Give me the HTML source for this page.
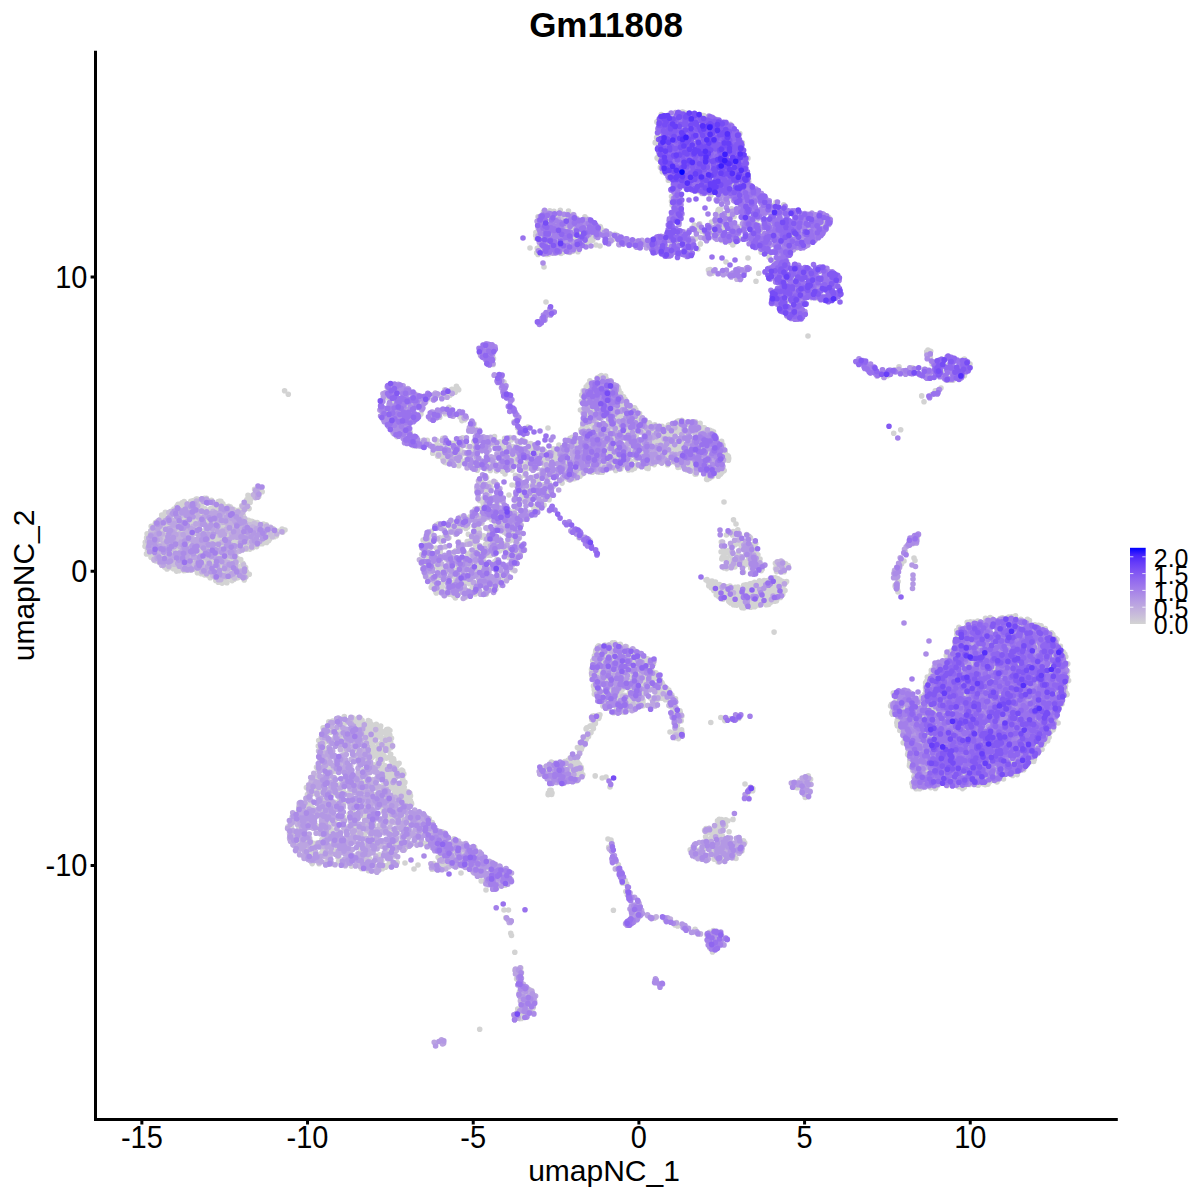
<!DOCTYPE html>
<html><head><meta charset="utf-8"><title>Gm11808</title>
<style>
html,body{margin:0;padding:0;background:#fff;width:1200px;height:1200px;overflow:hidden}
svg{position:absolute;left:0;top:0;display:block}
text{font-family:"Liberation Sans",Arial,Helvetica,sans-serif;fill:#000}
.d{fill:none;stroke-linecap:round}
</style></head><body>
<svg width="1200" height="1200" viewBox="0 0 1200 1200">
<defs><linearGradient id="cb" x1="0" y1="1" x2="0" y2="0"><stop offset="0.00" stop-color="#D3D3D3"/><stop offset="0.10" stop-color="#CAC0D9"/><stop offset="0.20" stop-color="#C1AEDE"/><stop offset="0.30" stop-color="#B69CE3"/><stop offset="0.40" stop-color="#AA89E7"/><stop offset="0.50" stop-color="#9D77EC"/><stop offset="0.60" stop-color="#8E65F0"/><stop offset="0.70" stop-color="#7C51F4"/><stop offset="0.80" stop-color="#673DF8"/><stop offset="0.90" stop-color="#4926FB"/><stop offset="1.00" stop-color="#0000FF"/></linearGradient></defs>
<path class="d" stroke="#D3D3D3" stroke-width="5.6" d="M230.5 565.8h0M615.3 676.5h0M440.3 549.8h0M764.9 584.9h0M1049.2 654.1h0M290.5 830.2h0M458.8 589h0M476.3 549.8h0M602.1 666.1h0M989.9 681.4h0M959.3 719.7h0M566 224.8h0M643.4 683h0M457.2 529.5h0M1052.3 666.9h0M976.2 699.9h0M691 141.3h0M700.6 143.5h0M934.5 743.9h0M629.6 653.3h0M531.6 990.5h0M613.6 239.3h0M680.9 423h0M941.5 739.8h0M575.2 227.6h0M161.1 532.3h0M730.5 847.5h0M1013.9 674.7h0M642 666.9h0M743.9 272.8h0M945.4 676.4h0M997.3 767.6h0M929.8 764.4h0M213.5 539.7h0M183.5 547.3h0M453.3 559.5h0M914.2 732.2h0M189.6 542.2h0M698.1 226.1h0M712 581.1h0M593.9 724.5h0M933.9 365.5h0M545.3 492.2h0M721.1 225.7h0M202.2 563.4h0M513.6 511.8h0M527.5 502.1h0M900.1 693.2h0M596.6 411.8h0M505.8 917.7h0M431.3 531.2h0M769.6 267.7h0M431.2 587.2h0M666.2 446h0M251.3 545.9h0M1031.9 728.8h0M725.2 826.2h0M591.6 433h0M646.1 661h0M995.7 776.6h0M1052.8 634.5h0M973.2 666.5h0M175 542.9h0M704.8 189h0M996.9 737.9h0M949.9 675.3h0M669.3 151h0M637.9 418.7h0M1030.7 717.8h0M501 540.6h0M774.9 601.2h0M504.6 438.2h0M680.8 458.2h0M700.8 444h0M234.3 543h0M902.3 693.8h0M946.6 664.1h0M486 572h0M730.8 602.9h0M988.7 635.1h0M396.8 863.3h0M718.6 837.5h0M1019.3 740.5h0M362.8 731.9h0M518.4 499.9h0M983.7 627.3h0M366.7 849.4h0M189.6 511.3h0M554.1 252.9h0M1062.5 696.2h0M575.4 458.6h0M624 712.2h0M600.8 228.2h0M372.9 746.4h0M609.2 676.7h0M521.7 496.7h0M365 735.7h0M644.9 442.9h0M320.2 765.6h0M671.5 201.2h0M537.8 237.3h0M584.3 433.6h0M602.5 472.3h0M214.2 563.5h0M145 546.3h0M504 382h0M715.7 587.7h0M802.4 244.6h0M707.5 467.2h0M467.3 849.3h0M464.6 594h0M238.6 510.4h0M378.9 844h0M661.4 694.6h0M239 529h0M762.9 594.5h0M1018.6 771.2h0M161.9 515.9h0M578 251.7h0M544.8 466.6h0M525.7 441.9h0M208.4 541.4h0M598.7 645.8h0M981.6 679h0M359.1 725.6h0M173.3 560.7h0M508.5 910h0M299.3 841h0M560.7 223h0M1022.4 644.1h0M773.5 221.4h0M585.3 220.7h0M981.5 625.3h0M692.5 180.9h0M758.4 562.3h0M977.7 767.9h0M941.9 736.8h0M897.1 725.1h0M403.8 783.1h0M521.8 1001.5h0M1021.9 761.3h0M1010.3 659.9h0M682.4 231.9h0M488.3 874.6h0M939.8 678.4h0M678.8 447.2h0M552.1 243h0M606.5 380.3h0M600.9 648.1h0M562.2 783.6h0M1037.2 650.1h0M539.4 460.4h0M663.3 430.8h0M926 761.3h0M593.8 434.2h0M649.3 422.9h0M163.4 541.5h0M919.3 728.9h0M748.2 187.9h0M611.7 691.9h0M677.2 116h0M659.5 679.5h0M338.1 831h0M593.2 675.5h0M682.9 112h0M408.6 399.5h0M968 711h0M612.1 695.3h0M355.1 783.3h0M629.5 408.2h0M683.6 140.3h0M246.4 544.1h0M985.2 691h0M331.5 863.9h0M960.3 737.4h0M572.6 230.9h0M245.3 507.3h0M616.1 464.5h0M713.3 434.2h0M896.8 722.8h0M1036.3 710.4h0M950.2 732.3h0M548 428h0M492 506.2h0M622.9 459.3h0M600.1 230.4h0M523.6 471.1h0M1011.8 684.2h0M314.1 857.1h0M728.7 129.5h0M548.8 254.1h0M509.9 540.8h0M717 846.8h0M958.4 681.9h0M688.1 464.8h0M928.5 732.2h0M1009 670.8h0M403.8 849.7h0M786.1 259.6h0M998.4 684.6h0M644.1 453.8h0M213.4 568.1h0M230.4 554.5h0M969.7 670.4h0M956.2 680.4h0M719.8 162.9h0M1019 760.3h0M928.5 687.4h0M517.8 521.4h0M611.5 405.5h0M604.8 672.1h0M750.5 537.9h0M1019.3 627.4h0M1008.7 748h0M379.3 795.4h0M942.5 666h0M648.2 468.4h0M953.6 743.6h0M1034.2 659.7h0M241.8 568.6h0M660.2 236.8h0M676.1 424.9h0M194.5 518h0M202.2 553.2h0M946.7 680.7h0M742 842.2h0M947.5 744.5h0M664 434.7h0M172.6 535.7h0M186.5 549.3h0M391.3 785.4h0M562.3 249.8h0M744.8 602.3h0M1038.7 629h0M678.6 456.1h0M977.8 652.8h0M1049.2 662.4h0M157.2 521.5h0M970.7 726.7h0M1004.5 762.5h0M470.7 446.5h0M582.6 443.4h0M677.6 925.9h0M712.9 435.7h0M565.9 468.7h0M334.7 823.9h0M984.5 659.2h0M949 762.6h0M572.7 760.3h0M380.4 776.1h0M589.9 389.6h0M232.5 540.1h0M396.9 436.6h0M674.9 722.2h0M576.9 228.5h0M673 711.8h0M426.2 539.7h0M1014.7 690h0M174.2 556.9h0M974.5 779.7h0M1004.8 773.3h0M578.1 453.8h0M1032.8 683.8h0M1019.2 667.5h0M701.4 461.9h0M617.3 663.9h0M244.2 579.9h0M1023.9 683.4h0M174.2 544.6h0M741.2 161.7h0M667.9 461.3h0M232.3 520.6h0M979.2 656.6h0M449.4 571.2h0M971 664.6h0M1062.5 694.7h0M436.6 415h0M951.1 769.9h0M428.3 551.5h0M705.7 466.4h0M905.7 711.9h0M211.1 510.2h0M775.9 578h0M646.4 676h0M567.6 440.2h0M398.7 788.8h0M490.7 874h0M1013.5 760.7h0M580.5 773.2h0M514 421.7h0M930.3 773.3h0M489.1 468.5h0M1042.9 720.8h0M312.3 845.9h0M728.8 601.3h0M339 718.5h0M913.8 370.1h0M490 461.2h0M949 658.2h0M666.2 444h0M504 532.3h0M1038.2 638.1h0M558.2 449.7h0M954.7 722.2h0M721.8 559h0M619.7 410.3h0M537.7 484.9h0M932.9 718.8h0M745 784h0M987.7 685.4h0M229.6 512.3h0M561.6 220.5h0M194.5 548.8h0M359.5 856.1h0M592.7 660.8h0M764 600.6h0M661.3 114.6h0M623.9 653.3h0M332.2 721.2h0M671.2 147.6h0M178 514.2h0M654.9 424.7h0M179.8 561.3h0M148.5 542.5h0M1067.8 663.8h0M665.7 252h0M991.2 743.5h0M564.8 761.6h0M624.1 404.8h0M388.8 851.7h0M610.2 651.9h0M498.1 563.6h0M725.4 270.6h0M258.4 543.5h0M963.7 764.3h0M951.3 706.3h0M146.8 537.9h0M479.2 458h0M589.9 380.8h0M203.6 516.1h0M508 548.7h0M1004.2 706.8h0M381.6 807.1h0M409.9 793.4h0M218.9 516.7h0M938.7 764h0M1047.5 649.9h0M776.5 244.6h0M599.7 648.7h0M596 245h0M379.8 844.2h0M726.8 222.8h0M549.1 499.8h0M193.7 533.1h0M997.5 710.2h0M422.2 563.8h0M988 784.1h0M607.9 423h0M769.2 257.5h0M422.5 834.6h0M928.5 352.9h0M165.7 544h0M469.2 567.1h0M209 538.2h0M998.9 755.7h0M212.7 549.5h0M946.2 721.4h0M1056.6 688.4h0M981.8 654.3h0M1032.6 717.9h0M572.5 463.8h0M914.1 740.3h0M445.1 413.7h0M714.2 234h0M323 811.6h0M598.7 715.1h0M201.1 522.9h0M620.4 441.7h0M445.3 538h0M344.9 819.6h0M594.9 674.6h0M693.5 458.6h0M691.3 252.3h0M632.2 448.8h0M630.9 461h0M460.8 548.9h0M959.7 674.7h0M1000.2 620.7h0M1013 727.1h0M568.9 463.6h0M564.6 234.2h0M626.1 421.8h0M604.3 409.7h0M606.7 406.1h0M391.8 861.8h0M291.5 827h0M1050.4 705.4h0M513.5 531.4h0M610.2 428.4h0M988.1 644.3h0M699.3 189.1h0M674.2 723.1h0M910.9 706.6h0M181 526.2h0M156.1 557.4h0M658.8 123.5h0M931.6 770.3h0M560.7 470.3h0M547.1 219.4h0M926.5 774.2h0M674.8 452.7h0M585.2 441h0M529.5 458.8h0M719.5 822.6h0M634.7 452h0M185.5 527.2h0M578.9 468.7h0M191.1 517.8h0M249.8 501.9h0M481.6 482.4h0M1020.4 735.9h0M722.3 557.6h0M704.5 127.9h0M968 762.9h0M432.2 822.5h0M714.6 589.4h0M157.2 543.3h0M985.4 716.5h0M954 726.3h0M583.4 245.1h0M1029.9 645.9h0M736.3 716h0M948.6 656.6h0M319.7 756.6h0M1059.2 669h0M474.2 849.8h0M995.8 765.1h0M691.4 139.4h0M1065.4 681.5h0M619.5 688.2h0M627.4 421.1h0M239.7 512.2h0M601.2 647.5h0M696.6 426.2h0M514.4 515.3h0M1015.7 690.4h0M1000.1 618.5h0M681.6 427.6h0M559.6 214.2h0M996.9 773h0M228.1 530.4h0M710.8 438.6h0M908.1 698.8h0M642.5 677.2h0M715.5 176.6h0M201.8 562.8h0M463 551.5h0M429.2 579.1h0M373 811.2h0M601 665.9h0M1039.4 750.4h0M509.5 548h0M593.9 234.7h0M911.2 703.9h0M727.8 553h0M1042.4 733.4h0M979.4 625.3h0M680.5 123.2h0M182.6 549h0M569.1 224.6h0M221.3 537.2h0M239.7 543.5h0M325.2 848.8h0M593.3 230.1h0M998.5 731.9h0M485.7 537.6h0M445.2 413.6h0M552.2 216.3h0M1029.4 679.9h0M1021.6 636.4h0M454.6 590.4h0M196.5 525.3h0M972.2 680.9h0M688.4 453.7h0M914.8 704.9h0M518.9 464h0M733.1 177.1h0M593.7 436h0M244.3 529.1h0M635.4 445.8h0M461.1 544.5h0M716.1 453.3h0M432 869.2h0M769.7 597.3h0M730.9 124.7h0M629.3 671.6h0M717.8 448.2h0M459.3 449h0M717 850.5h0M565.3 770.2h0M235.3 537.6h0M608.5 648h0M520.6 975.2h0M699 441.7h0M721.8 225.2h0M539.6 502.4h0M746.6 163.5h0M178.2 567.1h0M618 404.5h0M995.1 626.4h0M189.8 540.9h0M995.5 670.4h0M782.6 593.4h0M343.2 738.3h0M734.1 216.8h0M1015.7 729.8h0M984.5 672.9h0M774.9 585.3h0M501.7 461.9h0M1042 699.2h0M718.2 837.5h0M637.8 900.6h0M350.1 790.3h0M598.1 388.7h0M970.6 663.5h0M251.8 521.4h0M972 684.5h0M916 780h0M1020.9 717.7h0M396.4 809.4h0M725.7 825.7h0M935.9 776.8h0M488.9 542.7h0M1025.8 626.8h0M588.8 225.4h0M682.4 160.6h0M998.5 769.2h0M170.2 551.5h0M379.6 762.9h0M930.5 722.7h0M955.5 654.3h0M287.9 826.7h0M1007 768.7h0M220 569.5h0M1022.6 667.3h0M976.4 765h0M1017.9 671.5h0M962.8 757.1h0M173.3 527.8h0M198.1 556.8h0M1052.9 656.2h0M549 497.3h0M162.3 560.2h0M668.9 122.3h0M764.3 594.1h0M261.1 543h0M931.4 768.5h0M622 401.8h0M344 842.4h0M741.2 548.6h0M194.8 504.9h0M276.5 531.5h0M982.2 756.2h0M908.9 702.8h0M704.2 842.4h0M240.7 559.5h0M784.1 571.7h0M925 702.1h0M521.6 1014.8h0M196.5 552.6h0M712.8 445.2h0M572.9 774.1h0M775.9 202.2h0M1014.2 632.1h0M236.3 525.6h0M688.8 254.3h0M475.4 429.1h0M625.8 465.5h0M418.7 829.9h0M1024.8 708h0M797.5 270.5h0M674.9 443.2h0M466.4 591.4h0M326.6 769.9h0M1031.3 722.1h0M1023.7 769.7h0M1013.9 729.4h0M1009.2 622h0M431.4 540.9h0M168.1 526.6h0M461 873h0M786.9 316.1h0M434.1 839h0M324.4 761.2h0M201.5 552.7h0M559.9 774.4h0M251 526h0M608.3 708.1h0M434 447h0M1008.2 726.2h0M952 776.5h0M699.7 223.9h0M586 431.2h0M513 446.6h0M435.1 446h0M471 456.2h0M680.5 137.3h0M679.2 420.9h0M602.8 408.1h0M346.8 837.5h0M595.4 673.2h0M458.8 465.7h0M620.7 469h0M686.9 140h0M727.8 586.9h0M388.4 829.9h0M444.8 843.7h0M585.7 391.7h0M1006.2 724.3h0M965.4 763.9h0M590.2 423.6h0M714.6 935.1h0M366.5 762.5h0M995.8 657.6h0M1008.7 617h0M651.8 672.3h0M1046.6 698h0M670.3 429.3h0M581.7 395.1h0M1045.8 685.9h0M351.7 805.2h0M499.3 525.3h0M938 785.1h0M1007.1 713h0M386.5 733.4h0M473.8 441.6h0M475.2 513.8h0M207.4 501.9h0M1013.9 718.6h0M698 458.8h0M322.5 750.9h0M458.6 541.9h0M1026.5 687.8h0M726.7 586.8h0M592 417.3h0M182.1 502.9h0M753.8 245.6h0M986 689.2h0M368.1 779.3h0M1001 694.8h0M733 819.4h0M960.5 657.3h0M488.1 345.2h0M382.6 746.2h0M926.7 687.3h0M749.5 593h0M206.2 528.3h0M588.7 460.4h0M777.2 587.4h0M693.8 115h0M1064 674.3h0M808.3 775.8h0M1013.7 759.7h0M963 690h0M524 496.8h0M249.9 536.1h0M470.6 516.4h0M942.8 687.8h0M471.1 540h0M968.7 697.6h0M939.3 687.4h0M980.3 777h0M352.5 833.7h0M913.5 715.1h0M424.1 566.3h0M208.2 568.4h0M706 239.4h0M570.4 238.8h0M637.5 704.9h0M932.5 725.1h0M1010 700.4h0M719 588.6h0M600 227.8h0M1002.1 751.1h0M602.2 454.4h0M955.7 708.9h0M721.6 441.4h0M1019 765.5h0M747.3 543.8h0M1032.8 632.4h0M752.8 788.5h0M967.9 707.5h0M946.3 684.4h0M580.1 534.6h0M724.8 236.1h0M727.9 597.9h0M778.4 223.7h0M191.2 516h0M379.4 755.3h0M389.4 862.7h0M1063.7 677.9h0M584.7 225.4h0M1028.5 631.6h0M635.6 432.1h0M707 579.6h0M516.9 420.7h0M620.8 393.3h0M737.1 594.1h0M226.8 522.8h0M444.6 462.3h0M1024.3 679.3h0M358.1 860.6h0M941.6 359.1h0M211.3 550.5h0M1006.5 766.3h0M792.5 287.7h0M452.6 554h0M174.5 550.4h0M932.7 705.9h0M1057.3 665.9h0M965 660.4h0M922.4 700.5h0M748.5 559.4h0M1030.8 735.1h0M372.1 745.1h0M386.2 808.7h0M985.8 639h0M235.9 573.7h0M593.9 416.3h0M592.5 393.1h0M635.9 685.8h0M722.1 464.8h0M996.7 779.7h0M1043.7 729.1h0M1036.9 638.8h0M628.6 445.6h0M385.1 765.9h0M638.2 420.4h0M1014.3 705.9h0M371.1 724.1h0M332.7 721.1h0M936.3 701h0M753.5 563.5h0M910.3 373.1h0M601.5 468.2h0M589.2 456.3h0M599.7 228.9h0M204.8 568.9h0M164.2 519.9h0M595.6 463.1h0M951.5 772.6h0M1047.3 723.5h0M603.3 464.3h0M552.2 252h0M401.9 794.1h0M618 397.1h0M631.6 435.5h0M1036.7 731.2h0M366.2 859.7h0M1039.6 643.6h0M1012.1 682.6h0M618.8 436.1h0M949.8 762.7h0M793.1 241.5h0M503.4 519.6h0M162 539.2h0M997.5 684.9h0M389.8 788.8h0M506.2 879.2h0M1032.3 734.6h0M904.5 711.3h0M356.4 777.8h0M678.7 460.6h0M921.3 755.5h0M741.8 607.6h0M437.1 447.8h0M1010.1 748.8h0M974.2 632.7h0M997 778.2h0M1021 681h0M955.1 726.8h0M925.9 744.2h0M337.5 736.3h0M602.1 464.4h0M975.6 733h0M521.2 546.9h0M1048.8 725.3h0M741.9 851h0M919.6 732.6h0M552.7 233.8h0M972.1 713.4h0M765.7 591.9h0M724.6 234.8h0M605.6 376.1h0M193.4 517.3h0M990.8 731.8h0M1005.6 701.2h0M244.3 535.9h0M600.5 392h0M983 709.2h0M218.4 518.5h0M228.4 574.5h0M422.4 560.9h0M453.6 840.6h0M180 549.1h0M705.1 442.8h0M935.7 673.4h0M942.6 668.7h0M335.9 819.1h0M158.3 543.1h0M1002.9 670.4h0M924.2 776.4h0M682 117.9h0M997.6 628.3h0M646.9 430.7h0M715 164.3h0M584.1 400.7h0M711.4 475.9h0M620.5 469h0M1060.1 689.3h0M676.2 428.7h0M680.6 179.8h0M224.5 564h0M1063.3 680.8h0M982.8 670.4h0M715.7 826.7h0M1016.4 763.2h0M701.3 450.5h0M627.7 652.9h0M978.7 701.1h0M259.1 530.2h0M226.9 582.7h0M220.8 563.1h0M368.5 742.5h0M526.1 1013.6h0M953.1 743h0M1052 674.6h0M348.6 743.9h0M777.2 213.8h0M690.4 429.5h0M451.3 576.2h0M371.6 832.3h0M977.2 768.9h0M494.7 506.7h0M929.5 709.4h0M750.4 594.8h0M628.8 707.2h0M203 539.6h0M360.9 775.7h0M782.7 562.1h0M1054.6 666.1h0M689.2 169.3h0M982.2 646.7h0M762.7 601.5h0M726.7 843.3h0M662.7 168.5h0M245.6 567.6h0M750.2 600h0M979.1 735.9h0M1025.2 626.8h0M369.9 723.9h0M975.5 711.5h0M588 460.6h0M608.8 697.3h0M732.9 140.8h0M626.6 404.9h0M631.4 656h0M967.2 622.2h0M597.2 453.9h0M619 458.9h0M900.8 729.7h0M953.1 380.1h0M929.3 731.1h0M388.7 782.1h0M427.8 578.6h0M655.9 438.3h0M948.3 779.4h0M466.5 459.2h0M719.9 467.3h0M573.7 218.8h0M342.9 748.3h0M489.9 545.5h0M724.7 720.6h0M612.3 432.3h0M992.5 715h0M201.9 534.4h0M927.8 775.9h0M194.9 509.9h0M749.1 587.6h0M986.4 781.6h0M371.2 738.6h0M987.2 692.3h0M676.2 452.5h0M573.9 461.4h0M735 598.2h0M1029.4 757.3h0M247 530.1h0M617.7 668.6h0M748.2 175.2h0M641.9 428.8h0M668.3 129.3h0M586.2 739.6h0M720.3 447.5h0M750.2 552.1h0M402.5 780.8h0M984 731.1h0M457.8 388.5h0M600.7 458.3h0M757.8 586.6h0M710.5 830.8h0M898.6 724.7h0M401.7 770.1h0M1022.8 663.3h0M223.6 551.4h0M936.6 390.9h0M596.7 423.8h0M1041.8 631.6h0M1007.6 658.5h0M699.2 438.7h0M705.1 848.1h0M447 565.8h0M788.6 243.7h0M563.2 470.5h0M1014.4 651.3h0M704.4 116.6h0M969.6 674.7h0M1043.6 705.8h0M1027.5 708.4h0M899.8 730.5h0M176.7 539.4h0M442.3 855.5h0M629.7 449.2h0M678.4 738.6h0M597.5 378h0M698.5 435.5h0M661.3 682.7h0M377.2 773.2h0M769.9 586.9h0M477.3 464.6h0M1011.9 675.1h0M642.6 423.2h0M581.8 462.2h0M248.6 538.7h0M744.6 565.1h0M389.2 797.4h0M576.9 776.6h0M1038.3 692.1h0M735.2 587.2h0M922.8 732.6h0M607.4 404.3h0M1022.8 671.6h0M723.4 459.6h0M460.6 459.4h0M619 397.3h0M464.1 453.4h0M704.7 451.7h0M752.7 790.8h0M571.7 464.8h0M571.1 477.1h0M724.6 139.6h0M1034.9 624.9h0M313.8 809.5h0M582.9 746.1h0M354.8 723.7h0M402.3 843.1h0M689 447.5h0M668.1 447.6h0M434.6 566.2h0M455.9 388.7h0M990.7 721h0M1024.5 723h0M866.5 367.4h0M524.8 475.5h0M438.1 833.2h0M916.1 788.8h0M403.7 402.6h0M954.4 763.5h0M700.1 192h0M454.7 562.7h0M400 791.2h0M557 216.5h0M494.4 540h0M916.8 769.6h0M963.3 647.8h0M699.1 858h0M213.8 549.3h0M646.7 435.7h0M445.3 454.4h0M532.6 497.7h0M600.5 426.8h0M634.2 700.5h0M362.1 797.4h0M929.4 764.5h0M206.2 512.3h0M610.2 446.4h0M771.3 205.3h0M581.8 466.9h0M706.3 429.7h0M507.3 543.5h0M719.9 591.9h0M179.2 542.1h0M626.5 447.5h0M475.6 582.9h0M609.2 703.9h0M959.2 729.3h0M950.6 780.6h0M805.8 785.6h0M458.5 566.1h0M394 405.3h0M640.5 680.3h0M971.5 768.6h0M690.2 849.9h0M215.8 580.4h0M404.9 782.4h0M1002.4 617.7h0M619.8 663h0M699.4 185.3h0M695 427.9h0M572.9 476.2h0M624.6 703.8h0M511.7 516.6h0M999.6 665.9h0M533.3 1007.6h0M504.1 544.4h0M251.5 528.9h0M1001.8 627.3h0M403.4 790.7h0M292.6 816.8h0M383.1 747.4h0M712.5 951.9h0M343.7 803.6h0M751 606.2h0M904 561h0M475 510.8h0M488.3 505.1h0M173.6 554.6h0M1010 645.4h0M1000.8 689.9h0M628.6 470h0M904.2 697.6h0M780.7 227.9h0M724.8 591.9h0M219.1 580h0M1020.8 619.3h0M220.9 501.2h0M436.4 525h0M976.4 642.3h0M329.1 857.9h0M520.9 449.9h0M662.4 452.5h0M700.9 426.9h0M375.6 733.6h0M789.3 248h0M964 730.4h0M1023.4 670.4h0M633.6 673.8h0M232.7 541.5h0M951.8 774.2h0M490.2 484.4h0M250.9 547.8h0M629.7 655.3h0M202.8 508.5h0M227.6 508.8h0M646.6 428.8h0M374.1 741.7h0M758.9 589.6h0M609.2 417.4h0M898.6 701.8h0M961.8 764h0M388.1 832.8h0M742.4 164.9h0M757.2 240.4h0M991.4 693.8h0M598.3 387.5h0M211.5 500.2h0M725.6 200.4h0M688.1 185.7h0M600.1 649.4h0M480.1 564h0M1042.3 726.7h0M180.1 543.3h0M174.3 552.5h0M980 687.2h0M354.9 820.9h0M746 584.9h0M733.5 519.8h0M205.1 549.2h0M593.8 715.8h0M549.3 464.4h0M507.4 533.2h0M678.5 134.1h0M426.6 555.8h0M582.6 473.7h0M662.3 171.7h0M648.8 669.9h0M713 141.9h0M434.3 448.4h0M596.9 413.8h0M225.4 566.7h0M464.7 858.3h0M200 565h0M607.7 660.3h0M315.6 858.7h0M1038.6 655.3h0M759.6 600.1h0M659.5 136.5h0M696.1 472.3h0M245.1 504.1h0M191.4 543.6h0M1001.6 621.5h0M776 228.3h0M615.7 679.7h0M1011.9 637.3h0M702.5 455.5h0M689.8 448.6h0M910 692.5h0M737.1 151.1h0M597.6 716.5h0M557.4 230.2h0M893.3 693.1h0M973.2 760.4h0M736.2 152.7h0M945.4 690.4h0M1052 693.4h0M158.2 531.9h0M734.1 603.8h0M580.2 747.3h0M781.9 301.6h0M945.5 661.5h0M707.9 859.3h0M1018.1 654.2h0M573.4 449.6h0M975.9 739.2h0M947.2 699.1h0M336.5 721.9h0M937.1 739.5h0M514.5 1016.7h0M644.6 421h0M637.2 671.4h0M176.8 527.9h0M537.3 238h0M734.9 178.7h0M717.5 187h0M962.5 788.6h0M666.7 435.4h0M494.9 497.9h0M1005.1 662.1h0M656.3 447.9h0M524 1009.8h0M596 448.4h0M717.4 136h0M1009.7 643.9h0M351.2 735h0M506.2 533.6h0M325.7 809.3h0M971.8 645.5h0M1059 653.3h0M1037.2 667.8h0M267.2 531.4h0M986.3 646.6h0M781.1 585.7h0M227.8 565.2h0M387.8 740h0M937.2 746.1h0M968.9 770.6h0M745 209.5h0M334.6 802.3h0M459.8 530h0M1039.8 731h0M601.5 394.4h0M935.6 737.2h0M999 707.4h0M237 523.6h0M705.3 844.3h0M606.6 413.2h0M389.2 815.9h0M670.3 123.1h0M514.3 540.2h0M775.9 591.2h0M749.2 192.3h0M651.2 243.6h0M227.7 537.1h0M343 852.4h0M616.4 435.1h0M1018 746.9h0M664.9 443.6h0M481.7 514.3h0M628.4 433.1h0M375.4 818.1h0M541.6 240.9h0M718.3 220.2h0M474.6 847.3h0M1034.5 664.2h0M1029.3 692.1h0M918.5 762.9h0M1033.6 748h0M935.9 719.9h0M571.6 454.5h0M723 585.7h0M643.7 422.3h0M915.6 732.2h0M966.1 683.9h0M582.6 235.4h0M745.5 603.9h0M1031.7 708.5h0M636.3 435.8h0M211.1 546.8h0M1059.2 692.9h0M610.4 693.3h0M1067.4 676.6h0M510.6 920.8h0M383.2 811h0M152.2 532.9h0M650.5 425.1h0M681.7 424.3h0M402.1 811.6h0M696.5 145.1h0M600 691.3h0M517.2 524.8h0M1002.5 735.3h0M1000.5 757.5h0M796.7 783.5h0M634 692.5h0M309.7 838.2h0M653.4 672.3h0M164 553.1h0M504.2 522.3h0M957 646.1h0M657.6 699.3h0M600.6 398h0M388.5 731.6h0M1025.7 646.1h0M682.3 232.3h0M727.2 153.4h0M212.5 558.4h0M585.9 416.5h0M986.6 687.1h0M640.2 665.6h0M710.7 946.4h0M940.9 713h0M216.9 541.2h0M744.5 599.7h0M977.1 650.6h0M958 686.2h0M1059.6 695.2h0M926.6 707.2h0M230 532.4h0M708.8 189.7h0M714.4 191.7h0M341.1 770.6h0M349 844.4h0M516.5 485.8h0M742.4 542.3h0M923.3 730.8h0M586.7 445.9h0M595.6 437.7h0M225.7 573.1h0M664 451.4h0M661.7 690.5h0M556.8 471.1h0M697.4 456h0M656.5 450.9h0M619.3 436.7h0M1035.7 650h0M673.2 241.6h0M644.7 420.4h0M966.2 689.3h0M960.3 370.8h0M618.1 387.4h0M1007.9 745.1h0M384.6 820.4h0M333.4 803.3h0M506.1 873.6h0M506.3 875.3h0M362.1 720.3h0M635.7 459.2h0M635.5 441.4h0M524.4 496.9h0M237.6 517.8h0M728.4 456.5h0M289.5 833.3h0M264.4 524.6h0M938.9 783.8h0M561.9 450.6h0M436.2 548h0M262.2 543.7h0M685.9 424.8h0M590.5 464.9h0M968.4 688h0M987.9 753.5h0M173.9 539.2h0M635.9 684.1h0M572.7 248.8h0M331.2 815.1h0M599.9 457.2h0M752.6 544.5h0M261.4 490.2h0M617.6 701.2h0M1010.1 669.5h0M714.1 850.4h0M826.7 298h0M970.5 662.5h0M926 775.2h0M545 248.2h0M780 593.8h0M1021.2 676.7h0M202.5 554.9h0M1029.8 643h0M1056.1 707.1h0M386.2 809.3h0M992.9 751.2h0M703.2 468.2h0M214.7 547.7h0M335.6 780.3h0M957.3 745.8h0M605.8 681.2h0M678.1 466.2h0M1000.3 637.4h0M989.3 782.1h0M947.4 765.9h0M444.7 557.6h0M940.8 704.3h0M368.3 870.6h0M962.2 677.7h0M225.2 529.4h0M695.1 474.1h0M453.3 526.6h0M1031.5 636.6h0M693.8 427.9h0M670.9 175.5h0M639.1 672.8h0M683.4 421.9h0M675.1 924.9h0M994.7 711.9h0M627.7 452.4h0M424 843.4h0M945 690.9h0M324.8 761.2h0M388.3 412.6h0M449.9 591.7h0M603.3 424.9h0M942.2 363.2h0M995.4 741.8h0M205.5 499.1h0M233.4 509.4h0M581.4 741.9h0M915.7 721h0M407.5 799h0M914.7 768.8h0M987 694.2h0M572.9 768.3h0M929 686h0M634.8 919.4h0M1055.1 703.6h0M970.7 774.9h0M799.7 780.6h0M341.5 779.2h0M676.4 172h0M174.9 543.5h0M318.6 827.6h0M942.5 687.4h0M322.8 789.3h0M315.2 859.5h0M975.9 650h0M694 188.2h0M965.6 768h0M579.4 751.5h0M567.6 468.1h0M641.3 658.3h0M644.6 692.8h0M208.1 511.1h0M626 680.3h0M655.1 677.2h0M1052.4 705.5h0M563.1 247.9h0M726.1 167.1h0M197.4 542.4h0M918.8 783.7h0M610.3 664.9h0M772.7 293.8h0M555.7 226.5h0M618.9 449.3h0M209 563.3h0M199.4 546.3h0M616.9 468.3h0M753.6 550.6h0M671.1 162h0M794.2 276.7h0M951.4 740.4h0M750.7 607.3h0M680.6 124.1h0M235.8 559.9h0M1036.1 656.7h0M189.4 521.5h0M318.3 746h0M216.9 579.4h0M993.8 732.2h0M998.4 729.9h0M532.6 479.5h0M543.7 460.7h0M697.5 155.6h0M935 773.9h0M479.5 561.8h0M775.3 577.9h0M1037.5 713.3h0M233.2 579h0M188 542.5h0M926.7 351.7h0M960.2 676.9h0M821.5 234.8h0M786 248h0M1019.4 640.6h0M729.9 602.2h0M182.1 513.7h0M597.1 392.1h0M978.2 640.5h0M980.5 738.5h0M729.3 188.7h0M700.2 179.6h0M487.9 438.7h0M366.7 728.1h0M922.5 744.9h0M301.5 844.1h0M616.4 393.7h0M685.5 445.8h0M748 258h0M391.7 796.8h0M249.3 525h0M604.1 693.1h0M739.8 133.6h0M1017.6 632.4h0M601.5 667.3h0M996.1 634.2h0M679.8 466.9h0M209.8 571h0M746.7 221.4h0M693.9 466.8h0M457.1 529.9h0M649.5 461.7h0M624.3 704.5h0M975.8 722.3h0M222.4 566.1h0M584.9 463.2h0M321.1 791.7h0M976.3 771.6h0M697.8 429.7h0M1040 681.1h0M395.3 778.6h0M952.2 701.3h0M1010.8 625.2h0M925.6 682.7h0M244.3 534h0M932.1 782.7h0M900.7 702.9h0M206.4 531.5h0M612.7 397.2h0M306.9 806.2h0M1042.1 712.2h0M923.9 754h0M652.1 681.8h0M570.8 231.8h0M438.1 561.6h0M623.4 435.2h0M337.1 718.8h0M605.3 674.5h0M163.7 560.9h0M455.9 550.6h0M993.6 738.2h0M684.7 112.7h0M369 758h0M310.4 857.4h0M980.9 626.4h0M747.4 794.4h0M399.2 823h0M456.1 854.9h0M742.4 596.5h0M223.1 525.9h0M800.7 783.1h0M607.6 699.8h0M226.8 516.9h0M722.7 551.5h0M658 684.8h0M694.7 444.7h0M1008 662.7h0M925.8 774.8h0M450.2 443.1h0M908.5 741.3h0M948.7 775.1h0M956.2 677.3h0M671.5 447.9h0M594.6 419.6h0M337.3 848h0M453.7 595.8h0M593.1 231.3h0M399 842.1h0M982.6 685.2h0M937.9 725.7h0M753.6 606.7h0M926.3 715.1h0M1041.8 634.1h0M597.8 401h0M389.1 777.6h0M360.3 847.8h0M242.3 508.8h0M604.2 648.5h0M565.7 217.8h0M594 468h0M387.6 783.5h0M163.1 540h0M740.4 542.2h0M190.2 556.2h0M164.6 523.3h0M601.5 413.3h0M919.3 740.3h0M604.5 702.4h0M738 554.4h0M625.7 701.6h0M479.2 529.3h0M921.9 718.3h0M608.4 647.2h0M507.4 874.1h0M934.5 708.4h0M502.1 885.6h0M898 592h0M723.9 555.5h0M607.3 394.4h0M181.1 519.7h0M948.2 704.7h0M166.9 513h0M690.1 177h0M469.5 865.9h0M503.5 520.7h0M381.2 737.4h0M585.3 416h0M315.3 828.1h0M394.8 803h0M409.2 827.7h0M917.3 760.7h0M698 432h0M1030 688.3h0M707.3 855.5h0M592.4 462.3h0M747.8 594.3h0M617.1 672.7h0M573.4 442h0M986.8 678.3h0M454.1 838.8h0M1026.9 701h0M983.3 746.6h0M1003.7 757.1h0M406.3 795.3h0M547.5 485.5h0M1038.4 689.8h0M167.9 535.3h0M633.5 444.1h0M475.6 542h0M591.2 235.9h0M175.4 532.6h0M720.6 474.1h0M577.8 756.6h0M251 529.6h0M501.7 581.4h0M1002.1 633.8h0M440 537.9h0M706.9 151.5h0M223 569.8h0M215.2 564.3h0M393.2 845.6h0M653.6 452.4h0M681.2 439.4h0M652.6 244.3h0M619.1 464.6h0M504.2 875.9h0M777.6 567.5h0M430.5 821.9h0M662.8 437.7h0M669.4 434.5h0M984.3 653.1h0M997.9 704.7h0M678 467.5h0M996.9 770.1h0M383.5 789.1h0M947.1 764.1h0M155.8 527.2h0M658.5 443.6h0M601.2 455.3h0M1030.2 706.8h0M362.1 725h0M634.1 455.3h0M1004.1 715.1h0M519.8 520.2h0M720.8 717.5h0M1033.7 643.6h0M682.6 455h0M378.9 792.1h0M707.3 178.4h0M454.9 866h0M388 813.9h0M716.2 446.8h0M352.3 717.5h0M684.1 438.7h0M362.8 729.6h0M911.4 762.6h0M745.1 590.7h0M211.7 556.5h0M601.7 412.8h0M1055.7 638.3h0M482.7 509.8h0M258.2 534.6h0M737.6 590.6h0M937.7 777.2h0M931.9 394.6h0M607.5 687.2h0M590.8 444h0M595.5 409.2h0M1023.7 673.7h0M312.9 792.7h0M256.9 497.3h0M558.6 250h0M924 765h0M225.3 532.5h0M588 461.6h0M209 537.3h0M1011.4 646.4h0M472.3 858.2h0M738.6 846.2h0M634.7 662.3h0M472.2 468h0M695.8 126h0M467.1 561.2h0M166.8 563.8h0M586.2 399h0M723.9 455.8h0M949.9 686.6h0M731.7 851.8h0M667 130.9h0M600.7 647.4h0M220.6 563.6h0M381.7 742.2h0M506.9 575.7h0M171.1 536.7h0M450.6 529.6h0M255.7 545.4h0M619 390.4h0M532.6 448.6h0M517.1 448h0M474.6 873h0M238.5 510.6h0M469.4 583.8h0M613.1 420.1h0M985.8 624.9h0M194.2 547.8h0M434.8 526.9h0M566.2 221.4h0M1003.4 722.5h0M988.1 736.8h0M213.4 519.9h0M1025.9 680.4h0M646.7 442.5h0M220 532.8h0M576.7 465.2h0M1015.2 641.3h0M984.5 690.6h0M597.9 427.5h0M645.7 455.6h0M594.2 400.2h0M458.8 577.6h0M948.5 684.5h0M224.6 563.1h0M1004.6 719.1h0M548.4 793h0M502.8 443.5h0M682.4 184.6h0M1028.5 672.3h0M982.1 749.8h0M159.5 548.4h0M695.1 451.3h0M1013.1 769.1h0M568.5 452.6h0M542 235.7h0M624.5 675h0M628.7 688.3h0M595.4 682.8h0M664 687.1h0M644.4 690.5h0M671.8 428h0M699.4 450.7h0M925.6 686.1h0M726.8 562h0M649.7 435.1h0M574.6 762.8h0M372.1 757.6h0M274.8 530.3h0M170.9 552.6h0M160.8 533.2h0M617.1 652.6h0M976 720.4h0M649.9 453.9h0M603.8 674.5h0M943.7 723.2h0M743.5 572.2h0M751.3 605.2h0M725.1 128.9h0M189.6 563.7h0M460.9 574.5h0M1010.9 668.1h0M616.6 439.8h0M997 782h0M799.9 294.9h0M772.8 239.2h0M689.1 430h0M423.2 440.3h0M995.1 744.9h0M913.8 714.7h0M698.3 933.9h0M219.4 524.3h0M219.2 516.7h0M662.9 244.1h0M380.6 802.3h0M554 469.3h0M696.9 445.8h0M761.3 213.7h0M353 841.9h0M624.2 687.2h0M483.5 517.1h0M428.1 550.5h0M249.2 530.8h0M233.5 522.7h0M680.5 446.8h0M987.9 698.2h0M360.9 840.2h0M927.1 702.3h0M698.4 150.9h0M671.9 134.8h0M808.2 794.4h0M714.6 189h0M171.5 560.2h0M523.2 470.8h0M475.6 461.5h0M218.9 568h0M630.8 444.6h0M934.6 756.5h0M633.9 650.1h0M720.9 165.1h0M254.6 522.6h0M158.1 528.4h0M515.7 534.7h0M711.9 431h0M947.7 723.8h0M912.6 367.8h0M462.6 437.8h0M589.4 462.3h0M1023.7 719.8h0M534.1 477h0M675.3 451.8h0M334.6 777.9h0M1025 656.3h0M698.6 131.2h0M384.8 794h0M957.1 714.6h0M607.4 430.9h0M786.9 261.3h0M556.8 245.6h0M558.5 776.2h0M946.4 666.9h0M955 744.8h0M342.2 843.4h0M1003.4 622.3h0M391.9 769.4h0M664.7 146.1h0M573.4 229.9h0M203.1 498.7h0M964.9 696h0M210 513.7h0M670.1 251.7h0M501.9 450.8h0M990.5 660.3h0M446.6 864.8h0M453.5 582.3h0M626.7 414.5h0M534.8 457.8h0M593.3 461.2h0M594.7 407.7h0M432.1 585.4h0M389.8 735.1h0M348.9 829h0M732.9 138h0M728 562h0M973.6 748.5h0M1047.3 640.2h0M630 468.6h0M197.9 527.3h0M974.2 708.8h0M630.5 678.7h0M506.6 458.1h0M486.9 443.8h0M738 587h0M1009.6 691.4h0M490.3 470.4h0M223.4 523.9h0M530.6 492.7h0M213.7 555.2h0M755 556h0M208.9 552.4h0M984.3 741h0M426.7 843.6h0M665.3 920h0M712.7 469.4h0M1031.6 662.2h0M917.7 730.4h0M681.8 157.3h0M662.6 442.1h0M567.6 471h0M901.4 706.4h0M735.4 162.4h0M1052.6 717.7h0M741.6 593h0M740.8 558.1h0M1059.7 666.8h0M562.8 252.2h0M378.3 745.9h0M517.7 1009h0M213.1 576.4h0M215.9 542.4h0M201.3 573.8h0M946.4 699.3h0M688.9 430.5h0M1026.8 729.6h0M467 577.5h0M232.7 517.8h0M684.3 239.2h0M294.5 837.5h0M697.4 432.5h0M686.8 182.8h0M275.5 532.4h0M173.9 560.3h0M439.6 862.8h0M474.2 862.5h0M588 417.2h0M630.2 919.5h0M155.6 522.6h0M928.2 730.6h0M614.9 453.3h0M672.8 244.7h0M897.2 701.5h0M888.3 375.1h0M360.1 724.9h0M581.5 769.1h0M171 511.5h0M700.1 114.5h0M158.3 547.2h0M928 350h0M207.1 501.9h0M192.5 529.3h0M351.4 838.1h0M949.3 380.3h0M605 650.6h0M797.2 787.7h0M675.7 463h0M594.8 434.3h0M549.5 452.2h0M500.7 581.7h0M172.4 538.4h0M209.1 517.4h0M740.2 200.7h0M1041.4 741.7h0M219.4 576.5h0M367.4 728.5h0M961.5 715h0M607.5 705.7h0M620.4 694.3h0M1010.7 774.5h0M909.6 702.6h0M982.5 735.2h0M948.9 724.7h0M978 648.5h0M186.2 545.6h0M602.1 677.3h0M619.7 689.7h0M386.4 397.6h0M774.7 593.5h0M311 805h0M752 242.5h0M598.8 394.4h0M756.8 220.1h0M741.7 204.2h0M163.5 517.2h0M1027.9 666.2h0M398.8 798.1h0M645.7 425.4h0M182.8 565.4h0M960.2 785.8h0M376.1 753.2h0M159.7 525.3h0M774.9 597.5h0M552 769.1h0M895.1 576.8h0M1018.6 641.2h0M979.1 735.4h0M179.6 537.6h0M769.8 597.7h0M974.3 749.6h0M331.3 823.7h0M562.2 245.1h0M557.8 241.7h0M359.2 738.2h0M1003.9 641.6h0M217.9 570.8h0M424.7 545.8h0M246 526.3h0M1063.4 680.7h0M429.4 842.1h0M758.7 273.3h0M720.6 209.4h0M910.3 705.1h0M302 839.3h0M681.8 732.1h0M534.9 996h0M994.9 653.8h0M556.2 239h0M707.3 479.4h0M242.6 513.8h0M1054.3 664.9h0M733.4 188.9h0M177.6 525.7h0M1032.7 641.7h0M970.3 632.6h0M1006 677.6h0M394.4 837.4h0M732.6 150.9h0M664.8 449.6h0M584.9 216.9h0M948.7 668.5h0M688.2 449.2h0M157.2 528.4h0M658.4 456.8h0M1060.5 661.4h0M924.1 369.3h0M582.6 465.4h0M1016.8 755h0M706.2 149.6h0M750.4 586.3h0M601.5 648h0M692.1 121.6h0M709.2 476.9h0M591.9 386.1h0M384.2 751.1h0M599.9 714.7h0M611.8 417.9h0M1068.6 680.6h0M927.5 734.5h0M388.8 734.9h0M709.5 932.2h0M608.3 653h0M951.8 733.7h0M636.5 440.7h0M253.6 533.9h0M1061 666.7h0M929 761.7h0M394.3 792.5h0M915.7 751h0M951.5 369.2h0M520.8 552.7h0M697.6 459.5h0M590 464.5h0M934.4 669.4h0M557.1 233.9h0M568.9 463.3h0M599.8 376.6h0M1000.2 732.1h0M390.6 802.8h0M572.4 778.1h0M485.9 513.2h0M162.6 543h0M619.8 459.1h0M676.3 430.3h0M1017.1 642.6h0M667.6 249.4h0M1006.1 680.3h0M990.1 627.7h0M337.8 764.7h0M925.4 766.4h0M579.2 451.9h0M457 527.2h0M457.7 862.2h0M1046.5 668.9h0M160.3 534h0M319.8 777.1h0M189.8 504.2h0M472.4 449.7h0M633.2 677.6h0M487 585.8h0M605.3 463.8h0M185.8 522.7h0M412.1 405.8h0M1048.3 665.8h0M216.9 514.9h0M989.7 773.6h0M729.4 598.1h0M694.3 225.1h0M329.7 768.4h0M426.6 833.2h0M934.6 776.9h0M204.4 531.5h0M1035.6 729.9h0M616.6 389.1h0M920.4 720.8h0M449.2 525.8h0M485.1 509.5h0M1027 716h0M984.1 695.1h0M762.6 594.1h0M220.9 569.4h0M956 750.9h0M948.1 679.9h0M650.3 687.7h0M623.4 675.9h0M976.4 754h0M602.2 778h0M602.6 456.6h0M919.7 763.2h0M675.8 138.1h0M326.7 736.6h0M769.3 597h0M940.7 770.4h0M603 702.6h0M370.2 789.4h0M270.1 535.9h0M176.5 532.6h0M151.1 533h0M485.8 515h0M920.2 703.9h0M707.9 432.9h0M973.7 693.4h0M636.6 445h0M689.6 438.9h0M620.8 416.1h0M595 404.8h0M699.8 853.1h0M651.9 665.7h0M184.8 518.1h0M234.1 566h0M636.1 705.6h0M897.7 700.4h0M666.9 140.6h0M365 856.4h0M618.3 402.5h0M228.4 525.7h0M620.8 429.9h0M190 534.1h0M601.2 386.3h0M1047 701.2h0M239.5 538.6h0M565.6 220.7h0M469.2 455.8h0M611 840h0M671.4 454.5h0M1026.5 756h0M595.1 454.7h0M654 702.4h0M197.4 572.8h0M536.4 238.5h0M1002.7 694.5h0M490.6 555.3h0M627.4 656.9h0M430.7 842.3h0M921 728.5h0M362.2 722.4h0M992.7 676.2h0M1038.8 684.5h0M365.3 774.4h0M921.8 757.8h0M796.3 270.1h0M911.9 783.4h0M974.8 648.8h0M631 407h0M245.3 535h0M1002.6 619.9h0M710.3 433.6h0M1015.6 615.8h0M896.6 704h0M973.5 695.2h0M475.9 853.2h0M498.4 529.5h0M510.1 460.3h0M585 439.2h0M491 468h0M740.6 169.5h0M420.9 413.9h0M999.1 626.4h0M644.3 437.8h0M602.1 454.3h0M450.8 592.6h0M452.2 565h0M625.1 399.2h0M961.7 758.3h0M622.5 420.3h0M635.4 666.4h0M624.5 695.4h0M598.5 451.6h0M613.6 397.4h0M780.4 597.4h0M999.1 696.8h0M220.1 560.5h0M491.8 553.7h0M777.3 588.5h0M688.8 119.6h0M425.6 576.8h0M702.2 124.5h0M346.1 857.3h0M186.8 566.3h0M756.9 584.5h0M179.9 546.8h0M697.7 177.9h0M682.6 160.4h0M990.8 780.4h0M619.3 685.8h0M958.2 677.9h0M460.3 517.2h0M991.7 640.9h0M678.6 730.5h0M506.7 575.3h0M444 592.2h0M1062.1 665.6h0M358.4 757.1h0M229.2 521h0M448.9 442.4h0M473 857.9h0M626.1 650.7h0M328.7 831.5h0M577.8 448.4h0M1015.6 627.2h0M623.9 681.2h0M719.1 473.9h0M929.7 679.2h0M551.5 455.2h0M243.5 519h0M629.2 437.7h0M598.2 692h0M932.1 735.9h0M712.9 162.2h0M946.6 662.9h0M177.4 536h0M189.1 533.9h0M155.2 523.9h0M917.2 758.4h0M930.2 737.2h0M479.5 515.5h0M653.2 673.2h0M368.5 742.8h0M657.7 130.1h0M1035.8 665.5h0M367.1 814.4h0M611.9 404.5h0M640.2 664.5h0M962.6 690.4h0M831.7 282.7h0M674.1 128.4h0M719.9 832h0M579 455.2h0M643.6 659.8h0M164.1 527.6h0M434.3 555.1h0M521.9 999.9h0M594.3 694.1h0M968.5 669.7h0M242.1 510.1h0M389.6 774.4h0M761.3 570.6h0M298.9 827.2h0M1009.7 724.4h0M710.3 469.7h0M662.8 453.7h0M326 857.1h0M971.9 764.9h0M761.1 603.2h0M779.5 289.4h0M434.3 865.6h0M446.5 559.4h0M670.1 145.4h0M385.6 413.9h0M734.5 853.4h0M946.5 709.5h0M430.3 398.7h0M498.8 538.1h0M610.3 432.3h0M629.6 438.1h0M572.9 214.5h0M162 555.2h0M1018.9 699.4h0M459.1 859.9h0M928.9 705h0M597.7 437.3h0M198.2 539.8h0M775.6 260.9h0M575.3 780.9h0M993.6 688.2h0M991.6 708.2h0M781.9 592h0M696.7 174h0M771 580.6h0M696.2 446.5h0M756.7 599.2h0M1015.4 703h0M984.2 717.4h0M353.4 761.1h0M475.3 455.8h0M431.4 553.5h0M817.4 284.5h0M624.8 677.6h0M230.3 565.5h0M577 770.9h0M291.3 832.7h0M530 248h0M483.5 439.9h0M322.6 765.7h0M360.7 775.9h0M731.1 591.5h0M1044.9 727.4h0M965.3 739.8h0M915.9 719.6h0M187.9 544.4h0M1023.5 762.3h0M461.9 420.6h0M969.6 679.4h0M766.4 588.7h0M754.6 582.4h0M703.5 448.6h0M183.7 570.6h0M935.7 776.9h0M621.5 648h0M569.2 475.2h0M626.2 646.6h0M970.9 651.5h0M255 524.5h0M250.6 530.6h0M716.9 188.9h0M764.9 599.7h0M1055.8 688.2h0M585.6 221.5h0M785.4 227.7h0M624.2 429.1h0M994.9 726.9h0M515.2 530h0M642.4 655.6h0M710 430.2h0M729.9 126.4h0M220.9 517h0M675.8 447.9h0M950.2 694.4h0M940.9 782.6h0M995.8 739.5h0M756.7 588.2h0M823.9 222.9h0M982.3 635h0M771.9 585.5h0M896.2 700.5h0M925.6 727.8h0M488.8 466h0M512.7 569.7h0M164.7 539h0M661.3 136.2h0M911.5 706.1h0M224.4 548.4h0M458.1 550.9h0M332.7 787.2h0M944.1 781.7h0M341.9 728h0M573.6 248.4h0M479.7 545.8h0M594.1 391.1h0M537.3 248.3h0M617.8 645.4h0M558.4 247.8h0M589.7 413.1h0M427.2 565.6h0M733 182.5h0M579.6 445.9h0M572.5 452h0M945.5 759.4h0M946.2 690.9h0M367.8 722.6h0M638.4 917.2h0M1012.4 722.9h0M153.4 531.9h0M439.9 590.1h0M956.6 774.3h0M615.9 449h0M1004 763.1h0M504 508.2h0M909.4 703.1h0M407.7 791.5h0M447.9 458.3h0M436.3 592.9h0M759.6 605.1h0M919.4 765.5h0M601.2 692.1h0M911.2 767.2h0M397.8 828.3h0M591 441.6h0M684.2 460.4h0M178.6 513.8h0M666.6 688.4h0M237.1 526.2h0M646.1 451.3h0M914.8 706.9h0M778.5 236.8h0M935.9 670.2h0M191.6 554.8h0M1027.5 712.6h0M344.8 846.9h0M619.7 458.5h0M930.4 357.4h0M643.5 454.3h0M591.1 402.1h0M187.5 553.3h0M489.8 483.1h0M1030.2 758.2h0M776.6 596.8h0M534.2 461.5h0M612.8 454h0M1013 755.3h0M170.3 535.5h0M382.8 732.3h0M483.3 594.3h0M971.7 653.8h0M629.4 432.7h0M954.2 686.6h0M697.9 172.8h0M640.6 673.5h0M928.3 770.7h0M722.1 820.1h0M647.1 669.5h0M1005.7 693.8h0M349.6 855.5h0M546.2 239h0M634.3 690.4h0M150.1 549.6h0M1045.7 701h0M459.3 589.6h0M392.2 392.2h0M1007.3 755.6h0M922.6 757.7h0M473.8 525.9h0M573.7 767.3h0M722.9 445h0M771.8 598.5h0M719 235.3h0M339.3 798h0M377 748.1h0M628.5 446.8h0M695.9 127.7h0M801.5 298.9h0M403.6 806.4h0M546.9 771.5h0M987 763.7h0M921.5 739.4h0M360.4 835.1h0M147.4 549.6h0M196.4 560.8h0M712.7 165.5h0M697.7 454.4h0M206.4 569.7h0M611.7 659.5h0M188.8 566.8h0M587.7 428.9h0M1066.2 693h0M960.5 696.6h0M368 732.5h0M685.6 462.6h0M893.7 433.3h0M704.4 185.4h0M344.3 716.5h0M1018.8 694.2h0M990.4 758.1h0M1045.9 730.9h0M178.5 533.2h0M976.5 660.7h0M720.1 827.3h0M613.8 428.1h0M357.3 786.8h0M593.3 457.9h0M235.3 517.3h0M557.2 470.9h0M657.4 433.8h0M383.2 731.7h0M531 463.9h0M519.2 981.3h0M969.5 669.5h0M449 560.6h0M592.3 472.2h0M996.1 741.3h0M625.5 412.5h0M691.3 143h0M390.5 809.4h0M895.1 586.2h0M587.5 464.8h0M517.6 428h0M254.2 494.6h0M732 224h0M582.9 461.3h0M571.1 764.3h0M1035.5 678.7h0M737.4 558h0M951.5 784.3h0M748.4 596.5h0M793.8 234.7h0M344.4 723.8h0M809 285.5h0M459 581.8h0M939.3 782.3h0M977.4 739.8h0M918.1 745.4h0M716.5 171.1h0M991.4 750h0M639.8 678.2h0M392.6 421.8h0M1029.2 645h0M623.4 657.7h0M481.9 490h0M532.9 506h0M588.3 454.7h0M770.5 602.6h0M675.7 426.4h0M658.6 159.3h0M1019.1 722.5h0M719.4 221.5h0M499.7 457.1h0M146.5 553.9h0M602.3 423.7h0M378.5 805.5h0M476.9 491.1h0M959.5 669h0M917 782.3h0M397 765.7h0M372.9 783.4h0M158.3 558.5h0M428 398.8h0M383.4 785.2h0M612.3 456.8h0M962.1 767h0M992.3 736.6h0M1000.9 729.7h0M551.1 790.4h0M218 527.6h0M1034.6 718.1h0M161.4 539.9h0M232.1 524.1h0M639.5 689.6h0M372.7 743.7h0M682.2 445.4h0M418.5 843.4h0M1041.8 653.9h0M755 597.9h0M736.4 543.8h0M942.3 736.3h0M519.3 480.1h0M943.7 662.9h0M942.4 717.8h0M608.5 452.4h0M994.7 771.7h0M482.8 498.8h0M594.2 689h0M967.6 687.1h0M933.3 717.9h0M591.1 441.9h0M725.8 162.2h0M996.5 711.7h0M352.6 819h0M440.9 855.2h0M391.8 777.8h0M610.5 654.6h0M763.9 590.6h0M595 445.9h0M194.6 540.9h0M674.7 153.5h0M498.2 550.2h0M969.9 639.3h0M212.8 547.3h0M784.8 590.6h0M937.3 744.4h0M629.8 419.2h0M547.7 226.1h0M453.1 456.7h0M229.3 525h0M989.6 728.7h0M574.2 460.8h0M722.1 456.7h0M388.9 820.7h0M755.9 554.4h0M963.9 659.6h0M673.2 428.7h0M524.7 517.7h0M234.6 529.1h0M222.8 503.9h0M505.1 885.2h0M1054.1 710.3h0M686.2 423.5h0M481.1 508.3h0M407.3 808.1h0M641.2 427.6h0M972.8 772.8h0M593.3 426.7h0M941.7 371.2h0M546.4 233.9h0M1051.1 643.8h0M935 684.1h0M730.7 543.2h0M429.1 838.3h0M713.4 586.7h0M254.6 489.2h0M950.9 768.7h0M608.1 382.4h0M578.4 445.6h0M549.2 215.7h0M992.9 752.2h0M546 302h0M542.7 490.3h0M202.2 543.2h0M613.1 438.2h0M414.5 443.4h0M795.4 227.7h0M743.7 585.2h0M186.2 551.8h0M756.4 561.5h0M568.8 780.1h0M471.9 462.9h0M592.7 674h0M998.6 664.4h0M634.4 698.3h0M467.7 526.9h0M926.1 756.9h0M982.1 703.3h0M619.1 677.7h0M455.2 392.2h0M1031.8 714.4h0M929.9 717.4h0M346.5 768.2h0M375.5 736.4h0M1033.9 691.2h0M618.7 698.3h0M1041.1 646.8h0M990 630h0M343.7 817.4h0M1000.3 667.6h0M368.6 731.1h0M1020.4 693.6h0M1025.7 681.5h0M630.1 662.8h0M753 216.6h0M605 677.8h0M570.6 220.9h0M256.8 542.8h0M722 186.4h0M1008.9 672.2h0M353.2 781.8h0M369.8 858.9h0M953.5 716.8h0M705.2 442.3h0M505.3 574.8h0M745.8 591.2h0M830.6 292.7h0M612.2 668.1h0M217.4 514.8h0M154.4 554.2h0M355.4 749.2h0M939 685.2h0M1025.6 706.1h0M374.7 841.2h0M650 675.6h0M691.4 117.6h0M161.8 533.2h0M744.7 842.8h0M1015.3 669.9h0M783.5 222.5h0M943.6 752.3h0M334.4 771.4h0M222.4 554h0M357.9 753.6h0M512.2 519.3h0M781.5 585.8h0M942.8 772.7h0M912.3 700.1h0M782.1 581.3h0M570.1 758.1h0M958.3 698.6h0M605.3 446h0M596 422h0M428.7 834.8h0M741.8 603.2h0M604.3 445.8h0M171.2 543.3h0M609.5 697.3h0M1014.5 694.9h0M450.7 561.1h0M310.4 824.8h0M994.3 643.6h0M1045.1 652.4h0M712.7 457.8h0M898.2 718.7h0M728.6 147.1h0M1021.6 758.8h0M267.3 530.8h0M961.9 752.6h0M679.2 161.1h0M555.3 243.6h0M549.5 232.4h0M706.6 130.7h0M780.6 585.4h0M213.1 550.1h0M701.1 458.5h0M1038 662h0M485.2 468.8h0M949 757.5h0M399.9 784.8h0M739.2 238.2h0M763.9 583.6h0M1061.6 662.6h0M204.9 563.2h0M675.5 431.3h0M487.5 438h0M638.5 701.9h0M649.4 445.3h0M712.5 847.6h0M266.6 542.4h0M649.1 680h0M635.8 446.4h0M719.5 584.6h0M511.2 566.2h0M214 526.6h0M738.8 718.5h0M643.7 676.4h0M338.6 802.7h0M364.6 787.3h0M518.7 520.2h0M1041.6 660.4h0M630.2 455.8h0M360.7 779.4h0M220.1 563.8h0M181 531.7h0M479.9 854.1h0M978.4 697.3h0M161 536.8h0M510.6 463.6h0M658.9 129.8h0M167.8 527h0M194.9 523.4h0M1062.4 674.3h0M361.3 868.6h0M750.7 567.9h0M375.8 739.7h0M730.9 597.5h0M1000.6 670h0M1024 757.7h0M351.2 796.5h0M289.6 838.1h0M730.4 563.4h0M909.4 765.7h0M227.1 555.7h0M696.6 184.6h0M750 583.7h0M585.1 459.5h0M908.3 704.4h0M1042.5 665.7h0M165.7 535.9h0M713.7 182.5h0M386.9 856.5h0M474.7 854.7h0M743.9 608h0M516.1 506.9h0M1015.4 690.5h0M660.7 162h0M965 678.2h0M958.4 767h0M1045.3 632.5h0M663.4 455.8h0M613.9 448.7h0M676 136.8h0M173.3 512.6h0M628.1 437h0M730.4 590.9h0M1053.4 663.7h0M197.5 504h0M436.2 582.7h0M229.8 525.9h0M681.9 716.1h0M617.7 442.3h0M215.3 544.9h0M1042.5 722.8h0M1051.3 632.7h0M895.3 369.7h0M568 472.9h0M711.6 191.1h0M656.9 121.9h0M966.9 695.3h0M692.5 157.9h0M695.3 177.7h0M160.6 521.6h0M945.8 707.7h0M757.1 583.2h0M214.6 555h0M437.8 567.7h0M1047.7 737.6h0M366.7 783.2h0M184.5 570.4h0M190.9 553.5h0M550.3 312.6h0M966.7 667.1h0M1053.4 686.1h0M378.8 759.7h0M580.9 429.8h0M537.7 225.9h0M598 651.3h0M598.2 683.3h0M937.7 710.4h0M714.1 131.9h0M500.9 584.9h0M916.7 722.2h0M531.3 1011.1h0M504.2 471.6h0M635 697.9h0M751.2 586.5h0M587.3 735h0M1009 711.3h0M214.7 573.3h0M614.8 461.1h0M708.2 138.2h0M781.3 591.7h0M760.8 585.5h0M319.8 858.5h0M705.8 439.1h0M473 454.7h0M292.1 817h0M669.6 252.6h0M988.3 713.5h0M168 552.1h0M360.6 850.6h0M463.1 854h0M599.5 377.4h0M690.4 148.7h0M319.8 756.4h0M772.7 599.8h0M680.4 160.8h0M164.4 548.6h0M721.1 844.6h0M332.5 834.9h0M223 553.7h0M164.5 561.7h0M604 437.4h0M167.3 529.5h0M797.7 234.4h0M790.8 252.9h0M329.9 858.5h0M387.8 813.8h0M363.6 769.7h0M618.6 672.5h0M445.1 844.2h0M468.3 534.3h0M1044.5 716.8h0M723.7 586.6h0M716.7 859.4h0M979.6 763.5h0M978.8 647.9h0M695.6 463.4h0M414 835.8h0M603.7 693.6h0M202.6 503.2h0M904 713.4h0M487 454.6h0M176.6 520.3h0M931.3 730.4h0M908.7 712.5h0M670 732h0M949.8 712.9h0M991.4 694.7h0M944.4 691.3h0M1022.9 652.9h0M1013.3 668.8h0M381.2 746.4h0M988.4 752.1h0M561 253.5h0M974.5 676.3h0M936.5 775.7h0M928.3 714.8h0M549.2 483.4h0M971.2 726h0M994.2 724.9h0M256.7 546.6h0M497.1 884.5h0M721.3 181.6h0M200.7 569.7h0M571.1 452.8h0M306 804.7h0M627.5 450h0M181.6 554.8h0M992.2 640.4h0M458 865.8h0M598.7 661.5h0M399.5 793.7h0M585.8 736.5h0M771.1 237.5h0M251.7 539.3h0M1037.8 674.4h0M955.2 682.9h0M646.9 425.8h0M1052.9 719.1h0M204.1 534.6h0M341.1 807.6h0M494.8 443.5h0M928.7 692.4h0M200.1 535.3h0M934.2 774.5h0M427.9 834.1h0M234.6 511.7h0M382.7 756h0M664.4 150h0M355.1 722.5h0M489.1 527.7h0M172.7 523.7h0M742.2 210.7h0M980 630.3h0M486 890h0M724.2 594.9h0M395.7 844.3h0M200.9 543.4h0M560.9 247.9h0M496.7 516.6h0M588.5 736.4h0M707.7 440.8h0M369.1 760h0M401.5 789.2h0M706.4 187h0M925.7 690.4h0M585.7 459.2h0M705.5 136.1h0M759 244.3h0M600.3 385.4h0M661.2 457.5h0M219.1 501.5h0M672.2 129.8h0M632.9 414.1h0M534.8 448.1h0M702.3 442.4h0M591.1 430.5h0M562.5 226.2h0M486.4 594.1h0M608.5 419.1h0M178.2 525.8h0M327.5 741.3h0M691.9 119.4h0M467.9 446.5h0M904.8 720.4h0M527.7 453.8h0M222.4 527h0M1022.2 712.3h0M727.1 558.9h0M223.1 507.9h0M639.1 700.4h0M950 707.5h0M266.2 524.8h0M534.2 460.1h0M460.1 856.2h0M491.1 487.6h0M932.6 770.5h0M692.7 166.7h0M935 702.6h0M914.2 776.1h0M775.3 598.4h0M441.5 570.1h0M917.9 762.9h0M938.7 674.4h0M735.8 562.2h0M480.4 573.2h0M681.1 430.8h0M773.4 577.9h0M583 421.9h0M593.2 236.4h0M693 130.8h0M716.4 466.3h0M582.1 536.9h0M943.1 694.5h0M612.9 649.7h0M722.6 546.8h0M273.2 528.9h0M1043.5 694.4h0M609 402.6h0M496.4 875.2h0M721.7 935.9h0M1009.8 688.2h0M338.5 740.3h0M709.2 119.1h0M721.1 586.7h0M483.7 560.7h0M653.4 439.8h0M159.6 541.7h0M753.1 592.4h0M487.7 874.5h0M218.3 582.2h0M205 539.8h0M187.7 507.7h0M783.3 568.4h0M1051.2 657.4h0M964.4 375.8h0M340.7 733h0M746.6 534.5h0M320.8 854h0M569.3 479h0M496.1 505.6h0M455.4 598h0M186 516.4h0M736.8 605.1h0M611.1 393.6h0M387.6 742.5h0M234.4 559.1h0M1026.3 679.8h0M735.4 136.7h0M162.2 561.1h0M327 793.4h0M938.7 745.9h0M678.9 450.5h0M940.1 702.1h0M934.7 707.1h0M706 828.5h0M952.8 782.2h0M1032.3 684.9h0M371.7 769.4h0M378.7 744.2h0M208.8 537.9h0M722.5 161h0M349.4 772.8h0M623.8 454.8h0M637.2 696.9h0M1020.2 703.7h0M665.6 169.7h0M245 520.2h0M964.7 673h0M210.1 524.2h0M671.5 149.9h0M732.5 596.6h0M945.8 675.1h0M736.2 144.1h0M603.9 454.8h0M788.3 214.2h0M551 213.6h0M218.2 509.1h0M729.3 165.9h0M204.2 516h0M459.7 456.5h0M619.5 655.1h0M959.1 661.1h0M557.6 455.5h0M467 518h0M779.2 581.5h0M475.1 534h0M567.1 447h0M608 839h0M673.5 183.1h0M648.3 431.7h0M469.4 858.5h0M536.2 512.8h0M934.6 677.7h0M590.1 464.7h0M1000 708.1h0M621.4 457.1h0M227.2 534h0M1017.3 774.6h0M1010 666.6h0M552 793h0M422.7 568.8h0M719.1 822.3h0M720.9 454.8h0M192.9 500.8h0M1033.2 716.6h0M569.6 475.6h0M983.2 653.8h0M457.4 448.3h0M328.6 815.8h0M964.1 768.7h0M908.6 699.6h0M587.8 416.4h0M540.2 475.6h0M1021.7 644.7h0M996.7 770.5h0M323.6 834.2h0M709.8 948h0M573.4 222h0M612.9 666.1h0M173.8 542.4h0M181.9 535.4h0M1038.5 625.3h0M980.3 697.3h0M508.6 467.1h0M1018 626h0M177.2 512.8h0M282.8 532.1h0M481.4 450.8h0M232.1 580.6h0M1034.9 628.7h0M226 553.1h0M408.3 407.1h0M996.2 658.5h0M1033.1 643.7h0M719 221.9h0M972.4 741.8h0M536.1 236.1h0M360.9 761.9h0M740.5 840.3h0M531.6 495.5h0M316.9 781.3h0M161.6 540h0M481.7 858.2h0M505.8 871.7h0M583 443.4h0M463.2 551.1h0M590.8 726.4h0M931.1 687.6h0M486.5 511.6h0M587.2 456.8h0M972.7 780.6h0M268.8 535.5h0M1049.9 711h0M686.6 141.4h0M689.9 178.1h0M725.4 217.6h0M957.9 648.9h0M970.9 726.1h0M895.8 704h0M680.9 464.2h0M992 689.5h0M407.1 407.6h0M450.9 459.5h0M351.3 866.1h0M1035.6 706.9h0M532 458.3h0M166.9 562.3h0M953.6 739.6h0M359.2 829h0M207.2 539.7h0M957 764h0M450.6 448.6h0M682.3 438.6h0M377.5 764.5h0M217.7 549.1h0M681.8 159.9h0M577.7 775.6h0M580 476.2h0M504 910h0M918.2 732.2h0M591.6 672.2h0M652 677.2h0M717 140.8h0M439.7 583.9h0M630.4 690.4h0M499.3 574.4h0M598.9 665.6h0M185.5 507.4h0M676 426.8h0M585.9 223.1h0M597.7 405h0M694.4 451.9h0M912.7 698.3h0M637.9 464.2h0M1019.9 644.9h0M916 739.1h0M433 579.4h0M768.1 597.1h0M599.8 649h0M790.5 224.4h0M656.3 678.2h0M697.6 424.5h0M614.9 234.2h0M934.8 764.6h0M744.8 269.8h0M681.9 161.1h0M795.2 301.2h0M586.1 239.5h0M446.4 842.5h0M408.3 439.4h0M922.5 740.7h0M952.8 736.1h0M646.1 684.8h0M940.9 694.6h0M722.3 138.9h0M231 522.6h0M953 663.7h0M475.2 593.9h0M670.2 706.1h0M488.9 510h0M751.1 598.4h0M948.8 370.7h0M622.2 669.5h0M662.5 155.3h0M1019.1 753.4h0M346.3 827.7h0M815.5 288.8h0M1020.8 730.8h0M239.6 577h0M735 544.8h0M541 451h0M319.1 863.8h0M566.6 467.1h0M391.6 862.1h0M618.4 864.8h0M920.8 731.5h0M627 663.9h0M431.5 570.4h0M175.9 550.9h0M1013.1 741h0M951.9 703.3h0M596.7 230.2h0M459.9 416.7h0M391.2 745.4h0M736.8 838.5h0M1028.8 755.4h0M783.3 299.4h0M682.9 129.7h0M192.3 510.5h0M968.1 677.7h0M902.8 696.3h0M920.5 706.9h0M617 650.7h0M950.4 651.2h0M897.3 720.4h0M974.8 691.7h0M580.8 475h0M770.6 594.3h0M207.1 518.8h0M669.3 426.8h0M620.9 425.1h0M601.5 434h0M731.1 137.5h0M701.2 447.3h0M998.6 764.2h0M638.1 465.5h0M400.4 811.1h0M1006.6 723h0M601.8 664.7h0M946.6 692.7h0M657.2 678.6h0M1013.7 764.3h0M520.8 968h0M699.5 427.8h0M757.2 582.9h0M689.7 156.1h0M710.7 154.5h0M962.4 773.2h0M720.3 177.3h0M1031.9 704.7h0M575.8 454.4h0M970 652.4h0M246.9 499.6h0M617.8 448.8h0M906.1 742.3h0M228.9 555.4h0M338 825.4h0M358.6 854.9h0M745.7 554.6h0M301.2 804.1h0M901.9 707.3h0M528.8 503.4h0M644.9 447.3h0M437.6 456.1h0M611 661.3h0M781.6 593.1h0M497.7 466.2h0M502.4 471.3h0M347.1 793.6h0M492.6 512.1h0M1043 685.9h0M459.7 457.2h0M615.7 391.6h0M607.6 456.8h0M616.6 707.8h0M598.1 436.7h0M957.9 666.3h0M562.2 449.3h0M190.5 566.7h0M341.5 846h0M975.7 683h0M545.4 228.1h0M595.4 408h0M205.7 531.6h0M665.1 137.9h0M615.2 645.6h0M206.1 524.5h0M399.7 787.5h0M644.5 437.3h0M243.1 530.1h0M600.8 405.1h0M1055.6 719h0M319.9 780.2h0M947.1 377.2h0M238.1 541.7h0M669.4 172.7h0M185.1 548h0M1057.8 707.2h0M617.6 648.1h0M362.7 856.1h0M996.1 647.1h0M618.4 426.3h0M737.1 589.7h0M767.6 589.3h0M202.5 558.4h0M172.8 525.7h0M748.5 179.2h0M997 758.7h0M227.7 542.3h0M1061.9 704h0M670.7 462.2h0M478.3 572h0M1035.8 747.7h0M617 675.1h0M1003.6 668.9h0M358 786.6h0M259.2 527.1h0M379.5 854.8h0M537.8 452.3h0M774.1 632.1h0M568.8 464.2h0M903.4 734.5h0M1015.3 638.9h0M489.4 531.3h0M725.4 846.4h0M603.2 650.7h0M223.3 564.6h0M917.8 723.4h0M935.7 770.1h0M485.5 476.4h0M1055.3 671.4h0M578.4 221.6h0M764.1 580.6h0M650.4 441.8h0M515.4 475.3h0M559.4 241.5h0M472.3 870.9h0M674 215.7h0M232.7 533.3h0M611.6 410.2h0M541.6 226.8h0M952.5 741.4h0M529.7 516h0M175.1 510.9h0M976.6 749.5h0M572 467.1h0M519.9 477.9h0M1011.6 628.8h0M465.9 528.4h0M615.9 387.7h0M708 236.2h0M964.8 757.7h0M611.9 416.5h0M738.9 162.7h0M1003.5 779h0M236 565.8h0M717.5 820.8h0M963 652.1h0M737.2 229.2h0M566.6 468.7h0M685.6 186.1h0M811.5 234.1h0M951.1 677.3h0M602.2 672.1h0M959.2 769.8h0M185.3 560.8h0M768.5 587.7h0M958.7 753.3h0M535.2 492.7h0M243.8 531.5h0M612.1 389.5h0M478.7 530.6h0M671.5 196.6h0M202.1 515.2h0M662.4 459.6h0M665.4 699.7h0M500.1 513.2h0M1035.5 667.2h0M919.7 735.4h0M674.3 425.2h0M980.6 730.3h0M973.4 637.4h0M1044.8 647.4h0M609.5 412.9h0M958.5 678.1h0M237.9 546.2h0M705.4 451.4h0M368.4 744.7h0M191.1 522.1h0M228.7 506.2h0M232 565.6h0M729.1 831.7h0M327.6 732.8h0M480.8 460.3h0M473.7 576.6h0M547.3 769.5h0M591.8 418.6h0M649.3 429.6h0M325.7 784.5h0M555.3 477.6h0M437.8 548.7h0M528.2 516.4h0M338.3 854.4h0M696.6 438.8h0M710.4 474.7h0M216 526.2h0M236.9 525.7h0M159.4 556.7h0M643.9 429.7h0M653.2 688.9h0M611.2 647.3h0M582.2 432.2h0M577 761.3h0M968.5 760.1h0M684.9 162.2h0M617.7 432.4h0M567.7 479.1h0M491.5 885h0M945.7 681.2h0M366.3 741.8h0M936 755.9h0M475.3 592.1h0M343 838.8h0M569.2 244.8h0M570.5 240.5h0M207.6 540.5h0M225.6 525.5h0M935.3 788.4h0M1048.2 730.9h0M1052.1 721.9h0M245 570.9h0M973.5 677h0M591.6 394.4h0M710.8 722.5h0M700.7 431.8h0M579.3 230.2h0M338 731.7h0M695.4 421.7h0M498.2 455h0M363.5 867.1h0M606.9 661.6h0M338 731.7h0M387.5 741.9h0M497.2 569.6h0M228.2 516.2h0M178.4 513.9h0M809 224.9h0M385.9 744.7h0M590.7 446.4h0M308.1 805.8h0M213.7 516.6h0M632.9 437.3h0M761 565.2h0M182.8 513.8h0M305.3 807.6h0M1049.1 737.3h0M195.5 517.5h0M775.5 589.1h0M611.8 676.8h0M938.1 743h0M403.2 797.3h0M924.6 694.3h0M628.5 460.3h0M779.7 209.9h0M368.9 743.3h0M400.1 773.7h0M467.2 541.6h0M590.8 220.9h0M323.3 813.6h0M716.2 119.2h0M788.4 288.1h0M172 563.8h0M182.3 542.5h0M603.7 438.2h0M611.3 381h0M759.8 582.7h0M653.1 661.4h0M577.6 451.8h0M239 566.3h0M274.3 536.8h0M964.7 767h0M974.8 676.9h0M945.9 755.1h0M228.7 573h0M459.9 570.9h0M722.4 828.8h0M896.8 705.4h0M585.2 435.6h0M723.1 599.1h0M676.4 463.3h0M712.5 229.6h0M682.1 421.5h0M733.5 562h0M902.9 732.8h0M343.2 790.7h0M628.6 438.1h0M476.4 456.9h0M963 674.4h0M674.5 117.4h0M935.3 714.1h0M159.7 550.7h0M721 593.1h0M615.7 646.8h0M592.6 727.1h0M630.5 706h0M540.7 450.3h0M595.8 417.2h0M984.2 713.4h0M614.6 701.1h0M584.2 429.1h0M664.5 119h0M982.9 625.7h0M688.9 127.4h0M247.4 506.8h0M708.6 477.8h0M373.9 755.8h0M544 472.2h0M562.2 456.6h0M478.5 861.6h0M607.5 672.3h0M569.6 216.5h0M731.2 546.7h0M758.8 225.3h0M960.4 775.2h0M465.3 597.5h0M621 445.2h0M777.4 301.5h0M459.9 585h0M1051.8 708.7h0M321.2 737.9h0M434.4 564.7h0M215.5 562.7h0M512 460.8h0M1060.3 682.3h0M725 450.4h0M914.8 745.6h0M678.1 428.7h0M652.9 246.3h0M529.7 464.6h0M163.6 560.5h0M547.3 222.7h0M950.1 763.6h0M1014.6 647.6h0M678.2 252.5h0M181.7 539.9h0M439 577.5h0M718.8 593.1h0M959.1 778.8h0M920.9 764.8h0M323.4 848h0M712.2 273.3h0M221.7 551.1h0M964.4 366h0M188.9 542.9h0M974.6 695.5h0M541.2 477.1h0M995.2 660.2h0M1011.4 698h0M221 580.9h0M883 373.9h0M472.9 864.6h0M626.1 696.5h0M695.3 439.5h0M391.2 777h0M984.1 760.9h0M952.9 679.1h0M562.6 246.5h0M1035.8 656.4h0M474.4 871.5h0M170.2 561.2h0M552.1 249.2h0M984.1 676h0M1015.1 756.1h0M196.3 499.1h0M587.5 445.1h0M653.1 674h0M646.7 467.9h0M315.1 816.9h0M159.4 555.6h0M907.6 754.5h0M219.5 542.4h0M726.3 169.7h0M516.6 978.8h0M217.8 515.5h0M606.2 401.7h0M491.2 554.3h0M256.6 528.8h0M254.8 529.7h0M240.5 522.2h0M475.8 514.1h0M184.4 561.9h0M405.2 844.2h0M936.4 782h0M1033.9 724.6h0M675.6 173.9h0M335.9 757.4h0M267.9 535.8h0M228.1 519.6h0M178.6 505.7h0M610.2 457.9h0M634.4 468.5h0M981.9 673.8h0M701.9 193.4h0M641 458.4h0M546.1 316.3h0M777.8 580.4h0M173.7 522.8h0M574.9 763.5h0M964.1 679.1h0M1048.3 717.5h0M989.8 728.9h0M703.3 155.3h0M650.1 460.9h0M639.6 658.3h0M215.6 549h0M679.5 425.8h0M557.9 219.6h0M620.1 409.8h0M690.1 130.7h0M669.6 177.9h0M167.7 540.9h0M945.4 770.5h0M505 474h0M212.8 559.5h0M206.1 517.4h0M1043.1 719h0M675.4 147.8h0M796.6 248.1h0M769.1 580h0M239.9 516.8h0M518.5 1014.4h0M697.9 230.4h0M659.9 679.2h0M1060.4 646.4h0M194.4 548.5h0M597.9 455.8h0M226.2 570.9h0M727.6 156.6h0M717.2 144.5h0M233.5 533.4h0M1040.7 696.2h0M234.5 563h0M222.4 511.2h0M175.2 549.2h0M661 126.9h0M208.6 511.1h0M678.4 465.5h0M930.3 354.9h0M550 225.4h0M617.3 670.5h0M767.6 599.1h0M897.1 577.5h0M389.2 757h0M527.3 516.9h0M918.8 764.2h0M670.7 430.5h0M545.8 246.2h0M1039.9 692.5h0M247.3 543.6h0M580.1 456.2h0M218.4 501.5h0M580.1 465.6h0M628.8 661.9h0M666.8 460.7h0M308.2 804.2h0M936.4 689.5h0M919.2 783.9h0M215.7 566.6h0M629.3 435.3h0M164.6 566.9h0M521 454.7h0M965.3 661.2h0M958.2 762h0M288.3 394.2h0M708.8 163.6h0M568.4 244.1h0M402 816.8h0M614.6 391.2h0M232.7 571.9h0M1000.4 648.5h0M378.3 842.2h0M689.5 454.9h0M603.9 432.4h0M403.9 841h0M350.1 801.3h0M608.7 847.4h0M721.5 448.1h0M463.5 551.2h0M946.4 765.1h0M705.3 125.1h0M192.9 545.4h0M542.8 493h0M551.6 229h0M611.8 466.5h0M1018.7 661.8h0M1035.4 728.5h0M606.2 378.9h0M913.3 730.7h0M636.4 421.5h0M1011.8 735.9h0M234.7 542.1h0M727.9 171h0M948.8 779h0M728.3 195.2h0M623.7 456.9h0M924.6 764.7h0M1061.7 700h0M967 771.8h0M575.4 245h0M223.9 544.6h0M894.4 694.5h0M490.3 506.8h0M674.4 713.5h0M892.5 714.2h0M553.5 448.8h0M586.2 386.9h0M480.2 569.6h0M1007.3 634h0M978.7 703.5h0M572.7 238.1h0M191.4 534.6h0M214.4 534.7h0M1000.6 679.4h0M541.6 477.2h0M317.8 769.2h0M690.3 129.8h0M954.5 687.8h0M782.2 571.3h0M938.6 714.8h0M237.1 531.7h0M928.8 727.1h0M574.7 771.3h0M586.2 230.2h0M228.9 529.5h0M332.4 850.6h0M215 543.1h0M216.5 510.6h0M247.3 541.1h0M956.4 701.1h0M955.4 754.6h0M982.7 698.4h0M1054.6 692.2h0M1038.2 671.1h0M637.5 442.2h0M714.4 829h0M692.3 115h0M670.7 432.9h0M364.7 817.8h0M701.3 142.2h0M465.5 582.3h0M240.5 523h0M698.3 440.7h0M552.4 762.5h0M629.5 692.8h0M915.5 760.6h0M595 658h0M718.9 209.4h0M595.3 465.6h0M533.9 497.6h0M157.2 527.1h0M254.4 524.2h0M625.1 651.7h0M994.6 765.4h0M476.8 870.4h0M660 157h0M228.4 523.3h0M1054.8 675.2h0M160.1 539.4h0M563.6 243h0M518.8 544.8h0M302.4 847.9h0M591.2 437.7h0M514.5 563.5h0M615.8 679.5h0M440.3 574.7h0M786.6 238.7h0M312.4 826.5h0M174.2 533.8h0M451.3 393h0M211.6 545.8h0M558.9 445h0M599.3 430.4h0M207.9 561h0M643 705.7h0M221.1 557.1h0M450.1 576.4h0M230.9 556.7h0M944.7 769h0M229.9 558.6h0M721.9 594.7h0M1026.6 747.5h0M708.8 585.8h0M577 446.7h0M654.2 464.6h0M1041.7 629.6h0M218.4 514.5h0M437.1 869.8h0M968.9 719.4h0M981.2 628.8h0M986.2 758.3h0M601.1 697.4h0M1013.6 702.7h0M373.9 737.9h0M944.3 704.2h0M489.4 496.1h0M244.8 546.3h0M387.3 773.5h0M760.3 567.4h0M975.9 657.6h0M1028.1 735.4h0M586 444.9h0M325.2 791.2h0M455.6 531.5h0M971.6 754.8h0M974 717.5h0M328.1 776.9h0M997.5 726.2h0M973.4 626.2h0M169.7 561.1h0M575.9 472h0M562.1 247.2h0M196 569.5h0M296 834h0M695.4 451.6h0M1030.8 702.5h0M393.6 764.1h0M261.8 529.2h0M583 427.1h0M589 387.3h0M601.7 445.8h0M709.1 832.7h0M985.5 742.2h0M318.1 787.4h0M716.8 150.3h0M440.9 541.6h0M231.9 522.3h0M954.8 705.3h0M396.3 832.3h0M597.4 399.2h0M506.5 512.7h0M1036.8 720.3h0M178.8 570.7h0M269.2 531.6h0M679.7 119.8h0M905.8 743.4h0M627.7 656.7h0M170.7 552.6h0M973.5 759.8h0M973 684.7h0M924.8 735.6h0M154.5 537.2h0M405.8 801.1h0M382.1 761.6h0M370.5 808.1h0M520.4 1015.7h0M572.1 250.7h0M184.1 519.3h0M698.8 850.1h0M670.8 441.8h0M656.6 137.5h0M577.3 450.5h0M595.2 775.9h0M662.1 426.2h0M571.2 468.4h0M668.4 442h0M458.1 529.3h0M731.6 166.4h0M579.6 476h0M957 746.6h0M726.7 155.7h0M829.5 276.1h0M477.8 568.5h0M487.2 466.6h0M614.4 436.5h0M594.2 223.3h0M372.5 750.4h0M544.2 493.2h0M624.5 403.6h0M934.7 675.6h0M196.2 508.7h0M609.9 451.5h0M458.7 389.7h0M979.8 621.9h0M579.7 454h0M662.1 432.7h0M186.9 548.9h0M955.2 681h0M587.9 221.6h0M393.4 770.7h0M723 856.7h0M401 786.8h0M972.7 704.3h0M1034.1 695.2h0M949.2 760.5h0M366.4 815.3h0M752.1 200.6h0M1018.5 640.5h0M980.7 694.3h0M532.2 994.3h0M414 869h0M541.5 474.5h0M989.1 689.4h0M371.1 729.4h0M561.9 470.6h0M984.7 708.8h0M510.7 468h0M196 564.8h0M622.4 707.5h0M408.8 792.5h0M924.9 702.9h0M725.8 456.5h0M628.8 417.9h0M671.5 432.1h0M583.7 236.7h0M980.7 660.8h0M202.2 517.7h0M933.8 717.3h0M622 675.6h0M553.7 451.3h0M579 229.7h0M890.6 706h0M195.3 543.9h0M738.8 592.8h0M674.7 185.2h0M944.2 690.9h0M943.4 769.6h0M387.1 741.3h0M466.8 866.9h0M512.1 470.1h0M526.4 455.8h0M958.1 672.4h0M986.6 677.4h0M1034.7 672.1h0M777.4 240.4h0M1011.3 676.8h0M724.7 453.3h0M447 396.7h0M579.6 233h0M1060.4 650.7h0M966.5 628.8h0M728.4 460.2h0M465 860.8h0M697.7 432.8h0M203 555.4h0M706.5 133.6h0M172.9 512.9h0M645 424.4h0M194.1 542.2h0M559.5 246.6h0M538 254.4h0M601.5 400.6h0M627.6 441.5h0M940.9 713.2h0M579.1 441.4h0M754.8 559h0M388.8 858.6h0M566.1 770.2h0M483.9 557.2h0M389.6 777.1h0M967.8 771h0M640 455.5h0M325.1 772.8h0M731.3 593.2h0M526.8 463.6h0M975.3 681.3h0M633.1 651.9h0M181.4 508.6h0M175.4 509.1h0M648.7 675.2h0M541.7 505.5h0M597.2 387.7h0M367.7 726.7h0M492.1 515.5h0M368.7 823.4h0M685.3 438.5h0M494.1 513.9h0M1021.4 701h0M604.6 448.7h0M376.8 735h0M962.3 690.1h0M179.2 531.2h0M785.5 249.3h0M676.7 735.6h0M623.8 655.8h0M631.2 691.1h0M152.5 527.8h0M256.4 525.1h0M620.3 644.2h0M981.8 667h0M602.6 412.7h0M486.8 591.7h0M654.2 430.6h0M589.6 393.5h0M436.4 440.4h0M944.1 752.4h0M1019.5 725.6h0M177.1 514h0M656.6 674.3h0M318.1 859.2h0M985.5 618.3h0M1056.4 643.9h0M163.7 530.9h0M353.2 719.4h0M711.1 461.8h0M910.4 723.4h0M1018.9 709.4h0M1018.3 670.9h0M161.7 555.9h0M480.8 464.9h0M213 547.7h0M394.8 787h0M229 562.8h0M1011.3 701h0M704.3 427.9h0M617.2 448.7h0M255.1 490.2h0M353.7 741h0M726.4 535h0M189.2 539.1h0M582.8 237.1h0M719.7 595.8h0M1020 684h0M560.3 211.5h0M714 227.6h0M1047.8 671.4h0M684.4 177.3h0M298.6 845.5h0M756.1 601.7h0M309.1 790.8h0M1044.9 712.8h0M743.2 225h0M186.2 514.7h0M509.1 553.8h0M1018.7 697.2h0M230.3 522h0M382.3 748.4h0M688.5 454h0M642.5 662.4h0M402.3 801.6h0M713.2 830.1h0M677.4 421.3h0M999.2 629.3h0M1012.5 747.8h0M417.5 831.8h0M1031.5 640.5h0M667.8 426.5h0M535.9 232.6h0M680.4 136.1h0M698.3 455.5h0M344.5 746.2h0M368.2 727.8h0M246.4 547.1h0M474.7 857.3h0M533.1 1012.7h0M483.8 475.7h0M736 524h0M459.2 452.7h0M255.3 531.2h0M313.1 843.2h0M735.1 601.1h0M677.7 729.7h0M177.6 509.8h0M497.4 540.2h0M783.9 585.3h0M664 428.5h0M487.6 541h0M747.6 176.4h0M686.9 469.9h0M192.6 502.1h0M600.3 226.9h0M584.2 228.8h0M904.5 738.8h0M148.1 538.4h0M634.7 446.6h0M483 503h0M715.1 583.9h0M594.3 389.9h0M593.5 685.9h0M276.4 535.8h0M1000.9 720.4h0M996.3 675.7h0M915.4 753h0M684.8 135.5h0M638.7 429.9h0M560.3 210.4h0M997 766.6h0M608.4 389.3h0M934.3 679.7h0M706.9 935.1h0M207.7 534.1h0M665.8 444.7h0M616.9 434.5h0M655.2 142.7h0M472.4 584.7h0M952.3 369h0M534.6 486.1h0M496 524.2h0M674 424.1h0M155.4 527.3h0M227.9 510.6h0M484.6 437.9h0M659.8 428.6h0M187.4 508h0M599.4 404.8h0M556 248.5h0M631.2 702.5h0M805.3 297.9h0M192.1 520.8h0M599.1 698.8h0M487.1 517.8h0M1040.9 640.2h0M556.9 249.5h0M310.7 854.1h0M984 758.8h0M753.3 225.9h0M255.1 536.3h0M161 535.7h0M1002.1 718.1h0M770.8 591h0M995.9 626.6h0M210.6 544.1h0M726.4 849.5h0M441.2 847.6h0M339.4 802.1h0M223.9 560.6h0M690.8 180.5h0M444.9 536.4h0M540.3 239.7h0M181.1 550.4h0M965.5 664.2h0M218.3 569.8h0M735 186.7h0M775.3 579.8h0M475 513.6h0M1006.5 761.3h0M701.6 469h0M446.2 592.3h0M625.1 880.4h0M310.6 792h0M737.7 561.4h0M214.7 541.4h0M990.4 638.4h0M217.1 542.8h0M180.5 505.9h0M775.5 568.5h0M242.7 540.7h0M586.6 401.8h0M715 584.8h0M210.2 522h0M630.8 465.6h0M1027.9 756.4h0M680.2 154.7h0M583.9 457.4h0M726 820.7h0M979.7 774.3h0M952.7 758h0M441.2 851.9h0M444.3 555.9h0M575.2 769.1h0M554.9 460h0M994.1 735.7h0M674.7 736.6h0M351 802.4h0M768.6 604.5h0M334.8 768.6h0M662.8 691.6h0M194 515.4h0M601.2 437.2h0M189.4 525.9h0M190.2 564.4h0M382.8 750h0M902.4 724.4h0M703.2 120.3h0M583.3 458.7h0M402.6 777.9h0M759.8 566.2h0M338.5 861.7h0M263.4 524h0M554.6 219.9h0M225.5 564.5h0M606.6 666.9h0M388.5 731h0M1015.4 740.1h0M170.8 567.5h0M582.4 410.2h0M177.7 515.2h0M498.8 523.2h0M393 400.8h0M373 863.9h0M719.9 941.2h0M672.1 205h0M709.3 120.6h0M620.8 708.6h0M942.5 672.3h0M321.9 839.6h0M499.6 449.9h0M439.3 526.5h0M912.4 766.5h0M991.1 773.6h0M1015.2 692.6h0M458.2 454.6h0M160.7 561.3h0M592.1 410.7h0M598.8 431.3h0M770.3 222.7h0M727.1 851.8h0M804.5 778.5h0M757.9 554.8h0M680.6 451.3h0M476.1 455h0M759.8 594.2h0M566 249.5h0M941.6 733.1h0M662 434.1h0M959.7 659.9h0M932.5 681.7h0M538 253.4h0M1026.5 718.6h0M587.9 406.9h0M984.9 773.3h0M717.8 124.8h0M443.2 397.3h0M765.9 603.4h0M339.6 728.5h0M197.4 569.5h0M199.7 567.5h0M605 446.6h0M915 560.5h0M195 541.4h0M603.3 409.3h0M902.1 691.8h0M202.9 513.2h0M994.4 655.7h0M522.4 484.4h0M507.6 578.8h0M387.6 774.2h0M708.9 447h0M671.1 138.3h0M253.1 530.4h0M614.8 397h0M917.1 537.5h0M1017.9 704.1h0M965.6 672.7h0M923.7 766.2h0M320.1 750.4h0M373.5 739.4h0M154.3 546.5h0M452.2 569.8h0M493.2 364.4h0M678.3 717.9h0M515.3 450.8h0M959.1 670.2h0M610 787h0M707.2 848.3h0M1037.9 648.3h0M213.7 533.2h0M378.9 748.9h0M479.7 1029.2h0M969.3 716h0M1004.6 659.1h0M711.2 587.8h0M1008.5 737.2h0M627 409.4h0M937.3 673.3h0M689.3 254.7h0M695.5 238.7h0M728.6 600.8h0M758.6 566.8h0M766 582h0M925.1 764.6h0M421.7 554.6h0M682.3 136.1h0M433.5 863.6h0M589.7 240.9h0M539.6 235.9h0M475.5 444.3h0M976.3 732.4h0M212.8 512.9h0M961.3 640.7h0M461.1 445.9h0M625.2 659.1h0M628.5 922.2h0M716.2 594.7h0M762.3 234.2h0M587 394.7h0M608 695.2h0M576.3 767.9h0M977 767.3h0M607.1 649.7h0M576.8 243h0M698.1 174.1h0M583.2 390.9h0M188.9 503.8h0M701.3 450h0M352.4 839.8h0M674.8 459.2h0M407.6 804.9h0M913.7 777.1h0M673.8 706.5h0M645.4 422.7h0M965.3 677.4h0M224.3 541.7h0M684.7 445h0M221.7 537.3h0M729.9 214.3h0M964.8 713.2h0M953.6 726.6h0M935.7 769.4h0M549.4 222.5h0M622.2 412.1h0M524.9 452h0M591.8 719.8h0M606.6 402.2h0M601.3 463.7h0M473.7 552.9h0M751 590.8h0M569.7 250.3h0M642.4 462.8h0M558.3 244.4h0M737.5 178.5h0M986.6 649.8h0M176.2 551.6h0M389.2 771.6h0M1003.1 630.9h0M392.8 844h0M916.6 701.1h0M1013.8 629.3h0M976.7 678.2h0M961.4 729.2h0M186.3 519.9h0M957.8 779.5h0M1008.7 737.5h0M969.5 737.3h0M393.8 759.7h0M632.5 667.3h0M600.2 388.5h0M742.5 592.6h0M894 705.4h0M208.7 576h0M982.2 634.1h0M1009.8 623.6h0M958.2 694.7h0M611.7 666.2h0M521.4 1018.4h0M613.5 712.8h0M639.5 427.4h0M712.3 834.8h0M925.5 740.9h0M149.3 550.2h0M676.6 438h0M651.6 679.7h0M207.3 534.3h0M581.6 432.2h0M1008 721h0M597.9 408.7h0M950.7 664.5h0M452.6 522.7h0M729.8 846.1h0M1053.8 719.2h0M1061.9 672.3h0M617.4 237.8h0M221.5 571.5h0M624.4 399.2h0M732.4 155.8h0M628.8 667.9h0M1059 700.7h0M740.3 205.6h0M598.9 453.3h0M971.7 632.5h0M231.6 526.6h0M453.7 864.9h0M809.2 236.6h0M395.6 428.6h0M305.4 847h0M485 461.7h0M264.1 530.1h0M682.7 129h0M587.4 393.7h0M346.2 747h0M194.6 521.9h0M390.7 742.5h0M241.8 572.7h0M764 243.7h0M1043.2 639h0M322 781.1h0M350.1 791h0M545.2 463h0M615 649.5h0M257.7 534.3h0M923.9 782.2h0M722.1 444h0M668.6 233.6h0M970 364.1h0M601.7 651.4h0M613.6 423.4h0M451 848.6h0M457.1 563.9h0M218.8 544h0M724.2 860.2h0M576 456.3h0M979.3 759h0M459.2 525.9h0M229.8 536.5h0M392.6 763.8h0M1023.5 743h0M966.3 686.4h0M257.2 522.6h0M744.4 595.1h0M727.5 148.9h0M604.9 448.3h0M568.6 478.8h0M891.7 713h0M477.2 446.6h0M194.8 514h0M335 741.7h0M403.9 395.4h0M695.1 166.3h0M961.4 762.9h0M583 228.5h0M673.8 232.9h0M708.2 933.5h0M1037.6 753.6h0M349.9 771.2h0M721.3 542.1h0M712.2 437.4h0M909.3 706h0M923.2 785.1h0M547.7 229.9h0M518.4 443.5h0M731.6 208.7h0M937.2 663.7h0M1026.2 731.2h0M548 478.4h0M181.7 524.5h0M921.3 772h0M151.7 549.5h0M474.6 549.8h0M451.5 552.9h0M725.8 459h0M399.4 820.1h0M592.4 444.9h0M695.9 119.2h0M787 251h0M602.7 384.2h0M329.9 742.6h0M956.9 633.3h0M461.4 844.6h0M442 590.7h0M931.1 714.7h0M384.7 847h0M928.1 781.4h0M913.7 737.6h0M722.6 588h0M544.1 215h0M190.8 501.4h0M667.3 152.4h0M1025.8 669.6h0M959 695.8h0M546.1 456h0M388.3 729.3h0M906.4 740.5h0M509 495h0M982.7 634.2h0M725.4 822.5h0M409 407.2h0M755.1 547.7h0M547.8 492.2h0M693.1 158.9h0M617.5 412.6h0M730.3 718.7h0M570 464.5h0M1015.7 674.6h0M648.7 677.6h0M703.4 167.3h0M231.5 525.2h0M1052.9 700.5h0M999.7 693.2h0M1023.8 718.1h0M1042.9 715.5h0M485.5 544.6h0M1019.9 705.7h0M713.5 431.9h0M404.2 787.3h0M618.5 426.9h0M623.5 433.4h0M551.8 248.5h0M983.3 784h0M753.1 587.8h0M668.4 463.4h0M475.1 553.4h0M186.7 507.8h0M156 551.9h0M631.4 709.7h0M449.3 588.9h0M671.7 447.9h0M947.4 658.5h0M764 600.8h0M627.4 465.3h0M317.5 842.8h0M189.8 518h0M732.8 245h0M423.3 398.6h0M1045.1 742.1h0M589 241h0M415.5 831.2h0M648.5 677.5h0M1010.8 665h0M769.9 589.5h0M1006.2 683.6h0M668.5 425.1h0M975.8 753h0M780 580.1h0M703.9 438h0M167.8 568.2h0M961.9 730h0M234.9 543.7h0M461.1 415.8h0M778.5 300.6h0M483.6 504.6h0M178.8 538.1h0M744.4 176.2h0M896.2 704.8h0M634.1 427.7h0M724.2 470.6h0M1016.9 714.2h0M233.2 527h0M221.9 564.6h0M503.2 565.1h0M671.8 435.2h0M592.6 716h0M456.2 585.1h0M897.4 702.1h0M609.8 673.1h0M668.5 430.3h0M564.9 229h0M211.2 512.4h0M230.2 507.9h0M249.9 500.2h0M619.2 711.8h0M694.6 165.5h0M370.6 727.8h0M479.4 553.4h0M339.3 859.1h0M629.4 453.6h0M1044.9 649.7h0M728.8 167.6h0M652.8 453.4h0M809.6 271.3h0M196 505.5h0M1002.8 690.4h0M221.9 578.4h0M772.5 237.6h0M1041.1 665.5h0M610 447.4h0M1017 713.8h0M645.5 663.2h0M969.8 728.6h0M586.4 424.6h0M486.2 879.4h0M238.9 521.8h0M997.8 753.5h0M637.4 464.3h0M979.4 733.9h0M932.5 751.1h0M581.4 749.3h0M954.9 741.8h0M237.3 558.3h0M583.5 426.2h0M644.1 662.6h0M621 413.1h0M769 602.8h0M163.4 556h0M654.5 443.7h0M526.8 457.9h0M980.8 695.1h0M619.3 436.4h0M714.2 851.7h0M369.8 730.2h0M701.1 149.2h0M396.2 772.6h0M555.3 771h0M934.4 672.3h0M962.7 734.9h0M477.7 589.9h0M690.8 464.3h0M1052.1 693.4h0M460.7 449.8h0M783.4 571.8h0M515 970.1h0M736.4 131.7h0M225.2 532.4h0M982.6 671.2h0M698.7 856.1h0M670.1 460.7h0M614.8 464.3h0M624.8 662.8h0M744.6 549.7h0M961.5 684.8h0M182.8 519.7h0M741.8 594.8h0M231.6 571.2h0M961.9 629.2h0M494.9 440.6h0M370.5 843.7h0M954.8 641.5h0M634.8 672.3h0M628.6 706.9h0M536.9 509.2h0M949.2 754.1h0M492.3 442.9h0M182.8 502.5h0M628.7 469.4h0M1004.2 645.7h0M234 551.9h0M234.2 521.6h0M745.4 606.6h0M630.5 422.4h0M629.1 417.7h0M724 502h0M707.1 473.3h0M671.5 435h0M202.6 502.1h0M578.8 457h0M602.1 410.3h0M684.7 433.3h0M606.7 686.5h0M677.8 721.5h0M665.3 458.4h0M479 562.9h0M397.2 862.5h0M989.8 755.3h0M565.6 475.6h0M553.7 251.7h0M350.8 856.5h0M456.3 570.3h0M614.5 644.6h0M1049.3 729.2h0M630.8 686.5h0M957.5 649.5h0M302.1 826.9h0M715.6 156.7h0M909.6 711.5h0M993.6 667.3h0M645.7 439.8h0M372.7 747.2h0M821.9 229.2h0M606.7 401.8h0M430 575.8h0M361.6 866.7h0M673.5 129.5h0M321.2 805.4h0M457.9 389.2h0M569.5 466.8h0M554.9 227.6h0M1000.3 730.1h0M538 216.7h0M460.6 455.7h0M699.1 135.4h0M1056.8 677.8h0M785 590.5h0M253.2 535.9h0M155.9 543.7h0M983.9 698.1h0M467.8 459h0M764.8 585.7h0M967.7 681h0M480.9 516.9h0M967.1 654.5h0M1002.1 711.2h0M249.1 508.6h0M997.6 688.4h0M374.9 802.6h0M185.8 546.2h0M542.4 495.5h0M336 794h0M654.9 430.6h0M200.6 510.9h0M685.8 929.3h0M893.2 712.8h0M944.5 668.8h0M591.7 414.6h0M647.4 658.9h0M1015.7 688.9h0M602.1 466.4h0M996.4 734.9h0M807.5 794.2h0M635.8 409.8h0M957.1 677.1h0M604.2 412.8h0M461.7 578.7h0M1008 736.4h0M719.1 222.5h0M942.5 679.6h0M1033 755.2h0M755.1 588.3h0M710.9 432.5h0M236.3 577.9h0M157.8 522.3h0M919.6 727.4h0M390.6 808.4h0M949.4 652.5h0M1060.5 662h0M969.7 658.4h0M542.2 227.2h0M665.5 453.8h0M1024.4 669.2h0M380.9 769h0M1039.8 738.2h0M950.1 657.8h0M665.9 166.4h0M588.7 410.2h0M389.6 417.3h0M1006.3 661.2h0M160.2 519.5h0M740.5 201.8h0M1017.8 753.2h0M691.6 175.6h0M739.6 535h0M584.6 445.3h0M937.8 368.3h0M583.7 744h0M710.2 269.5h0M716.1 470.6h0M986.6 774h0M918.9 703.6h0M782.8 594.2h0M1036.5 742.9h0M969.7 364.5h0M995.2 659.4h0M987.1 771.7h0M947.3 365.7h0M1054 655.7h0M232.3 548.5h0M174.2 562.5h0M1036 694.9h0M1011.5 719.4h0M940.3 716.1h0M568 219.3h0M624.8 427h0M234.6 572.5h0M234.6 511.7h0M1019.6 672h0M192.2 525.1h0M595.7 443.7h0M693.3 160.2h0M164.5 531.4h0M672.2 439.6h0M716.8 467.3h0M505.1 528h0M973.6 622h0M153.8 553.5h0M709.3 478.5h0M249.3 574.2h0M911.9 729h0M210.7 551.6h0M205.1 508.9h0M700.8 456.7h0M994.8 703.2h0M607.4 397.4h0M950.4 763.7h0M376 794.6h0M730.9 166.7h0M984.2 736.6h0M521.7 492.4h0M1026.6 645.2h0M997.7 628.8h0M956.7 630.6h0M591 732.6h0M696.1 121.3h0M985.2 784.6h0M965 366.1h0M474 853.4h0M695.7 147.3h0M669.6 698.9h0M613.7 674.1h0M908.5 717.2h0M456.6 526.5h0M536.7 488.2h0M387.2 783.8h0M691.1 470.1h0M152.9 551.5h0M501.9 376h0M945.2 366.4h0M368.8 844.8h0M653.5 664h0M986.8 773.1h0M242.5 548.4h0M574 216.4h0M445 413.6h0M914.7 760.7h0M481.1 854.4h0M1001 774.8h0M682.8 148h0M268 537h0M958.1 660.9h0M932.5 759.9h0M218.8 502.2h0M976.2 777.6h0M197.7 546.6h0M602.4 647.5h0M428.3 837.2h0M629.1 652.2h0M1063.1 651.8h0M919.4 776.4h0M221.1 577.6h0M1025.3 708.9h0M935.6 372.3h0M429.6 534.9h0M738.6 148.9h0M1059.1 707.8h0M232.4 573.6h0M661.4 455.1h0M1008.5 648.7h0M193 527.3h0M663.5 691.5h0M717.3 831h0M584.5 399.9h0M980.5 625h0M411.9 816h0M382.4 759.1h0M337.7 835.9h0M571.1 460.8h0M206.8 565.2h0M711.3 838h0M542.9 219.1h0M519.5 991.9h0M632.1 684.4h0M593.1 453.3h0M592.1 466.8h0M780.4 562.4h0M957.2 691.8h0M780.3 593.4h0M605.3 400.9h0M233.1 536.8h0M442.3 586.9h0M565.3 232.5h0M1021.1 682.8h0M716.2 157h0M667.8 146h0M732.2 232h0M594 383.2h0M461.9 579.2h0M947.5 689.7h0M914 558h0M410.5 795.9h0M323.1 727.9h0M675.4 713.5h0M449.4 859h0M481.3 864.1h0M636.1 455.9h0M238.8 568.6h0M1010.6 669.4h0M1012.2 689.6h0M402.7 770.7h0M563 214.4h0M979.6 733.6h0M708.2 149.8h0M428.9 828.9h0M995.8 678.2h0M200.2 500.6h0M167 524.3h0M510.7 518.3h0M632.4 445h0M372.4 813.1h0M978.4 760.5h0M957.3 777.4h0M716.5 944.8h0M1028.4 694.7h0M607.5 699.5h0M193.8 530h0M985.1 686h0M936.6 669.7h0M170.3 520.5h0M679.3 119.6h0M201.8 514.9h0M1019.6 747.6h0M1025.3 758.4h0M195.3 516.3h0M161.8 521.7h0M610.2 427.8h0M168.7 544.4h0M1004.8 758.9h0M682.8 139.7h0M593 393.7h0M713.2 149.3h0M231.4 534.9h0M794.7 787.3h0M768.9 254.8h0M681.6 729.9h0M738.4 226.6h0M591.8 450.3h0M1027 712.2h0M551.3 762.1h0M208.8 520.2h0M620.6 394.3h0M706 580h0M514.3 464.1h0M616 431.8h0M766.1 587h0M593.2 430.2h0M571.7 437.6h0M992.6 692.3h0M711 437.4h0M165.3 512.4h0M933.1 679.3h0M380.1 832.7h0M216.1 528h0M245.3 535.4h0M688.9 433.2h0M493.2 513.8h0M253 536.5h0M571.8 228h0M535.7 235.6h0M485 464h0M1014.7 706.5h0M929.6 724.2h0M961.8 360.3h0M1033.7 629.9h0M432.4 566h0M725.3 183.3h0M439.7 450.8h0M529.4 1002.3h0M970.5 642.1h0M516.3 552.6h0M712.3 476.6h0M655.2 456.1h0M1011 670h0M615.2 664.4h0M322.8 850.3h0M516.6 415.6h0M786.1 268.3h0M717.9 943.6h0M240 547.8h0M452.1 847.8h0M1008.7 752h0M386.5 865.7h0M1033.4 718.7h0M196.8 502.7h0M755.7 560.9h0M582.8 446.5h0M443 567.4h0M732.6 849.6h0M629.6 692.9h0M947.6 710h0M399.8 774.1h0M638.3 449.1h0M635.9 416.7h0M520.4 996.6h0M417.5 398.9h0M723.5 146.7h0M542.2 499.7h0M943.1 726h0M724.2 567.9h0M1026.9 657.2h0M774.4 588.8h0M198.9 504.2h0M805.3 797.5h0M367.6 842.7h0M672.9 709.2h0M186.1 535.4h0M933.1 732.2h0M663.5 241h0M1045.7 669.5h0M992.4 708.3h0M1059.5 688.2h0M724.3 195.1h0M456.7 387h0M609.4 418h0M462.9 462.6h0M520 980.8h0M146.6 537.9h0M926.9 759.4h0M730.1 842.1h0M576.8 765.1h0M458.6 571.7h0M675.3 731.4h0M539.2 489.6h0M588.1 432.3h0M197.9 500.6h0M548.6 312.8h0M727.9 127.6h0M948.2 783.3h0M627.2 655.8h0M1046.1 730.3h0M548.3 215.7h0M600 246h0M1050.6 731.7h0M454.6 523h0M657.3 689.5h0M1002 694.7h0M166.4 555.3h0M461.7 526.9h0M605.1 650h0M673.1 185.1h0M698.9 188.2h0M581.9 431.3h0M776.5 571.6h0M905.4 552.1h0M1007 639.8h0M960.3 758.7h0M716.4 587.2h0M937.1 773.1h0M955.1 360.1h0M566.1 445h0M215.7 504.5h0M620.8 455.8h0M568.4 770.6h0M963.5 701.8h0M612.9 660.2h0M321.9 852.6h0M210 567.7h0M687.1 423.9h0M390.8 817.2h0M732.7 559h0M704.6 830.3h0M254.2 522.3h0M678.4 233.8h0M928 783.9h0M628.5 469.9h0M927.3 677.1h0M906.2 720.9h0M1018.6 762.1h0M917.1 762.3h0M1047.8 675.4h0M239.7 574.3h0M984 658.4h0M658.3 156.5h0M637.4 907.2h0M213.2 545.5h0M372 840.6h0M511.1 879.5h0M1023.5 652.6h0M713.4 930.5h0M166.9 519.7h0M151.2 526.3h0M575.9 471.5h0M582.4 236.2h0M520.2 478.1h0M391.7 803.4h0M586.6 423h0M608.1 394.7h0M650.4 661.2h0M914.4 538.4h0M361 865.1h0M214.5 528.8h0M516.7 501.7h0M717.9 826.4h0M332.9 851.1h0M1064.8 654h0M324.6 790.5h0M394.2 787.8h0M1062.3 678.2h0M505.3 579h0M706.9 845h0M617.5 237.1h0M811.9 213.1h0M1061.7 702.4h0M597.1 663h0M695.5 131.6h0M385.6 867.2h0M585.4 405.7h0M603 379.9h0M952 783.3h0M182.3 528.8h0M985.3 632.2h0M1044.3 632.2h0M658 678.9h0M647.1 427.7h0M555.2 771.8h0M443.7 528.6h0M211.6 515.6h0M730 845.2h0M483.3 873.7h0M661 455.7h0M526.4 469.1h0M749.3 588.3h0M376.3 724.3h0M241.8 518.8h0M590.3 236.1h0M655.2 457.9h0M896.2 699.5h0M654.4 918.2h0M610.8 438h0M1020.2 678.6h0M808 336h0M611.4 646.4h0M910.6 722.9h0M966.5 647.7h0M164.6 551.3h0M684 467.2h0M438.7 555.2h0M601.9 390.7h0M575.5 758.2h0M1061 658.9h0M747.6 791.6h0M450 395.2h0M390.9 823.1h0M987.3 675.1h0M491.4 563.9h0M925.9 755.9h0M883.5 377.1h0M910.2 723.5h0M352.7 811.1h0M499.5 519.2h0M427.3 440.3h0M997.1 718.7h0M198.5 520.2h0M241.7 505.8h0M531.6 495h0M945.5 735h0M450.6 521.1h0M612.8 700.8h0M950.1 662h0M910.6 738.6h0M699.7 452.3h0M578.2 452.9h0M1051 708.4h0M450.7 462.2h0M515.9 1014.1h0M934.1 708.1h0M534.8 488.3h0M908.8 751.2h0M716.1 169.8h0M939.9 780.5h0M652.8 682.4h0M254.6 540.3h0M408.5 802.3h0M528.4 997.7h0M732.6 150.3h0M999.4 657.2h0M688.5 430.3h0M605.5 661.6h0M998 696.7h0M1016.1 757.5h0M505.7 450.6h0M331 828.6h0M684 254.6h0M393.5 758.8h0M485.6 496.8h0M915.5 717.7h0M980.8 774.4h0M921.7 395.9h0M1022.9 701.2h0M577.9 248.1h0M956.3 772.1h0M986.2 730.8h0M597.5 647h0M909.4 731.9h0M213.8 534.2h0M630.6 433.8h0M755.3 592.9h0M385.9 770.5h0M194.6 500.4h0M977.4 646.7h0M977 695.8h0M249.9 549.1h0M725.3 133.7h0M683.2 447.3h0M979.6 636.6h0M716.8 826.8h0M1033.7 761.5h0M961.8 644.3h0M368.4 778.3h0M530.1 449.4h0M523.4 516.5h0M362.8 861.9h0M1022.5 728.5h0M632.1 469.6h0M827.9 299.6h0M210.2 577.7h0M768.4 273.6h0M548.1 236.5h0M1005.9 703.8h0M750.9 204.6h0M614.1 437.6h0M381.2 730.5h0M491.3 588h0M337.4 795.3h0M380.4 733.9h0M623.3 417.7h0M298.9 806.5h0M615.5 656.7h0M604.8 409.2h0M464.6 419.8h0M200.5 550.4h0M379.6 772.2h0M943.6 712.7h0M200.3 554.3h0M169.8 543.8h0M719.3 128.8h0M168.8 566.2h0M722.3 453.2h0M694.3 447.1h0M445.5 449.6h0M418 865h0M785.4 253.9h0M590.9 422.7h0M719.2 819.3h0M695.9 855h0M604.4 445.1h0M691.9 462.9h0M674.7 181.5h0M626.5 646.7h0M1046.4 675.8h0M781.6 588.7h0M755.7 543.5h0M242.6 544.5h0M966.1 766.8h0M975.9 675.8h0M372.3 779.5h0M201.1 556.6h0M325.5 812.5h0M965 646.8h0M230.1 528.6h0M209.4 573.5h0M725.2 460h0M1035.4 700.3h0M1019.7 651.1h0M620.2 649.3h0M517.3 455.6h0M742.4 218.3h0M707.3 450.6h0M600 472.2h0M967 693h0M517.8 519.9h0M479.2 488.5h0M681.1 463.3h0M976.6 653.2h0M165.6 542.1h0M648.1 660.8h0M929.7 737h0M906.5 732.8h0M601.3 375.5h0M499.8 441.7h0M187.5 535h0M579.3 240.2h0M941 678.2h0M576.9 780.7h0M202.9 544.8h0M985.1 751.1h0M153.8 546.9h0M596.5 425.2h0M570.1 438.3h0M340.2 818.9h0M1048.8 681h0M591.2 400.4h0M1052.8 642.1h0M614.2 694.5h0M1039 730.9h0M225 532.2h0M543.6 238.9h0M369.9 865.4h0M953.3 774.4h0M727.1 856.5h0M727.9 820.7h0M390.9 425.2h0M642.9 439.9h0M617 644.5h0M996.4 733.8h0M487.7 867.2h0M252.6 537h0M746.6 597.2h0M943.1 712.1h0M652.5 442.1h0M635.8 247h0M911.6 756h0M695.7 157h0M1022 675.5h0M754.4 569.4h0M529.4 488.4h0M453.2 853.6h0M651.9 676.2h0M317.5 857.3h0M183.7 506.9h0M457.8 565.8h0M1023.8 665.6h0M621.5 398.1h0M584 438.2h0M678.7 719.6h0M291.1 819.8h0M667.6 464.7h0M145.3 542.2h0M1004.5 694.1h0M312 825h0M513.2 564.3h0M517.4 483h0M958.6 682.2h0M749.8 226.3h0M616.2 466.3h0M236.9 565h0M368.3 720.5h0M555 233.9h0M1024.9 733.6h0M911.3 748.9h0M610.5 387.3h0M190 537.5h0M695.4 851.5h0M918 726.3h0M666.3 149h0M554 216.1h0M390.7 754.3h0M925.7 688.2h0M567.7 476.8h0M644.6 658.8h0M714.7 173.5h0M517.4 973.9h0M699.5 450.9h0M442 836.6h0M630 408.7h0M737.8 148.6h0M579.2 765h0M656.8 693h0M522.8 439.5h0M804.4 781.6h0M728.3 145.3h0M618.4 694.8h0M615.3 441.6h0M741.1 186.7h0M730.3 555.2h0M662.2 683.3h0M378.4 748h0M472.2 423.4h0M516.7 563.5h0M968.1 622.8h0M208.3 536.1h0M593.3 668.5h0M214.9 544.7h0M1020.7 665.1h0M612.3 670h0M577.6 234.1h0M992.1 663h0M484.1 447.5h0M444.8 838.5h0M616.9 456.9h0M982.3 653.3h0M442.7 458.5h0M991 723h0M644.5 425.3h0M246.4 575.4h0M1016 628.5h0M621 709.2h0M717 155.5h0M608.5 396.5h0M617.1 399.8h0M947.8 700h0M1037.1 696.1h0M272.9 529.6h0M776.6 259.3h0M593.4 222.6h0M1023 624.9h0M708 581.5h0M786.6 581.6h0M721.7 178.4h0M224.8 573.9h0M730.4 242.2h0M654.2 697.8h0M609.7 659.8h0M680.4 732.4h0M354.6 786.2h0M939.4 708.6h0M604.9 448.6h0M411.6 803.9h0M621.7 672.9h0M538.5 480.3h0M776.3 566.5h0M360.1 720.7h0M722 472.2h0M569.3 765.4h0M428.8 843.2h0M618.1 705.9h0M971.6 738.8h0M252.6 547.7h0M957.2 744.5h0M225.1 544.7h0M511.3 439.9h0M488.7 446.5h0M364.7 819.4h0M486.2 518h0M1051.4 719.1h0M690.8 429.5h0M717.2 947.7h0M999.3 649.4h0M734.8 567h0M740 276.5h0M615.9 411.5h0M458.9 860.3h0M192.8 546.3h0M1009.3 762.7h0M952.3 689.4h0M894.3 710.9h0M938.1 740h0M1013.1 752h0M221 560.5h0M239 529.2h0M742.4 142.7h0M926.3 713.3h0M243.4 510.7h0M595.4 723.4h0M1014.1 714.4h0M388.9 424.3h0M554 211.4h0M629 431.8h0M911.2 729.3h0M699.8 466.4h0M735.8 148.2h0M474.6 544.3h0M679.9 153.2h0M937.9 779.1h0M494.5 436.6h0M599.1 717.4h0M969 689h0M983.3 635.2h0M1014.3 704.6h0M720.4 596.8h0M378.8 747.4h0M958.6 782h0M669.1 425.1h0M567.8 773h0M680.7 730.3h0M511.5 935.5h0M1008.7 676.5h0M1019 766.1h0M623.9 464.3h0M250.4 525h0M627.5 682.9h0M502.3 511.8h0M1048 643h0M990.2 617.6h0M610.8 384.7h0M620.4 673.4h0M924.7 784.1h0M500.8 527.9h0M385.9 737.2h0M202 559.4h0M229 534.2h0M612.5 642.8h0M546 253.8h0M408.8 404.7h0M384.9 768.6h0M1001.1 721.5h0M744.5 599.1h0M692.3 142.4h0M943.2 704.3h0M235.9 553.7h0M1022.5 753.6h0M515.6 498h0M201.8 554.6h0M995 730.6h0M374.3 751.7h0M477.3 470.3h0M572.8 758h0M620 415.3h0M193.1 505.8h0M1005.1 734.1h0M222.4 551.2h0M939.3 755.1h0M240.5 572.8h0M980.8 773.2h0M977.7 621h0M520.3 450.7h0M388.2 733.9h0M787 277.9h0M705.4 128.1h0M668.3 425.7h0M671 146.8h0M397.1 765.5h0M799 279.7h0M402.2 795.1h0M259.3 543.8h0M733.8 199.7h0M339.2 726.3h0M258.6 529.9h0M561 772.7h0M1041 642h0M394.8 799.5h0M238.8 542.1h0M993.5 697.3h0M600 653.1h0M978 650.9h0M729 588.8h0M908.3 741.1h0M548.7 245h0M187.7 525.1h0M1045.5 732.5h0M992 681h0M356.1 722.5h0M940.1 716.1h0M943.5 377.6h0M327.8 844.6h0M631.7 466.2h0M156 560.9h0M214.9 559.5h0M530.7 443.6h0M591.1 404.5h0M958.5 728h0M220.6 546.1h0M238.9 559.9h0M614.8 407.6h0M445.9 837.7h0M549.7 215.2h0M410.4 407.1h0M708.2 936.1h0M927.5 701.5h0M1014.1 635.1h0M780.9 595.2h0M453.4 443.2h0M892.5 711.2h0M546.5 231.5h0M808.8 231.6h0M546.5 231.6h0M1022.9 678.3h0M599.6 399.9h0M590 726.1h0M690.4 146.8h0M526.6 998.5h0M215.1 560.3h0M332.5 751.1h0M482.5 536.4h0M188.7 544.2h0M989.8 777h0M688.5 449.6h0M955.6 713.2h0M195.8 518.7h0M964.4 359h0M785.7 563.7h0M532.5 498.5h0M1026.2 736.1h0M292.9 840.6h0M1062.7 696.6h0M941.4 725.4h0M724.3 229.8h0M730.9 185h0M767.1 588.8h0M439.9 864.5h0M568.1 760.2h0M567.4 470.5h0M730.2 189.5h0M618.8 646.6h0M641.7 696.6h0M974.9 773.6h0M387.9 750.6h0M1028.4 747.5h0M987.7 646.7h0M638.5 465.7h0M714.3 155.2h0M550.6 214.3h0M296.7 822.2h0M782.7 594.4h0M916.1 762.3h0M555.1 452.5h0M635.1 696.7h0M910.9 749.9h0M511.6 533.5h0M967.6 758.4h0M723.3 547.5h0M1009.2 759.4h0M1012.1 742.4h0M559.5 446.7h0M715.7 439.5h0M784.1 293.5h0M998.9 650.3h0M698.8 464.6h0M170.1 522.4h0M1003.1 654.5h0M373.5 725.6h0M953 766.9h0M962.6 740.9h0M233 556.1h0M664.4 441.1h0M690.5 454.3h0M605.9 379.8h0M957.8 682.5h0M588 240.3h0M959.1 676.7h0M708.9 937.2h0M350.1 790.6h0M685.2 180.4h0M172 567.3h0M449 589.9h0M621.2 466.5h0M1057.1 664.4h0M914.6 772.4h0M675.5 144.1h0M189.5 546.4h0M599.9 230.8h0M739.5 846.5h0M528 427h0M398.3 794h0M710.4 583.8h0M751.8 606.4h0M675.9 139.5h0M518.3 969.7h0M901.5 564h0M922.1 697.2h0M316.3 825.5h0M682.1 112.1h0M697.9 442.1h0M643.3 426.8h0M490.9 441.7h0M672.5 436.1h0M684.4 183.8h0M919.4 757.9h0M661 426.9h0M715.2 168.9h0M1003.9 693.7h0M1047.7 740.7h0M248.1 537.4h0M917.3 705.5h0M438.2 549.6h0M1020.4 725.5h0M183.2 542.9h0M599.9 678h0M610.9 455h0M707.4 444.3h0M710.8 195.3h0M375.1 729.7h0M326.9 820.7h0M685.3 127.3h0M309.6 790.3h0M300.3 810.3h0M203.3 538h0M777.8 298.7h0M1033.6 666.8h0M730.7 194.3h0M691.9 467.6h0M1020.4 733.8h0M931 674.4h0M206 536.9h0M362.4 736.6h0M362.8 750.1h0M946 676.2h0M1067.1 694.6h0M590.5 434.7h0M659.1 452.4h0M441.1 568.2h0M917.8 744.5h0M374 849.5h0M403.9 804.5h0M709.1 581.3h0M747.2 601.9h0M597.2 650.7h0M387.1 744.6h0M327.6 759.9h0M709.3 468.8h0M204.2 510.7h0M947.2 773.7h0M917.1 737h0M359.3 825.8h0M976.8 689.7h0M183.8 515.3h0M965.6 636h0M666.8 458.3h0M331.5 766h0M739.2 148.4h0M608.3 646.5h0M607 664.5h0M786.8 567.2h0M423.1 540h0M1064.6 669.4h0M924.1 727.6h0M470.6 552.2h0M332.8 852.8h0M235.9 571h0M676.1 439.1h0M458.5 594h0M601.6 398.1h0M497.9 540.4h0M234.1 579.2h0M224.8 530h0M662.6 688.6h0M576.7 218.3h0M725.3 167.3h0M241.6 536.6h0M481.1 461.2h0M973.2 650.1h0M462.6 420.1h0M568.5 252.2h0M1016.8 743.1h0M528.8 512.3h0M693.8 151h0M698.6 445.7h0M617.2 670.4h0M908.5 734.9h0M1044.2 681.1h0M634.4 428.7h0M736.2 211.3h0M641.7 423.1h0M676.8 734.8h0M997 770.9h0M634.4 675.3h0M645.6 453.3h0M633.7 418.5h0M1020.6 728h0M602 649.7h0M657.1 438.9h0M568.5 211.1h0M483.4 573h0M1016.7 763.5h0M155.4 544h0M992.8 654.7h0M620.4 404.1h0M1035.3 631h0M380.3 828.1h0M675 717.5h0M577.4 747.5h0M195.7 566.4h0M364.4 735.9h0M685.1 136.2h0M651.7 672.3h0M733.6 152.2h0M568.6 761.3h0M668.1 167.4h0M311.5 826.9h0M570.2 480h0M657 430.8h0M190.5 563.2h0M474.9 566.2h0M374.5 756h0M1030.2 722.3h0M969.3 632.6h0M699.8 155.1h0M975.9 676h0M177.5 505.6h0M675.8 457.5h0M992.8 702.3h0M500.2 576.8h0M910.4 743.7h0M718.9 820.4h0M921.3 779.6h0M430.1 566.2h0M585.7 468.8h0M386.6 774.1h0M571.2 459.2h0M503.2 456.4h0M456.8 854.9h0M332 830.5h0M414.3 419.1h0M203.1 531.3h0M491.9 871.9h0M368.7 747h0M244.2 506.3h0M230.2 567h0M606.9 433h0M661.1 446.2h0M725.8 819.9h0M604.1 394.1h0M948.1 356.6h0M673.4 427.4h0M596 455h0M611.2 672.1h0M165 563.9h0M550.3 214.5h0M582.3 449.1h0M244.2 573.3h0M278.6 531.4h0M594.9 719.9h0M607.7 384.9h0M599.7 450.8h0M968.7 780.2h0M255.2 537.6h0M499.5 528.9h0M326.8 802.9h0M585.4 466.3h0M1008.1 676.9h0M304.3 848.6h0M1030.7 739.7h0M582.5 230.1h0M828.8 217.5h0M627.9 453.2h0M254.4 534.7h0M740.6 600.5h0M374.1 735.4h0M202.2 508.7h0M744.6 174.8h0M1037.4 705.4h0M697.8 150.1h0M1048.9 707.2h0M354 790.7h0M748.7 587.6h0M569.3 477h0M734.4 563.4h0M735.1 604.9h0M670.7 169.9h0M605 230.8h0M520.7 996.8h0M579.7 230.7h0M553.8 462.8h0M614.8 466h0M961.4 731.5h0M246.4 571.5h0M398.3 771.3h0M216.3 537.7h0M565.4 237.4h0M757.9 567.6h0M538.9 489.6h0M691.2 428.3h0M632.3 663.2h0M620.3 406.5h0M990.9 727.8h0M199.1 522.6h0M663.5 156.4h0M378.9 729h0M536.4 459h0M1042.1 749.3h0M427.3 398.1h0M550.8 237.9h0M637.7 909.7h0M989.5 748.7h0M541.4 246.1h0M650.4 697.9h0M262 533.4h0M632 695.5h0M335.1 819.4h0M923.6 762.1h0M1012.4 633.6h0M983.8 720.7h0M556.7 770.6h0M230.7 534h0M472.9 586.5h0M313.1 788.1h0M1027.4 619.4h0M588.1 224.2h0M539.5 457.7h0M709.2 160.7h0M548.1 778h0M954.2 659.9h0M1037.6 729.3h0M525.5 474h0M954.6 759h0M609.8 655h0M964.3 696.6h0M594.5 471.2h0M488.3 359.6h0M572.1 462.5h0M654.9 685.8h0M602.3 449.5h0M230.2 506.9h0M708.5 830.5h0M1034.4 759.2h0M334 792.1h0M1037 663.5h0M631.6 678h0M824.9 300.1h0M904.5 733.3h0M702.7 118.1h0M325.7 780.6h0M721.7 468.2h0M196.4 500.2h0M468 522.9h0M973 679.4h0M736.9 588.5h0M607.4 403.9h0M454.4 455.5h0M909.6 764.1h0M767.5 581.4h0M729.8 153.7h0M623.3 879.8h0M968.2 733.9h0M1011.4 670.1h0M610.6 452.7h0M205.6 535.5h0M941.3 733.9h0M247.3 542.4h0M611.2 429.3h0M605.1 444.7h0M431.9 567.7h0M926.7 709.9h0M624.5 678.7h0M916.6 775.5h0M724.1 165h0M434.1 576.8h0M727.8 855.1h0M919.7 788.7h0M673 119.8h0M579.9 454.5h0M720.9 822.7h0M1052.2 635.6h0M1064.6 666.5h0M400.7 820.3h0M473.3 869.2h0M363.9 751.9h0M1012 675.4h0M153.7 545.6h0M544.3 484.6h0M1051.3 714.1h0M985.5 622h0M738.9 193.5h0M645.1 432.5h0M693.1 166.5h0M386.4 758.1h0M614.8 443.8h0M201.3 523.2h0M949.1 704.2h0M987.6 769.2h0M174.8 513.1h0M385.9 746.4h0M936.2 676.5h0M989.8 721.1h0M990.7 713.6h0M374.7 764.9h0M971.1 713.4h0M385.8 731.4h0M574 467.8h0M366.6 796.6h0M596.3 389.3h0M1031.4 761.5h0M616.2 456.6h0M991.4 749.9h0M1009.4 670.8h0M720.3 143.4h0M756.4 227.5h0M712 140.9h0M694.3 145.4h0M705.8 190.6h0M985.2 747.4h0M568.1 214h0M668.8 690h0M737.4 240.7h0M1023 676h0M184.7 537h0M439.7 456.3h0M922.9 751.9h0M742.5 159.2h0M977.7 744.3h0M671.7 696.8h0M390.2 780.3h0M657.9 430.9h0M217.3 545.1h0M371.5 736h0M781 234.2h0M771.2 585.2h0M681.6 117h0M210.7 508.5h0M407.9 821.5h0M1054.9 642.6h0M595.3 387.7h0M456.4 444.7h0M597.6 470.6h0M978.9 747.3h0M609.3 656.3h0M563 222.2h0M984.6 703.3h0M375.9 752.2h0M397.4 820.7h0M727.7 550.7h0M625.6 647.5h0M943.9 747h0M221.3 542.1h0M716.8 857.7h0M547.6 467.2h0M394.7 784.2h0M404.1 849.4h0M293.5 817.2h0M590.2 726.1h0M519.2 432.5h0M614.8 390.7h0M762.3 568.9h0M773.7 590.4h0M997.4 746.9h0M380.7 767.6h0M263.7 527.1h0M386.4 732.1h0M494.2 457.8h0M228.5 542.6h0M240 531h0M781.2 227.3h0M429.4 548.6h0M585.1 427.9h0M262.3 525.4h0M349.5 826h0M981.8 682.9h0M148.1 544.9h0M460.5 444h0M961 699.4h0M955.4 696.4h0M710.2 167.3h0M749.8 591.7h0M723.8 132.6h0M195.9 559.4h0M628.9 684.5h0M614.5 675.5h0M514.8 952.3h0M723.5 588.4h0M712.3 170h0M507.2 453.1h0M692.4 151.5h0M606.2 397h0M1017.9 749.5h0M410.2 432.4h0M951.2 368.4h0M734.8 192h0M553.8 486h0M784.8 582h0M924.7 759.5h0M636.8 417.5h0M718 594.7h0M376 730.4h0M810.7 288.4h0M1048.1 688.9h0M330.4 846h0M957.9 732.2h0M179.1 560.9h0M1044.1 688.2h0M1033.7 713.5h0M667.4 445.2h0M254.8 528.5h0M238 540.5h0M962 694.2h0M454.8 852.5h0M923 708.5h0M570.5 448.9h0M590.8 392.6h0M987.3 735.7h0M684.3 451h0M639.9 663.3h0M172.3 552.5h0M376.8 836h0M905 717.2h0M571.6 220.9h0M563.5 768h0M256.6 540h0M584.3 449.4h0M1007.7 635.5h0M448 443.9h0M388.4 397.3h0M578.3 763.2h0M642.9 425.8h0M349.7 795.4h0M568.9 223.2h0M781.2 235.2h0M234.4 513.9h0M729.8 593.1h0M708.6 177.4h0M582.2 432.3h0M614.7 658.3h0M1009.4 684.5h0M926.5 727.7h0M936.2 738.9h0M563.8 231.4h0M546.8 254.4h0M438.4 453h0M517.8 973.5h0M450.5 589.5h0M445.8 462.6h0M612.9 691.3h0M762.1 597.1h0M669.9 703.4h0M206.4 498.3h0M730 586h0M201.2 499.6h0M659.4 123.1h0M1037.7 734.2h0M797.5 277.1h0M779.2 581h0M1022.1 691.5h0M494 514.9h0M956.8 634.1h0M1053.3 721.8h0M522.3 484.4h0M717.4 462.5h0M1028.3 667.9h0M340.4 744.6h0M377.7 838.7h0M679.2 444.3h0M1028.6 645.9h0M405 863h0M592.3 438h0M672.3 150.6h0M981.7 652.4h0M905 710.5h0M599 446.7h0M687.4 454.4h0M157 553.6h0M196.1 510.8h0M646.5 460.4h0M987.9 690.6h0M182.1 508h0M604.5 700.5h0M587.3 440.2h0M1000.4 647.2h0M221.1 576.8h0M1043.9 744.1h0M645.7 428.2h0M423.9 550.5h0M1022.8 641.7h0M741.9 175.4h0M618.2 652.9h0M1006.5 750.7h0M488.5 555.2h0M725.5 216.6h0M947.9 665h0M562.3 235.2h0M398.2 792.4h0M616.2 393.8h0M597.7 378.7h0M385.2 865.9h0M185.7 523h0M665.8 246.1h0M282.1 529.1h0M975.7 744.5h0M933.8 731.7h0M966.8 764.3h0M622.4 882.9h0M929.8 725.9h0M709.4 122.8h0M630.1 685.6h0M407.3 428.3h0M361.6 841.1h0M191.1 512.5h0M640.6 442.7h0M496.6 536.7h0M985.9 711.1h0M386.6 815.8h0M757.4 195.5h0M477.6 459.6h0M1015.9 713.5h0M181 555.5h0M919.1 734.2h0M661.8 682.6h0M513.8 519.6h0M646.2 680.1h0M970.9 775h0M951.1 724h0M1020.2 757.4h0M564.3 235h0M563.2 249.1h0M1016.6 693.9h0M995.8 700.5h0M190.4 570.1h0M971.3 651.4h0M325.5 831.7h0M232.1 525.1h0M689.6 168.2h0M489.6 864.1h0M906.7 708.6h0M724.9 181.7h0M403.2 789.7h0M685 233h0M224.4 541.2h0M639.8 452.4h0M781.6 274.9h0M725.2 452.1h0M442.2 831.7h0M984.9 651.6h0M564.2 216.9h0M440.6 454h0M648.2 465.4h0M249.6 535.6h0M237.9 567.2h0M403.1 780.4h0M1017.4 742.9h0M356.3 722.8h0M215.8 572.5h0M776.3 579.2h0M909.2 716.3h0M983.4 736.8h0M640.5 687.1h0M592.6 402.1h0M798.4 278.1h0M917.7 752h0M882.9 370.5h0M615.1 441.8h0M341.5 768.6h0M568.9 774h0M463.6 863.5h0M752.4 553.7h0M617.1 416.7h0M1021.5 738.8h0M681.2 139h0M989.3 707.7h0M927.6 690.8h0M1023.2 756h0M967.2 767h0M229.2 548.8h0M989.7 754.4h0M594.1 463.2h0M295.5 821.3h0M482.2 861.1h0M630.1 661.5h0M504.1 513.8h0M389.3 772.7h0M466.8 559.8h0M177 562.2h0M604.2 657.8h0M445.9 863.9h0M449.9 415.3h0M623.4 417.7h0M534.9 450.3h0M921.6 726.1h0M938.8 769.9h0M581.1 460.3h0M427.3 541.1h0M680.8 164.3h0M198.5 526.3h0M232.1 558.1h0M639.8 457.1h0M679.9 710.7h0M549.2 498.8h0M206.4 539.3h0M341.8 778.5h0M195 528.3h0M510 437.5h0M698 455.5h0M709.8 839.4h0M1027.7 761.7h0M932 705.2h0M775.9 588.4h0M504.5 547.3h0M160 541.5h0M590.5 442.1h0M731.3 191.7h0M1025.3 762.5h0M471.6 550.6h0M147.1 533.8h0M197 523.1h0M217.2 519h0M987.7 685.6h0M373.9 824.5h0M784.1 564.8h0M586.8 411.6h0M624.4 647.5h0M550.2 769.2h0M983.2 666.8h0M359.4 844.8h0M1026 750.4h0M339.6 784.9h0M711.5 582.1h0M694.9 461.5h0M739.5 174.1h0M937.3 719.8h0M178.6 538h0M1033.4 664.3h0M582.1 450.3h0M531.6 993.7h0M596 431.9h0M725.1 553h0M1028.4 662.2h0M781.9 587.6h0M394.3 387.8h0M931.7 775.5h0M413.6 445.8h0M1045.4 665.1h0M646.8 659.8h0M255.5 545h0M721.5 846.2h0M181.1 567h0M678.5 443h0M634.9 689.1h0M518.8 548.6h0M220 570.3h0M336.2 764.2h0M956.7 725.4h0M176.5 571.1h0M931.1 778.3h0M729 600.5h0M347.4 793.9h0M565.4 445.1h0M357.8 718.2h0M691.8 141.3h0M584.6 414.4h0M312.2 863.6h0M481.2 880.9h0M982 777.9h0M697.3 467.3h0M630.9 697.3h0M674.7 704.3h0M650.9 445.8h0M950.7 663.8h0M551.5 774.2h0M608.3 672.4h0M927.5 750.5h0M464.1 592.1h0M463.7 417.1h0M566.4 226.6h0M496.8 559.5h0M616.7 432.7h0M935.5 766.5h0M633.3 437.5h0M916.2 763.1h0M565.6 463.3h0M759.5 602.6h0M682 429.3h0M729.5 593.2h0M618.5 660.9h0M224.5 573.9h0M440.9 570.2h0M975 672.9h0M1032.8 688h0M494.7 882.3h0M721.1 158.6h0M681.2 720.7h0M214.1 556.4h0M685.3 236.8h0M924.3 726.8h0M1005 665.7h0M783.9 241.9h0M219.7 578.7h0M198 519.4h0M679.8 138.2h0M930.5 773h0M707.6 441.7h0M608.1 697.5h0M948 708.6h0M1022.8 758.1h0M542.7 449.1h0M766.3 580.7h0M370.8 726.8h0M977.5 773.7h0M994.8 715.1h0M392.3 746.3h0M243.3 515.7h0M518.5 556.2h0M1023.5 624.5h0M675.6 168.7h0M625.9 438h0M1012.1 717.8h0M619.3 668.1h0M995.4 633.8h0M569.8 232.4h0M668.4 692.4h0M721.9 176.4h0M599.4 233.2h0M691.1 424.7h0M721.8 854.6h0M589 441.4h0M613.5 421.3h0M385.8 740.7h0M570.2 465.2h0M618 461.9h0M594.3 452.2h0M229.4 522.5h0M804.8 223.4h0M196.9 543.1h0M661.4 698.2h0M935.9 743.3h0M1004.6 746.8h0M1026 706.7h0M175.2 550h0M929.3 352.3h0M219.9 556h0M785.5 246.8h0M685.3 155.2h0M171.9 542.4h0M632.5 669.8h0M1053.5 728.7h0M227.6 536.9h0M910.4 727.1h0M231.8 513.5h0M680.5 432.9h0M238.6 575.9h0M575.6 469.1h0M717.6 471.8h0M751.8 602.9h0M714.2 829.4h0M460.3 861.2h0M744.2 200.6h0M1038.5 702.6h0M209.8 550.2h0M399.8 771.2h0M816.1 238.7h0M957.4 774.1h0M766.1 592.7h0M717.3 227.6h0M685.8 247h0M942.3 744.3h0M663.2 439h0M728.7 458.4h0M614.6 642.7h0M932.1 364h0M383.7 840.7h0M690.6 422.1h0M449.2 594.2h0M671.8 436.2h0M987.1 699.1h0M729 592.8h0M723.6 231.1h0M1057.1 704.7h0M1050.1 645.6h0M968.5 754.9h0M261.7 530h0M405.1 402.4h0M221 538.9h0M1009.8 735.4h0M938.5 371h0M670.7 246.3h0M1006.8 723.2h0M557.1 229.2h0M721.6 819.6h0M1052.9 661h0M716.7 451.4h0M213.2 538.4h0M666.1 430.7h0M167.2 554.8h0M511.2 518.3h0M946.5 711.3h0M391.8 818.3h0M386.1 415.1h0M380.7 779.5h0M619.5 697.4h0M558.1 245.3h0M392.7 782.5h0M606 645.7h0M595.1 450.1h0M680.2 186.5h0M497 544h0M897.5 726h0M184.1 557.9h0M696.5 453.9h0M314.5 777.7h0M182.9 566.5h0M482 523.2h0M1000.1 749.4h0M478.2 588.1h0M224.2 540.7h0M678 711.3h0M1007.6 750.7h0M206.5 511.5h0M531.9 485h0M604.9 669.3h0M807.4 792.4h0M609.5 433.5h0M936.1 776.1h0M655.9 439h0M966 684.9h0M512 535.5h0M732.6 589.8h0M629.5 696.1h0M468 464h0M681.7 154.5h0M324.1 808.2h0M725.1 169.4h0M609 467.4h0M950.6 714h0M965.7 646.4h0M989.7 697.4h0M225.7 551.1h0M757.7 604.5h0M945.6 767.7h0M367.7 731.1h0M182.2 515.7h0M636.5 414.1h0M806.7 788.3h0M658.5 455.3h0M727.9 590.2h0M1032.2 756.4h0M333.1 739.4h0M894.5 571.4h0M996.4 634.5h0M769.5 234.2h0M483.4 507.9h0M223.3 519.3h0M545.5 230.9h0M469.6 583.6h0M427.9 567.3h0M948.9 762.6h0M705.2 235.7h0M773.9 584.2h0M513.7 527.2h0M995.8 676.9h0M948.6 711.4h0M577.1 761.6h0M958.8 777.6h0M611.4 844.4h0M622.1 689.8h0M931.6 750.7h0M658.6 427.4h0M676.7 424.9h0M1014.8 721.3h0M593.1 401.4h0M612.1 440.9h0M701.5 859.3h0M625.8 891.6h0M979.1 657.3h0M989.4 750.4h0M1057.3 695.4h0M344.2 751.6h0M998 750.1h0M986.7 654.9h0M921.4 696.7h0M1005.5 737.2h0M675.5 698.7h0M572.9 770.3h0M1020.7 654.1h0M545.4 251.8h0M754.2 546.5h0M1006.1 637.5h0M527.3 502.2h0M156.9 553.4h0M298.4 811.5h0M544.1 505.1h0M628.1 438.4h0M1019.5 688.2h0M1038.1 690.9h0M739.9 716.7h0M667.4 174.2h0M508.3 530.3h0M926.1 695.8h0M732.9 196.9h0M1029.7 757.5h0M170.7 534.6h0M456.4 386.4h0M1016.4 728.6h0M1020.7 636.6h0M367.5 732.6h0M399.6 784.9h0M589 240.1h0M759.6 595.8h0M404.3 795.4h0M989.5 714.7h0M189.9 560.8h0M481.9 568.8h0M1042.1 630.1h0M710.8 585.1h0M602.7 459.8h0M751 549.1h0M176.1 517h0M482.6 868h0M586.9 469.7h0M626.7 655.1h0M726.6 568.6h0M772.3 581.2h0M717.9 211.6h0M695.1 929.2h0M1060.2 687.4h0M554.1 242.6h0M980.6 777.3h0M786 582.3h0M411.3 802.9h0M1028.7 624.4h0M715.6 936.8h0M484.1 497.9h0M222 577.3h0M591.5 437.7h0M927.7 370.4h0M659.1 677.4h0M986.5 718.9h0M564.8 773.2h0M1013.5 675.3h0M158 543.4h0M639.7 453.1h0M617.1 666.2h0M456.1 596.4h0M920.8 728.4h0M240.6 540.8h0M690.4 441.6h0M738.5 543.8h0M670.6 694.3h0M606.2 677.6h0M722.4 234.9h0M477.5 559.4h0M451.3 448.9h0M596.1 460.1h0M515.6 517.6h0M724.3 150h0M361 723.8h0M205.1 555.3h0M573 473.3h0M371.3 770.9h0M620.9 875.8h0M717.5 465.8h0M555.4 453.2h0M1027.8 728.5h0M174.2 561.8h0M606.4 403.4h0M1003.7 758.2h0M778 578.9h0M677.4 725.6h0M216.3 520.5h0M485.7 589.1h0M574.6 444.2h0M949.2 718.6h0M972.6 640.5h0M510.9 552.9h0M630.6 439.3h0M717.4 171.9h0M610.5 460.8h0M707.6 475.6h0M561.9 250h0M634.6 407.7h0M624.2 686.2h0M937.9 671.8h0M204.6 575h0M783.3 310.4h0M722.3 849.8h0M642.2 703.8h0M547 223.7h0M707.2 192.4h0M717.6 946.6h0M749.1 595.5h0M599.8 450.7h0M989.6 743.9h0M326.7 825.7h0M212.9 511.5h0M603.8 438.5h0M737.8 529.8h0M337.2 853.1h0M1047.7 676.2h0M751.9 590.9h0M188.8 525.1h0M262.8 537.8h0M1015.3 663.8h0M683.8 243.8h0M584.9 432.9h0M919.4 755.8h0M316.7 791.7h0M581.2 767.2h0M250.1 502.5h0M533.4 477.5h0M684.6 458.3h0M194 553h0M1049.3 713.2h0M402.2 421.3h0M450.2 525.3h0M543.4 211.9h0M368.8 723.7h0M397.7 832.6h0M901.6 711.6h0M656.8 455.6h0M754.6 606.7h0M784.2 210.2h0M170.5 515h0M212.7 536.5h0M568 224.7h0M419.2 443.6h0M963.5 635.9h0M324.5 727.9h0M719.7 592.9h0M369.8 721.4h0M212.3 542h0M582.4 450.6h0M930.6 787.6h0M600.2 408.9h0M194.1 556.3h0M748.5 562.5h0M734.9 566.3h0M1039.3 667.8h0M786.5 301.2h0M653.7 445h0M1036 701.6h0M670.5 165.7h0M700.2 427.7h0M499.4 562.5h0M903.8 715.7h0M608.6 402.4h0M1023.6 733.4h0M577.3 767.2h0M623.2 677h0M1053 730h0M584.9 448.9h0M261.1 531.2h0M808.8 782.4h0M342 848h0M684.2 425.6h0M726 262h0M668 164.3h0M592 463.3h0M989.8 640.7h0M536.8 459.8h0M614.4 464.3h0M910.7 695.7h0M983.8 653.8h0M617.3 448h0M381.9 861h0M208 530h0M608.6 648.9h0M731.1 133.2h0M604.3 458.5h0M501.3 872.6h0M583 427h0M423.8 814.7h0M537.7 248.2h0M592.2 441.6h0M181.5 566h0M484.8 444.5h0M323.7 761.8h0M995.5 620.9h0M472.1 588.8h0M1012.6 674.6h0M290.7 827.7h0M382.4 868.8h0M999 691.7h0M934.3 666.8h0M646.7 422.5h0M214.5 542.8h0M379.7 771.8h0M1061.2 662.2h0M710.6 452.3h0M521 499.5h0M604.6 465.3h0M1035.7 698.6h0M681.8 420.2h0M248.1 526.8h0M424.6 567.6h0M367.6 831.6h0M607.9 394.7h0M1007 618.1h0M427.7 833.4h0M700.2 229.4h0M165.2 547.6h0M1033.6 690.6h0M574.5 476h0M613.7 409.9h0M167.4 539.8h0M642.6 670.2h0M193 518.4h0M203.4 557.8h0M794.6 309.1h0M1009.6 728.8h0M596.9 398.6h0M730.3 124.3h0M477.3 861h0M243 531.3h0M315.9 843.3h0M430.4 561.3h0M701.8 115.6h0M1028.7 690.6h0M1038.2 658.4h0M971.5 723.9h0M639 686.7h0M963.3 693.5h0M210.2 501.2h0M691.6 439.5h0M1023.6 740.3h0M707 151.2h0M570 458.5h0M715.9 459h0M728 199.2h0M724.7 162.3h0M959.6 768.5h0M364.4 834.8h0M961.1 766.5h0M925.7 699h0M1006.5 713.1h0M391.3 760.5h0M731.9 719.3h0M581.4 401.4h0M1048.3 710.8h0M425.7 544.3h0M334.8 823h0M433.1 841h0M444.8 389.8h0M783.8 204.7h0M571.4 447.2h0M602.9 408.6h0M1029.8 742.2h0M1040.5 633.4h0M442.1 834.6h0M958.1 674.9h0M707.6 465.9h0M948 719.8h0M150.9 554.4h0M930.7 351.2h0M663.7 685.7h0M537.7 221.1h0M606.4 649.8h0M680.3 712.4h0M732 133.1h0M635.3 918.5h0M577 450h0M982.9 714.6h0M707.3 173h0M634.5 429.2h0M377.3 774.1h0M721.9 857.1h0M623.6 396.8h0M601 389.6h0M185.4 545.7h0M720.4 459.5h0M1020 718.3h0M487.7 883.7h0M197.1 513.4h0M1046.3 709.9h0M479.6 500.4h0M360.3 846.4h0M954.5 689.9h0M994.4 640.9h0M405.6 847.7h0M1058.7 655.4h0M393.6 762.4h0M700.4 243.9h0M595 428.5h0M1003.9 736.5h0M701.9 231.3h0M1050.7 716.4h0M534 509.5h0M716.3 832.9h0M494.1 516.3h0M329.9 755.8h0M316.5 767.2h0M744.8 561.9h0M666.5 690h0M688.2 254.4h0M172.5 526.4h0M684.2 466.2h0M696.1 473.9h0M409.4 794.1h0M1013.1 718.9h0M648.8 679.3h0M1036.8 630.2h0M957.5 660.1h0M201.6 501.2h0M553.8 460.8h0M706.6 479.3h0M739.4 604.4h0M619.1 450.9h0M272.3 529.4h0M307.7 805.7h0M429.6 833.5h0M738.2 533.6h0M648.6 664.3h0M411.1 403.3h0M631.1 412.2h0M248.6 544h0M687 151.2h0M597.9 450.7h0M506.5 883.2h0M322.6 816h0M720.8 836h0M743.5 159h0M970.3 659.5h0M745.4 548.3h0M610.4 685.5h0M949.1 720.5h0M960.4 723.2h0M990.7 683.6h0M167 568.9h0M971.6 734.7h0M159.9 530.6h0M188.8 555.8h0M984.3 734.8h0M223.8 529.1h0M730.5 596.7h0M956.7 650.1h0M749.3 603.9h0M667.3 130.6h0M612.3 851.5h0M716.8 182.1h0M681.3 128.5h0M556.3 225.3h0M605 402.2h0M985 752.1h0M998.4 737.8h0M972 761.8h0M1015.8 641.4h0M722.3 835.7h0M494 458h0M972.3 659.9h0M476.9 528.6h0M202.6 512.7h0M305.8 856.2h0M583.9 395.5h0M797.9 227.2h0M548.1 252.8h0M696.4 169.3h0M958.7 736.1h0M819.1 224.5h0M174.8 524.1h0M601.3 455h0M978.3 702.6h0M214 558.2h0M496.4 471h0M684.9 451.8h0M697.5 468.6h0M273.8 531.2h0M231.1 556.9h0M643.7 692.6h0M1065.4 694.9h0M700.7 183.3h0M239.9 549.6h0M545.5 214h0M262.8 542.6h0M940.2 673.8h0M213.3 545h0M421.1 398.9h0M224.6 574.1h0M748 181.3h0M788.9 317.4h0M319.3 801.6h0M774.1 585.6h0M627 447.6h0M638.4 679.6h0M594.4 655.8h0M315.7 853.7h0M234.6 544.2h0M467.6 554h0M719.8 454h0M493.8 444.9h0M544 493.5h0M386.7 778.1h0M238.1 577.6h0M1032.4 738.9h0M335 780.9h0M603 431.5h0M240.3 525.6h0M580 224.3h0M402 793.7h0M521.4 448.4h0M354.2 727.5h0M313 808.5h0M755.1 606.5h0M433.7 578.5h0M576.4 237h0M547.2 218.6h0M562.1 483.1h0M493.9 507.1h0M967.1 743.8h0M981.7 675.9h0M393.7 783.7h0M244.9 538.5h0M643.6 667.3h0M606.9 386.9h0M997.5 755.3h0M612.1 400.4h0M1021.9 695h0M923.1 782.1h0M585.1 434.9h0M1047.4 678.1h0M516.3 416.1h0M674 155.6h0M895.3 585h0M216.4 515.6h0M600.2 392.6h0M944.8 747.8h0M996.6 654.5h0M951.7 667h0M647.7 662.4h0M185.3 535h0M681.7 464.3h0M365.2 782h0M735.6 172.9h0M689 467.9h0M573 478.6h0M702.2 427.5h0M433.9 849h0M341.9 796.4h0M474.7 518.9h0M166.2 540.4h0M189.1 545.9h0M438.1 445h0M448 556.2h0M448.9 407.4h0M1051.6 641.9h0M637.9 688.3h0M612.8 385.5h0M579 537.8h0M325.3 837.9h0M825.2 299.6h0M934.8 714.5h0M987.9 712.1h0M771.9 587.4h0M568.1 232.6h0M1041.7 645.3h0M197.2 499h0M325.2 748.3h0M1001.8 633.5h0M307.4 794.5h0M931.5 702.8h0M183.3 567.8h0M679.5 432.5h0M1015.9 746h0M196.9 562.4h0M974 727.1h0M176.5 525.6h0M625.3 673.5h0M398.5 796.4h0M201.2 548.1h0M625.6 450h0M453.2 555.3h0M1050.1 684.6h0M589.8 459.1h0M977.1 627.9h0M1035.8 714.4h0M887.4 375.7h0M1068 680.7h0M1036.4 626.6h0M624.7 668.2h0M551.6 794.5h0M992.6 746.3h0M147.3 546.1h0M235.2 510.3h0M332.1 779.9h0M794.9 294.8h0M162.2 515.2h0M966.3 663h0M900.7 429.8h0M519.7 1017.5h0M926.9 691.3h0M752.3 595.5h0M621.1 679.3h0M440.3 551.9h0M436 592.4h0M627.6 438.7h0M171 526.7h0M796.6 244.6h0M619.5 872.9h0M509.4 534.1h0M714 859.1h0M326.5 819.6h0M246.1 501.8h0M650.8 676.2h0M993.2 643.8h0M498.1 517.8h0M702.5 459.9h0M904.5 691.9h0M591.7 675.6h0M648.9 465.1h0M971.3 662.1h0M198.8 532h0M683.5 124.1h0M709 459.5h0M401.3 428.9h0M452.3 446.1h0M225.9 506.7h0M944 732.1h0M591.5 462.4h0M385.1 746.8h0M938.9 782.4h0M974.2 729.9h0M736.7 188.2h0M944.8 677.5h0M661 138.9h0M328.8 721.9h0M668.3 180.2h0M708.4 270.1h0M684.3 435h0M319.6 862.6h0M987.2 704.6h0M972.1 781.4h0M1042 652.8h0M1035.5 663.1h0M1053.2 677h0M381.4 776.5h0M248 495.4h0M458.9 568.9h0M1020.4 635.1h0M1016.2 636.3h0M173.4 568.7h0M573.5 251h0M703.9 167.5h0M599 428.1h0M992.9 673h0M607.6 414.9h0M564.5 449.7h0M496.4 583.8h0M602.7 417h0M721.9 139.5h0M975.7 673.8h0M715.1 470.9h0M695.9 128.7h0M902.4 710.7h0M764.5 580.9h0M432.7 453.2h0M728.8 139.3h0M1027.4 639h0M757.6 584h0M1003.4 730.7h0M470.2 573.8h0M181.7 546.5h0M569.7 770.1h0M996.2 666.6h0M620.6 405.1h0M200.3 512.6h0M595 388.8h0M947.6 707.4h0M595.2 721.2h0M971.4 759.8h0M590 411.3h0M893.8 703.7h0M262.9 536.6h0M607.2 436.1h0M1009.3 743.1h0M684 184.1h0M817 276.3h0M183.8 547.5h0M513.9 519.8h0M1065.8 656.8h0M337.7 857.1h0M979.1 719.3h0M692.1 439h0M965.4 679.7h0M973.3 631.9h0M544 267h0M715.3 830.9h0M461.7 462h0M618.8 408.6h0M978.6 765h0M660.3 462h0M643.3 681.7h0M708 472.1h0M925.9 785.7h0M591.5 669.6h0M264.9 542h0M995.9 762.7h0M969.2 647.9h0M597.7 381.3h0M597 408.2h0M541.8 773.7h0M616.3 426.8h0M655.8 672.7h0M558.9 237.4h0M1048.9 719.5h0M705.6 836.7h0M378.4 764h0M176.5 506.9h0M680.4 149h0M564 467.9h0M1007.4 768.1h0M924 401.8h0M980.1 639.5h0M964.3 764.1h0M191.2 511.8h0M688.1 154.4h0M220.6 530.9h0M925.5 687.7h0M569 450.2h0M448.2 569.9h0M1014.8 700.6h0M663.1 428.8h0M457.6 520.5h0M989.1 714.8h0M639.8 418.9h0M323.8 743.6h0M162.7 561.4h0M583.4 411.7h0M1018.8 758.1h0M561.7 777.1h0M922.2 770.3h0M1060.3 699.5h0M393.1 796.8h0M610.4 458.7h0M436.8 584h0M697 932.3h0M349.2 814.1h0M973.8 686.1h0M248.5 520.4h0M612 419.9h0M601.9 444.5h0M1029.1 754.1h0M1033.3 644.6h0M593.4 728.6h0M978.3 670.1h0M529.9 997.7h0M882.3 369.8h0M212 575.8h0M336.9 803.1h0M567.4 236.1h0M193.6 548.7h0M777 584.5h0M491.6 510.1h0M594.2 393.2h0M328.5 728h0M743.9 173.5h0M599 650.8h0M392 773.4h0M620.8 419.6h0M394.4 807.9h0M369.2 750.9h0M164.8 559.2h0M948.3 671.2h0M197.5 552.1h0M573.4 237.7h0M934.4 741.1h0M729 550.7h0M218.8 574.6h0M607.2 400.1h0M947 731.7h0M1029.5 620.5h0M517.9 489.6h0M946.2 758.2h0M662.1 125.3h0M450.1 862.1h0M978.4 769.8h0M966.6 683.3h0M935.7 787.9h0M972.7 703.7h0M953 749.3h0M1063.1 676.4h0M1016.7 657.7h0M602.9 706.1h0M769.9 580.2h0M502.6 445.9h0M403.4 805.4h0M403.7 422.5h0M400.9 825.3h0M485.6 357.8h0M1006.5 763.1h0M596.1 689h0M585.2 459.8h0M229.2 560.9h0M971 771.8h0M894 694.1h0M691.4 127.7h0M311.9 850.9h0M414.8 393.9h0M539.1 488.9h0M983.8 716.1h0M638.4 698.9h0M751.3 604.9h0M602.3 232.7h0M1037.8 643.5h0M984.9 651.8h0M597 429.4h0M611.3 409.5h0M599.4 471.5h0M333.4 836.5h0M504.1 870.4h0M757.9 583.3h0M908.8 701.6h0M1002.9 773.7h0M737 593h0M495.9 589.1h0M519.5 503.2h0M569.6 474.5h0M183.5 538.4h0M302.4 826h0M205.2 518.4h0M1014.5 649.7h0M190.4 530.5h0M1027 646.6h0M960.1 749.7h0M643.1 456.4h0M953.9 707.7h0M737 531h0M381.8 831.6h0M935.3 694.2h0M743.7 180.4h0M465.2 461.6h0M897.6 590.3h0M972.2 667.6h0M226.5 547.8h0M573.6 761.2h0M670 441.4h0M658.3 129.8h0M595.4 451.3h0M941 741.8h0M487.5 497.7h0M600.8 668.3h0M985.8 621.8h0M632 449.5h0M733.4 604.7h0M422 561.4h0M183 560h0M548.2 244h0M753.5 588.7h0M375.1 840h0M403.8 773.9h0M530.5 993.3h0M1026 652h0M951 721.2h0M670.6 454.5h0M700.1 423.2h0M487.6 544.4h0M178.2 504.3h0M922.2 786h0M212.5 530h0M703 442.2h0M232.8 572.7h0M612.7 385.3h0M716.1 159.5h0M938.2 390.5h0M180.4 567.3h0M697.5 190.9h0M393.7 392.6h0M688.3 432h0M620.8 687.9h0M391.1 747.6h0M623 652.6h0M616.1 682.8h0M401.3 785.1h0M980.4 658.9h0M238.2 575.4h0M937.3 778.7h0M584.8 391.4h0M599.2 406h0M1007.6 639.6h0M348.2 840.7h0M612 679.5h0M945.1 698.5h0M633.8 424.2h0M988.4 780.2h0M902.8 709.2h0M197.8 548.7h0M186 556.7h0M718.7 596.6h0M908.8 704.4h0M274 532.9h0M783.5 563.7h0M583.2 449.1h0M220.7 570.6h0M485.4 578.7h0M179.7 542.4h0M718.9 588.9h0M646.6 665.4h0M1016.5 728.1h0M636.2 702.6h0M537.7 223.7h0M393.1 433h0M732.8 235.8h0M449.1 844.7h0M990.8 663.3h0M161.7 515h0M444.8 393.5h0M182.9 567.4h0M806.6 783.7h0M182 546.6h0M717.5 449.6h0M1046.6 694.5h0M483.7 535.7h0M955.8 777.9h0M682.8 460.7h0M598.8 431.9h0M685.2 115.4h0M786 280.6h0M672.6 441.8h0M676.5 922.5h0M360 803.3h0M664.1 162h0M667.8 693.7h0M753.2 589.1h0M982.6 716.4h0M619.2 703.9h0M1014.7 732.4h0M980.1 643.1h0M717.9 161.6h0M998.9 746.9h0M970.3 621.7h0M220.3 546.8h0M671.9 179.8h0M438.6 523.8h0M299.8 812.3h0M582.2 743.8h0M595.3 450.6h0M600.4 677h0M181.1 508.1h0M946.3 655.5h0M243 537.7h0M217.2 576.3h0M997.9 691.6h0M935.2 695.6h0M1033.8 748.1h0M985.3 776.2h0M615.6 421.1h0M662.7 430.3h0M662.9 122.2h0M911.9 700.5h0M574.4 475.4h0M1029.3 703.4h0M486.5 490.6h0M175.4 553.1h0M634.4 667h0M674.7 716.7h0M679 440.5h0M185.8 511.3h0M949.3 694.4h0M739.1 163h0M770.8 579.1h0M174.7 561.1h0M232.4 576.7h0M459.5 858h0M1065.2 688.3h0M580.6 776.4h0M1003 640.6h0M339.5 791.7h0M734.7 169.7h0M625.3 679.9h0M721 455.1h0M608 688h0M1047.3 697.5h0M550 485.8h0M223.5 560.8h0M902.3 698.6h0M429.2 818.7h0M968 633h0M598.1 673.2h0M675.3 137.7h0M597.9 444.2h0M643 700.5h0M615 445.9h0M907.4 741h0M1004.2 752.8h0M585.6 459.1h0M701.1 141.5h0M608.1 438.3h0M1034.5 754.5h0M656.3 448.5h0M646.4 463.5h0M226.1 579.8h0M657 121.8h0M597.2 718.1h0M444.8 595.1h0M642.3 694.5h0M618.7 712.2h0M544.5 464.9h0M228.8 514.6h0M509.2 511h0M938.7 752h0M247.6 522.5h0M713.8 590.4h0M924.4 737.7h0M380.1 759.6h0M217.4 563.7h0M608.8 421.3h0M237.5 532h0M958.6 365.8h0M470.5 861.3h0M621.4 405h0M609.3 644.8h0M731.9 589.5h0M1010 697.2h0M822.1 271.3h0M214.1 507.3h0M908.7 755.6h0M575.9 218.6h0M579.4 231.4h0M192.3 557.9h0M984.1 659.4h0M1015.2 762.3h0M682.6 435.6h0M147.4 535.5h0M233.4 514.6h0M706.9 444h0M581.2 770.6h0M676 445.6h0M371.1 752.4h0M709.5 832.4h0M721.8 240.4h0M495.6 879.2h0M927.1 697h0M597 236.3h0M528 993.7h0M1012.3 753.6h0M536.7 252.9h0M491.2 352.7h0M553.2 249.1h0M989.3 706.1h0M578.5 225.2h0M605.5 432.6h0M703.6 469.8h0M788 212.8h0M665.4 251.5h0M656.8 439.8h0M1040.2 704.5h0M977.5 746.8h0M943.8 723.9h0M225.6 568.4h0M479.4 560.4h0M246.3 547.2h0M341.9 738.1h0M991.2 618.2h0M635 921h0M207.7 538.7h0M321.1 764.9h0M1011.6 616.8h0M908.8 719.8h0M232 566.2h0M936.2 692.3h0M725.9 220.5h0M707.5 167.8h0M687.8 178.2h0M715.3 145.1h0M697 435.8h0M732.9 160.5h0M227.7 545.7h0M195.5 500.8h0M367.7 840.3h0M399.2 785.1h0M210.7 524.7h0M633.5 465.8h0M942.2 702.7h0M647.1 447.8h0M256.8 537.1h0M731.6 172.4h0M732.7 165.1h0M504 549h0M235 573.4h0M441.1 446.1h0M399.1 763.3h0M588 384.9h0M939.9 761.6h0M599.8 411.5h0M697.9 447h0M552.3 469.1h0M740.9 157.4h0M194.9 509.8h0M604.4 436.3h0M899 366.9h0M657.1 158.1h0M1015.5 649h0M582.7 426.2h0M196.7 509.5h0M1031 655.3h0M597.4 448.8h0M605.5 693.8h0M611.5 420.1h0M805.5 782.1h0M579.8 455.5h0M428.5 535.7h0M438.6 453.6h0M722.1 544.5h0M735.3 542.7h0M508.7 510.5h0M599.3 440.4h0M511.7 456.2h0M593.5 386.8h0M581.7 227.5h0M778.2 594.6h0M699 462.4h0M663.4 444.9h0M209 538.9h0M691.8 173.9h0M773.7 590.9h0M261.7 534.4h0M575.6 221.4h0M591.7 438.9h0M573.2 467h0M713.9 234.3h0M601.3 656.5h0M723 447.8h0M626.6 883.7h0M717.1 830.6h0M965.3 743.2h0M497.3 468.9h0M957.6 652.6h0M464.3 865.8h0M944.5 723.1h0M704.3 171.1h0M613.3 676.8h0M499 521.1h0M709.2 469h0M442.8 438.2h0M429.2 539.3h0M657.3 676.3h0M660.2 439.4h0M941.1 749.2h0M561.7 241.6h0M468 590.5h0M648.5 671h0M1017.2 668.1h0M604.8 454.5h0M1012.2 666.3h0M766.2 604.8h0M1037.2 732.9h0M1045.5 674.7h0M246.2 549.2h0M622.3 461.3h0M425 821.8h0M653.5 454h0M174.4 539.3h0M215.9 557.8h0M937.4 715.2h0M232.8 543.6h0M404.5 790.7h0M558.3 464.8h0M377.6 832.2h0M959.2 627.7h0M723.1 827.6h0M460.5 456.4h0M613.2 446.2h0M716.6 456.5h0M922.2 709.4h0M999 647.5h0M581.2 468.1h0M758.5 566.2h0M959.7 758.4h0M643.1 703.5h0M1052.8 638.2h0M669.4 453.7h0M627.3 894.7h0M407.5 815h0M657.4 141.2h0M583.6 452.7h0M595.3 417.6h0M602.3 387.3h0M634.5 661.2h0M577 453.3h0M1016.7 665.2h0M148.3 534.4h0M546.5 499.1h0M772.7 583.1h0M1011.8 646.3h0M309.9 786.4h0M548.1 794.6h0M673.4 447.9h0M1027.4 710.4h0M914.4 719.7h0M1026.4 680h0M186.2 549.6h0M618.1 692.8h0M975.1 707.6h0M398.4 799.6h0M631.4 408.5h0M611.2 704.6h0M685.6 454.3h0M939.2 706.2h0M743 180.3h0M498.6 549.6h0M944.4 713.1h0M616.4 665h0M983 695.9h0M935.5 677.9h0M638.5 673.7h0M417.2 396.4h0M460.9 863.2h0M733.2 591.7h0M716.3 444.1h0M621.6 446.4h0M712.1 584h0M543.5 245.2h0M600.8 438.4h0M628.2 650.6h0M953.7 719.4h0M508.5 557.4h0M681.9 732.5h0M964 679.1h0M453.7 462.6h0M685.2 460.2h0M159.2 527.2h0M293.9 843.7h0M654.6 462h0M365.6 846.6h0M992.3 723.5h0M1056.2 662.8h0M766.4 596.7h0M592.3 234.2h0M168.2 546.1h0M229.6 562.9h0M639.6 413.6h0M743.8 164.7h0M681.5 112.7h0M558.4 227.3h0M617.9 661.5h0M597.8 380.3h0M660.4 438.8h0M444.1 866.3h0M1061.6 660.5h0M447.5 592.5h0M497.4 503.6h0M246.9 573.5h0M583.5 435.5h0M602 659.1h0M204.6 498.3h0M632.9 432.6h0M1014.8 657.5h0M742.1 600.5h0M345.6 752.6h0M583.4 413h0M202.2 543.1h0M486.6 477.6h0M911.5 716.1h0M486 513.9h0M196 562.3h0M807.4 795.9h0M218 574.6h0M653.2 660.8h0M486.6 565.2h0M999.4 716.8h0M916.7 708.2h0M607.8 440.1h0M635.9 246.4h0M488.4 512.1h0M612 843.5h0M620.9 456.9h0M556.2 215.7h0M225 540.4h0M637.8 443.5h0M613.4 910.2h0M437.2 831.2h0M496.9 887.7h0M763.7 250.3h0M986.2 750.6h0M666.4 166.3h0M645 673.1h0M637.4 663.3h0M191.5 560.4h0M688.7 451.4h0M980.3 633.9h0M451.5 532.1h0M676 711.5h0M627.3 701.4h0M265.1 535.3h0M621.2 682.2h0M654.5 458.9h0M572.5 246.8h0M721.8 451.3h0M234.8 536.8h0M640.3 678.8h0M543.6 768h0M201.6 502.7h0M219 531.4h0M499.6 551h0M1010.1 624.7h0M776.7 293.8h0M597.3 377.7h0M475.7 856.1h0M447.4 534.4h0M235.3 546.5h0M598.8 382.5h0M157.6 523.6h0M1067.7 671.6h0M379.9 859.2h0M305 841.4h0M944.6 745h0M598.3 399.9h0M630.4 701.4h0M365.7 738.4h0M501.8 516.1h0M1026.9 706h0M555.1 243.8h0M992.2 717.5h0M754.2 591.7h0M934.9 364.9h0M947.1 785.8h0M746.8 587.7h0M675.2 158.4h0M720.8 593.3h0M1045.9 656.4h0M698.3 469.8h0M624.2 700.9h0M639.5 663.6h0M718.2 210h0M377.7 789.3h0M151 557.3h0M243.7 507.7h0M964.5 360.2h0M250.6 499.5h0M408.5 792.4h0M230.2 524.6h0M792.2 270h0M244.9 543h0M753.8 246h0M737.3 592.3h0M362.6 722.7h0M729.3 210.6h0M602.8 391.4h0M578.2 756.1h0M743.4 546.3h0M976.8 687.3h0M717.9 212.9h0M961.5 675h0M431 553.1h0M749.7 561.2h0M352.6 724.1h0M664.4 433.7h0M608.9 468.4h0M191.2 521.2h0M239.5 524.6h0M681.4 148.1h0M184.7 544.5h0M1063.2 677.2h0M539.4 507.3h0M153.4 559h0M615.8 644.2h0M618.7 676.4h0M451.1 389.9h0M227.5 523.8h0M675.1 138h0M181.4 545.8h0M536.8 450.8h0M231.3 519.9h0M734.1 851.9h0M704.7 124h0M403.9 792.9h0M371.8 735.8h0M201.9 509.9h0M1005 665.3h0M444.2 864h0M727.1 147.5h0M979.1 651.1h0M183.2 564.2h0M212.6 532.2h0M544.7 228.8h0M201.2 547.9h0M582.7 450.6h0M803.6 226.2h0M338.2 767.3h0M738.7 597.4h0M961.9 783.5h0M716.3 589.5h0M583.4 458.1h0M600.2 651.2h0M190.3 523.4h0M685.2 178.7h0M685.6 132.5h0M973.8 727.8h0M574.5 478.6h0M744.7 543.9h0M930.7 679.1h0M166 543h0M675.4 737.7h0M634.8 454.8h0M209 540.7h0M651.4 669.8h0M543.6 222.3h0M702.9 850.9h0M931.3 670.4h0M713.6 174.3h0M785.6 254.6h0M707.4 150.8h0M1021.8 757.7h0M729.5 593.6h0M652.7 456.5h0M480.5 537.5h0M627.3 892h0M903.2 742.8h0M1009.7 637.1h0M728.5 165.7h0M178.5 525.3h0M1020.7 671h0M978.8 678.9h0M244.6 571.3h0M229.5 560.1h0M929.7 736.4h0M254.2 528.5h0M594.5 468.4h0M256.1 495.4h0M924.8 767.9h0M709.5 145.9h0M596 683.7h0M966.2 687.4h0M746 181.7h0M194.1 545.6h0M695.5 128.3h0M204.3 562.3h0M1042.6 660.3h0M488 864.1h0M614.7 660.7h0M950.2 687.1h0M926.8 681.1h0M352.4 825.4h0M549.8 210.8h0M638.1 652.6h0M1032.4 703.7h0M343.2 787.9h0M172 544.8h0M225.2 572.6h0M718.9 161.9h0M941 388h0M1034.7 705.5h0M674.1 120.8h0M722.3 455.1h0M489.4 554.3h0M606 777h0M585.1 399.4h0M919.9 721.4h0M399.5 774.9h0M542.8 451.1h0M522.7 467h0M1025.7 759.8h0M491 361.5h0M587.3 463.5h0M552.7 216.1h0M258.7 496.4h0M788.2 565.5h0M988.1 637.3h0M1039.4 711h0M209.3 534h0M936.5 755.3h0M442 591.9h0M654.3 453.1h0M756 281.3h0M319 814.8h0M207.5 515.4h0M657.2 137.6h0M920.7 705.6h0M378 778.9h0M924.6 716.2h0M1037.3 695h0M455.9 587.5h0M993.3 710.5h0M998.7 672.7h0M974.9 631.9h0M1038 708h0M505.7 881.8h0M638.8 464.5h0M590.5 399.7h0M589.9 400h0M658.7 123.6h0M518.3 480h0M483.7 345.1h0M935.7 756.6h0M912.6 786.4h0M582.8 774.7h0M722.6 454h0M925.9 705.6h0M1039.8 681.7h0M904 734.6h0M607.8 416.4h0M625.4 409.1h0M370.6 737.1h0M713.1 464.8h0M195.2 562.4h0M169.2 567.4h0M507.8 448h0M218.3 539.8h0M604.9 655.6h0M528 989h0M909.8 760.7h0M223.1 549.9h0M946.4 765.4h0M371.9 754.7h0M776.8 599.6h0M486.2 497.9h0M986.6 661.8h0M438.1 857.3h0M637.7 424.7h0M575.8 470.4h0M957.8 711.6h0M627.3 649.2h0M211.3 576.1h0M619.2 456.4h0M251.9 495.8h0M644.8 687.5h0M986 624.6h0M903.7 706.3h0M1021.5 699.6h0M1027.9 637.8h0M678.5 153.2h0M716.2 845.7h0M963.3 781.5h0M391.3 758.4h0M715.9 448.7h0M370.3 737.5h0M195.4 540.2h0M1016.3 665.1h0M898.1 581.6h0M1028.7 751.9h0M349.8 799.8h0M306.4 787.6h0M491.5 862.3h0M604.4 652.5h0M708.2 455.6h0M716.5 829.1h0M619.2 682h0M964.4 787.1h0M479.3 547.1h0M305 816h0M410.4 800.6h0M165.3 524.3h0M701.6 429h0M506 511.7h0M569.9 252.4h0M514.6 498h0M609.3 645.1h0M171.7 555.9h0M617.9 460.3h0M894.3 707.8h0M183.9 563.6h0M947.5 684.6h0M545.2 224.6h0M388.1 408.5h0M751.9 592.1h0M336.3 744.6h0M789.3 243.8h0M544.9 492.8h0M995 671.8h0M973.5 678.4h0M377.8 737h0M181.7 513.6h0M168.7 545.6h0M442.1 455.2h0M641.8 673.3h0M461 521.1h0M675.5 736.2h0M985.6 753.3h0M612.8 439.7h0M594.8 235.9h0M364.1 856h0M615.7 470.4h0M956.7 729.4h0M1018.7 703h0M159.6 539.1h0M640.4 660.6h0M972.2 756.6h0M355.5 827.6h0M640.3 445.6h0M512.3 536.3h0M614.5 408h0M291.8 822.2h0M175.7 545.2h0M439.8 417.3h0M660.1 451.4h0M199.2 505.2h0M719.7 473.4h0M367.5 737.7h0M476.1 509.4h0M1026.8 715.1h0M314 851.7h0M951.9 718.5h0M716.7 938.2h0M1054.9 694.1h0M1022.7 653h0M709.4 169.7h0M973.5 783.5h0M595.8 666.3h0M1036 647.2h0M236.1 561.7h0M913.1 543.6h0M182 532.9h0M680.1 730.2h0M940.9 683.3h0M696.6 439.7h0M149.8 551.5h0M1058.1 723h0M1029.8 632.5h0M583.2 442h0M964.7 640.2h0M711.8 166.6h0M623.7 422.7h0M966 759h0M728 132.5h0M666.2 168.1h0M451.8 849.1h0M636.2 430.2h0M726.5 455.1h0M946 729.2h0M993.4 773.7h0M241.8 521.9h0M1028.9 692.5h0M201.2 509.4h0M752.9 189.6h0M370.2 768.8h0M360.4 718.2h0M448.9 537.7h0M610.6 648.4h0M505.4 461.5h0M494.9 561.5h0M318.7 740.5h0M456.4 586.5h0M654.2 453.7h0M186.6 559.2h0M674 142.8h0M569.2 241.6h0M1007.5 698.2h0M648.5 685.5h0M907.8 754.2h0M210.1 566.7h0M211.6 560.8h0M574.9 240h0M1040.6 731.7h0M993.9 756.4h0M663.1 146.2h0M590 540.5h0M1007.5 703h0M1012.6 775.4h0M599.8 400.9h0M595.6 652.2h0M759.4 580.7h0M1019.3 712.1h0M502.8 518h0M576.2 226.7h0M620.9 688.7h0M975.5 778.4h0M1030.5 682.6h0M669.3 433.2h0M1007.6 724.8h0M465.9 865.5h0M200.6 515.4h0M732.4 534.9h0M629.6 709.8h0M673.9 232h0M587.8 219.6h0M718.3 476.2h0M975.7 777h0M310.4 841.3h0M540.4 244.4h0M980.4 734.3h0M1045.7 697.3h0M934.3 763.9h0M926.9 766h0M1018.8 767.7h0M655.8 447.3h0M674.3 736.8h0M598.1 462h0M382 760.7h0M626 648.4h0M553.1 456.7h0M239.1 529.8h0M223.2 534.4h0M575.8 218.4h0M780 580.7h0M665.2 123.5h0M1019.4 680.4h0M604.9 645h0M584.7 422.2h0M206.3 513h0M581.9 395.3h0M963.3 740.5h0M978.2 785.3h0M537.8 223.2h0M973.7 771.8h0M1025.5 710.7h0M650.9 431.4h0M329.8 833.7h0M611.3 454.8h0M578.6 221.5h0M183.3 519h0M325.6 823.9h0M673.8 425.7h0M506.4 869.9h0M1024.6 701.1h0M522.2 463.8h0M453 564h0M586.1 728.9h0M162.1 552.4h0M694.5 451.3h0M645.4 675.6h0M949.2 745.7h0M659.2 679.1h0M634.7 419.6h0M236.7 523h0M743.5 840.7h0M389.9 730.5h0M191.6 522.3h0M1052.1 648.5h0M713.5 172.7h0M274.7 530h0M333.1 842.4h0M675.4 429.1h0M718.2 862h0M1050.2 698.7h0M980.6 672.6h0M969.6 784.4h0M268.8 540.4h0M751.3 583.5h0M519.8 1018.6h0M974.4 780.8h0M939.3 750.4h0M959.3 743.6h0M420.6 830.5h0M725.1 822.3h0M654.9 436.6h0M931.4 681.9h0M497.4 565.3h0M1045.4 674.7h0M192.3 513.4h0M1016.5 675.4h0M628.4 676.3h0M628.8 417.6h0M607.3 438.4h0M579.7 764.7h0M322.2 817.5h0M713.8 466.7h0M713.2 432.9h0M643 420.4h0M384 755.8h0M586.8 727.8h0M978.7 670.2h0M624 445.1h0M748 158.2h0M731.3 142.8h0M969.8 691.4h0M653.4 446.7h0M755.9 588.6h0M596.5 438.6h0M701 163.3h0M659.1 460h0M1058.6 646.3h0M478.8 439.7h0M451.9 389.2h0M364.8 749.6h0M190.8 514.3h0M719 827.6h0M753.8 213.4h0M284.6 390.8h0M465.2 589.8h0M595.8 650.6h0M684.3 159.3h0M933.4 703.4h0M184.2 501.6h0M571.9 437.6h0M625.5 706.4h0M250.7 523.5h0M176.6 538.1h0M1016.6 699.6h0M174 509h0M977 748h0M715.3 184.2h0M665.4 444.3h0M704.4 443.7h0M574 464.7h0M945.9 739.2h0M211.8 539.7h0M924.8 707.2h0M495.8 885.7h0M660.4 167.4h0M691.6 438.5h0M443.5 582h0M625.2 708.8h0M545.7 469.6h0M928.8 760.5h0M386.7 729.5h0M170.6 550h0M950.3 719.8h0M491.6 519.8h0M223.5 505.9h0M616.7 705.2h0M1033.6 654.3h0M681.6 440.9h0M921.4 787.1h0M969.4 710.2h0M413.5 439.1h0M464.5 559.5h0M516.8 1017.6h0M181.8 527.9h0M940 712.9h0M775.4 563.3h0M969.9 710.4h0M264.2 533.7h0M962.2 772.5h0M594.3 689.9h0M170.4 565.9h0M597.2 669.9h0M644.6 458.5h0M409.9 793.9h0M246.2 576.4h0M530.5 467.8h0M1065 690.9h0M228.6 577.6h0M1016.7 635.5h0M722.4 597.6h0M701.9 192.2h0M608.9 462h0M957.9 375.9h0M1025.5 671.8h0M636.9 419.4h0M1005.1 706.4h0M325.3 799.6h0M425.2 574.4h0M577.1 455.7h0M902.5 725.1h0M398.7 788.7h0M677.4 143.9h0M655.3 142.2h0M928.2 699.1h0M990.6 716.3h0M668.4 697.4h0M445.9 859.7h0M596.1 400.7h0M602.8 694.5h0M693 446.8h0M782.2 569.8h0M646.5 674h0M590.7 384.6h0M326.8 830.7h0M598.7 466.3h0M750.3 787.2h0M627.1 679.7h0M401.9 794.6h0M375.5 837.7h0M230.8 519.6h0M218.3 505.1h0M325.5 733.6h0M269.7 538.9h0M973.7 632.6h0M409.4 805.2h0M984 748.2h0M947.6 666.6h0M629.1 655.5h0M757.9 597.4h0M1026.4 682.4h0M941.5 664.5h0M700.5 455.3h0M632.3 467.8h0M610.4 388.1h0M1065.6 685.8h0M926.1 745.7h0M933.4 736.2h0M187.4 565.3h0M592 396.1h0M354.8 833.1h0M360.3 837.6h0M761.2 251h0M936 779.8h0M943.4 692.9h0M762.9 202.3h0M567.9 463.3h0M416.7 445.8h0M975.6 672.1h0M619.6 702.9h0M955.1 699.5h0M673.6 429.7h0M405.2 835.5h0M239 515.7h0M632.4 660.5h0M675.5 442.4h0M701.6 154.9h0M352.7 835.5h0M464.1 858.8h0M1009 760h0M291.3 820.6h0M1025.5 625h0M716 131.8h0M394.3 836.6h0M761.2 252.3h0M981.3 740.8h0M553.1 236.5h0M933.9 361.9h0M479.5 516.4h0M200.5 563.9h0M209.6 527.1h0M624.7 687.4h0M721.1 551.7h0M639.9 449.6h0M352.1 791.7h0M598.6 718.5h0M962.7 663.1h0M673.5 124.5h0M1023.6 665.6h0M230.7 557.8h0M551.3 310.8h0M658.4 449.3h0M661.6 140.3h0M516.9 1015.5h0M546.9 459.4h0M995.7 724.6h0M484.9 586.4h0M951.1 689.6h0M1048.7 726.9h0M991.8 690.5h0M640.5 449.2h0M177.9 532h0M679.1 455.2h0M1057 673.3h0M739.6 238.2h0M229.7 525.8h0M700.9 443.3h0M797.3 297.3h0M968.5 657.7h0M226 573.1h0M720.3 593.6h0M928.1 742.9h0M755.8 568.2h0M721.2 851.1h0M547.1 216h0M187.5 515.1h0M567.1 239.9h0M665.3 445.4h0M727.9 455.8h0M1007.2 694.6h0M410.3 418.4h0M298.8 833.7h0M731.8 546.2h0M521.1 524.9h0M601.7 446.8h0M998 666h0M701.6 464.6h0M213.3 534.8h0M908.7 543.2h0M809 231.4h0M650.8 424.9h0M206.4 562.1h0M967.3 685.9h0M752.7 558h0M580.1 747.6h0M314.2 793.4h0M973.3 777.7h0M1028.1 748.6h0M368.6 745.2h0M610.3 680.2h0M491.1 580.2h0M706.3 440.6h0M714.6 941.9h0M615.6 406.9h0M514.4 459.4h0M1055.4 675.1h0M169.5 520.6h0M211.7 522.4h0M984.6 687.8h0M1008.7 753.1h0M450.2 583.2h0M496 519.7h0M720.1 175.2h0M621.7 651.8h0M984.4 773.5h0M218.7 576.4h0M707.6 166.3h0M670.4 432.7h0M677.8 466.2h0M600 226.6h0M926.7 728.1h0M456.3 845.1h0M918.4 752.6h0M673.5 437.4h0M1021.7 637h0M697.5 445.9h0M1022.4 675.7h0M242.8 563.4h0M934.9 786h0M166.1 534.4h0M513.9 518.4h0M977.4 783.9h0M676.8 241.2h0M679.2 114.9h0M382 798.9h0M702.8 169.4h0M562.8 770.7h0M712.5 469.4h0M232.8 519.2h0M941.9 751.3h0M549.8 790.2h0M615.3 659.9h0M926.1 705.9h0M602.8 459.5h0M455.1 577.8h0M970 682.6h0M214 536.7h0M645.1 446.1h0M473.5 464.4h0M628.9 699.3h0M390.2 832.1h0M207.6 519.7h0M718.7 231.8h0M723.4 855h0M695.1 467.6h0M922.5 787.4h0M957.4 680.3h0M678 431h0M1054.4 701.7h0M952.6 739.3h0M377.2 754.8h0M522.2 519.5h0M219.9 517.9h0M705.4 847.7h0M285 530h0M1052.7 689.1h0M1007.7 745.9h0M818.2 298.2h0M737.8 852.9h0M704.9 166h0M783.4 298.8h0M611.3 686.7h0M1003.3 757.4h0M561.3 240.5h0M745.9 591.8h0M914.2 736.7h0M619.8 700.6h0M552.4 214.1h0M505 544.5h0M776.5 600.8h0M493.5 358.5h0M636.7 670.4h0M711.7 158.2h0M902.6 732.8h0M347.2 847.3h0M674.8 735.3h0M428.7 558.9h0M669.3 443.1h0M433.5 841.8h0M634.6 241h0M990.1 721.9h0M393.4 774.9h0M937 775.1h0M713.6 448.3h0M474.3 468.3h0M616.3 710.7h0M592.9 240.1h0M730.5 164.9h0M381.8 754.1h0M630.1 922.6h0M749.7 790.9h0M380.9 750.8h0M589.3 240.7h0M671.9 695h0M1013.6 706.1h0M590.6 468.2h0M496.8 496.3h0M580.4 410h0M657 436.7h0M599.6 417.7h0M494.7 878.2h0M891.4 704.2h0M670.8 155h0M958.7 786.7h0M586.1 461.8h0M732.2 599.9h0M636 686.6h0M340.7 764.6h0M215.3 574.7h0M1013.2 641h0M573.6 477h0M154.4 551.2h0M617 462h0M539.4 251h0M314 791.5h0M689.8 154.8h0M823.8 225.8h0M760 559.1h0M691.9 122.8h0M913.4 751.8h0M1048.3 702.1h0M723.6 136.1h0M1040.5 704.3h0M378.1 760.6h0M1032.4 708.2h0M304.1 835h0M516.4 514.3h0M590.9 446.6h0M692.3 162.4h0M606.4 648.7h0M809.8 276.1h0M650.8 669.1h0M1049.5 697.3h0M964.3 671.1h0M733.2 531.6h0M434.1 583.7h0M746 564.5h0M167.6 546.2h0M235 524.9h0M361.6 754.1h0M933.3 718h0M781.3 589.9h0M483.3 514.4h0M908 752.9h0M681.7 170.9h0M580.5 452.9h0M1037.5 731.3h0M907 740.6h0M583.9 225.3h0M470.1 583.8h0M222.2 514.1h0M898.6 695.7h0M994.6 621.6h0M734.9 234.7h0M294.6 846h0M367.4 772h0M705.5 467.5h0M698.2 186.3h0M536 450h0M430.5 575.7h0M397.8 799.8h0M656.1 685h0M980 689.9h0M537.3 481.7h0M332.3 794.1h0M715.5 582.1h0M1067.2 663.9h0M919.7 711.4h0M911.2 704.2h0M576 247h0M1009 623.7h0M180.9 526.6h0M768 588.8h0M720.3 858.8h0M556.2 216.2h0M622.1 407.4h0M762 600.4h0M363.2 759.4h0M995.2 662.1h0M164.5 519h0M465.5 439.5h0M539.6 247.3h0M603.5 697.5h0M219.5 501.5h0M205.5 533.9h0M332 768.4h0M1044.4 632.1h0M1050.3 696.3h0M1032.9 644h0M605.9 428.8h0M739.8 599.1h0M935.7 759.5h0M395.3 772.6h0M719.3 174.5h0M961.5 754.1h0M631.8 702.7h0M382.7 776.4h0M186 569.4h0M588.9 431.2h0M391.5 738.2h0M263.2 531.8h0M430.4 827.1h0M669.3 237h0M963.9 687.5h0M260.4 528.1h0M395.4 803.9h0M1055.9 681.8h0M623.1 465.7h0M601.6 682.3h0M367.3 755.9h0M669.3 449.8h0M999.6 747.8h0M582.3 446.6h0M1002 759h0M950.8 781h0M558.3 252.5h0M460.9 863.5h0M163.7 544.9h0M456.7 451h0M947.3 380.3h0M796.2 291.6h0M181.7 524.5h0M376.6 855.5h0M952.9 759.9h0M942.4 664h0M601.2 468.4h0M495.4 482.3h0M905.7 698.8h0M752.6 587.9h0M1050.1 636.5h0M580.4 473.2h0M920 774.6h0M539.6 247.6h0M509 446.9h0M429.9 576.5h0M460.3 444.4h0M477.5 855.5h0M220.8 501.7h0M1035.2 733.2h0M213.7 531.9h0M677.8 449.6h0M178.9 545.8h0M963.2 648.3h0M378.5 734h0M302.2 808.7h0M1045.2 628.6h0M790.4 294.4h0M950.7 681.8h0M495.8 874.3h0M230.5 520.8h0M914.1 744h0M714.4 190.3h0M632.4 700h0M900.9 702.8h0M921.9 733.5h0M609.5 648h0M562.2 448.4h0M169.1 529.3h0M737.7 603.8h0M587.3 220.9h0M601.4 701.4h0M583.7 421.2h0M547.8 224.5h0M954 728.7h0M249.1 521.8h0M233.5 554h0M519.6 506.3h0M595.6 469.6h0M1034.2 747.3h0M1037 661.9h0M188.6 560.4h0M262.2 491.8h0M396.8 862.3h0M214 515.2h0M246.1 530.1h0M159.3 545.6h0M544.4 242.5h0M319.1 797.9h0M926.1 714.1h0M175.7 536h0M330.6 732.2h0M616.4 416h0M521.5 972.6h0M927.2 771.5h0M711.6 143h0M824.9 270.2h0M209.5 571.7h0M586.4 243.5h0M474.1 423.9h0M517.2 452.8h0M958.9 627.4h0M908.5 751.3h0M366 824.2h0M689.8 139.1h0M700.7 457h0M655.5 461.1h0M338.7 726h0M703.7 115.6h0M529.9 1010.2h0M612.4 438.2h0M956.7 680.1h0M487.9 460.1h0M214.1 535.1h0M773.3 589.3h0M647.8 450.2h0M566.3 523.1h0M582.3 220.7h0M672.2 455.8h0M922.9 747.1h0M568.1 216h0M544.3 450.8h0M598.5 436.9h0M521.3 973.4h0M913.6 731.1h0M334.2 729.7h0M983.6 730.2h0M1043.5 708.2h0M736 858.5h0M572.9 224.8h0M394.8 775.6h0M606.8 652.6h0M1041.3 714.8h0M327.3 790h0M668.9 173.7h0M697.8 249h0M931.9 708.9h0M741 592.8h0M520 462.1h0M212.6 562.5h0M697 149.8h0M341.7 730.3h0M1029.1 755.3h0M724.5 588.2h0M327.8 857.7h0M205.7 533.5h0M1010.2 625.2h0M918.4 747.8h0M607.5 454.8h0M969.1 761.8h0M408.6 800.2h0M720.5 238.8h0M160.7 546.6h0M711.3 849.7h0M575.5 229h0M1017 736h0M380.7 726.1h0M512 485h0M957.2 695.4h0M1041.1 625.8h0M259.5 543.2h0M577.1 457.1h0M344.8 783h0M345.9 838.9h0M567.5 467.3h0M997.5 714.2h0M485.3 538.8h0M659.8 434.6h0M748.8 181.9h0M919.6 374.3h0M737.7 147.2h0M1017.3 650.6h0M675.3 237h0M255.3 496.3h0M252.9 522.9h0M167.9 559.5h0M574.4 460.5h0M803.5 781.4h0M558.3 242.3h0M331.7 808.4h0M810.6 779.2h0M571 762.4h0M231.3 541.1h0M912.8 731.9h0M937.7 701.6h0M944 708.1h0M1057.1 639.5h0M495.5 463.9h0M628.8 428.3h0M740.3 715.2h0M494.3 879.9h0M937.8 662.6h0M223.7 520.8h0M734.3 242.5h0M510.7 933.2h0M504.7 468.1h0M719.3 177.1h0M742.7 600.2h0M776.1 209.2h0M913.8 729.2h0M609.6 649.2h0M610.1 444.9h0M616 445.9h0M635.5 429.6h0M734.2 564.8h0M168.5 518.9h0M692.9 130.2h0M213.5 562.7h0M221.3 523.7h0M375.5 737.4h0M747.7 603.8h0M671.1 701.3h0M665.8 688.7h0M685.4 186h0M627.6 662h0M1046.8 640.1h0M471 424.7h0M594.4 466.2h0M686.1 125.5h0M663.1 130.9h0M1042.2 676.3h0M883.5 375.7h0M595.2 669.2h0M878.1 375.2h0M207.3 511.6h0M962.4 694.7h0M727 841.3h0M924.1 751.2h0M192.7 548.8h0M502.6 516.7h0M784.7 302.8h0M242.1 521.3h0M209.4 565.8h0M957.5 785.9h0M562.4 775.7h0M571 758.9h0M927.2 752.6h0M966.7 626.7h0M935.3 390.7h0M396.2 773h0M711.5 222.1h0M642.5 427.6h0M395.2 763.1h0M209.6 540.1h0M222.1 583.1h0M648.2 682.8h0"/>
<path class="d" stroke="#C8BDDA" stroke-width="5.6" d="M231.6 533h0M604.3 446.4h0M387 847.2h0M533.6 470h0M378.6 788.9h0M243.6 564.7h0M971.1 779.4h0M952.3 737.4h0M692.6 238.6h0M356.3 757.4h0M234.2 531.1h0M458.5 841h0M200 521.7h0M722.6 542h0M366.4 860h0M227.7 530.9h0M182.1 547.5h0M202.6 537.9h0M690.5 470.9h0M978.4 721.9h0M437.8 834.3h0M175.7 525.5h0M471.9 555.4h0M371.7 871.1h0M434.6 835.5h0M1057.4 647.4h0M659.7 453.4h0M914.8 745.3h0M320.7 847h0M979.7 636.7h0M941.2 708.6h0M191.9 563.6h0M525.8 1008.9h0M174 564.3h0M386.6 822.2h0M167.4 542.1h0M1008.9 764.2h0M166.5 535.5h0M739.3 839.3h0M270.4 534.2h0M237 521.9h0M943.6 736.5h0M406.5 843.9h0M360.2 815.6h0M345.6 780.3h0M172.7 562.7h0M950.7 755.2h0M203 543.4h0M379.9 843.9h0M204.3 547.4h0M212.9 575.8h0M210.9 546h0M227.8 526.9h0M343.2 755.7h0M633.1 704.4h0M382.3 787.8h0M507.2 870.6h0M330.4 852.7h0M349.6 765.2h0M358 796.9h0M225.3 509.1h0M233.9 526.4h0M1030.6 652.7h0M385.7 831.6h0M174.9 540.1h0M170.6 511.6h0M208 560.2h0M186.7 529.3h0M345.5 744.4h0M155.4 551h0M385.3 797h0M599.3 458.6h0M257.5 525.1h0M472.6 576.6h0M331.6 854h0M414.2 815.7h0M150.8 530.7h0M404.2 843h0M225 558.5h0M582 432h0M187.6 570.3h0M229.1 544h0M748.9 536.4h0M614.4 668.8h0M424 827.2h0M361.6 837.7h0M479.8 352.9h0M426.8 829.7h0M199.1 532.3h0M731.4 566.7h0M179.4 562.1h0M920.3 771.4h0M242.1 518.7h0M410.7 831.9h0M676 734.7h0M437.3 538.5h0M346.4 741.8h0M151.6 548.6h0M962.5 638.3h0M164.5 548.2h0M331.5 751.1h0M385.7 830.8h0M168.8 512.6h0M318.6 751h0M396.7 803.1h0M369.4 789h0M382.2 818.7h0M234.1 537.1h0M541.9 470.1h0M222 522.5h0M397.3 821.3h0M228.6 507.2h0M187.7 550.9h0M506.4 533.4h0M317.5 795h0M475.1 509.2h0M468.7 430.2h0M999.2 757.7h0M208.3 564.3h0M215.8 563.4h0M237.3 528h0M740.5 538.1h0M175.6 564.1h0M1020.4 679.8h0M363.2 855.9h0M495.4 553.7h0M326.3 762h0M358.8 829.5h0M377.3 773h0M154.2 560.2h0M987 658.8h0M357.3 807h0M310.3 860.6h0M171.1 559.2h0M223.7 516.5h0M198 530.9h0M1013.6 657.9h0M234.5 578h0M222.5 530.4h0M236.6 515.9h0M381.5 796.3h0M495.6 874.1h0M171.4 523h0M486 882.9h0M915.6 774.2h0M514.9 570.6h0M561.2 219h0M239 517.9h0M203.1 533.7h0M615 397.3h0M367.6 841.8h0M265.8 527h0M328.1 859.9h0M553.8 778.9h0M198.3 564.6h0M979.9 626.3h0M212.7 518.4h0M567.2 472.7h0M970.5 661.9h0M245.3 577.2h0M184 542h0M475.8 571.4h0M149.9 550.6h0M462 560.8h0M194.9 563.6h0M194.7 563.9h0M370.9 801.2h0M566.5 455.4h0M317.8 775.3h0M241.4 525.9h0M181.4 515.7h0M353.1 855.8h0M923.4 779.2h0M406.6 424.3h0M307.2 811.1h0M229.6 555.9h0M205 557.3h0M366.1 777.3h0M174.3 555.8h0M977.7 714.1h0M958.3 758h0M914.6 722.1h0M272.4 536.8h0M585.6 543.1h0M327.9 845.3h0M204.3 566.5h0M912.9 770.4h0M200.8 566.4h0M339.1 762.9h0M543.2 242.7h0M910.4 702.7h0M227 541.7h0M1001 660.3h0M485.1 448.2h0M491.1 879.3h0M161 537.9h0M208.7 514.6h0M374.7 784.6h0M147.7 541.2h0M372.1 800.7h0M1045.9 695.3h0M198 564.1h0M358.1 817.8h0M587.7 452.1h0M930.4 704.7h0M209.8 531.6h0M622.7 696.2h0M254.3 523.2h0M589.8 454h0M185.7 530.2h0M501.5 525.2h0M325.4 862.9h0M227.4 573.1h0M187.2 552.2h0M468.3 848.1h0M715.5 849.4h0M394.7 822.4h0M439.9 395.2h0M331.8 837.3h0M448.8 866.8h0M171.5 549.5h0M245.9 523.2h0M572.2 251.1h0M362.8 745.6h0M219.7 535.5h0M379 843.4h0M182.8 568.2h0M694.9 433.6h0M524.5 549.9h0M365.1 787.8h0M232.5 546.4h0M950.2 712.8h0M341.3 848.1h0M450.9 454.1h0M248.9 542.3h0M379.4 825.4h0M344.6 754.7h0M217.4 544.1h0M668.9 705.5h0M737 846.5h0M434.6 581.3h0M394 855.9h0M973.8 717.2h0M207.8 554.3h0M193.8 530.3h0M410 845.4h0M1055.2 682.9h0M257.2 527.5h0M397.1 814.8h0M247 541.1h0M196.4 533.5h0M250.3 524.9h0M992.7 620.9h0M322.6 788.6h0M384.1 802.5h0M340.8 734.5h0M186.7 509.2h0M244.8 518.6h0M358.4 816.9h0M219.1 575.2h0M975.5 628.5h0M515.6 1014.3h0M209.7 557.3h0M359.4 760.8h0M1055.8 679.6h0M334 769.8h0M370.7 813.5h0M375.9 815.2h0M356.1 782.3h0"/>
<path class="d" stroke="#C2B0DD" stroke-width="5.6" d="M297.4 824.4h0M355.5 787.1h0M235.1 552.5h0M438.6 455.1h0M493.9 481.4h0M348.8 799.6h0M331.8 726.5h0M350 804.2h0M678.7 439.6h0M324.2 856.2h0M418 812.7h0M309.5 785.3h0M189.4 552.7h0M235.1 565h0M408 817.7h0M441.7 547.6h0M332.8 756.8h0M426.4 396.7h0M660 680.4h0M423.6 398.6h0M377.5 842.1h0M351.2 723.5h0M211.4 520.6h0M441.8 1042.1h0M198.2 516.9h0M914.8 723.2h0M229.7 547.1h0M179.1 537.2h0M501.9 566h0M157.2 545.6h0M308.2 823h0M483.9 874.4h0M733.5 592.8h0M992 727.3h0M415.5 436.9h0M227.4 508.5h0M609.4 848.9h0M513.6 528.9h0M447.7 843.9h0M166.5 557.1h0M457.7 450.8h0M164.2 560.5h0M323.7 730.4h0M753.8 596.2h0M500.1 529.3h0M367.9 838.5h0M538.9 475h0M327.4 779.7h0M910.6 739.6h0M608.9 645.3h0M178.4 562.6h0M180.7 551.8h0M375.9 856.6h0M528.5 1012.7h0M252.6 527h0M155.7 539.3h0M225.5 522.5h0M597.6 471.7h0M183.7 552.2h0M499.9 524.7h0M201.9 571.7h0M306.6 845.6h0M487.2 528.3h0M969.3 776.4h0M967.4 689.8h0M952.1 737.7h0M236.2 536.2h0M382.5 840.9h0M458.3 588.9h0M589.7 221.9h0M363.9 810.9h0M345.3 865.7h0M325.9 840.6h0M186.1 533.4h0M719.1 216.7h0M353.7 738.1h0M341.1 769.4h0M534.6 1001h0M685.4 424.7h0M358.2 772.4h0M253.5 527.3h0M193.6 549.2h0M530.5 999.3h0M993.5 711.1h0M182.7 537.8h0M963.6 753.1h0M1043.2 646.7h0M613.1 409h0M941 697.7h0M674.9 427.8h0M523.4 984.3h0M305.3 814.9h0M736.3 843.7h0M398.9 826.9h0M360.7 814.2h0M419.7 819h0M989.9 674.3h0M353.2 834.7h0M955.9 718h0M341.4 755.8h0M651.1 463h0M588.3 447.5h0M382.8 408.2h0M350.3 768.5h0M702.2 459.9h0M467.9 849.4h0M709.2 828.2h0M738.6 852.3h0M486.3 880.6h0M539 217.3h0M502.6 529.1h0M943.5 768.7h0M470 428.1h0M738.5 540h0M221.2 518.9h0M193.1 526.2h0M362.2 750.4h0M209.2 535.7h0M239.6 551.1h0M395 427.9h0M360.7 777.4h0M600.4 429.4h0M664.2 438.9h0M435.3 393.1h0M435.5 866h0M300.8 833.9h0M358.8 816.5h0M356.3 820.3h0M181.8 557.1h0M414.1 417.8h0M484.4 562.9h0M364.6 811.3h0M323.3 832.5h0M575.7 460.7h0M213.4 553h0M215.2 526.1h0M223.6 522.2h0M709.2 849.8h0M985.6 730.6h0M185.1 528.5h0M356.7 731.8h0M585.8 408.1h0M304.1 827.8h0M393.8 835.3h0M464.1 586.5h0M404.7 819.7h0M371.5 862.8h0M907.5 745.4h0M291.1 834.6h0M1006.7 750.6h0M237.6 521.2h0M551.8 768.7h0M318.4 785.3h0M535.8 448.4h0M232.1 509.4h0M320.1 770.5h0M232.7 567.1h0M926.1 740h0M359.8 833h0M540 242.7h0M439.9 852.5h0M797.3 284.5h0M310.6 860.7h0M342.8 755.6h0M303.3 839.3h0M398 427.7h0M417.4 827.3h0M327.3 759.4h0M469.6 862.4h0M228.8 515.2h0M455.9 534.2h0M378 829.6h0M481.7 521.9h0M175.7 540.1h0M611.2 650.9h0M739 837.6h0M235.5 565.7h0M301.4 835.3h0M985.4 732.1h0M385.4 852.2h0M595.1 435.4h0M753.6 554.8h0M324.3 846.7h0M235.7 534.7h0M215.5 573.2h0M510 878.5h0M166.5 540.5h0M312.4 823.9h0M636.9 693.5h0M357.8 760.4h0M241.8 526.5h0M1034.7 667.3h0M998.1 685.5h0M230.1 524.4h0M695.2 442.4h0M321.4 760.1h0M400.7 803.9h0M490.6 437.3h0M229.2 517.7h0M1013.7 631.5h0M480 518.4h0M242.8 527.9h0M415.7 820.4h0M684.9 451.1h0M907.9 748.4h0M627.1 444.4h0M151.8 550.1h0M343.3 805.9h0M346.8 772h0M985.9 701.1h0M321.9 734.1h0M495.9 877.6h0M468.4 852h0M259.4 527.2h0M381.4 846.1h0M228.2 568.4h0M172 524.5h0M537.1 468.3h0M615.3 692.2h0M323.8 814.4h0M972.8 764.3h0M670.4 919.1h0M604.3 425.7h0M437.4 867.1h0M736.9 279.2h0M317.1 783h0M342.7 779.3h0M914.9 720.9h0M602.3 681.5h0M356.8 862.5h0M240.8 571h0M486.2 503.3h0M442.6 842.3h0M179.7 546.2h0M433.1 832.5h0M367 806.8h0M361.2 740h0M173.9 534.8h0M391.2 867h0M330.5 722.9h0M523.8 990.7h0M416.3 837.1h0M393.5 810.6h0M161.7 565.2h0M476.9 487.8h0M347.4 734h0M946.5 739h0M300.1 802.5h0M732.2 551.7h0M331.7 810h0M160.5 546.2h0M941.9 678.4h0M1010.8 747.3h0M333.8 803.6h0M418.8 820.7h0M478.8 438h0M576.5 470.6h0M460.1 438.7h0M318.9 862.6h0M663.2 430.3h0M501.2 881.8h0M432 847.5h0M395.2 835.5h0M365.6 838.8h0M309.1 791.3h0M525.3 491.9h0M920.8 779.8h0M720.6 831.3h0M236.3 546.3h0M601.3 424.7h0M197.1 550.5h0M173.1 526h0M992.1 717.5h0M1029.2 733.9h0M353.5 730.5h0M340.4 749.8h0M370.8 863.1h0M185.8 548.4h0M241.4 532.6h0M160.6 525.6h0M154.9 535.2h0M354.2 748.3h0M175 526.8h0M154.1 559.2h0M324.8 843.1h0M401.5 814.8h0M625.8 710.3h0M387.9 419.3h0M352 784.5h0M467.2 460.7h0M907.1 732.9h0M470.3 464.4h0M499.9 488.5h0M458 847.8h0M377.7 765.8h0M191.8 557.5h0M507 875.3h0M442.6 861.3h0M423.1 397.5h0M518.4 1017.9h0M173.1 529.7h0M370.5 836.2h0M438.7 832.2h0M329.8 856.4h0M196.5 565.4h0M709.3 273.3h0M606.8 703.8h0M640.8 675.5h0M437.5 538.7h0M309.9 827.3h0M452.2 585.4h0M481.6 466.9h0M752.1 566.5h0M192.3 569.5h0M313.8 773.4h0M739.1 853.5h0M224.6 550.8h0M768.5 211.9h0M559.7 777.4h0M563.9 763.1h0M464.1 858.5h0M499.7 870.8h0M356 822.4h0M495.5 880.2h0M940.9 707.7h0M204.6 513.1h0M495.4 864.3h0M1020.1 746.1h0M465.2 569.1h0M248.3 533.8h0M528.8 499.3h0M316.2 810.3h0M434.5 580.8h0M187.1 541.1h0M448.1 566.3h0M490.5 527.9h0M321.1 817.6h0M689.8 240.6h0M657.9 459.3h0M495.9 865h0M318.3 798.2h0M409.1 432.5h0M216 528.2h0M205.7 501.7h0M781.1 561.1h0M171.9 520.3h0M364.6 849.1h0M197.4 512.5h0M739.3 278h0M331.3 740.5h0M162.3 534h0M359.9 733.9h0M315.5 851.8h0M572.4 779h0M346.1 831.6h0M585.7 436.5h0M159.1 552.3h0M748.5 549.3h0M477.2 508.5h0M226 564.5h0M443.3 461.1h0M158.8 521.2h0M373.9 779.7h0M726.7 848.9h0M442.2 840.2h0M235.9 561.7h0M379.6 845.9h0M604.6 702.3h0M196.5 501h0M326.5 842.1h0M351.5 839.1h0M1037.7 700.5h0M457.3 580.2h0M337.5 745.3h0M639.1 903.4h0M489.6 508.8h0M445.8 869h0M251.5 533.4h0M371.6 781.7h0M519.2 973.1h0M253.6 494.8h0M716 856.3h0M1058 681.4h0M419.4 559.7h0M477.1 871.9h0M223.6 559.9h0M370 772.5h0M174.6 529.7h0M297.2 823.9h0M240.5 516.2h0M710.1 273.8h0M1046.2 717.4h0M311.1 781.7h0M518.9 476.4h0M197 560h0M243.6 572.8h0M364.9 755.2h0M302.3 816.7h0M201.7 568.5h0M228 523.6h0M383.8 787.6h0M700.5 933.9h0M732.3 858h0M350.1 789h0M173.6 520.8h0M359.1 858.4h0M477.6 862.9h0M995.9 730.6h0M176.6 511.4h0M181.9 540.1h0M493.9 566.8h0M587.3 409.3h0M464.6 565h0M520.8 489.4h0M333.3 841.1h0M235.3 567.4h0M361.5 763.2h0M631.7 916.1h0M732.9 855.6h0M346.4 837.7h0M1023 682.7h0M1039.7 640.9h0M502.7 501.8h0M516.5 558.6h0M1020.8 720.4h0M707.4 859.9h0M486.2 579.8h0M327.9 738.9h0M1006.5 744.2h0M469.2 852.8h0M163.7 551.1h0M320.6 828h0M599.5 408.9h0M430.6 824.8h0M199.5 529h0M365.1 797h0M464 518.6h0M676.1 736.3h0M204.4 549.1h0M195.7 530h0M354.1 743.5h0M334.7 807.5h0M547.7 458.3h0M346.5 749.2h0M464.3 452.6h0M289.7 838.7h0M522.5 546.1h0M184.1 510.1h0M302.2 815.3h0M749 547.1h0M325.3 765.3h0M188.1 531h0M343.2 807.5h0M432.6 830h0M169.3 554.2h0M205.5 570h0M215 573.4h0M303.6 856h0M354.9 776.5h0M402.2 835.6h0M493.8 872.1h0M246 548.3h0M417.6 829.3h0M197 559h0M159.4 551.7h0M920.2 736.8h0M918.3 701.1h0M616.5 390.1h0M977.8 624.1h0M360.1 866.5h0M587.6 398.1h0M231.4 534.7h0M178.9 560h0M369.8 832.5h0M530.2 462.3h0M396.9 774.7h0M336.4 845h0M389.4 739.2h0M959.8 658.3h0M323.4 793.7h0M391.5 814.3h0M595.3 418.2h0M378.7 786.4h0M658.9 450.7h0M221.9 542.2h0M519.4 537.7h0M517 451.7h0M735.9 847.9h0M220.8 579.6h0M595.5 449.3h0M256.9 544.3h0M520.4 1000.9h0M798.1 782.5h0M942 677.8h0M351.2 759.2h0M326.8 790.9h0M719.9 273.3h0M445.4 546.7h0M475.3 511h0M408.6 837.5h0M889.7 374.4h0M276.8 534h0M347.1 843.5h0M974.7 643.7h0M190.7 533.7h0M1035.1 698.2h0M624.6 648.4h0M302.4 815.6h0M433 416.6h0M944.3 703.9h0M395.9 810.8h0M1012.9 644.3h0M170.9 515.2h0M551.5 453h0M470.3 867.3h0M332.2 750.4h0M586.6 230.1h0M728.9 856.1h0M329.2 789.4h0M235.9 512.6h0M954.9 730.8h0M242.5 506.2h0M194.2 503.4h0M393 429.7h0M628.1 468h0M160 539.3h0M230.4 555.7h0M727.3 842.2h0M422.5 835.8h0M1010.2 750.3h0M159.6 562.6h0M940.4 739.6h0M389.9 827h0M351.3 718.3h0M334.3 791.8h0M350.6 821.1h0M945.8 749.7h0M155.8 553.9h0M320.1 761h0M313.2 828.2h0M151.2 544.4h0M558.3 777.6h0M632.8 669.5h0M187.3 533.7h0M896.9 584.4h0M920.6 746.4h0M386.3 789.1h0M348.3 735h0M328.3 755.1h0M165.3 548.5h0M355.2 787.7h0M366.7 830h0M605.7 390.4h0M990.7 776.4h0M450.5 592.2h0M463.2 849.6h0M367.9 785.8h0M323.3 834.6h0M225.3 541.6h0M226.3 529.4h0M490.5 545.9h0M622.8 429.9h0M206.5 549.5h0M194.4 539.4h0M347.5 764.4h0M157.2 530.6h0M349.2 841.2h0M352.6 778.5h0M520 532.4h0M330.3 836.7h0M723.7 843h0M981.4 668.8h0M642.8 242.8h0M915.2 539.6h0M270.5 527.4h0M385.6 740.2h0M587.4 447.8h0M478.5 480.9h0M359.2 765.1h0M349.7 800.4h0M240.2 538h0M366.7 804.7h0M196.1 511.3h0M655.1 705.9h0M345 745.4h0M375.7 729.6h0M615.3 868.9h0M232.5 574.3h0M647.5 705.5h0M555.7 474.5h0M441.7 563.7h0M191.8 535.4h0M911.8 699.5h0M327 847.5h0M565.8 467.8h0M328.5 794.6h0M314.9 826.6h0M914.2 746h0M808.5 227.7h0M620.3 649.3h0M333 816.4h0M395.2 797.2h0M196.6 507.7h0M172.1 559.8h0M198.3 540.2h0M563.3 468h0M163.7 523h0M330.1 810.8h0M469.3 565.4h0M370.8 790.1h0M396.6 850.2h0M1017 756.4h0M479.5 533.2h0M227.9 562.6h0M466.9 847h0M358 792.3h0M385.9 813h0M351.1 827.3h0M656 698.4h0M409.2 833.4h0M367.4 746.7h0M323.6 794.1h0M565.4 452.6h0M349.2 799.3h0M266.6 526h0M392 822.6h0M240.7 516.1h0M298.9 851.1h0M684.1 232.1h0M344.1 794.2h0M164.7 543.1h0M197.8 505.7h0M389.5 806.5h0M255.4 497.6h0M586 224.6h0M391 798.3h0M199.4 524.2h0M179.5 534.1h0M242.7 512.2h0M225.5 576.6h0M799.2 784.2h0M725.9 235.3h0M175.6 511h0M358.3 843.2h0M214.5 553.5h0M894.6 570.2h0M186.7 538.7h0M940.1 772h0M1040.4 697.5h0M561 248h0M588.4 226.6h0M369.4 820.4h0M450 851.4h0M366.7 772.9h0M1028.4 629.7h0M404 426.9h0M530.1 998.9h0M395.6 839.6h0M1036.7 728.1h0M955.1 664.7h0M168.9 566.4h0M741.4 845.5h0M464 856.3h0M447.1 854.7h0M343.8 827.9h0M1046.2 699.5h0M759.5 566.6h0M448.1 844.1h0M179.2 510.5h0M213.6 517.5h0M385.2 854.5h0M946.8 764.7h0M187.3 504.6h0M230.3 521h0M228 544.3h0M564.4 226.1h0M987.5 738.5h0M235.5 531.4h0M625.4 646.5h0M425.5 397.2h0M911.4 730.2h0M776.4 569.4h0M393.5 408.1h0M737 845.6h0M353.4 746.4h0M330.1 773.5h0M361.1 864.5h0M464.2 586.2h0M340.8 814.7h0M165.8 560.9h0M326.1 757.2h0M1008 642.7h0M910.3 542.4h0M374.5 865.8h0M582.4 443.3h0M396.6 838.1h0M302.1 828.6h0M395.6 864.1h0M470.8 867.3h0M360.9 833.7h0M902.4 727.6h0M378.7 843.6h0M897.1 587.7h0M777.3 561.9h0M610.8 425.9h0M363.8 791.2h0M539.6 485.3h0M603.1 652.8h0M330.8 773.1h0M1057.1 703.5h0M228.1 539.5h0M459.6 455.1h0M1000.9 727.4h0M916.4 761.2h0M212.6 502.8h0M302.6 811.5h0M1017.3 721.6h0M217.2 522.6h0M357.7 837.1h0M648.2 705.5h0M331 763.1h0M666 461.3h0M402.9 847.6h0M636.1 913.4h0M242.5 572.2h0M426.5 819.8h0M492.9 877.8h0M192.4 553.1h0M459.7 843.5h0M920 768.5h0M526.3 1017.2h0M315.8 785.9h0M163.3 543.9h0M977.9 724.5h0M686.4 458.4h0M324.2 753.1h0M741.6 556.5h0M243.7 570.7h0M322.1 737.8h0M489.2 502.2h0M243.3 522.1h0M389.3 802.5h0M316.8 803.2h0M947.6 667.6h0M1031 748h0M974.3 636.1h0M971.1 760.5h0M921.4 761h0M467.6 544.2h0M213.1 511.2h0M339.6 838h0M212.2 535.2h0M299.2 808.1h0M724.6 852.2h0M169.1 519.6h0M213.5 552.1h0M657.2 445.9h0M420.2 401.7h0M187.1 521h0M377 829.3h0M338.9 844.2h0M567.8 246.6h0M452.6 413.6h0M447.9 587.9h0M201.6 511.3h0M431.8 835.8h0M458.6 850.3h0M212 566.4h0M375.4 800.1h0M156.9 535.2h0M1025 709h0M328.1 857.1h0M369.9 819.2h0M1048.6 675.2h0M308.7 784.7h0M578.5 227h0M580.2 224.4h0M154.1 534h0M529.3 989.9h0M411.8 843.7h0M656.2 916.9h0M221.5 558.4h0M368.9 824.7h0M586.7 409.9h0M909.2 698.3h0M324.3 842.6h0M224.7 509.8h0M245.9 528.5h0M337.9 788.5h0M299.8 845.3h0M597.7 465.8h0M186.2 539.7h0M583.3 440.4h0M619.8 709.2h0M218.4 579.8h0M376 787.4h0M1057.7 709.3h0M340 763.6h0M390.4 796.3h0M591.6 673.6h0M187.6 566.3h0M179 519.3h0M356.7 802.1h0M528.9 455h0M964.7 639.3h0M253.3 528.1h0M951.3 764.5h0M508.7 444.5h0M350.8 766.5h0M359 790.1h0M470.3 563.9h0M293.3 837.3h0M351.1 859.3h0M491.6 878.9h0"/>
<path class="d" stroke="#BBA4E1" stroke-width="5.6" d="M224.4 534.6h0M341.9 824.5h0M348.2 745.8h0M944.7 684.3h0M709.1 457.7h0M1023.2 748h0M511.5 873h0M635 670.9h0M925.5 776.5h0M183.1 549.5h0M732.8 853.8h0M221.1 533.6h0M605.7 384.4h0M914.8 540.6h0M602.2 697.8h0M577.5 463.1h0M433.6 866.4h0M365.5 737.6h0M768 210.2h0M671.8 714h0M781 240.6h0M703.5 451.2h0M995.9 740.9h0M206.2 526.8h0M1029.9 694.2h0M486.8 881.5h0M191.9 550.8h0M500.5 457.8h0M1003.1 627.6h0M194.7 503.8h0M230 575.7h0M355 805h0M255.6 490.4h0M614.4 654.2h0M607.9 415.9h0M174.2 523.6h0M1011.5 665.9h0M480.3 582h0M435.4 839.6h0M192.9 540.7h0M200.7 556.1h0M486.7 495h0M1043.2 668.8h0M384 827.2h0M728.9 857.3h0M805.3 776.8h0M354.8 746.1h0M743.8 545h0M441.6 859.5h0M615 413.9h0M729.4 840.4h0M367.5 868.5h0M1005.6 716.3h0M713.9 845.1h0M599.4 382.9h0M664.5 459h0M449.1 849.3h0M292.9 844.8h0M387.5 769.2h0M976.1 664.3h0M420.4 814.7h0M982.1 687h0M708.2 859.1h0M566 763.2h0M310.1 849.2h0M597.9 429.8h0M292.7 812.8h0M958 710.6h0M959.3 642.6h0M995.5 739.1h0M393.9 768h0M672.2 454h0M329.2 749.1h0M565.9 772.3h0M234.1 548.4h0M733.6 563.4h0M697.8 460.5h0M649.1 436.3h0M385.6 829h0M358.9 753.4h0M958.4 730.8h0M996.9 649.7h0M187.6 538.1h0M299.3 803.4h0M506.5 580.8h0M611.6 413.4h0M529.8 1010.5h0M653.9 661.2h0M640.9 456.8h0M630.9 923.6h0M338.8 795.4h0M830.2 294.4h0M549.2 779.1h0M196.1 539.8h0M303.8 811.4h0M319.9 776h0M330.2 775.8h0M340.8 832.5h0M585.2 465.9h0M511.3 880.6h0M474.4 518.5h0M673.8 461.2h0M1036.6 680.5h0M978.8 674.7h0M171.8 514.5h0M717.4 844.5h0M257 536h0M385.9 392.5h0M791.3 783.1h0M268.1 529.7h0M465.1 596.4h0M381.4 831.8h0M409.1 423.2h0M201.5 563.6h0M633.7 709.8h0M207.9 501h0M570.7 766h0M396.1 805.7h0M384.8 815.9h0M597.3 677.5h0M608.5 418.6h0M322.3 758.2h0M403.9 850.1h0M437.4 830.9h0M567.9 781.6h0M922.2 780.2h0M206.5 528.7h0M719.3 846.3h0M241.5 535.8h0M562.4 764.7h0M394.7 839.6h0M378.3 776.2h0M952.7 661.8h0M965.2 713.9h0M996.3 641.8h0M416.7 816.9h0M632.7 648.8h0M324.6 803.3h0M332.1 801.6h0M178.6 509.2h0M432.6 835.5h0M510.3 922.4h0M515.5 974h0M1037.2 679.6h0M590.6 399.3h0M335.1 864.8h0M345.6 764.9h0M379.6 805.6h0M169 528.6h0M631.9 436.8h0M601.8 395h0M491.1 536.3h0M368.7 861.9h0M383.9 790.3h0M712 437.1h0M333.1 765.8h0M369.9 817h0M462.9 844.4h0M432 842.5h0M452.1 461.7h0M649.4 459.1h0M464.1 418.1h0M349.8 723.4h0M1035.4 660.5h0M671.9 697.1h0M371.7 829.7h0M498.4 458.2h0M433.4 414.1h0M304.4 845.9h0M369.3 854h0M318 843.6h0M242.3 549.9h0M309.4 785.2h0M699 224.8h0M393.9 840.2h0M690.1 470.9h0M1026.5 669.6h0M211.3 556.5h0M559.5 764.7h0M600.6 396.9h0M932.2 757.4h0M229.9 546.7h0M515.5 969h0M653.9 451.1h0M719 456h0M708.6 434.6h0M583.8 473.1h0M1008.4 728.7h0M443.2 1042.3h0M310 798.8h0M604.8 458.5h0M423 819.2h0M479.7 852h0M494.5 457.3h0M192.5 552.5h0M990.8 663.9h0M478 868.9h0M401.2 796.3h0M368.4 846.2h0M299.5 809.8h0M345.9 729.1h0M357.5 745.7h0M406.9 429.6h0M414.1 819.2h0M633.7 918.4h0M301.5 827.1h0M354.9 792.4h0M1037.2 703.8h0M382.7 825.5h0M861.4 363.5h0M994 661.7h0M1058.3 650.1h0M491.2 456.9h0M710.6 440h0M491.2 875.6h0M609.5 467.4h0M480.3 863.7h0M231.4 545.4h0M579.7 753.4h0M173.2 524.9h0M654 453.2h0M257.6 497.3h0M413.2 836h0M368.5 757.7h0M234.9 572.3h0M300 823.5h0M942.8 725.8h0M227.3 511.4h0M902.7 697h0M559.7 769.8h0M907.7 701.8h0M325.7 825.3h0M374.4 771h0M473.4 582.4h0M358 768.3h0M507 517.4h0M235.6 562.3h0M610.5 441h0M257.4 492.7h0M207.2 539.3h0M718.6 935.7h0M181.4 544.2h0M676.4 923h0M999.1 655.2h0M475.4 561.2h0M703 859.3h0M632.6 921.4h0M444.2 411.8h0M723 460.7h0M377.8 813.8h0M388.2 791.5h0M652.6 701.9h0M258.6 534.2h0M223.5 508.8h0M470 543.9h0M716.4 941.8h0M484.9 548.5h0M398.2 775.9h0M760.6 229.3h0M593.8 401h0M901 699.9h0M389 841.2h0M304.1 817.5h0M442.4 834.8h0M479.8 439.5h0M375.2 769h0M240.4 542.5h0M378.8 801.8h0M564.2 465.7h0M993.2 663.2h0M241.1 539.2h0M351.1 771.5h0M538.3 228.3h0M361.3 756h0M364.3 798h0M424.3 440.3h0M968 700.3h0M240.8 572.1h0M1035.8 740.9h0M385.3 792.7h0M802.8 786.6h0M641.7 419.7h0M340.5 787.7h0M370.6 762.4h0M501.6 877.8h0M960.2 763.1h0M922.4 757h0M475.2 866.7h0M237.9 530.9h0M463.5 545.1h0M309.2 834.1h0M349 749.2h0M335.5 854.3h0M318.7 756.6h0M361.1 784.9h0M456.7 863.6h0M978.5 687.4h0M675.9 707.8h0M699.3 856h0M723.1 824.6h0M167.9 540.7h0M1027.5 707.9h0M231.7 518.5h0M622.6 460.4h0M746.7 540.9h0M360.2 824.3h0M197.6 568.2h0M621 649.3h0M471 561.8h0M971.5 747.4h0M475.8 861.7h0M369.7 851.7h0M723.5 459.8h0M933 679.6h0M351.5 856.4h0M371.2 804.8h0M918.6 763.1h0M500.4 450.4h0M447.7 837h0M916.2 769.1h0M896.5 588.8h0M401.3 848h0M759.7 589.6h0M232.5 536.9h0M378.8 801.5h0M360.6 755.9h0M492.9 542.9h0M333.4 817.4h0M499.3 874.5h0M503.6 455.1h0M303.7 821.2h0M215.9 577.2h0M1047.5 671h0M981.4 765.8h0M328.3 812.9h0M347.9 729.3h0M352.2 779.4h0M983.1 641h0M595.6 452.7h0M734.2 229.5h0M1043.2 650.8h0M719.5 861.6h0M293.2 845h0M996.1 687h0M872.6 368.7h0M610.4 459.3h0M404.6 823.9h0M720.9 444.8h0M699.2 842.5h0M714.6 825.6h0M468.2 453.9h0M558.2 219.2h0M180.8 542.1h0M981.9 687.2h0M978.8 734.1h0M358.3 760.9h0M329.6 763.1h0M572.2 451.5h0M1001.9 662.7h0M393.1 782.5h0M905.1 733.9h0M364.3 724.7h0M319.2 809.9h0M599.9 647.1h0M466.3 417.7h0M448.2 564.6h0M456.9 572.6h0M391 806.9h0M695.2 856.7h0M498.3 578.7h0M309.7 810.7h0M753.9 556h0M1014.2 742.1h0M647.5 914.9h0M322.2 743.3h0M671 439.9h0M507.2 882.3h0M330.4 756.8h0M318.4 767h0M441.8 1042.3h0M517 556.4h0M1004.5 697.4h0M501.1 528.1h0M360.7 813.4h0M367.9 847h0M1047 665.5h0M493.1 876.4h0M413.2 820.5h0M691.7 455.2h0M402.2 808.4h0M539.2 771.5h0M352.5 849.6h0M963.3 732.4h0M641.6 910.4h0M394.9 854.5h0M948.8 687h0M350.8 816.8h0M918.1 534.1h0M368.1 750h0M502.1 459.6h0M330.7 852h0M325.5 822.1h0M544.8 486.6h0M465.8 525.4h0M916.6 716.6h0M153.3 540.6h0M492.2 530.7h0M593.2 420.5h0M783.5 249.9h0M621.8 673.4h0M758.1 567.4h0M460.8 588.5h0M779.2 564.5h0M570.3 467.1h0M356.1 777.7h0M694.2 446.6h0M897.1 586.6h0M524.9 441.7h0M382.2 804.6h0M549.8 782.2h0M610.9 393.7h0M520.5 453.2h0M306.1 814.6h0M168.6 560h0M375.3 813.7h0M949.5 706.5h0M328.8 827.2h0M348.1 856.9h0M733.7 843.2h0M951.9 715.7h0M731.8 566h0M206.5 534.7h0M338.1 856h0M494.3 883.9h0M691.9 228.3h0M1013.2 698.3h0M342.3 813.5h0M380.8 860.7h0M245.3 524.7h0M925.8 695h0M914 539.3h0M336.8 837.4h0M914.4 727.2h0M685.2 460.8h0M336.8 828.8h0M362.7 744.9h0M243.2 577.6h0M1051.5 712.1h0M929.6 738.7h0M304.1 858.5h0M469.4 461.7h0M358 785.8h0M644.4 442.3h0M911.8 734.8h0M695.7 452.5h0M359.7 750.5h0M209.4 566.1h0M520.9 547.9h0M453 416.3h0M424.6 815.9h0M250.4 530.6h0M399 398.9h0M1029 644.4h0M651.9 428.3h0M442.1 440.6h0M452.2 393.4h0M473.8 849.5h0M220.4 519.9h0M463.2 598.5h0M736.4 838.3h0M807.3 785.7h0M496.1 872.7h0M485.9 527.9h0M441.8 411.3h0M380.8 859.4h0M899.6 567.4h0M908.1 705.8h0M473.9 532.6h0M1035.4 674.4h0M721.5 237.9h0M187.6 553.9h0M486.7 539h0M299.2 835.9h0M914.8 735h0M309.2 809h0M226.5 549.3h0M327.2 846.8h0M190.6 538.9h0M353.5 726.1h0M621.6 399.3h0M615.5 388h0M360.2 743.9h0M414.7 810h0M619.3 667.9h0M207.4 566.9h0M338.1 718h0M533.2 1006.1h0M161.7 548.4h0M516.8 1013.2h0M623.9 445.9h0M573.2 458.1h0M323.4 762h0M546.3 464.8h0M376.3 781.5h0M344.9 841.6h0M371.1 822.8h0M316.9 793.1h0M496 882.7h0M700.6 237.6h0M409 846.3h0M304.7 851.4h0M730.4 844.1h0M776 211.6h0M967.5 784h0M921.5 751.2h0M683.2 438.4h0M391.5 805.2h0M251.7 546.9h0M536.4 488.7h0M453.3 841.9h0M593.7 398.2h0M1001.6 718.2h0M453.4 866h0M157.9 529.4h0M664.5 460.2h0M320.7 798.4h0M730.5 543.6h0M305.9 798.4h0M717.2 856h0M982.6 749.1h0M406.3 812.3h0M238.2 533.4h0M310.7 777.5h0M377.1 849h0M374.1 810.1h0M251.8 541.7h0M364.1 771.5h0M359.3 717.4h0M487.9 864h0M997.2 678h0M1049.5 712.5h0M366.3 756.7h0M976.1 696.6h0M220.9 514.6h0M369.4 756.5h0M659.8 461.6h0M479.4 430.4h0M577.7 244h0M256.3 528.9h0M314.8 784.4h0M591 401.4h0M493 565.5h0M312.6 777.8h0M1048.5 652.2h0M327.7 802.5h0M734.6 540.3h0M737.6 559.5h0M898.3 567.6h0M344.5 820.7h0M174.4 546.6h0M229.7 527.9h0M474.6 557.4h0M1057.6 680h0M407.2 427.3h0M194.2 508.8h0M223.3 511.7h0M331.6 814h0M628.8 435.8h0M647.5 915.4h0M169.5 540.5h0M1000.7 623.3h0M732.3 235.6h0M190.7 528.5h0M329.1 747.2h0M320 777h0M470 865.8h0M921.9 776.8h0M713 471.7h0M376.8 772.4h0M186.1 538h0M259.3 487.6h0M195.9 523.9h0M375.9 801.8h0M976.1 729.2h0M619.6 648.4h0M346.3 754.5h0M342.3 806.2h0M699.9 453.6h0M1044 732.9h0M372.7 767.3h0M675 727.9h0M614.6 433.1h0M304.2 844h0M908.8 735.8h0M351.7 805.4h0M920.8 731.2h0M371.9 809.9h0M203.4 543.7h0M1011.7 767.6h0M643.6 424h0M773.1 596.1h0M368.7 800.7h0M803.3 240.3h0M611.6 459.4h0M900.1 717.1h0M994.1 728.8h0M326.4 830h0M716.4 228.8h0M402.6 850.1h0M368.8 799.8h0M646.5 248h0M385.8 748.8h0M609 464.4h0M573.9 774.4h0M774.6 264.5h0M329.6 836.8h0M753.8 555.7h0M619.9 710h0M462.2 856.5h0M500.5 867.9h0M148.8 538.1h0M352.8 836.9h0M319.1 858.6h0M319.3 771.4h0M562.9 477.4h0M492.5 465.9h0M904.5 549.2h0M204.1 570.8h0M976.6 735.3h0M734.4 560h0M616.7 396.4h0M1048.5 681h0M650.1 690h0M521.7 519.1h0M744.4 220.7h0M983.9 684.8h0M385.8 750.3h0M736.7 557.5h0M314.9 860.4h0M465.7 843.5h0M347.9 746.3h0M349.8 785.5h0M707.9 467.1h0M417.9 813.6h0M366.9 787h0M324.8 830.4h0M1010.9 748.6h0M308 820.4h0M633.8 656.7h0M483.4 436.7h0M437.8 869.2h0M510 518.9h0M649.5 437.7h0M481.2 447.3h0M386.7 416.3h0M509.4 554.7h0M467.4 578.5h0M917.6 764.6h0M583.5 437.8h0M321.6 821.4h0M297.9 814.6h0M910.1 749h0M926.9 749.1h0M307.7 813.8h0M745.6 545.5h0M689 454.7h0M319.5 842.8h0M348.5 800h0M447.9 538.1h0M379.8 410.1h0M338.9 855h0M212.2 543.7h0M193.2 511.7h0M177.7 563.2h0M1026.3 741h0M186.2 564.2h0M565.5 473.9h0M256.6 540.1h0M419.1 837.5h0M462.4 860.8h0M1033.9 724.9h0M207.8 515.8h0M467.1 468h0M703.5 858.8h0M980.9 755.5h0M969.1 639.7h0M326.6 834.3h0M392.5 799h0M556.8 782.4h0M449.5 856h0M716.8 852.5h0M217.7 531.6h0M412.6 833.7h0M614.3 384.7h0M956 698.7h0M1019.5 769.7h0M321.5 782.6h0M632.7 416.7h0M1054.4 718.4h0M442.6 1044h0M480.4 555h0M148.3 547.7h0M717 446.3h0M368.6 786.1h0M604.2 467.7h0M346.5 739.1h0M597.7 679.9h0M983.4 708.3h0M1014.5 631.5h0M173.6 539.2h0M649.3 441.4h0M211 513.6h0M600.5 418.3h0M290.5 841.2h0M467.8 460.1h0M199.8 543h0M393.4 836.1h0M324.4 841h0M932.4 695.8h0M465.4 858.8h0M392.2 803.3h0M682.6 454.3h0M348.9 795.6h0M596.1 469h0M169 545.9h0M701.4 160.2h0M499.3 880.2h0M730.4 838.1h0M351.8 732.1h0M325.9 852.2h0M304.5 855.6h0M731.2 567.8h0M724.4 840.4h0M609.6 234.3h0M191.2 547.8h0M997.6 681.7h0M804.2 794.2h0M960.2 759.1h0M419.9 814.8h0M201.2 544.9h0M421.3 839.4h0M368.1 854.6h0M624.6 648.9h0M220.7 549.2h0M409 792.5h0M207.4 503.1h0M292.4 822.4h0M1037.8 680.3h0M546.5 469.6h0M1030.4 752h0M345.1 771.3h0M703.5 858.4h0M928.4 779.7h0M271.1 528.5h0M583.9 439.6h0M558.7 490h0M915 733.7h0M384.6 833h0M390.6 799.3h0M349.9 777.5h0M159.5 546.4h0M203 537h0M732.6 850.5h0M445.6 571.7h0M240.4 572.8h0M403.7 808.6h0M535.6 996h0M385.7 806.6h0M342.1 816.6h0M439.9 860.6h0M376.6 838.4h0M961.2 668h0M393.6 847h0M377.3 834.3h0M308.2 859.4h0M666.9 695.2h0M635 917h0M729.2 847.5h0M302.9 844.1h0M991.3 744.9h0M526.8 514.1h0M907.8 709.3h0M1030.7 757.1h0M721.3 839.5h0M193 529.6h0M221.4 575.1h0M938.2 760.8h0M426.4 535.9h0M596.7 694h0M509.9 530h0M1027.1 658.1h0M380.4 820.6h0M675.8 454.5h0M518.5 524.4h0M784 245.7h0M717.6 858.1h0M610.7 467.8h0M613.8 411.5h0M451.5 864.3h0M998.4 630.7h0M391 835.9h0M373.4 821.1h0M363 852.2h0M580.9 458.6h0M467.3 849.7h0M967.8 706.6h0M402.5 823.2h0M416 399.5h0M203 517.8h0M453 572.2h0M800.7 784.6h0M598.8 400.9h0M610.1 702.9h0M616.9 441.9h0M182.3 528.5h0M434.2 1042.3h0M474.9 852.7h0M1049.7 677.4h0M460.6 847.4h0M607.4 646.8h0M479.7 591.2h0M550.9 473.7h0M187.7 554h0M347.1 834.1h0M652.2 437.2h0M978.2 747.9h0M310.2 800h0M217.1 551.6h0M320.5 800.7h0M194.7 542.8h0M429.9 565.9h0M462.7 592.5h0M343.3 820.7h0M352.5 735.1h0M380 800.6h0M350.6 856.6h0M732.1 211.2h0M488.9 486.9h0M507 545.1h0M189.2 566.3h0M430.6 838.2h0M974.2 737.2h0M350.2 863.5h0M597.9 456.3h0M530.9 512.9h0M494.7 866.3h0M179.3 566.2h0M654.8 692h0M710.9 458h0M996.1 714.5h0M522 996.1h0M366.4 743.2h0M773.5 236h0M171.8 541.8h0M403.5 844.7h0M688 252.5h0M403.4 805.3h0M425.7 820.5h0M681.4 715.3h0M684.1 429.7h0M998.7 769.7h0M584.2 438.1h0M153.4 548.6h0M224.2 553.2h0M486.9 592.1h0M251.9 532h0M534.7 496.6h0M262.9 536.9h0M1009.7 627.2h0M517.1 441.1h0M402.2 837.5h0M1033.5 632.4h0M408.2 834h0M224 575.7h0M315.9 781.7h0M188.9 562.3h0M646.5 428.1h0M332 755.2h0M363.2 756.2h0M429.1 571.8h0M338.7 815.5h0M323.8 776.7h0M1061.2 658.1h0M373.1 852.6h0M172.4 539.4h0M495.1 880.8h0M414.9 823.8h0M509.6 513.6h0M186.9 556.1h0M716.3 940.4h0M212.5 528.7h0M810.1 791.2h0M508.1 438.2h0M898.9 369.3h0M183.1 534.6h0M468.3 855.9h0M606 404.5h0M574.7 472.7h0M443.6 1043.3h0M303.5 836.4h0M610.6 685.8h0M326.8 839.3h0M362.7 847.2h0M1008.1 666.7h0M963.6 742.1h0M425.6 569.8h0M367.5 795.9h0M163.4 565.1h0M525.4 466.9h0M441.1 845.1h0M1026.5 713.7h0M325.1 737.8h0M758.9 214.5h0M367.9 862.8h0M976.4 767.8h0M438.3 867.7h0M811.5 297.6h0M803.3 781.3h0M496.9 453.8h0M333.4 802.9h0M1062.8 666h0M685.5 431.3h0M377.2 806.2h0M418.6 824.9h0M951.8 780.6h0M618.8 244.3h0M187.5 549.1h0M669 428.2h0M477.6 446.7h0M451.2 843.7h0M617.5 238.9h0M440.9 528.5h0M488.7 882.2h0M652.1 448.8h0M739.8 561.8h0M490 872.5h0M652 463.3h0M325.6 765.2h0M375.4 740h0M350.3 838.3h0M327.6 808.8h0M321.3 802.9h0M697.7 427.1h0M297 831h0M242.3 521.1h0M389.2 844h0M450.2 575.7h0M746.7 553.9h0M318.7 787.5h0M396.6 817h0M588 407.5h0M893.9 573.5h0M722.9 466.4h0M369.4 772.4h0M803.7 784.9h0M961.8 771.1h0M569.6 479.6h0M740.1 190h0M331.5 722.5h0M476.3 457.3h0M338.4 818.2h0M520.9 525.5h0M658 697.9h0M1025.1 707.7h0M232.4 556.4h0M511.7 560.9h0M721 845.9h0M546.2 476.5h0M371.5 808.2h0M413.9 821.6h0M481.8 558.5h0M336.7 718.5h0M1012.4 622.2h0M189.3 512.3h0M181.8 562.8h0M1031.8 637.1h0M380.8 820.7h0M479.1 536.2h0M347.9 854h0M429.1 444.3h0M589 440h0M620.8 871.8h0M491.7 869.8h0M910.1 758.2h0M731.5 227.8h0M667.2 443.1h0M997.9 726.8h0M704.7 463h0M152.6 541.1h0M986.3 621.1h0M298 834.5h0M247.5 506.3h0M555.5 236.8h0M994 676.2h0M1031.4 704.4h0M466 848.7h0M645.8 688.8h0M187 515.2h0M994.6 662h0M361.9 856.7h0M382.9 393.8h0M944.4 782.8h0M938.8 668.9h0M938.8 768.1h0M332.3 839.1h0M215.3 576.6h0M466.2 525h0M159.6 526.5h0M387.5 414.7h0M637.5 247.2h0M332.7 790.2h0M1035.4 727.3h0M445.2 836.7h0M345.3 864.4h0M628.5 457.2h0M156.1 534.9h0M374.6 771.7h0M308.7 788.6h0M408.1 399h0M325 811.9h0M366.4 828.2h0M604.9 240.9h0M697.8 858.6h0M610.1 666.9h0M699.5 439.7h0M1052.8 646.5h0M488.9 572.5h0M217.5 566h0M305 802.9h0M206.3 499.2h0M680.3 453.9h0M1019.5 740.1h0M376 818.8h0M500 519.4h0M389 834.5h0M760 562.7h0M310.2 795.5h0M318.8 782.3h0M983.8 750.7h0M350.9 717.3h0M1007.7 746.2h0M539.7 774.1h0M553.4 227.7h0M355.5 865.9h0M424.8 821.3h0M939.4 749h0M308.9 838h0M909.2 718.2h0M215.4 512.8h0M372 850.8h0M642 697.9h0M327.8 754.3h0M202.2 546.4h0M393.7 813.5h0M361.7 786.2h0M331.2 863.1h0M171.6 539.7h0M191.7 568.9h0M398 811.3h0M308.6 843.6h0M584.4 431.5h0M577.4 459.8h0M1000.5 619.9h0M681 201h0M338.5 840.5h0M301.3 848.8h0M989.4 712h0M338.7 766.7h0M468 520h0M363 824.6h0M607.5 439h0M187.2 504.1h0M726 854.8h0M410.8 825h0M206.5 573.7h0M771.4 599.6h0M150.6 542.5h0M576.7 467.3h0M661.1 459.9h0M430.3 579.8h0M445.2 842.4h0M533.6 999h0M497.1 528.1h0M542.8 449.2h0M652.8 437.6h0M531.9 991.3h0M521.7 1009.2h0M452.7 459.1h0M342.5 760.4h0M672.4 441.6h0M922.9 761.3h0M387.4 858.4h0M396.1 405.4h0M473.2 555.7h0M496.3 468.5h0M281.9 531.7h0M367.5 820.1h0M193.7 557.5h0M648.7 461.6h0M348.2 742.6h0M335.3 736.7h0M359.7 809.6h0M721.9 849h0M1006.8 705.6h0M962.3 784.5h0M793.7 785.8h0M737.7 271.8h0M727.6 203h0M585 398.8h0M970.4 778.4h0M333.9 777.8h0M331.1 741.2h0M357.6 782.2h0M932.3 676.4h0M749.6 547.2h0M784.4 583.8h0M369.1 811.6h0M956.7 649.2h0M767.3 242.6h0M335.9 809h0M287.6 828.4h0M1023 658.3h0M416.9 845.1h0M350.2 853.8h0M259.7 541.5h0M234 518.4h0M628.4 449.9h0M1006.8 691h0M712.7 439.8h0M911.3 726.5h0M985.3 650.5h0M359.4 742.7h0M353.6 842h0M507.9 575.9h0M517.5 508.1h0M751.5 561.3h0M675.5 112.6h0M344.5 853.3h0M248 536h0M337.7 721.4h0M348.6 857.7h0M961.8 728.4h0M389 404.9h0M544.7 224.4h0M301 816.4h0M653.1 689.2h0M561.6 774.8h0M662.1 448.1h0M362.7 729h0M360.1 798.9h0M626.3 666.5h0M935.6 760.5h0M330.8 785.6h0M377 778h0M897.8 692.5h0M651.4 706h0M325.5 803.9h0M997.7 751.6h0M431.1 825.6h0M650.3 460.4h0M356.6 800.1h0M216.6 558.3h0M316.1 833.3h0M212.6 550.7h0M322.8 843.2h0M398.2 389.1h0M661.7 463.1h0M632.6 671.4h0M983.6 649.3h0M498.2 520.8h0M986.5 740.8h0M449.6 845.3h0M416 835h0M986.9 716.7h0M972.7 624.2h0M215.5 552.5h0M640.7 431.9h0M715.6 836.7h0M980.3 640.1h0M310.3 827.1h0M242.1 539.4h0M337.2 809.5h0M728.4 853.9h0M499.2 528.3h0M906.2 546.8h0M624.8 711.2h0M231.7 573.9h0M157.5 546.3h0M430.9 863.8h0M762.1 565.3h0M348.4 845.9h0M802.2 778h0M150.7 535.1h0M390.8 811.1h0M654.2 435.2h0M397.7 856.7h0M485.8 549.8h0M456.9 859.4h0M396 839.6h0M208.5 534.6h0M236.5 514.3h0M722.4 160.6h0M952.3 675.8h0M320.8 856.3h0M458.1 413.6h0M322.8 767.2h0M446.4 838h0M312 825h0M195.2 557.2h0M504.7 869.6h0M336.9 727.2h0M191.5 569.8h0M452.4 864.1h0M489.8 584.4h0M797.1 784.5h0M351 789h0M925.1 712.3h0M478.3 577.7h0M1013.6 695.2h0M520.9 982.7h0M184.5 512.6h0M234 550.7h0M934.7 701.1h0M324.6 738h0M1001.4 620.1h0M917.2 781.8h0M688.7 436.8h0M353.1 785.9h0M385.7 842h0M1013.7 661.3h0M221 535h0M157.2 540.1h0M908.2 713.8h0M362.3 799.9h0M526.4 493.1h0M321.4 861.6h0M955.7 751.9h0M157.6 556.1h0M522.3 488.8h0M964.3 662.2h0M702.2 443h0M519.6 968.9h0M959.1 659.9h0M486.2 592.7h0M236.1 529h0M395.9 847.7h0M525.6 999.3h0M551 778.3h0M296 831.6h0M219 558.7h0M514.5 513.3h0M723 830.4h0M186.8 557.6h0M492.7 442.7h0M222.6 531.2h0M529.2 995.9h0M340.9 744.6h0M476.6 434.5h0M706 465.9h0M707.4 429.8h0M304.3 825.6h0M915.1 762.5h0M1026.9 657.8h0M990.1 726.9h0M610.9 445.9h0M639 906h0M301.8 821.6h0M361.5 734h0M357 818.4h0M693.2 854.5h0M387.5 832.7h0M683.4 251.5h0M560.2 459.6h0M233.5 573.6h0M595.1 427.2h0M289.9 835.9h0M509.8 468.1h0M185.6 546.1h0M484.3 357.2h0M642.4 417.8h0M808.8 778.3h0M217.1 573.2h0M382.8 841.4h0M454.2 558.4h0M208.8 545.5h0M307.9 834.7h0M977.7 766.5h0M415.2 823.2h0M361.6 763.4h0M568.8 446.8h0M732.2 843.3h0M203.3 517.8h0M1028.8 636.4h0M677.5 464.7h0M359.4 733.5h0M457.7 563.7h0M198.8 535.7h0M1009.2 623.3h0M745.8 541.2h0M692.9 850.6h0M617 410.7h0M611 664.9h0M174.3 534.4h0M216.4 515.3h0M904.7 698.2h0M322.9 756.9h0M165.2 520.8h0M732.3 845.1h0M572.1 454h0M447.1 397.2h0M317 794.1h0M351 796h0M921.4 735.1h0M159 520.3h0M489.3 861.3h0M1003.7 680.5h0M392.2 821.2h0M630 892.8h0M1000.1 660.2h0M345.9 746.3h0M171.4 555.9h0M375.7 870.9h0M958.7 784.2h0M175.9 534.6h0M983.5 716.6h0M516.2 538.2h0M1056.7 707.6h0M411.3 421.5h0M565 248.4h0M352.5 832.1h0M367.8 753.7h0M931.3 742.8h0M431.5 867.8h0M385 816.7h0M482.2 487.9h0M583.4 413.4h0M429.7 445.6h0M619.5 467.9h0M993 673.1h0M1036 638.6h0M950.8 679.2h0M465.3 867.5h0M360.5 759.3h0M385.6 781.5h0M524.9 454.8h0M724.5 847h0M625.9 703.1h0M379.3 774h0M713.7 460.2h0M1036.4 704.6h0M337.9 742.1h0M473.6 872.6h0M958.1 706.6h0M562.2 447.9h0M515.3 970.8h0M900.2 557.7h0M946.4 774.7h0M938.8 703.6h0M387.4 855.8h0M169.3 522.3h0M380.2 775.5h0M302.2 840.8h0M491.5 863.3h0M354 755.3h0M345.8 759.9h0M511.1 920.8h0M729.6 224.9h0M718.4 840.8h0M500 866.3h0M895.2 570.5h0M726.6 857.5h0M337.7 738.7h0M372.6 799.4h0M322.9 816.9h0M960.2 740.4h0M293.7 818.5h0M320.4 833.7h0M532.5 994.8h0M369.7 845.3h0M538.1 235.8h0M696.3 472.7h0M390.9 388.8h0M319.2 860.4h0M332.8 722.7h0M1020.3 756h0M596.7 417.3h0M614.4 675h0M322.9 826.7h0M373.8 847h0M368.5 864.5h0M1049.8 723.6h0M663.2 693.7h0M996.6 650.7h0M342.8 727.8h0M480.6 573.6h0M342.5 784.6h0M1011.9 693h0M720.4 457.5h0M1043.9 712.6h0M434.3 394.5h0M371.6 793.9h0M395.9 828.2h0M338.8 760.7h0M407.8 817.2h0M488.1 509.5h0M682.4 425.1h0M331.3 782.6h0M365.3 853h0M308.2 827.5h0M350.2 841.7h0M485.1 484.4h0M620.7 439.3h0M738.8 550.7h0M332.6 751.2h0M977.8 628h0M501 878.5h0M747.3 541.4h0M288 828.8h0M224.9 566.7h0M384.3 852.8h0M567.7 236h0M585.9 452.7h0M331.4 847.9h0M630.3 919.3h0M425.6 402.2h0M336.1 845.2h0M988.4 751h0M653.1 456.8h0M1003.2 716.5h0M346.4 732.9h0M722.1 587.2h0M681.8 434.5h0M358 853.7h0M293.6 843.7h0M339.8 842h0M432.7 837.8h0M452.6 857h0M925.3 768h0M1010 692.5h0M1011 758.2h0M719.6 854.5h0M344.4 845.6h0M470.2 462h0M203.2 501.2h0M737.3 840.4h0M312.7 812h0M805.7 779.6h0M516.1 543h0M350.4 817.1h0M507.3 528.8h0M323.8 819.7h0M619.3 665.1h0M1025 644h0M574.4 475.4h0M406.9 421.7h0M306 856.8h0M418.9 397.3h0M482.4 871.5h0M963 698.4h0M315.3 783.9h0M365.1 776.2h0M454 559.6h0M393.1 814.2h0M315.7 811.6h0M634.6 897.2h0M542.4 233.8h0M584.5 435.9h0M912.8 540.9h0M979.5 713.1h0M1043.4 687.9h0M328.2 845.6h0M1022.2 715.9h0M299.6 854.7h0M600.7 414.4h0M453.6 531.7h0M441.8 841.2h0M381.9 744.7h0M711.3 841.5h0M236.3 519.8h0M420.6 816.6h0M330.1 762h0M629.4 684.1h0M219.6 515.3h0M916.3 536.2h0M241.8 537.7h0M1061.5 657.3h0M368.9 768.3h0M348.1 828.6h0M825.3 277.7h0M237.9 511.8h0M408.1 842.5h0M682.6 438.7h0M435.3 398.1h0M811 784.5h0M509.2 922.4h0M495.2 582.7h0M1003.6 767.4h0M300.5 845.4h0M550.8 489.9h0M930.4 752.8h0M392.6 745.9h0M747.4 601.1h0M183.6 569.3h0M384.1 812.7h0M934.2 698.9h0M610.2 380.8h0M229.5 539.3h0M690.4 443.1h0M609 385.9h0M742 848.2h0M226.5 517.1h0M518 459.5h0M395.4 803.2h0M445 853.9h0M298.9 846.1h0M515.6 518.7h0M703.4 433.2h0M314 823.6h0M525.7 987.7h0M696.4 470.3h0M368.9 861.5h0M933.2 772.9h0M333.1 731.5h0M656.6 436.6h0M319.5 802.5h0M1031.6 677.3h0M415.2 829.2h0M441.5 1039.9h0M636.9 457.3h0M637.6 453.8h0M508.6 874.6h0M605.6 430.7h0M705.2 831.2h0M338.2 851.4h0M491.5 442.1h0M781.8 567h0M354.4 830.7h0M448.6 412.5h0M214.7 557.2h0M578.7 532.2h0M716.1 437.6h0M598.1 697.3h0M568.4 475.7h0M322 824.2h0M628.5 443.4h0M919.8 771.3h0M562.1 777.1h0M487.2 864.2h0M292.9 830.5h0M347.6 720.9h0M232.7 550.1h0M401.4 829.5h0M579 768.4h0M378.3 868.4h0M596.8 231.5h0M632 710.6h0M564.8 769.4h0M385.3 793.4h0M354.7 731.4h0M1046 678.5h0M1020.6 748.7h0M412.9 819.8h0M364.7 820.6h0M426.5 546.2h0M237.1 537.2h0M465.9 855h0M970.6 677.1h0M454.5 843.4h0M328.1 752.4h0M601.4 400.9h0M728.7 847.9h0M390.3 857.3h0M390.6 795.2h0M354 838.9h0M320.3 744.4h0M227.6 549h0M738.3 851.4h0M667.6 917.7h0M760.9 565.3h0M350 730.5h0M612.4 467.8h0M489.1 449.9h0M234.9 521.8h0M386.7 794.8h0M431.2 839.2h0M613 406.8h0M952.2 778.4h0M354.9 859.9h0M200.1 535.5h0M599.2 452h0M581.8 244.2h0M642 240.3h0M546.4 766.1h0M469.4 427.5h0M711.6 854.5h0M319.8 806.6h0M184.7 547.2h0M343.6 767.9h0M576.4 453.7h0M341.4 851.4h0M344.7 859h0M824.7 230.2h0M877.1 375.9h0M958.9 651.6h0M746.5 268h0M379.2 860.4h0M490 569.1h0M632.9 681h0M330.4 859.7h0M719.1 467h0M690 458.4h0M645 435.3h0M561.6 777.9h0M254.6 542.1h0M502.9 392.6h0M1026.9 626h0M1019.3 658.3h0M742.7 844.4h0M157.2 558.2h0M172.7 532.1h0M569.5 777.4h0M200.9 522.1h0M290.3 824.3h0M236.9 536.5h0M752.2 557.3h0M547.2 773.7h0M1031.3 699.2h0M608.9 382.1h0M340.5 852.5h0M201.3 499.3h0M376.9 872.2h0M480.6 355.6h0M746.2 553.7h0M329.2 740.8h0M390.1 768.9h0M640.8 911h0M579.2 468.2h0M339.3 825h0M334 823.7h0M240 537.2h0M196.4 510.1h0M498.9 509.2h0M469.8 446.5h0M453.5 445.8h0M442 834.7h0M338.2 794.6h0M983.6 678.6h0M177.4 555.4h0M340.5 835.9h0M978.8 780.5h0M477.5 535.8h0M999 718.8h0M599 689.3h0M1055.6 660.5h0M980.3 694.4h0M401 828.1h0M614.5 678.5h0M743.8 844.2h0M220.6 512.1h0M407.7 388.5h0M365 854.2h0M195.6 545h0M229.7 513.8h0M387.3 387.3h0M562 479h0M570.8 757.9h0M508.9 518.5h0M337.6 759.5h0M1028 684.6h0M944.6 745.1h0M326.3 736.6h0M459.7 844h0M523.1 995.4h0M907.5 705.3h0M446.2 837.9h0M599.5 435.5h0M392.4 809h0M378.7 870.2h0M200.2 523.3h0M340.4 760.3h0M694 442.7h0M367.4 792.3h0M358.1 844h0M403.1 826.2h0M244.6 509.5h0M313.9 820.2h0M944.7 768.5h0M380.4 793.8h0M939.9 749.2h0M699 851.3h0M169.1 517.5h0M341.9 756.7h0M607.6 430.6h0M521.5 550.1h0M520.2 967.7h0M465.5 590h0M630 406.5h0M568.5 467.1h0M960.5 758.9h0M412.8 397h0M412.5 819.5h0M368.4 844.5h0M480.6 594.3h0M356.8 800.3h0M368.6 819.2h0M350.3 807.6h0M375.8 858.7h0M381.3 800.7h0M509.3 879h0M921.7 736.8h0M244.4 577.1h0M583.7 453.8h0M484 515.7h0M508.2 920.1h0M639.7 449.2h0M797.7 241.9h0M987.2 640.8h0"/>
<path class="d" stroke="#B398E4" stroke-width="5.6" d="M367.9 801.5h0M1058 694.2h0M634.7 427h0M155.2 546.8h0M612.5 398.7h0M943.4 738h0M638.4 464.9h0M630.3 426.9h0M529.8 997.4h0M588.3 449.7h0M959.8 724.1h0M466.8 569.5h0M564 222.8h0M800.1 783.3h0M708.2 440.4h0M159.2 533.6h0M498.1 488.6h0M710.5 471.1h0M1010 659.5h0M397.6 418.9h0M482.6 474.8h0M890 370.1h0M200.1 562.3h0M1044.2 689.4h0M596.1 236.5h0M492.8 881h0M483.9 461.9h0M605.1 437h0M919.6 786h0M564 783.1h0M609 466h0M302.2 805.7h0M514.9 560.2h0M570.3 780.6h0M998 669.5h0M933.1 774.6h0M554.7 770.9h0M706 829.7h0M910.9 701.9h0M884.1 377.4h0M974 702.7h0M911.3 724.4h0M643.4 671.9h0M387.5 857.3h0M375.8 782.7h0M573.5 780.6h0M760.8 604.7h0M968.7 695.8h0M990.9 704.5h0M970.7 756.8h0M562.7 463.1h0M261.3 530.1h0M938 707.5h0M421.9 409.7h0M521.4 978.3h0M646.9 463h0M954.6 733.4h0M471.4 454.2h0M1022.7 748.3h0M668.4 255.8h0M545.9 313.8h0M558 769.3h0M716.2 199.9h0M535.9 463.9h0M696.6 427.2h0M917 778h0M980.4 738.7h0M909.2 697.3h0M336.2 760.6h0M962.3 709.2h0M976.3 753.4h0M571.9 446.3h0M730.8 228.4h0M896.9 583.6h0M349.1 863h0M219.6 574.4h0M484.7 594h0M943.4 758.6h0M956.5 641.1h0M1009.2 654.9h0M358.6 761.4h0M476.9 537.7h0M992.8 687h0M323.3 792.5h0M425.3 571.2h0M295.5 850.6h0M917.8 716.4h0M477 521.5h0M486.5 486.5h0M752.9 596.5h0M488.3 884.6h0M990.6 645h0M1005 771h0M585 537.4h0M654.2 698.1h0M744.9 197.1h0M470.2 595.8h0M953 675.6h0M693.1 855.5h0M573.7 214.7h0M976.1 641.9h0M362.8 759.7h0M343.1 839.9h0M763.8 588.2h0M424.9 829.9h0M149.5 542.2h0M726.3 562.7h0M415.7 838.3h0M799.4 229.9h0M184.6 541h0M596.9 424.3h0M378 794h0M733.1 211.2h0M958.1 663.8h0M715 948.8h0M573.7 770.1h0M1009.1 674.5h0M978.5 630.5h0M234.3 545.7h0M967.6 648.7h0M625.9 438.2h0M388.8 393.2h0M953 675h0M382.5 865.4h0M477.8 864.3h0M701.3 150h0M347 834.5h0M258.9 494.2h0M619.4 708.9h0M965.7 674.9h0M624.2 686.5h0M634 905h0M1023.5 624.1h0M679.6 720.7h0M371.2 809.7h0M736.6 534.6h0M958.6 749.9h0M732.4 238.9h0M1016.6 698.3h0M728.4 845.9h0M733.6 200.6h0M728.2 274h0M475.8 587.9h0M411 812.6h0M627.6 650.5h0M1008.6 690h0M649.2 672.8h0M244.6 569h0M583.2 456.1h0M341.6 844h0M627.4 675.6h0M699.9 460.7h0M512 399.7h0M628.4 243.4h0M651.4 457.8h0M626.7 923.1h0M995.9 623.4h0M385.4 791.9h0M980.2 628.4h0M1058.9 703.6h0M354.4 728.3h0M912.3 735.6h0M646.2 693.6h0M717.2 851.9h0M645.5 689.6h0M340.5 813.6h0M638.4 241.3h0M591.8 451.8h0M570.7 249.5h0M430.2 845.2h0M560.1 454.5h0M918.7 713.4h0M610.3 239.7h0M435.6 1046h0M610 665.9h0M724.8 861.5h0M303.1 818.1h0M207.5 528.4h0M985.3 623h0M955 677.4h0M168.3 550.3h0M361.3 860.7h0M896.1 585.3h0M506 869.6h0M336.2 836.4h0M630.5 920.9h0M503.9 518.2h0M750.3 559.3h0M723.3 845.7h0M621.5 401h0M696.8 931.7h0M300.8 818h0M790 292.1h0M681.1 152.2h0M324.7 833.3h0M714.3 936.5h0M519.5 996.1h0M444.1 595.6h0M436.8 846.5h0M964.9 707h0M724.4 139h0M1028.4 694.5h0M1060.4 672.3h0M590.4 443.5h0M532.9 470.2h0M455.4 414.5h0M1018.6 684.7h0M173.3 537.6h0M648.7 680.7h0M410.3 845h0M921.2 749.1h0M588.7 461.6h0M469.2 579.3h0M914.8 778.7h0M1063.1 663.9h0M236.3 516.8h0M199.7 557.4h0M1028.2 688.2h0M603.2 391.3h0M229.4 527.7h0M988.1 737h0M899.5 565.3h0M451 461.6h0M328.5 738.8h0M961.6 780.4h0M506.6 917.9h0M203.6 548h0M623.8 428.9h0M1033.3 702.2h0M519.8 1010.9h0M1015.1 636.2h0M640.4 680.9h0M389.7 406.9h0M437 588h0M511.5 461h0M351.9 770.3h0M332.5 820.2h0M562.7 447.6h0M745.2 546h0M534.3 997h0M309 796.9h0M307.2 837.7h0M721.6 546h0M184.5 547.9h0M448.9 454.1h0M347.8 860.2h0M701.1 454.8h0M716.4 855.4h0M645.5 459.1h0M485.8 438.8h0M470.8 578.1h0M446.1 850.8h0M953.4 666.6h0M478.6 874.1h0M355.4 798.2h0M451 532h0M433 446.7h0M425.7 576.2h0M494.4 889.2h0M462 865.2h0M501.5 387.8h0M1040.9 697.2h0M1013.4 668.3h0M526.7 987.8h0M1022 647.1h0M514.2 409.4h0M956.1 690.1h0M219.5 570.2h0M1003.7 747.8h0M648.4 671h0M447.9 583.9h0M497.4 875.6h0M357.9 813.3h0M398.9 800h0M589.2 433.5h0M1023.9 710.7h0M369.4 757.3h0M1034.2 641.9h0M993.3 697.8h0M987.1 746.8h0M924.4 739.7h0M922.1 784h0M349.1 765.2h0M627.1 925.2h0M686.5 462.3h0M324.6 788.4h0M435.8 833.4h0M713.8 145.5h0M430.7 840h0M998.2 667.2h0M228.3 542.2h0M517.8 985h0M624.4 437.8h0M360.1 734.4h0M1034.1 652.5h0M359.2 826.8h0M598.1 398.6h0M899.2 693h0M679 224.4h0M554.2 240.9h0M958.7 710h0M365 763.8h0M693.4 430.4h0M244.6 529.4h0M537.4 462.6h0M501.1 566.7h0M481.3 853.9h0M659.5 459.6h0M363 864.3h0M975.3 637.3h0M570.3 467.5h0M926.9 355h0M944.6 768h0M1019.6 642.3h0M393.2 862.4h0M688.6 436.1h0M486.2 876.7h0M994.9 681.9h0M628.4 438.9h0M799.2 784h0M371.6 864h0M303.5 806.3h0M462.5 570.4h0M1009.1 646.3h0M933.5 723.6h0M518.5 505.6h0M987.8 715.1h0M1013.8 649.3h0M251.2 536.8h0M632.5 432.5h0M206.1 512.4h0M490.8 498.8h0M964.4 628.6h0M469.7 454.9h0M688.6 454.2h0M569.9 226h0M507.1 878.4h0M417.5 441.2h0M385.5 790.8h0M986.8 695.5h0M446.3 535.2h0M500.3 464.2h0M896.2 578h0M330.7 807.7h0M746 547.3h0M950.7 770.1h0M439.4 868.9h0M897.7 576.6h0M541.2 503.3h0M357 740.5h0M355.2 814.7h0M434.6 439.4h0M327.2 840.4h0M652.7 673.2h0M718.7 227.2h0M898.6 563.4h0M1038.6 672.8h0M484.8 584.6h0M193.1 516.8h0M992.5 676.5h0M587.8 229.5h0M339.9 724.2h0M945.7 665.9h0M233.6 531.7h0M396.6 394.4h0M335.3 746.5h0M423.7 396.8h0M971.9 743.2h0M198.7 567.2h0M625.3 680.7h0M785.6 230.9h0M431.8 412.1h0M984.3 738h0M969.6 688.1h0M741.6 169.5h0M381.3 405.1h0M718.2 463.4h0M508.4 451.5h0M931.1 784.9h0M436.3 869.1h0M683.7 121.4h0M434.1 553.8h0M618 439.3h0M458.8 853.5h0M330.5 751.7h0M429 545h0M802.3 790.6h0M639.4 678.1h0M487 437.9h0M399.9 815.6h0M1006 690.9h0M716.8 449.2h0M1036.6 667.4h0M392.2 389.1h0M306.6 851.8h0M429.5 553.5h0M371.9 787.2h0M303.5 824.4h0M998.6 774.2h0M559.7 480.4h0M938.5 697h0M695.6 843.9h0M182.5 556.5h0M625.7 424.6h0M611.2 240.7h0M476.2 515.1h0M508.8 531h0M360.2 786.6h0M981 713.3h0M947.6 672.5h0M794.5 220.4h0M1001.5 631.5h0M576.7 222.1h0M723.3 274.7h0M510.6 548.2h0M475.9 873.2h0M1019.9 644h0M930.5 692.9h0M368.2 750.1h0M905.9 735.7h0M411.7 814.6h0M947 684.9h0M449.1 522.5h0M552.7 253.2h0M740.8 278.5h0M312.8 810.6h0M639.4 688.2h0M983.9 730.6h0M706.6 238.1h0M594.3 658.5h0M314.5 821.7h0M988.8 699.8h0M1026.3 638h0M558 764.7h0M241.1 543.2h0M730 857.3h0M221.2 506.2h0M366 810.8h0M965.4 711.2h0M583.2 737.1h0M395.4 426.2h0M954.4 726.7h0M486.9 553h0M189.6 516h0M503.4 877.3h0M486.4 873.2h0M964.3 701.9h0M715.1 145.3h0M417.6 825.2h0M612.1 705.1h0M505.9 459.3h0M608.2 404.7h0M1038.8 741.7h0M365 754.2h0M1002.7 630.3h0M962 714h0M981 629.6h0M746.4 176.1h0M1046.5 645.5h0M557.2 463.8h0M584.1 436.1h0M184.8 552.6h0M1054.4 704.7h0M344.4 846.6h0M945.4 751.7h0M662.6 455.6h0M949.4 756.9h0M494.4 374.7h0M720.8 932.1h0M637.5 918.8h0M461.4 566.9h0M696.9 143.7h0M904.7 694h0M290.4 836.9h0M262.7 538.7h0M434.7 850.7h0M340.6 759.3h0M184.8 568.2h0M982.1 778h0M351.2 740.5h0M402.3 775.2h0M383.1 419.3h0M210.9 524.9h0M409.8 443.3h0M987.2 753.1h0M989.2 650.8h0M632.3 913.9h0M318.7 768h0M613.6 420.4h0M296.2 831.7h0M736.1 187.8h0M985.1 633.7h0M494.9 877.7h0M520 461.6h0M171.8 540.8h0M924.3 369.9h0M939.5 389.5h0M950.8 736.9h0M738.6 271.3h0M397 773.2h0M734 227.7h0M525.4 493.2h0M454 465.2h0M989.3 655.2h0M604.5 232.4h0M201.6 511.1h0M472.3 512.1h0M396.1 408.3h0M585.4 233.1h0M473.1 869.8h0M480.2 521.3h0M492.5 345.9h0M571.4 218.2h0M486.8 864.9h0M689.6 251h0M630.2 706.3h0M951.5 747.4h0M688.5 928.2h0M208.3 551.7h0M951.5 704.1h0M587.7 734.1h0M451.2 854.9h0M348.1 848.9h0M1063.7 666.2h0M788.7 567.7h0M457.9 531.4h0M883.9 374.3h0M212.7 548.5h0M440 831.5h0M172.7 513.3h0M922.6 722.7h0M509.2 447.9h0M1045.9 667.6h0M528.4 1004.6h0M500 870.2h0M526 506h0M786.1 215.4h0M377.3 842.9h0M619.3 244.7h0M565.5 237.9h0M683.9 234.6h0M355.6 837.6h0M600.5 433.6h0M361.5 783.4h0M907.9 747.7h0M372.2 862.8h0M1045.7 713.4h0M780.9 572h0M644.7 426.5h0M479.7 546.2h0M600.8 469.6h0M684.7 468.9h0M733 553.3h0M708.5 849.1h0M708.8 458.8h0M398.4 384.2h0M738.6 268.8h0M724.9 190h0M457.7 574.8h0M1063.5 691.7h0M1003.4 751.2h0M409.1 422.9h0M927.2 699.8h0M1001.1 738.2h0M746.6 206.7h0M705.6 436.1h0M651.7 240.2h0M445.5 841.1h0M694.6 844.6h0M494.1 551.6h0M721.2 446.3h0M503.1 872h0M443.8 1040.9h0M1000.2 719.2h0M785.1 223.9h0M463.8 515.9h0M427 818h0M352.8 738.4h0M935.1 666.5h0M391.8 805.8h0M539.3 242.2h0M465.3 559.5h0M1021.3 635.5h0M917.8 736.5h0M723.9 201h0M170.6 530.5h0M738.8 837.5h0M603.2 684.4h0M756.2 585.5h0M403.9 807.9h0M588.1 539h0M387.5 856h0M203.2 534.9h0M500.4 508h0M604.7 410.7h0M335.1 790.3h0M942.6 666.6h0M479.4 856.5h0M621.2 670.1h0M314.2 826.8h0M259.3 534.3h0M1016.2 669.9h0M476.7 454.9h0M745.4 601.8h0M351.1 843.6h0M1002.3 655.7h0M264.9 531.2h0M607.2 663.8h0M903.6 690.5h0M988.4 636.5h0M452.2 848.9h0M923.1 772.8h0M394.8 834.2h0M331.9 743.3h0M327.4 731.1h0M769.1 212.2h0M756.1 558.2h0M489.7 512.3h0M1015.6 636.4h0M367.9 865.9h0M1055.6 705.9h0M916.4 539.2h0M509.4 522.3h0M927.9 721.5h0M1010.9 673h0M725.3 842.5h0M373.9 848.7h0M1017.4 675.1h0M455.9 560.8h0M757.4 231.8h0M578.1 779.7h0M661.4 430h0M196.8 567.2h0M577.3 780.3h0M202.5 524.2h0M600.3 456.2h0M394.3 814.9h0M485.4 495h0M999.5 721h0M633.8 436.1h0M693.4 846.5h0M339.1 845.8h0M913 575h0M979.1 697.8h0M304.8 829.6h0M458.8 579.7h0M374.9 832.3h0M220 559h0M610 456.8h0M558.6 473h0M471.7 536.4h0M576.4 529.8h0M901.2 695.1h0M990.4 718.1h0M628.1 662.1h0M386.2 783.3h0M959.5 720.2h0M489.2 866.5h0M647.6 450.6h0M1026.3 647.8h0M380.9 840.9h0M716.1 458h0M362.8 776.3h0M478.4 857.6h0M500.4 870.6h0M918.7 751.8h0M458.2 460.5h0M467.2 846.4h0M493 881.7h0M584.7 404.7h0M229.1 564.4h0M690.8 452.4h0M182 511h0M346.6 831.6h0M524 1006.8h0M198.6 562h0M1020.6 620.8h0M1030.1 634.5h0M428.4 532.1h0M375.1 800.7h0M567.2 241.9h0M784.3 570.2h0M384.6 811.1h0M475.7 559.8h0M518.4 978h0M575.2 452h0M1031.8 694.5h0M532.5 993.9h0M611.4 851.1h0M612.4 861.2h0M488.9 590.2h0M1056.8 653.3h0M1059.3 654.7h0M909.8 367.8h0M577.6 756.9h0M1060.4 696.5h0M516.7 541.2h0M356.3 847.6h0M927.8 759.4h0M586.5 220.6h0M1002.7 713.3h0M372.7 826.1h0M914.3 541.4h0M532.8 463.6h0M320.2 751.8h0M463.1 445.5h0M970.5 656.9h0M1054.2 723.5h0M583.8 234.2h0M917.3 739.9h0M550 452.8h0M717.5 461.7h0M962.8 677.9h0M960.6 629h0M671.8 142.4h0M668.4 427.6h0M424.8 835.2h0M903.5 731.7h0M343.2 843.3h0M203.9 570.7h0M516.9 522.1h0M315.1 817.4h0M329.5 772.3h0M443.7 835.9h0M1033.8 669.1h0M439.2 845.7h0M448 559.3h0M435.6 849.9h0M1020.3 761.8h0M464.7 564.4h0M362.9 854.8h0M936.2 784.8h0M181.8 513h0M959 780.5h0M340 724h0M430.8 842.5h0M472.3 512.2h0M1054.5 704.6h0M653.8 427h0M476.5 430.6h0M416.7 817h0M415.3 417h0M1003.6 672.2h0M186.4 548.8h0M925.4 728.3h0M475.2 540.9h0M168.9 533.8h0M549.4 764.4h0M619.4 469h0M914 706.6h0M185.4 509h0M557.2 769.8h0M510 518.2h0M996.1 663.1h0M1010.2 670.4h0M725.9 566.4h0M927.3 374.9h0M947.5 749.7h0M1049.9 718.6h0M742.5 223.6h0M953.7 718.7h0M999.1 761.7h0M915.5 566.5h0M959.2 761.1h0M485.9 884h0M793.3 250h0M493.6 888.3h0M717.3 843.1h0M499.5 866.4h0M463.9 565.2h0M590.2 471h0M698.6 449.9h0M194.4 509.3h0M645.3 459.8h0M965.5 649.9h0M404.9 431.5h0M384.3 393.2h0M674.4 455.7h0M236.6 524.9h0M714.1 444.6h0M300.7 831.8h0M618.6 671.9h0M933.6 774.9h0M705 468.7h0M533.8 997.5h0M706.1 843.5h0M722 848.2h0M942.9 692.2h0M599.8 692h0M960.6 781.3h0M907.5 701.5h0M522.9 996.8h0M981.5 716.1h0M649.1 243.6h0M1020.1 652.4h0M335.6 785.1h0M381.8 800h0M484.4 514.3h0M788.6 253.4h0M959.2 366.5h0M987.5 639.6h0M641 688.7h0M416.1 418h0M893.6 577.7h0M559 450.2h0M345.7 735.9h0M221.6 552.3h0M957.1 757.3h0M387.2 394.8h0M201.9 498.9h0M316.5 802.8h0M614.8 391.1h0M546.8 483.1h0M1007.6 698.8h0M581.5 432.1h0M725.9 838.5h0M655.7 426.4h0M992.9 756.1h0M988 726.8h0M809.7 217.5h0M308.5 856.2h0M389.5 840h0M354.1 808h0M407 393.7h0M382.1 774h0M549.1 485.6h0M621.4 424.9h0M954.3 719.5h0M628.2 422.4h0M494.1 375.2h0M383.3 397.3h0M1026.6 623h0M1028.3 694.8h0M796.2 232h0M176.6 516.3h0M749.2 544.8h0M982 750.8h0M311.8 820.8h0M466.4 437.7h0M367.3 794.5h0M487.2 578.2h0M782.7 563h0M333.9 844.3h0M727.6 837.9h0M1062.1 700.7h0M535.7 447.2h0M323.8 816.3h0M163.5 561.8h0M961.6 699h0M740.7 851.1h0M218.5 544.3h0M595 391.5h0M987.1 681.9h0M525.8 473.9h0M609.9 448.5h0M725.6 176.6h0M352.1 784.6h0M475.3 859.2h0M347.9 738.6h0M702.1 466.9h0M407.6 834h0M981.5 654h0M482 865.5h0M241.9 522.6h0M664.2 236.5h0M604.8 698.9h0M149 545.7h0M969.7 686.2h0M723.7 585.7h0M741.3 188.3h0M719.6 150.5h0M752.3 558.6h0M1002.7 716.1h0M343.3 812h0M896.9 572.9h0M344.3 772.6h0M347.3 763h0M592 439.4h0M540.8 506.3h0M179.7 526.3h0M618.6 681.8h0M408.6 389.3h0M659.7 683.4h0M715.5 219.1h0M595.8 684.8h0M557.9 776h0M969.1 645.3h0M982 726.9h0M325.4 794.7h0M971.1 730.5h0M576.3 769.1h0M478.1 495h0M467.7 523.7h0M730.2 853.2h0M380.6 759.6h0M363.3 828.7h0M483.9 515h0M481.8 855.3h0M389.7 834.4h0M498.5 508.7h0M319.4 801h0M166.9 541.5h0M683.2 465.4h0M372.8 811h0M715.9 222.6h0M1032.8 691.4h0M709.3 844.3h0M1020.7 734.4h0M582 776.7h0M709.4 434.7h0M315.2 827.7h0M630 909.1h0M975.1 759.3h0M377.9 807.3h0M1029.7 629.1h0M962 710.6h0M333.5 812.8h0M737.4 850h0M1009.6 707h0M912 565h0M350.3 826h0M616.6 385.9h0M362.1 844.1h0M750.2 221.4h0M513.5 409.2h0M454.8 574h0M613.7 700.6h0M230 552.6h0M1046.2 719.5h0M384.7 822.9h0M908.3 692.2h0M260.6 524.6h0M396.1 427h0M974 688.8h0M610.7 406.6h0M591 458.4h0M342.6 863.6h0M379.2 748.8h0M501 511.7h0M359.7 739.4h0M1055 686.7h0M342.2 838.5h0M293.8 840.4h0M344.1 794.5h0M807.1 782.3h0M1042.2 728.2h0M165.6 529.2h0M420.6 844.4h0M364.8 853.7h0M580.3 768.1h0M483.6 484.5h0M385 815.7h0M722.2 566.7h0M600.5 440h0M590.5 412.7h0M664.3 447.9h0M896.2 703.5h0M513.1 563.8h0M457.2 581.9h0M561.7 228.5h0M604.3 383.3h0M735.2 559.3h0M806.4 238.8h0M492.9 363.8h0M472.1 550h0M366.3 764.9h0M618.8 451.5h0M998.6 687.5h0M396.6 833.3h0M457.9 551.2h0M489 516.3h0M591.9 418.4h0M979 679.2h0M587.6 436.5h0M738.5 850.3h0M395.4 399.1h0M722.6 822.8h0M487 515.2h0M493.2 465.4h0M581.4 229.3h0M538 448h0M921.8 735h0M907.1 714.4h0M466.1 844.5h0M333.3 833.7h0M994.8 737.9h0M1018.8 649.1h0M498.8 875.1h0M428.3 561.7h0M358 860.1h0M951.9 751.6h0M1062.9 656.8h0M170.5 561.1h0M518.1 538.8h0M243.1 577.6h0M705 448.9h0M393.7 863h0M1005.4 732.4h0M429.3 567h0M602.7 677.4h0M403 425.4h0M477.1 540.8h0M937.1 751.5h0M382.5 776.8h0M187.4 525.6h0M688.6 469.9h0M540.7 462.9h0M718.1 451.8h0M747.1 604.2h0M419.2 811.8h0M1003.2 715.9h0M730.1 532.8h0M799.6 783h0M715.9 438.7h0M524.1 550.3h0M731.4 195.6h0M259.7 531.5h0M1035.5 716.7h0M538.7 498.9h0M475.4 436.8h0M388.4 426.3h0M464.1 863.9h0M1021.9 743h0M967.9 639.8h0M616.8 237.3h0M541.1 221.5h0M641 670.3h0M682.1 924.1h0M340.8 816.5h0M369 840.9h0M946.2 731.7h0M707.4 940.6h0M492.6 871.7h0M475.3 850.4h0M987 662.9h0M1054.6 649.5h0M979.3 657.6h0M715.4 932.8h0M601.9 657.6h0M423.5 442h0M522.9 485.5h0M814 222.3h0M398.5 402.8h0M219.4 515.5h0M1035.3 733.2h0M211.6 556h0M898.7 566.8h0M501.9 380.8h0M903.6 698.8h0M351 736.3h0M322 814.8h0M708.2 471.1h0M668.5 449.8h0M692.4 426.6h0M598.1 684.4h0M751.3 561.2h0M244.5 571.2h0M675.1 436.2h0M377.2 832.1h0M626.7 403.3h0M938.5 768.2h0M913 584h0M979.8 772.1h0M730.8 850h0M174.3 511.1h0M410.3 806.2h0M667.2 696.9h0M927.5 694.9h0M382.9 412.4h0M380 819h0M1039 639.1h0M731.2 276.9h0M485.8 587.2h0M359.6 807h0M637.4 659.6h0M427.5 570.3h0M979.9 772h0M918.6 783.5h0M912.9 542.6h0M1030.7 730.2h0M971.2 721.7h0M924.2 762.8h0M215.2 518.6h0M981.6 640.3h0M371.4 871h0M903 704h0M295.6 840.4h0M929.5 376.4h0M631.3 906.3h0M403.8 811.1h0M584.5 391h0M324.3 761.9h0M688.3 180.5h0M932.2 739.7h0M212 570.5h0M340.5 719.4h0M977.6 778.3h0M478 498.8h0M603.9 392.9h0M445.9 390.2h0M448.7 578.7h0M473.4 576.4h0M620.8 436.9h0M685 925.6h0M1041.4 698.3h0M474.9 521.6h0M483.1 866h0M998.4 715.1h0M335.2 792.1h0M486.3 866.7h0M916.4 744.7h0M571.4 478.6h0M351.5 855.6h0M525 501.7h0M178.8 560.1h0M1000.8 646.1h0M1031.1 669.8h0M963 632.5h0M1033.4 751.8h0M595.1 447.5h0M492.1 865.7h0M324.5 730.3h0M362.7 848.2h0M163.7 552.3h0M645.2 443.9h0M505.5 459.3h0M698.3 142h0M332.4 756h0M720.2 461.7h0M324.4 735.2h0M605.1 436.2h0M480.7 349.1h0M488.6 514.2h0M573.1 532.1h0M386.6 856.2h0M625.6 923.7h0M659.4 984.6h0M822.8 213.9h0M953.8 649.9h0M391.6 841.2h0M313.4 823.5h0M208.3 544.4h0M534.9 455.9h0M657.4 704.9h0M470.8 847.5h0M923.3 712.1h0M225.7 521h0M677.9 238.4h0M358.6 844.4h0M936 694.4h0M597 662.4h0M928.9 753.7h0M306.3 816.8h0M354 733.5h0M598.7 462h0M686.2 438.1h0M351.3 824.2h0M497.6 867.2h0M610.1 415.5h0M413.2 418.2h0M1014 706.1h0M461.4 545.2h0M941.9 701.3h0M451.3 570.9h0M393.8 840.9h0M379.3 865.1h0M377.1 805h0M803.6 788.3h0M911.5 730.3h0M379.3 792.8h0M483.9 871.3h0M649.6 674.5h0M977.9 757.5h0M636.4 669.3h0M472 865.1h0M611.3 445.1h0M617.3 235.5h0M328.6 864.1h0M575.8 465.8h0M1035.5 753.3h0M440 575.1h0M596.9 437.7h0M684.9 242.6h0M583.8 219.6h0M400.5 389h0M1058.5 699.4h0M312 848.3h0M335.9 734.1h0M336.2 738.4h0M644.1 422.1h0M404.1 424.2h0M462.7 551.6h0M995.8 715.9h0M541.6 455.4h0M638.5 706h0M379.5 834.7h0M232.2 563.7h0M493.1 883.6h0M969.3 653.9h0M742.5 568.3h0M310.2 842.1h0M315.8 854.3h0M491.1 459.8h0M468.4 563.5h0M178.8 518h0M606.5 408.1h0M980.9 741.7h0M957.1 756.4h0M611.6 394.9h0M627.4 922.8h0M315.8 847.1h0M371.5 823.6h0M1050.2 707.6h0M500.1 568.5h0M726.9 858.5h0M387.1 800.7h0M338.9 803.6h0M914.9 717.7h0M293 816.3h0M1019.9 768.9h0M353.7 815.3h0M709.1 226h0M494.1 578.8h0M217.8 526.3h0M343.9 785.9h0M1053.2 650h0M937.2 740.1h0M239.6 575.5h0M394.3 434h0M323.5 786.1h0M897.3 571.3h0M948.6 724.9h0M618.7 688.5h0M631 465.7h0M209.3 563.3h0M907.4 744.4h0M927.3 761h0M643.6 672h0M911.4 731.8h0M725.4 855.1h0M481.1 875.3h0M949.1 690.9h0M711.3 470h0M1065.5 665.5h0M1031.8 631.7h0M908.3 738.6h0M716.6 855.7h0M511.2 921.3h0M523.1 511.2h0M1012.8 642.7h0M639.8 906.4h0M639.9 662.2h0M408.8 829.7h0M192.1 545.8h0M655.5 978.8h0M407 422.1h0M716.7 239.2h0M781.8 293.8h0M928.7 781.8h0M378.6 793.4h0M866.6 368.6h0M414.3 413.3h0M505 872h0M206.7 511.7h0M729.3 227.3h0M964 680.3h0M715.1 148.8h0M414.3 394.6h0M155.8 547.4h0M711.1 854.3h0M1017.6 735.8h0M454.3 552h0M452.3 859.9h0M420 828.4h0M350.1 769.1h0M686.6 444.1h0M443.9 577.3h0M611.6 702.2h0M444.1 393h0M566 452.5h0M743.6 549.4h0M587.1 409.8h0M367.7 769.5h0M1013.4 672.5h0M712 934.6h0M397.9 411.2h0M895 572.2h0M583 452.4h0M731.6 857.5h0M312.1 859.9h0M423.4 813.9h0M1018.2 696.4h0M149.6 551.7h0M662 250.8h0M318.3 763.6h0M405.6 431.8h0M919.4 374.6h0M468.9 430.9h0M449 844.5h0M1009.1 716.6h0M562.2 242.1h0M477.2 485.7h0M332.2 836h0M1017.5 737.9h0M526.3 458h0M1027.2 698.6h0M1026.5 760.4h0M408.6 417.7h0M959 677.4h0M445.6 851.4h0M401.2 814.7h0M540.7 233h0M555.2 777.7h0M480.3 559h0M716.9 848.9h0M340.2 833.2h0M517 547.6h0M610.2 234h0M910.2 727.8h0M975.4 682.3h0M687.6 462.6h0M643.9 244.2h0M502 566.1h0M962 633.4h0M625.4 448.3h0M1026.6 723.9h0M542.4 470.9h0M915 538.2h0M592.6 225.3h0M175.6 553.3h0M187.2 569.5h0M354.4 790.3h0M1042.6 681.7h0M610 406.5h0M500.4 567.1h0M589 234.4h0M395.1 834h0M911.5 541.7h0M692.6 855.8h0M374.4 847.5h0M1009.4 749.1h0M894.5 712.1h0M574.8 757.5h0M695.7 440.2h0M943.1 680.6h0M511.4 462.7h0M605 406.3h0M567 769.7h0M732.7 227.2h0M584.1 466.4h0M709.6 829.8h0M497 868.2h0M415.4 818.7h0M993.5 760.5h0M645 420h0M568 240.8h0M426.8 538.5h0M988.2 639.1h0M922.2 767.6h0M569.6 475h0M1016.2 646.3h0M365.5 850.2h0M917.1 768.1h0M968.4 663.8h0M315.6 854.8h0M517.1 507.2h0M1008.4 681.2h0M409.4 409.8h0M594.7 444.9h0M526.5 998.8h0M241 536.8h0M479.1 874.2h0M962.2 750h0M614.6 682h0M491.9 885.5h0M607.6 410.7h0M954.4 662h0M952.3 781.3h0M755.6 247.1h0M967.3 726.9h0M394.2 780.6h0M231.8 552.6h0M1013.4 685.7h0M637.5 449.6h0M349.2 786.6h0M656.3 980h0M393 431.7h0M625.9 417.9h0M389.7 810h0M948.4 683.3h0M441.4 558.2h0M456.6 458.4h0M923.9 754.5h0M297.7 835.1h0M1045 738.3h0M592.2 415.8h0M621.3 411.1h0M325.3 853.8h0M922.8 750.6h0M745.1 794.5h0M649.7 437.4h0M902.6 713.6h0M519.7 457.7h0M309.4 815.4h0M352.6 754.3h0M680.4 438.1h0M758.8 197.7h0M807.4 790.5h0M501.8 873.6h0M328.9 793.1h0M329.8 749h0M438.5 838.1h0M753.5 559.1h0M986.1 700.6h0M364 774.4h0M430.3 419h0M221.7 520.3h0M719.9 851.3h0M403.3 409.9h0M594.7 225.3h0M621.3 457.5h0M989.8 712.2h0M167.9 536.9h0M342.4 861.3h0M584.3 415.8h0M985.1 686.3h0M319.9 753.5h0M431.1 547h0M750.8 546.7h0M989 751.4h0M956.8 702.8h0M598 441h0M553.9 251h0M988.9 774.6h0M398 822.5h0M602.6 674.4h0M498.7 866.9h0M995.4 693.8h0M389 854.5h0M330.7 859.5h0M719.9 455.2h0M805.6 296.1h0M599.7 439.7h0M1003.2 642.6h0M152.9 527.9h0M1034 659.8h0M1011 715.4h0M750.8 550.2h0M350.5 812.7h0M344.8 719.3h0M525.5 519.1h0M496.9 506.7h0M521.3 989.9h0M375.5 833.7h0M651 446.3h0M154.1 543.2h0M914.2 770.4h0M513.9 437.8h0M434.9 394.9h0M379 763.3h0M629.9 686.1h0M584.1 444.1h0M317.5 815.2h0M323.6 825.6h0M968.8 728.1h0M765.8 584.9h0M445.1 438h0M896.7 567.3h0M928.3 774.2h0M486.4 507.9h0M935.8 717.1h0M669.2 439.3h0M914.8 713.8h0M527.3 452.8h0M1019.9 753.1h0M307.1 812.6h0M355.4 818.6h0M789.9 229h0M413.3 821.5h0M912.5 588.5h0M1059.2 652.9h0M755.2 215h0M503.9 546.6h0M768.6 201.6h0M448 858.4h0M697.6 459h0M967.1 765.3h0M702.6 859.3h0M475.2 469.2h0M696.4 468.5h0M1006.2 746.4h0M325 816.3h0M453.7 860h0M673 458.7h0M1042.8 663.3h0M739.1 533.6h0M524.5 454.2h0M944.9 708.2h0M641.9 662.2h0M943.2 763.5h0M464.3 863.6h0M224 509.6h0M957.2 698.8h0M978.3 750.4h0M636.6 918.1h0M209 527.4h0M440.1 547.6h0M203.5 533.7h0M1046.5 659.8h0M596.7 685.2h0M476 451.7h0M420.8 837.5h0M826.2 225.5h0M646.2 684.9h0M491.3 864.7h0M958 770.4h0M492.9 461.1h0M380.2 804.5h0M551.8 776.4h0M568.1 477.1h0M226.5 545.5h0M960.5 717.1h0M947.2 680.7h0M472.1 422.1h0M349.7 779.7h0M980 762h0M899.2 703.1h0M947.5 778.4h0M326.3 842.6h0M488.3 552h0M681.8 458.3h0M934.1 370.3h0M312.1 816.5h0M438.2 559.8h0M554.5 227.1h0M959.9 653.7h0M424.1 399.3h0M507.1 397.7h0M477.9 588.1h0M617 404.2h0M713.8 227.9h0M526.4 485.9h0M483.6 874.7h0M621.9 873h0M193.3 553.8h0M672.2 253.4h0M415.2 444.3h0M385.5 413.9h0M925.6 760.2h0M408.7 807.5h0M407.9 409.3h0M589.7 454.1h0M965.7 725.9h0M515.1 449.1h0M493.6 592.5h0M807.9 296.4h0M978.7 659.1h0M385 848.1h0M429.1 829h0M1063.1 662h0M990.3 664.4h0M309.2 811.5h0M807.4 238.8h0M367.8 780.6h0M992.2 644.3h0M652 917.9h0M1047.2 708.6h0M602.1 679.2h0M190.9 506.6h0M224.5 568.6h0M347.2 778.9h0M937.6 667.5h0M392.3 387.9h0M348.2 767.9h0M605.5 400.1h0M1011.1 622.9h0M320.9 746.6h0M485.4 593.3h0M1021.1 714.2h0M646.7 461.1h0M533.4 481.2h0M524.3 550h0M562.1 454.2h0M749.4 554.6h0M386.3 839.3h0M946.9 697.6h0M518.6 970.1h0M601.7 456.7h0M600.8 697.5h0M488.5 444.4h0M402.9 426.6h0M742.2 557.7h0M426.1 828.8h0M976.4 732.7h0M1039.1 708.2h0M1000.8 619.3h0M933.3 704.6h0M432.3 568.9h0M974.9 634.8h0M622.6 409.9h0M447.1 855.3h0M638.5 443.7h0M1034.9 678.9h0M593.8 469.4h0M583.5 431.2h0M358.7 744.7h0M1041.6 668.5h0M674.7 444.6h0M532.8 486.1h0M719.1 448.9h0M313.1 786.6h0M593.6 232.5h0M616.1 389.8h0M979 654.2h0M770.8 245h0M907.7 733.6h0M367.8 862.4h0M466.9 854.1h0M996.2 650.6h0M1022.3 651h0M919.3 754.2h0M434.2 842.9h0M768.4 227.9h0M1049.5 636.8h0M948.2 689h0M1035.5 672.6h0M990.3 657.9h0M437.4 393.8h0M932.1 779.2h0M926 743.6h0M641.7 913.9h0M989.2 629h0M757.4 565.5h0M437.9 564.5h0M611.5 384.4h0M357.7 817.3h0M997.4 752.4h0M586.3 453.4h0M384.1 823.7h0M619.5 712.3h0M590.3 232.5h0M904.6 712.7h0M707.8 164.2h0M236.1 570h0M721.1 456.8h0M449.6 569.4h0M289.8 831.2h0M705.6 462.4h0M476.1 574.7h0M920.5 779h0M615.9 680.7h0M900 714.7h0M605.7 391.4h0M500.5 875.6h0M213.4 544.6h0M1002.7 664.6h0M922 786.6h0M365.7 786.5h0M979.6 640h0M205 524.8h0M493.6 465.6h0M303.9 821.1h0M301.1 802.6h0M394.1 829.2h0M362.2 801.2h0M712.7 442.2h0M633.6 244.3h0M403.1 385.9h0M987.4 757h0M761.4 204.2h0M308 858.1h0M507.7 884.2h0M450.9 520.3h0M1039 665.1h0M642.5 913.6h0M444.4 530.9h0M656.9 447.8h0M390.1 420.9h0M331.6 811.6h0M704.8 456.4h0M507.9 539.5h0M916.5 542.9h0M160.3 561.7h0M1026.2 652.4h0M463.5 846.5h0M455.6 866.9h0M739.8 841h0M439.2 415.1h0M626.8 678.2h0M706 860.6h0M212.7 502.1h0M547.1 778.7h0M322.8 780.1h0M821.8 215.1h0M457.4 852.5h0M992.9 640.6h0M328.7 817h0M239 519.4h0M529.7 493.1h0M157.5 524.3h0M922.9 727.2h0M618.8 442h0M924.4 371h0M499.6 878.8h0M828.8 224.4h0M201.6 539.9h0M414.4 840.3h0M344 851.1h0M1041.1 697.9h0M256.7 537.4h0M707.3 129.9h0M1039.5 687.7h0M701.2 852.5h0M536.3 490.5h0M186.1 515.3h0M621.5 237.9h0M672.2 717.2h0M608.3 243.5h0M976.2 777.7h0M611.1 683.6h0M1039 710.9h0M314.5 858.1h0M599.1 659.8h0M715.7 129.8h0M489.8 468.1h0M351.1 728.4h0M390 858.4h0M653.6 461.7h0M619.4 661.9h0M528.1 478.2h0M562.1 471.1h0M339.9 848.3h0M325.7 864.9h0M411.7 815.5h0M746 213.7h0M619 421.3h0M624 456.1h0M621.7 879.9h0M183.5 545.3h0M465.9 846.4h0M1016.1 731.5h0M971.3 693h0M583.8 402h0M459.5 457.3h0M607.7 685.9h0M637.8 692.1h0M992.3 752.3h0M724 944.9h0M696.2 441.7h0M655.9 461.7h0M984.3 759h0M650.3 241.9h0M584.1 408.3h0M596.6 458.8h0M481.2 875.3h0M497.2 582h0M919.4 751.5h0M633.3 910.2h0M1054.5 701.1h0M244.3 521.8h0M1029.4 659h0M501 570.4h0M359 838.1h0M1012.1 631.2h0M1049.4 654.8h0M383.6 855.6h0M713.1 445.4h0M626.9 464.5h0M1055.6 641.7h0M583.9 233.2h0M892.8 704.5h0M600.5 701.1h0M650.6 454.3h0M696.1 446.1h0M362.5 839h0M913 579h0M359.3 730h0M675.7 702h0M483.6 861h0M941 707.9h0M325.7 810.3h0M709 448.7h0M702.6 851.9h0M612 420.6h0M975.7 698.4h0M325.9 781.1h0M483.4 519.3h0M289.4 820.6h0M993.9 777.8h0M169.7 547.1h0M657.5 457.1h0M1064.6 678.6h0M570.5 469h0M660.7 445.4h0M441.6 593h0M467.1 858.9h0M489.3 362.7h0M915.4 763h0M187.2 512.9h0M519.5 481.1h0M481.2 491.1h0M977.8 705.5h0M385.7 831.6h0M406.3 822.4h0M444.7 555.2h0M372.1 832h0M969.3 666h0M399.7 847.1h0M502.9 501h0M403.8 832h0M588.5 219.5h0M371.1 734.4h0M444.5 595.6h0M399.1 783.3h0M603.2 378.1h0M426.1 827.2h0M304.5 832h0M916.4 771.7h0M974.8 629.5h0M396.2 865.2h0M397.5 400.3h0M540.4 227h0M914.4 784.3h0M1021.1 672.7h0M989.4 697.6h0M427.6 552.4h0M926.5 717.1h0M789.8 290.9h0M938.3 772.4h0M1019.8 754.3h0M302.4 820.8h0M318.9 808.1h0M488.5 517h0M368.3 762.7h0M360.7 765h0M514.6 1019.8h0M471.9 431.2h0M564.9 777.8h0M230.3 565.1h0M460.3 521.9h0M975.7 658.6h0M333.8 788h0M387.7 420.6h0M254.4 540.7h0M213.5 534.1h0M622.5 464.5h0M435.9 837.9h0M586.2 444.3h0M1037.9 650.8h0M601.1 429.5h0M763.6 237.6h0M898.3 570.8h0M970.3 655.4h0M1028.9 638.9h0M560.2 464.3h0M316.9 856.9h0M450.8 454.1h0M432.5 866h0M326.9 797.7h0M203.2 521.5h0M475 861.9h0M723.4 842h0M519.9 555.2h0M455.8 449.7h0M992.1 736.6h0M662.1 456.7h0M389.6 766.3h0M398.4 820.4h0M577.3 477.4h0M391.2 394.4h0M491.9 500.1h0M585.5 436.9h0M747 546.2h0M636.9 457.7h0M975.8 663.1h0M635.3 416.3h0M501 462.5h0M531.7 468.9h0M159.1 557.2h0M723.5 853.4h0M320 829.2h0M338.3 834.2h0M1033.5 646.9h0M616.3 681.3h0M963.1 653.7h0M484 519.2h0M748.2 791.5h0M691.3 852.9h0M606.2 670.1h0M221.8 561.8h0M616.2 686.1h0M801.8 269h0M374.7 860.5h0M654.1 239h0M1020.7 729h0M544.4 318.4h0M253.8 533h0M326.3 777.4h0M333.2 784.3h0M1009.2 670.7h0M670.1 696.3h0M500.3 872.4h0M354.8 823.5h0M1065.7 681.1h0M1033 675.8h0M1054.6 677.5h0M666.3 444.2h0M506.1 868.6h0M1009.8 650.8h0M798.6 784.8h0M746.9 549.2h0M1025.4 675.7h0M907.8 545.4h0M168.1 518.6h0M720.9 233h0M209.1 517.8h0M999.7 748h0M508.4 565.1h0M457.2 853.3h0M999.5 620h0M942.3 762.1h0M472.6 859.8h0M753.1 566.3h0M635.3 451h0M592.3 454.8h0M731.9 856.6h0M823.7 214.6h0M458.6 546.4h0M183.7 562.6h0M559.6 768.1h0M355.2 778.2h0M221.1 508.5h0M263.2 538.5h0M394.6 769.5h0M805.6 777.1h0M982.2 640.6h0M692.9 932.1h0M724.8 197.5h0M433.2 412.3h0M491.4 576.6h0M419.3 830.9h0M530.8 477.5h0M335.4 779.6h0M356.9 779.5h0M414 406.8h0M605.6 688.9h0M383.9 825.8h0M210.8 571.8h0M692 239.6h0M788.1 293.2h0M647.8 437.8h0M1004.7 769.6h0M726.1 845h0M555.4 777h0M532.8 1001.3h0M369 867.5h0M183.4 522.5h0M478.3 490.6h0M1022.5 741.3h0M637.8 653.2h0M1020.2 759.1h0M219 560.8h0M512.6 451.2h0M262.5 533.7h0M336.3 768.4h0M711 433.7h0M672.6 440.1h0M954.5 667h0M353.5 761.8h0M700.8 434h0M911.2 711.9h0M338.7 772.5h0M819 288.5h0M671.5 439.9h0M807.2 289.1h0M947 783.1h0M434.1 535.6h0M997.9 754.8h0M189 514.1h0M967.4 775h0M435.8 850h0M1009.6 656h0M430.3 840.5h0M723.7 842.9h0M689.8 431.4h0M954 681h0M931.6 739.2h0M341.3 800.3h0M955.3 705.2h0M620 432.5h0M460.6 549.8h0M325.7 827.4h0M604.1 461.4h0M639.4 696.4h0M939.1 699.1h0M1010.9 672h0M557.6 223.4h0M453.2 464.2h0M802.4 791.9h0M492.6 354.2h0M431.5 557.7h0M196.7 546.1h0M924.6 735.6h0M959.5 710.9h0M908 706.5h0M303 825.3h0M573.9 463.5h0M168.4 562h0M338 796h0M570.9 530.9h0M1045.7 717.3h0M610.7 384.8h0M465.5 575h0M384.6 802.8h0M498 870.8h0M164.1 548.7h0M414.9 814.1h0M433.2 845.5h0M627.5 457.9h0M543 231.6h0M981.9 683.7h0M902.4 717.9h0M563.9 773.4h0M245.8 538.5h0M361.1 763.4h0M707.5 147.3h0M731.3 848.3h0M311.7 791.3h0M330.8 837.9h0M318.7 847h0M968.1 627.6h0M513.6 535.5h0M994.3 745.9h0M923.5 763.8h0M247.9 531.7h0M357.8 818.5h0M479.4 582.9h0M1033 699.8h0M391.5 405.7h0M794.3 782.3h0M477.4 876.2h0M1013.2 690.9h0M1035.5 689.1h0M308.3 818.2h0M318.9 799.9h0M600.3 665.6h0M808.4 784.5h0M244.2 502.3h0M569.9 233.4h0M614.4 855.5h0M1009.3 706.8h0M179.3 553.2h0M378.6 776.6h0M576.2 229.2h0M469.5 520.7h0M686.6 247.7h0M472.4 428.9h0M594 396.6h0M911.7 369.8h0M915.1 731.9h0M356.3 736.1h0M427 846.7h0M927.6 779.6h0M817.4 234.3h0M481.1 580.8h0M691.5 932.5h0M779.5 227.7h0M346.9 834.6h0M473 857.7h0M913.9 760.8h0M361.1 793.7h0M934.4 670.2h0M580.9 238.6h0M653.3 248.6h0M156.3 523.5h0M917.9 719.1h0M655 454.2h0M914.4 537.3h0M608.3 673h0M540 500.8h0M1028 709.5h0M296.2 848.5h0M343.2 732.7h0M366.8 764.3h0M572.3 241.5h0M459.5 857.6h0M334.5 755.5h0M731.3 851.9h0M716.2 439.3h0M982.3 717.6h0M703.2 857.6h0M325.1 781.8h0M695.2 461.2h0M809.9 792.1h0M656.7 432.9h0M372.4 845.5h0M322.5 806.7h0M432.8 571.1h0M244.2 537.9h0M217 559.8h0M728.2 846.8h0M582.9 423.7h0M574.2 441.5h0M968.9 718.2h0M496.4 537.6h0M441.9 869.7h0M545.5 214.7h0M436.7 834.7h0M635.5 905h0M321.5 825.2h0M344.9 784.1h0M457.2 532.8h0M466.4 862.5h0M303.4 839.6h0M1029.3 750.6h0M613.8 665.2h0M897.7 715.9h0M406.7 806.3h0M358.9 793.7h0M605.3 241h0M786.4 253.6h0M912.1 698.5h0M491.8 580.7h0M438.9 1041.5h0M349.8 773.1h0M637.1 916h0M721 848.1h0M497.9 455.7h0M445.6 448.9h0M673.2 163.8h0M352.3 752.1h0M923.8 774h0M425.5 545.7h0M749.2 268.5h0M371.7 809.8h0M448.4 558.5h0M512 524.4h0M759.1 195h0M963.4 758.6h0M616 683.7h0M625.8 923.4h0M537.5 487.2h0M685.7 446.4h0M718.8 457.6h0M215.8 549.7h0M525.8 991.6h0M183.5 528.1h0M902.3 727.2h0M459.9 531.2h0M944.9 661.4h0M459.4 523.5h0M627.3 417.6h0M401.3 430.4h0M617.3 648.7h0M1003 655.6h0M969.5 638.9h0M613.5 669.6h0M239.9 523.5h0M614 388h0M327.2 819.1h0M923.6 745.4h0M495.8 884.4h0M972.2 754.3h0M683 927.6h0M150.9 536h0M620.5 700.6h0M501.4 886.1h0M427.1 568.2h0M511.8 547.6h0M191.1 569h0M620.9 677.9h0M674.5 700.5h0M502.8 567h0M579.7 452h0M702 847.3h0M369.4 767.7h0M371.3 833.4h0M899.8 700h0M478.3 465.2h0M927.5 355.6h0M667.3 460.9h0M766.3 208h0M204.8 536h0M545.3 499.3h0M696.4 178.8h0M770.5 210.4h0M178.4 555.1h0M446.1 848.8h0M537.1 221.3h0M615.2 428.4h0M703 842.3h0M800 247.3h0M372.6 788.9h0"/>
<path class="d" stroke="#AB8BE7" stroke-width="5.6" d="M679.6 213.1h0M492.8 863.1h0M735 201.1h0M666.1 241h0M596.9 654.7h0M897.6 709.5h0M1025.4 695.1h0M917.4 730.5h0M1048.5 727.9h0M523.5 482.8h0M430.6 844h0M527.1 1012.2h0M956.9 771.2h0M990.4 770.6h0M1046.6 715h0M571.3 248.3h0M605.9 383.1h0M581.4 457.4h0M692 178.7h0M551.3 224.2h0M616.9 402.5h0M859 358.7h0M342.2 793.7h0M991.9 636.9h0M325.2 784.2h0M609.6 659.7h0M723.8 238.6h0M780 260.1h0M437.6 572.8h0M1010.4 736.6h0M491 877.3h0M577.1 463.5h0M592 456.1h0M639.5 911.3h0M778.5 246.7h0M490.1 584.1h0M619.8 704.2h0M939.8 772.9h0M707.2 845.7h0M985.8 673.1h0M979.5 667.2h0M633.1 437.6h0M753.4 571.8h0M804.8 213.6h0M422 548h0M962.2 781.4h0M420.8 396.3h0M561.6 456.4h0M948 766.4h0M690.2 244.5h0M747.7 267.5h0M627.3 459.5h0M781.5 212.8h0M470.1 465.2h0M1002.9 628.7h0M598.7 446.1h0M507.6 469.9h0M725.8 939h0M192 550.5h0M618.3 436.6h0M913.7 781.9h0M503.3 498.1h0M724.2 180.3h0M598.2 388.4h0M376.6 817.4h0M621.7 705.2h0M742 196.6h0M956 725.5h0M802.2 792.4h0M662.5 984h0M597.6 236.6h0M981.2 694.4h0M318.9 757.1h0M702.6 434h0M623.5 242.1h0M690.4 175.2h0M639.6 689.8h0M536.8 448h0M600 385.1h0M961.3 720.8h0M468.9 591.6h0M543 263h0M894.1 703.1h0M650.2 917.4h0M997.8 727.3h0M599.5 394h0M802.6 236h0M673.1 737.4h0M789 222.8h0M216.2 525.1h0M465.8 856.9h0M788.8 295.9h0M960.7 724.1h0M558 469.2h0M685.4 127.1h0M977.4 761.5h0M673.3 699.9h0M437.4 552h0M528.3 446.5h0M524 514h0M382.3 779.5h0M726.4 270h0M498.4 546.7h0M721.8 468.4h0M491.1 490.7h0M998.8 722.8h0M909.1 744.1h0M485.6 478.2h0M993.4 659.7h0M954.9 681.8h0M979.9 650.2h0M917.8 702.2h0M584 433.5h0M916.5 540.9h0M931.1 767.2h0M603.5 398.4h0M709.7 190.6h0M1063.4 685.6h0M502.7 585.5h0M403.8 836.8h0M509.4 522.9h0M593.4 230h0M794 782.7h0M954.6 360.8h0M999.8 691.1h0M949.4 760.2h0M1004.1 690.8h0M748.6 543.5h0M926.1 760.6h0M1024.9 687.2h0M910.5 707.8h0M1037.7 740.9h0M590.7 439.2h0M715.9 456.6h0M576 220.2h0M663.9 133.3h0M489.6 513.4h0M612.2 704.5h0M971.7 707.6h0M735.7 229.8h0M934.9 733.7h0M713.5 161h0M706.3 841.6h0M829.9 298.6h0M645.1 438.7h0M194.9 547h0M919 712.5h0M952.6 748.7h0M1012.4 641.9h0M199.3 565.5h0M525.1 1008.3h0M979.3 628.9h0M542.4 449.8h0M950.4 712.3h0M727.4 166.4h0M496.7 506.3h0M591.8 402.9h0M999.1 779h0M716.5 839.5h0M456.6 590.9h0M906.6 724.9h0M987.2 664.3h0M422.4 406h0M719.8 857.7h0M423.3 824.3h0M564.8 475.4h0M472.4 569.4h0M422.9 408.1h0M599.3 394.6h0M737.2 227.7h0M606.4 683.6h0M986.8 705.8h0M449.4 545.6h0M918.4 738.4h0M934.2 732.7h0M736.5 533.6h0M595.6 441.7h0M411 860h0M630 405.5h0M724.6 546h0M943.4 663.5h0M979 776.2h0M1033.9 678.8h0M682.5 457.9h0M352.8 731.4h0M976.5 710h0M1035.7 735.8h0M555.2 775.2h0M551 440h0M594 382.8h0M416.6 437.7h0M570.8 441.2h0M465.4 519h0M792.6 787.3h0M547.1 481.2h0M904.8 714.5h0M642.4 425.8h0M587.1 233.7h0M906.1 372.2h0M456.8 572.8h0M511.9 520h0M761.1 243.4h0M456.1 584.9h0M401.4 411.5h0M694.1 848.1h0M652.9 248.4h0M608.8 673.6h0M1002.4 641.5h0M938.5 662.2h0M914.9 752.4h0M960.5 702.9h0M494 545.4h0M660.7 246.6h0M553 470.5h0M669.8 240.7h0M731.5 127.5h0M980 637h0M708.8 468h0M997.1 662.5h0M601.6 434h0M692.2 190.1h0M1037.9 748.3h0M1038.5 727.7h0M951.4 699h0M977.3 668.9h0M510.4 577.3h0M506.7 566.9h0M575.8 234.2h0M190.7 551.6h0M1022.5 637.3h0M913.9 708.6h0M616.7 647.1h0M1040.3 663.6h0M628.2 435.4h0M732 855.6h0M948.3 741.5h0M783.1 233.6h0M436.8 865.2h0M973.4 628.1h0M549 237.7h0M959.9 659.8h0M689.9 156.5h0M1038 688.3h0M962 751.4h0M600.7 413.1h0M473.1 424h0M1001.5 759.9h0M706.6 240.8h0M400.1 385.5h0M800.2 307.2h0M499.4 491.4h0M585.2 743.9h0M1053.1 678.4h0M322 760.4h0M703 144.6h0M571.5 216.6h0M497.4 519.9h0M674.8 172.9h0M797.6 242.3h0M933.6 694h0M734.4 813.5h0M590.9 453.4h0M611.3 668.4h0M807.9 245.1h0M755.9 566.4h0M1015.3 693.4h0M1030.3 729.3h0M994.7 718.3h0M178.4 526.7h0M404 806.8h0M990.6 632.8h0M945.2 730.2h0M1056.3 709.9h0M382.1 795.5h0M744.1 596.6h0M726.3 207.5h0M580 438.5h0M1002 687.4h0M519.3 466.1h0M437.6 410.1h0M1038.5 714.1h0M922.9 757.4h0M797.4 231.8h0M811.2 241.3h0M476.1 552.7h0M986.2 662.1h0M566.5 234.9h0M771.6 219.9h0M948.2 677.4h0M652.1 682.6h0M960.5 737.6h0M484.1 581h0M651.4 918.6h0M493.9 887.7h0M924.9 701.6h0M861.6 362.5h0M435.1 526.4h0M599.1 417.5h0M598.1 229h0M1018.8 674.8h0M828.2 290h0M705.8 855.3h0M715.5 438.1h0M1027.2 751.3h0M1003.5 754.2h0M943.9 673.3h0M681.3 462.2h0M914 738.2h0M987.3 661.7h0M556.5 769.5h0M699 152.2h0M419.9 445.9h0M937.6 702.5h0M895.8 705.4h0M903.3 726.9h0M995 675.7h0M1050 661.4h0M769.2 237.2h0M603.1 470.2h0M916.7 768.7h0M689.8 437.1h0M496 509.4h0M969 713.8h0M441.9 849.8h0M734.3 720.2h0M689.3 230.6h0M760.4 248.7h0M538.6 490h0M336.9 743.3h0M552.9 215.7h0M633.1 442.4h0M608.8 383.9h0M199.4 529.3h0M447.9 456.5h0M994.4 712.7h0M517 420.1h0M1012.3 667h0M565.3 221.5h0M618.4 675.5h0M658.9 457.8h0M943.8 709.6h0M781.5 595.8h0M1009.1 651h0M1034.6 685.3h0M992.5 762.3h0M726.1 199.4h0M454.2 592.9h0M471.9 421.1h0M993.6 777.2h0M206.4 539.1h0M958.7 701.2h0M584.3 414.1h0M971.6 688.8h0M704.4 238.2h0M983.9 751.2h0M394.5 424.8h0M593.3 400.2h0M562.3 780.3h0M749.3 205.5h0M1058.2 685.7h0M361.6 806.4h0M633.5 411h0M567.4 446.4h0M956.9 758.4h0M515.5 550.1h0M776.1 248.4h0M498.3 560.1h0M1010.2 655h0M996.6 649.1h0M699.2 126.4h0M1006.1 661.1h0M754.8 562.1h0M709.1 460.3h0M901.1 558.8h0M1043.4 715.7h0M415.3 394.7h0M504.5 505.1h0M945.9 741.3h0M628.5 662.4h0M544.6 210.2h0M250.3 530.3h0M639.3 439.9h0M353.1 730.6h0M415.1 442.6h0M1012.1 666.3h0M1032.5 654.7h0M667.7 235.8h0M1047.1 686.2h0M351.5 776.8h0M793.8 306.4h0M485.2 359.3h0M994.5 760.7h0M526.6 515.8h0M403.9 422.9h0M664.8 917.9h0M674.7 251.6h0M714.9 119.9h0M392.5 412.3h0M551.4 491.4h0M721.2 447.2h0M600.3 691.6h0M581 442.5h0M514.2 499.9h0M1005.9 733.4h0M915.6 767.2h0M1037.3 714.4h0M893.1 706.9h0M1044.8 676.4h0M517.2 1015.8h0M425.7 538.6h0M729 164.7h0M632.1 910.8h0M445.5 854.9h0M613.4 404.2h0M419.3 828.6h0M563.8 249.1h0M323.6 833.9h0M493.2 865.7h0M1016.9 700.8h0M907.9 691h0M1002 718h0M453.7 591.8h0M156.9 523h0M965.2 687.8h0M658 428.7h0M915 780.8h0M404.5 442.8h0M953.2 769.2h0M915.7 780.9h0M973.1 748.5h0M1003.5 764.3h0M710.3 187h0M589.6 471.4h0M456.3 847.9h0M702.2 857.7h0M480.9 437.3h0M338.3 816h0M418 817.5h0M944.2 757.8h0M460.4 588h0M794.8 218.1h0M755.6 564.1h0M948.9 762.8h0M999.1 626.3h0M951.2 765.3h0M552.4 463.3h0M1012.9 740h0M984.2 768.1h0M1033.6 646.1h0M967.2 771.1h0M1009.4 633.2h0M756.6 240.2h0M620.8 871.9h0M543.8 471.8h0M973.1 706.9h0M925.9 712.4h0M1003.3 619h0M1037.3 717.2h0M995.9 715.5h0M337.7 760.2h0M545.5 238.7h0M484.7 863h0M618.5 664.3h0M424.2 403.5h0M966.7 783.9h0M986.8 709.3h0M687.8 440.4h0M497 501.4h0M417.3 418.2h0M598.7 389.9h0M1001.2 650.3h0M762.5 246.8h0M694.5 440.5h0M433.5 561.1h0M487.8 880.4h0M764.5 213.7h0M494 506.5h0M521.7 440.8h0M569.7 471.4h0M769.3 200.9h0M661 236.3h0M919 709.5h0M424.8 548.6h0M931.7 762h0M1014.3 692.4h0M984.5 769.1h0M494.6 886.8h0M646.1 451.5h0M634.2 669.2h0M911.1 745.7h0M390.1 408.1h0M990.4 683.2h0M322.4 747.3h0M790.2 311.7h0M169.3 553.7h0M337.1 763.9h0M470.9 459.9h0M369.5 816.2h0M702.5 467.5h0M1028.4 736.4h0M615.3 389.6h0M327.7 773.4h0M438.5 415.5h0M340.7 778.7h0M461.1 865.5h0M995.1 661.3h0M684.7 438h0M706.9 191h0M896.8 584.9h0M935 731.7h0M998.5 674.1h0M678.1 211.5h0M618.9 687.3h0M752.8 221.1h0M814.6 215.3h0M1002.8 707.3h0M918.5 534.4h0M965 656.5h0M965.6 651.2h0M445.5 557.4h0M713.7 442.6h0M735.6 714.8h0M375 815.2h0M667.7 144.7h0M1023.1 760.5h0M792.2 273.9h0M489 535.3h0M637.3 689.3h0M979.7 733.7h0M609.9 466.8h0M749.7 202.7h0M483.1 863.6h0M957 708.1h0M963 687.2h0M749.2 789.5h0M1033.2 639.7h0M1064.8 662.9h0M627.7 468.1h0M1066.1 671.5h0M494 520.7h0M456.4 448h0M685.4 171.5h0M636.6 246.9h0M195.7 510h0M1023.4 657.5h0M535.6 445.4h0M593.6 223h0M905.9 720.1h0M1053.1 678.6h0M896.5 588.6h0M958.7 751.9h0M607.9 393.2h0M1047 676.6h0M382 779.8h0M912.8 542.9h0M337.5 721.7h0M1003.6 632.7h0M644.6 456.1h0M928.8 683.7h0M401 415.3h0M668.2 164.4h0M991.3 626.4h0M635.5 683.5h0M589.3 421.5h0M1000.1 768.3h0M1005.1 718.6h0M920.5 708h0M369.8 841.2h0M328.7 804.6h0M808.6 796.6h0M449.5 464h0M593 457.1h0M730.9 222.9h0M928.7 761h0M922 784.4h0M1020.9 631.9h0M550.4 241.2h0M397.5 389.1h0M753.7 574.2h0M596.7 395.9h0M747.8 208.7h0M214.3 571.8h0M515.2 412.4h0M709.4 946.5h0M713.9 472.8h0M968.5 784.1h0M996.8 693.2h0M344.5 786.5h0M990.6 747.2h0M994.5 724.9h0M955.4 643.4h0M458.3 518.3h0M421.5 398.6h0M447.5 861.2h0M434.9 557.4h0M611.1 382.1h0M713.4 469h0M975 669.8h0M968.1 713.2h0M1038.1 731.5h0M710.5 148.3h0M392.8 812h0M834.3 292.8h0M811.7 275.7h0M427.9 839.1h0M1019.8 738h0M394.3 406.4h0M1013.6 637.3h0M715 269.8h0M395.4 426.2h0M1024.6 756.1h0M489.1 506.1h0M987.9 651.5h0M987.7 738.9h0M956.4 708.9h0M573.8 475.3h0M935 362.5h0M544 240.2h0M977.8 656.6h0M985.9 648.6h0M496.3 536.5h0M989 623.7h0M1033.1 669.5h0M945.6 677.2h0M507.2 465h0M967.1 690.4h0M968.7 718.9h0M994.8 662.9h0M946.8 781.1h0M1004.2 645.9h0M960.9 634.5h0M562.6 468.5h0M483.9 570.3h0M539.5 484.5h0M614.1 699.1h0M1000.6 687.4h0M594.1 434.8h0M483.8 555.6h0M214.2 518.4h0M1030.3 665.8h0M802.1 786.1h0M521.1 972.7h0M1015.1 716h0M544.7 228.8h0M475.3 870.3h0M1021.6 754.6h0M930.5 759.2h0M391.6 867h0M581.2 238h0M355.6 746.3h0M736.1 238.4h0M596.7 459.1h0M967.1 644.7h0M989.6 647.5h0M741.7 216.5h0M299.1 809.4h0M910.3 538.2h0M764.4 224.3h0M481.8 858.7h0M581.9 461.9h0M434.7 827.4h0M910 538h0M575.4 466.6h0M618 713.1h0M616.8 690.9h0M196.5 551h0M440.3 845.1h0M610 401.3h0M605.8 441.6h0M440.4 556.8h0M1049.9 703.4h0M905.6 374.2h0M938.5 733.6h0M1054.2 661h0M265.6 537.1h0M641.1 705.6h0M1021.1 769.7h0M1000.3 718.1h0M500.5 499.2h0M804.9 311.6h0M620.3 397.2h0M1006.6 679.8h0M789.9 229.1h0M343.3 840.4h0M520.5 988.9h0M1026.9 636.1h0M637.5 241.4h0M1031.8 745.5h0M800.6 234h0M639.5 447.4h0M963.5 703.7h0M696.3 174.2h0M691.4 169.8h0M506.8 570.9h0M961.6 781.8h0M950.5 660.7h0M389.2 845.2h0M437.7 850.8h0M509.8 879.8h0M748.5 539.5h0M734.6 225.1h0M961.2 652h0M905 726.2h0M530.4 491.1h0M1065.3 668h0M440.7 448.2h0M975.2 666.3h0M677.4 202.2h0M1003.4 716.1h0M1044.9 676h0M948.6 690.8h0M433.2 450h0M545.3 244.8h0M963.1 722.8h0M987 708.4h0M747.6 223.6h0M234.8 556.4h0M869.6 370.3h0M154.5 552.2h0M473.4 592.5h0M924.8 760.5h0M1001.5 637.7h0M714.4 455.2h0M183.4 553.2h0M719.1 225.7h0M429.8 568.3h0M524.3 1005h0M648.6 432.8h0M916.8 540.7h0M327.5 725.7h0M803.4 214.9h0M814.8 240.3h0M945.4 696.8h0M1016.4 699.1h0M462.6 524.3h0M987.2 718.3h0M464.5 857.1h0M492.3 547h0M544.3 251.1h0M240.2 545.8h0M737.7 270.2h0M674.4 723h0M1064.3 687.3h0M208.5 554.8h0M518.8 417.4h0M957 668.4h0M477.9 463.9h0M924 726.9h0M966.7 368.8h0M978.7 726.1h0M939.3 751.3h0M868.9 371.6h0M527 1016.8h0M514 506.3h0M661.2 242.6h0M926.3 754.4h0M515.9 492h0M953.6 751h0M495 346.9h0M940.8 724.5h0M779.2 228.5h0M605.9 397.1h0M433.2 577.9h0M723.1 122.7h0M519.2 977h0M988.8 749.9h0M751.9 549.5h0M436.8 583.7h0M957.7 724h0M474.1 862.4h0M912.1 703.5h0M586.7 440.6h0M502.1 466.5h0M990.8 636.9h0M407.3 402.8h0M408.3 416.9h0M692.2 430.1h0M970.7 727.7h0M498.5 560.7h0M707 438.2h0M759.6 247.3h0M688.4 122.1h0M744.5 170.8h0M154.7 539.6h0M1055.5 689.1h0M679 160.6h0M1044.4 709.4h0M1061.9 694.1h0M963.8 368.9h0M685.9 180.1h0M267.7 529.2h0M938.7 668.9h0M1021 690.5h0M345.6 776.4h0M643.2 422.7h0M926.2 753.7h0M1041.5 740.9h0M433.3 825.1h0M597.3 439h0M564.1 214.3h0M623.9 448.5h0M1010.3 706h0M233.6 567.9h0M563.4 458.8h0M974.3 723.5h0M390.6 420.1h0M982.6 741.3h0M1004 710.4h0M1026.3 712.5h0M1047.7 653.2h0M551.8 462h0M603 649h0M967.6 648.1h0M610.8 418.4h0M901.1 705.8h0M911.9 731.1h0M983.5 628.8h0M797.5 236.8h0M741.6 186.7h0M1056.1 705.5h0M806.7 225h0M1028.1 734.9h0M516 447.4h0M999.7 717.4h0M508.2 535.3h0M645.9 463.5h0M806.9 214.6h0M694.8 459.3h0M745 184.4h0M350 818h0M1029.8 629.7h0M719.6 198.7h0M611.5 384.9h0M690.8 452.1h0M971.2 727h0M665.7 439h0M918 692h0M992.6 750.8h0M1013.7 711.4h0M675.2 238.7h0M557.4 247h0M716.8 948.4h0M1007.6 671.6h0M912 748.6h0M746.8 535.1h0M911.9 541.8h0M994.2 636.4h0M970.7 676.6h0M368.4 806.6h0M192.6 503.9h0M444.3 574.4h0M1033.5 645.5h0M963.6 732.7h0M1010 721.7h0M941.3 365.5h0M274.5 530.4h0M745.3 166.7h0M790.5 244.4h0M398.3 421.4h0M686.7 240.4h0M416.7 445.6h0M962.5 644.7h0M432.6 419.6h0M769 235h0M611.5 448.1h0M823.3 214.6h0M794.2 226.5h0M389.5 402.5h0M957.6 717.3h0M930.5 690.8h0M1012.4 739.1h0M672.5 423.5h0M1021.1 692.9h0M943.3 740.5h0M396.1 405.1h0M1005.3 682.4h0M760.9 592.8h0M308.1 825.8h0M777.3 235h0M1006.2 757.6h0M561.4 774.7h0M353 774.8h0M1022.4 639.5h0M641.7 466.7h0M617.9 674.8h0M1018.4 754h0M1003.4 707.7h0M764.3 213.4h0M997.2 675.7h0M802.4 300.9h0M705.3 441.5h0M998.3 664.7h0M458.3 562h0M1028 705.8h0M169.4 549.3h0M760.6 238.4h0M1033.9 646.9h0M692.2 118.7h0M606.4 384.6h0M1019.1 674.5h0M1009.2 719h0M988.5 720h0M965 741.2h0M573.7 223.9h0M1042.6 666.7h0M1037.1 630.9h0M586.6 421.9h0M620.8 667.2h0M247.3 527.5h0M725.1 223.1h0M336.7 806.4h0M612.5 397.4h0M181 528.1h0M989.1 760h0M655.1 980.9h0M991.8 769h0M698.8 440h0M711.5 455.4h0M325 771.1h0M1019 760.6h0M640.6 424.7h0M933.3 783.5h0M924.8 786.9h0M960.2 775.8h0M553 437h0M958.9 372.2h0M979.1 695.2h0M169 520.2h0M480.3 560.5h0M934.5 779.7h0M707.1 120.1h0M684.3 426.1h0M545.4 316.3h0M966.5 682.2h0M1014.9 675h0M720 530h0M923.6 751.6h0M1002.6 758.9h0M957.1 374.6h0M569.5 251.7h0M816.4 274.7h0M947.1 357h0M624.5 454.6h0M616.1 387.4h0M593.9 387.4h0M473.5 468.9h0M164.3 558.5h0M296.5 839.9h0M752.8 569h0M779.1 586.6h0M592.5 230.3h0M733.4 850.6h0M1029.6 639.9h0M486.7 466.3h0M424.2 572.2h0M732.4 131.5h0M592.8 467.9h0M781.1 239h0M596.2 390.7h0M507.1 457h0M530.7 998.8h0M972.3 669.7h0M1058.4 657.7h0M1029.7 713h0M960.8 746.2h0M681.1 423.9h0M341.5 840.6h0M399.9 809.7h0M596.4 452.8h0M712.9 933.5h0M903.8 552.9h0M985 752h0M640.4 915.6h0M1020.4 639.1h0M355.8 857.8h0M720.2 534.8h0M418.3 399.8h0M542.9 494.8h0M603.8 404.2h0M382.7 414.4h0M619.7 703.5h0M1010.6 710.2h0M579.1 451h0M1001 706.8h0M994.2 705.8h0M595.3 229h0M970.7 693.5h0M190.1 561h0M347.5 734h0M454.2 526.2h0M504.9 518.4h0M998.4 654.6h0M391.3 852.3h0M392.4 848.7h0M803.2 221.4h0M947.8 736.6h0M1009.2 637.7h0M962.2 709.1h0M818.5 222.5h0M497.2 484.9h0M753.4 598.3h0M410.5 817.6h0M543 241.2h0M1034.2 636.7h0M992.6 740.1h0M811.8 213.3h0M192.8 506h0M1005.1 644.1h0M925.8 377.2h0M432 446.4h0M974.2 784.4h0M549.5 474.2h0M1037.6 677.1h0M426.4 397.2h0M699.2 456h0M1038.9 724.4h0M921.8 736.3h0M1040.2 647.3h0M1036.1 660.3h0M1011.6 641.9h0M870.4 373.1h0M473.3 846.5h0M1000.1 756.5h0M1011 698.7h0M781.9 289.4h0M491.1 500.2h0M1033 727.4h0M437.7 448.3h0M1023.9 722.1h0M770.3 583.7h0M721.8 194h0M985.4 712.2h0M565.3 440.2h0M494.2 517.6h0M911.5 538h0M1045.7 684.5h0M569.2 521.7h0M743.1 217.6h0M955.9 713.2h0M591 246h0M602.1 449.9h0M936.6 698h0M501.4 543h0M672.1 222.6h0M730.6 274.9h0M626.6 401.5h0M418 417.2h0M827.1 278.8h0M313.9 802.1h0M715.6 214.6h0M651.8 446.4h0M926.3 750h0M1028.3 743.6h0M761.4 227.2h0M471.9 462.3h0M408.1 428.4h0M741.8 269.7h0M1026.1 717.7h0M1066.6 670.4h0M736.4 715.8h0M441.7 844.8h0M762.9 208.7h0M520.3 516.5h0M403.2 438.4h0M588.3 452.9h0M706.5 459.5h0M424 856h0M392.6 839.7h0M1034.7 664.5h0M561.5 776.3h0M949.2 697.4h0M996.9 628.6h0M971.9 751.6h0M1029.1 711.1h0M925.8 375.1h0M927.2 358.8h0M950.4 729h0M946.9 784.3h0M904.8 690.4h0M669.5 240.6h0M823.6 296.5h0M990.6 752.5h0M1032.9 674h0M972.7 738h0M648.3 696.1h0M580.4 742.6h0M650.4 662.5h0M958.1 763.8h0M955.9 697.2h0M526 986.9h0M449 552.7h0M171.6 546.4h0M212.6 536.6h0M764.8 197.4h0M630.8 694.7h0M616 692.4h0M561.6 227.4h0M933.6 755.8h0M1008 712h0M262 487h0M648.8 678.2h0M549.4 775.8h0M439.4 845.5h0M1027.2 703.7h0M1041.2 644.5h0M595.8 670.3h0M817.9 290.2h0M417.7 415.3h0M432.5 555.9h0M621.4 443.8h0M406.1 423.8h0M580.8 459.1h0M497.2 540.6h0M1009.9 741.8h0M390.3 408.4h0M712.5 464.6h0M1033.3 676h0M389.8 391.2h0M448.3 837.7h0M934 743.3h0M708.2 933.2h0M739.5 564.5h0M646.7 444.2h0M432.3 556.7h0M401 391.7h0M505.9 393.4h0M603.8 456.2h0M990.4 728.3h0M1027.9 689.5h0M902.6 721.4h0M751.8 199h0M797.2 319.3h0M408.8 433.9h0M959.7 750.9h0M936.5 374.4h0M955.4 691.2h0M480.6 440.8h0M626.3 706.4h0M506.1 519.5h0M984.8 633.4h0M788 225.8h0M948.1 725.3h0M953.1 785.2h0M1017.4 657.3h0M830.3 219.5h0M971.3 640.5h0M788.9 254.6h0M1012.7 707h0M910.8 751.9h0M568.6 231.2h0M1009.9 635.6h0M948.6 685.4h0M496.9 442.8h0M518.9 982.5h0M951.7 702.5h0M1020.2 745.1h0M761.5 193.5h0M962 750.5h0M963.5 638.9h0M1036.5 689.9h0M579.7 457.5h0M1012.9 735.6h0M1027.6 763.4h0M830.3 220.4h0M453.8 447.6h0M942.7 774.5h0M668.3 463.4h0M980.8 637.8h0M1048.1 731.5h0M491.7 350h0M684.2 164.2h0M720.7 456.6h0M510.4 401.5h0M1039.3 679.4h0M414.8 402h0M1054.2 711.9h0M1001.1 766.2h0M604.9 706.2h0M1042.8 732.7h0M994.8 734.4h0M972.7 777.6h0M904.4 697.2h0M950.3 656.5h0M965.2 718.7h0M929 641h0M1013.7 683.2h0M737.9 156.7h0M712.6 844.5h0M1023.8 725.8h0M1024.5 733.1h0M767.7 246.6h0M1030.6 682.3h0M937.4 780.5h0M953.2 700.7h0M633.4 670.6h0M950.3 746.2h0M1017.2 768h0M410.7 406.9h0M198.3 563.4h0M536.4 476.3h0M561.5 778.2h0M935 663h0M974.3 753.8h0M175.7 544.1h0M381.1 410h0M421.3 563h0M941.8 693.3h0M958.7 648.9h0M511.2 562h0M954.7 771.6h0M491.4 881.7h0M468.2 851.4h0M389.4 417.4h0M497.3 380.6h0M998.8 639.1h0M658.7 435.2h0M747 176.4h0M713.5 438.8h0M638.4 699.6h0M398.7 411.8h0M618.1 401.6h0M548.1 454.3h0M659.2 426.3h0M1007.7 736.6h0M995.6 716.5h0M610.9 439.7h0M738.7 233.3h0M815.7 214.7h0M968 782.4h0M572.6 781.8h0M513.3 450.7h0M828.1 295.6h0M994.7 650.7h0M620.2 447.7h0M1007.8 680.8h0M553 464.6h0M558.9 780.9h0M453.2 590.7h0M801.3 299h0M1056.8 681.1h0M1029.8 754.2h0M937.2 767.8h0M829.4 271.7h0M487.5 500.6h0M417.6 439.6h0M341.6 816.2h0M403.2 388.6h0M585 223.5h0M982.3 737.5h0M1041.5 639.9h0M576.4 533.9h0M909.6 756.1h0M418.3 836.4h0M498 469.4h0M445.8 566.4h0M177.4 507.7h0M1028.6 647.8h0M396 387.6h0M474.3 525.5h0M996 695.2h0M795.9 290.5h0M740.3 279.4h0M792.1 210.7h0M609.7 695.7h0M429.9 545.8h0M496 884.6h0M1019.5 746.4h0M525.5 516h0M710.2 435.3h0M607 687.7h0M212 568.3h0M974.4 636.6h0M1000.2 752h0M935.5 706.7h0M1000 744.9h0M563.5 232.5h0M443.4 579.5h0M967.8 749.5h0M609 407.1h0M746.7 213.7h0M744.1 272.2h0M673 233.7h0M359.5 800.4h0M455.9 860.8h0M478.6 458.3h0M550.5 775.1h0M710.4 473.8h0M927.9 711.9h0M919.1 739.9h0M506.5 506.3h0M753.4 208.4h0M696.4 233.9h0M515.4 498.5h0M1037.1 723.8h0M1027.1 663.7h0M926 654h0M554 780.1h0M334.4 731.9h0M592.6 394.5h0M443.6 540.8h0M349.8 817.1h0M467 453h0M933 714.3h0M1034.8 669.3h0M987.7 648.2h0M570 224.3h0M348 781.4h0M426.6 546.1h0M562 243.1h0M914.5 786.6h0M496.7 508h0M416.6 825.5h0M504.3 556.8h0M704 434.6h0M921.6 759.7h0M967.3 707h0M965.8 636.3h0M953.7 763.1h0M692.7 119h0M582.9 456.6h0M750.6 573.8h0M946 739.7h0M339.4 768.8h0M805.5 246.3h0M574.5 529.9h0M697.6 448.4h0M560.1 229.9h0M948.3 782.2h0M1056.8 656.3h0M737.4 270.7h0M498.6 561.9h0M681.9 233.5h0M945.2 709.6h0M483.4 485.2h0M643.7 448.6h0M455.9 840.6h0M475.6 859.8h0M874 369.5h0M500.5 540h0M506 385.9h0M1054.1 639.4h0M569.7 462.1h0M713.3 945.4h0M1035.2 694.4h0M977.7 712.7h0M746.4 210.8h0M519.2 453.7h0M1062.7 685.8h0M953.9 773.9h0M1051.2 676.9h0M216.3 504.6h0M573.5 245.3h0M680.6 253h0M780 209.5h0M978 677.8h0M601.3 697.5h0M596.3 683.5h0M160.8 548.8h0M946.6 671.1h0M1027.3 641.7h0M1012 637.4h0M994.6 780h0M724.5 450h0M568.1 440.5h0M1015.7 700.2h0M791.9 302h0M494.8 537.3h0M732.7 273.1h0M772.6 294.3h0M505 573.7h0M550.7 485.9h0M382.9 401.5h0M426.7 535.1h0M397 422.5h0M205.4 553.3h0M260.3 529.6h0M754.2 558.9h0M589.4 224.5h0M900.3 697.4h0M1032.2 720.2h0M462.5 412.1h0M943.7 751.6h0M1009.9 628.1h0M321.7 734.3h0M306.4 813.1h0M450.1 556.8h0M228.1 576.3h0M940.9 698h0M373.4 814.1h0M996.8 747.5h0M489.5 881.6h0M1023.7 635.7h0M817 285.2h0M733 148.8h0M327.7 794.8h0M514.2 516.1h0M560.1 762.1h0M594.6 447.4h0M570.2 470.9h0M638.2 663.9h0M944.7 683.7h0M537.5 503.9h0M745.7 164h0M625.6 697.2h0M997.3 639.5h0M967.1 711.2h0M732.6 171.5h0M742.6 572.5h0M692.3 445.7h0M973.7 722.7h0M243.8 531.7h0M980.2 727.2h0M986.3 665.4h0M693 421.7h0M1040.4 650.8h0M550.6 314.9h0M930.3 353.9h0M753.6 557.2h0M1038.6 637h0M797.7 281.2h0M197.4 530.4h0M485.4 461.4h0M569.4 781.1h0M358 807.8h0M951.6 663.8h0M1027.9 751.1h0M534.4 497.4h0M991.7 636.1h0M673.3 923.2h0M446.5 849.5h0M1033.6 664.3h0M586.3 460h0M949.4 703.7h0M936 673.3h0M588.4 452.7h0M974 714.8h0M616.3 661.7h0M1056.1 658.3h0M601.7 409.8h0M1059.2 673.6h0M960.6 639.1h0M651.1 426.8h0M1022.7 648.6h0M608.6 703.5h0M921.8 758.9h0M413 420.4h0M494.6 864.2h0M780.5 225.7h0M640.4 247.4h0M797.5 236.3h0M790.8 243.1h0M216 565.5h0M568.4 774h0M733.2 225.8h0M713.5 130.6h0M401.6 843.1h0M987.1 639.2h0M1036.5 700.5h0M713.8 270.7h0M473.3 512.9h0M964.8 672.9h0M723.2 154.3h0M507.6 508.6h0M718 469.8h0M985 733.2h0M1001.5 688.3h0M453.2 586.4h0M380.6 416h0M236.9 526h0M633.8 906.3h0M799.9 221.3h0M701.9 192.8h0M749.7 207.1h0M1019.3 689.3h0M738.4 189.1h0M379.3 804.4h0M393.9 391h0M914.6 535.6h0M518.7 427.3h0M231.2 547.1h0M225.3 540.2h0M1048.2 670.8h0M926.4 699.5h0M937.1 735.1h0M823.6 217.3h0M595.4 415.4h0M1006.1 721.6h0M468.4 853.2h0M524.3 1011.4h0M603.3 444.9h0M627.1 686.5h0M729.5 184.7h0M476 447.5h0M918.8 733.8h0M761.3 196.8h0M1049.8 711.8h0M1009.1 642.3h0M783.2 249.3h0M706.2 158.1h0M605.6 708.2h0M1036.7 736.5h0M1028.8 677.4h0M520.2 556.4h0M646.7 672.9h0M998 726.2h0M725 180.8h0M541.7 506.8h0M927.3 781h0M765.6 246.2h0M515.7 478.5h0M392.7 841.3h0M781.1 257h0M471.7 572.9h0M905.6 724.5h0M697.8 175.4h0M610.7 402.2h0M1033.6 662.5h0M617.2 435.7h0M964.2 771h0M989.9 736.9h0M538.4 250.7h0M614.3 452h0M706 439.7h0M1003.6 744.7h0M599.4 441h0M916.5 723.8h0M917.4 761.5h0M397.4 430h0M999.1 707.7h0M603.7 677.4h0M647 456.3h0M638 915.1h0M1023.6 768.1h0M959.7 664.5h0M637 919.7h0M224.7 539.5h0M970.5 699.4h0M700.5 465.4h0M562.8 461.1h0M485.7 447.2h0M631.5 912.6h0M1006.9 704.2h0M389.9 810.3h0M296.1 814.5h0M527.5 1002.6h0M495.7 497.4h0M772.2 227.4h0M711.3 444.2h0M930.3 378h0M672.1 212.5h0M553.9 243.5h0M1045.7 680.8h0M384.6 791.5h0M625.1 702.4h0M445 452.6h0M492.8 538.4h0M985.7 712.6h0M668 463.1h0M486.2 343.8h0M945.8 666h0M634.1 698.6h0M432.2 843.8h0M742.2 199.5h0M330 863.6h0M717.4 132.5h0M909.1 712.2h0M972.5 750.5h0M969.2 638.3h0M1007.4 746.6h0M523.5 999.5h0M404 406.9h0M1046 652.4h0M366.7 767.3h0M358.4 760.2h0M657.2 982.8h0M334.7 840.2h0M603.4 443.3h0M954.4 682.2h0M635.4 708.9h0M341.3 808.3h0M482.9 486.1h0M341.3 741.4h0M656.7 685.4h0M1051 699.5h0M438.4 841.6h0M764 196.4h0M957.4 661.3h0M563.9 774.6h0M1049.9 676.2h0M618.7 663h0M368.1 840.3h0M993.9 763.4h0M1048.9 653.6h0M971.2 722.9h0M465.6 416.1h0M870.6 364.1h0M958.2 642h0M958.9 682.6h0M483.3 356.9h0M351.2 782.3h0M751.1 563.9h0M812 287.8h0M681.5 122h0M736.7 181.2h0M709.3 129.8h0M605.3 648.9h0M527 433.3h0M479.8 581.5h0M236.7 571.7h0M708.3 168.4h0M712.6 846.2h0M615.9 403.7h0M966.5 644.1h0M602.9 666.9h0M907.5 745.9h0M559.4 774.8h0M955.8 672.7h0M727.3 939.5h0M323.1 842.4h0M1030.6 630.4h0M816.4 215.1h0M708.4 460.3h0M727.2 202.5h0M390.6 409.6h0M1033.2 701.9h0M654.6 982.6h0M549.2 215.2h0M1025.6 753.1h0M629.1 924.6h0M951.7 655.6h0M641.3 653.6h0M995.4 697.5h0M614.1 704.7h0M516.8 414.7h0M535.1 514.7h0M583.8 443.1h0M397 385.8h0M483.3 513.1h0M642.1 678h0M585.9 451.1h0M1012 706.7h0M984.5 781.5h0M559.6 213.6h0M210.3 502.5h0M686.6 454.4h0M995 749.1h0M623.1 420.8h0M682 213.9h0M769.3 228.3h0M587.3 433.9h0M520.3 449.4h0M960.9 754h0M588.8 545h0M579.8 458.3h0M956.5 704.2h0M519.7 486.1h0M640.2 665.4h0M552.2 220.3h0M925.6 786.2h0M495.5 872.8h0M462.5 564.6h0M368.9 779.3h0M487.6 513.5h0M911.2 543.3h0M955 651.4h0M1013.5 749.8h0M953.8 703.5h0M928.1 729.9h0M784.2 312h0M492.4 499.6h0M666.8 256.1h0M751.4 190.1h0M688.1 131.4h0M895.3 708.9h0M979.1 744.6h0M304.3 834h0M493.3 880.6h0M689.4 242h0M976.2 768.2h0M957.1 661.7h0M980.5 650.3h0M988.7 736.7h0M984.7 742.9h0M1031.3 685.4h0M696.5 459.9h0M898.5 691.9h0M205.6 539.4h0M503.3 514.3h0M1043.1 712.3h0M614 689.9h0M606 662.6h0M395.3 414.3h0M1018.5 726.6h0M581.9 464.8h0M965.6 648h0M678 146.1h0M549.9 308.8h0M682.2 152.2h0M497.4 490.9h0M1036.3 667h0M949.8 721.4h0M1046.5 648.6h0M464.5 593.6h0M1017.8 740.9h0M777.8 211.1h0M648.9 245.7h0M1003.8 769.5h0M1025 764.7h0M905 720.4h0M780 238.7h0M640.3 907h0M398.1 426.9h0M1027.4 691.6h0M597.5 454.2h0M1016 621.1h0M937 676.2h0M904.1 691.8h0M188.5 538.1h0M980.6 679.6h0M1003.6 741.4h0M732.5 214.4h0M786.3 294.9h0M546.4 239.9h0M787.8 295.8h0M354.7 820.2h0M1003.6 637.5h0M613.9 694.9h0M398 387.3h0M934.1 783.4h0M258 486h0M546.8 233h0M652.2 446.6h0M624.8 410h0M196.8 546.5h0M817.4 269.5h0M551.3 242.8h0M465 558.5h0M1027.1 636.4h0M401.8 802.2h0M1012.9 739.8h0M780.7 298.1h0M672.9 227.8h0M937.7 784.5h0M936.6 703.7h0M746.9 554.6h0M801.4 215.2h0M470 593.3h0M932.7 714.5h0M752.9 236.1h0M674.7 199h0M692.6 189.3h0M362.4 787.4h0M1033.3 664.8h0M525.1 448.9h0M723.3 125.3h0M632.5 696.4h0M604.1 683.5h0M1002.6 709.1h0M414.4 436.4h0M423.6 555.4h0M603.4 391.7h0M400.3 416.5h0M626.3 411.5h0M754.7 237h0M620 872.7h0M620.1 647.5h0M635.5 422.8h0M381.4 407.8h0M404.6 438.2h0M975.6 686.2h0M701.1 435h0M480.1 449.8h0M1018.8 628.2h0M482.8 461.2h0M979.5 680h0M644.4 436.1h0M674.3 458.4h0M1015 646.5h0M490.9 350.5h0M819.2 271.3h0M636.1 682.2h0M612.6 387.7h0M551.7 488.1h0M767.4 248.2h0M654.1 243.8h0M973.2 631.1h0M563.6 449.5h0M341.3 796h0M780.7 233.3h0M972 656.4h0M959.3 696.5h0M908.3 745h0M725.6 167.9h0M959 742.1h0M582.8 432.4h0M966.4 679.3h0M699.7 453.1h0M440.5 852.9h0M596.5 685.6h0M1006.4 731.1h0M629.8 899.6h0M594 383.4h0M1061.7 666.4h0M755.9 189h0M955.9 771.4h0M486.8 452.4h0M513.9 1014.8h0M399.5 408.5h0M660 987.2h0M593 406.2h0M404.5 842.2h0M517.8 419.6h0M1006.1 699.2h0M517.9 532.6h0M698.8 455.3h0M1002.3 723.6h0M978 661.9h0M345 745.4h0M991.8 648.3h0M940.4 740.6h0M588.8 431.4h0M955.5 752.5h0M594.7 223.5h0M1045.7 735.1h0M696.1 165.1h0M964.6 767.7h0M663.4 237.8h0M429.3 553h0M384.3 421.8h0M434.3 588.9h0M542.9 474.2h0M210.8 519.6h0M418.1 395.6h0M674.3 720.7h0M1056.5 683.6h0M751.3 239h0M596.2 402h0M406.2 829.2h0M756.1 596.7h0M512.7 454.1h0M493.9 553.9h0M192 551.5h0M784.3 237.9h0M441.8 398.8h0M986.3 653.5h0M749 206.9h0M966.2 365.9h0M520.6 441.9h0M555.6 234.1h0M625.1 659.5h0M411.7 825.1h0M629.1 241.6h0M192.3 511.9h0M1057.2 670.7h0M521.1 510.9h0M1024.1 653.9h0M492.8 498.3h0M1001.3 710.8h0M682.3 142.6h0M436.1 837.2h0M675.7 177.2h0M975.9 702.6h0M296.7 819h0M981.1 699.4h0M1014.1 733.1h0M939.9 360.5h0M504.7 465.9h0M732.2 846.1h0M352.4 856.9h0M998.5 656.3h0M815.6 223.4h0M556.9 245.6h0M696.4 429.6h0M565.1 249h0M930.8 372.1h0M552.1 783.5h0M970 636.5h0M754.1 195.6h0M667.3 234.3h0M695 422.7h0M613.9 691.9h0M553.2 248.2h0M983.7 694.5h0M941.2 714.6h0M768.6 585.3h0M946.8 660.5h0M341.2 865.3h0M177.6 508.5h0M718.5 858.6h0M912.5 373.8h0M752.6 245.2h0M244.5 541.7h0M189.4 519.4h0M691.1 427.6h0M575.5 434.9h0M948 758.9h0M1049.2 704.2h0M611.9 858.7h0M510.4 567.4h0M448.5 838h0M733.5 156.6h0M1024.1 671.9h0M424.5 561.2h0M708 165.3h0M476.6 586.4h0M698.6 427.9h0M1052.7 686.4h0M955.4 702.4h0M491 354.4h0M486.2 514h0M1003.9 659.5h0M579.8 537.5h0M426.8 444.2h0M604.5 388.1h0M971.5 760.4h0M216.6 561.6h0M947.4 774.3h0M392.8 418.6h0M623.6 702.5h0M960.1 771.6h0M449.5 557.1h0M969.5 780.5h0M964.8 737.2h0M377 798.7h0M459.5 411.6h0M394.5 392.7h0M353.9 785.5h0M950.7 660.1h0M371.6 824.1h0M1028 738.9h0M607.3 659.9h0M601.5 451.2h0M525.3 510.6h0M482.1 450.6h0M1005.5 706.3h0M436.7 841.9h0M179.1 520.7h0M442.2 852.3h0M490.9 549.9h0M724.2 213.9h0M309.3 856.5h0M982.5 732.1h0M898.5 572h0M438.6 416.1h0M797.2 293h0M371.4 826.9h0M915.8 751.2h0M687.5 239.7h0M956.7 689.2h0M1012.8 678.1h0M619.4 875h0M262.7 533.1h0M777 304.1h0M1051.4 711.6h0M484.8 566.7h0M671.4 440.9h0M938.9 389.7h0M551.2 465.4h0M910.8 742.4h0M176.5 558h0M762.9 195.9h0M1041.8 711.6h0M978 640.3h0M587.6 464.8h0M629.7 660.6h0M731.6 847.4h0M704.8 231.2h0M400.5 428.6h0M573.9 218.4h0M758.3 218h0M483.5 594.5h0M997.3 624.1h0M486.5 569.5h0M1015.3 652.9h0M921.1 761.5h0M922.7 777.8h0M456.9 533.5h0M553.4 776.7h0M1039.9 685.1h0M500.9 530.7h0M634.9 440.8h0M936.9 781.6h0M534.9 444.8h0M595.8 678.8h0M694.7 428.4h0M544.6 776.2h0M348.3 800.9h0M639.2 245h0M923.1 768.8h0M700.1 465h0M737.9 534.2h0M437.8 869.9h0M544.9 320.1h0M607.2 398.4h0M656.4 244.5h0M1018.1 770.6h0M632 897.4h0M666 236.8h0M683.1 235.9h0M372.1 840h0M988 772.8h0M781.6 297.7h0M223.7 549h0M1022.9 726.2h0M671.1 457.3h0M391.4 412.5h0M597.8 395.2h0M754.3 225.8h0M995.9 676h0M963.9 690.6h0M620.1 660h0M517.4 450.8h0M926 372.7h0M526.2 481.8h0M1002.8 652.3h0M388.6 420.3h0M719.5 459.9h0M942.5 724.7h0M343.5 799.5h0M467.1 569.8h0M533.9 1013.9h0M163 549.7h0M427.1 532.6h0M1033 639.2h0M611.6 423.2h0M931 744.2h0M909.7 545.1h0M904 623h0M633.5 922.3h0M440 410.6h0M457.4 449h0M392.9 407.1h0M389.5 396.4h0M1001.5 729.3h0M445.2 842.6h0M671.4 430.7h0M939.9 696.7h0M943.3 780.7h0M916.1 766.8h0M618.6 239.6h0M461.6 442.1h0M678.9 716.5h0M693.2 127h0M590.3 448.2h0M495.3 510.1h0M977.4 683.9h0M576.9 458.8h0M906.6 372.9h0M616.1 861.1h0M959.5 642.1h0M1016.6 730h0M951 733h0M1034.3 731h0M597.8 701h0M597.8 237.4h0M912.4 697.1h0M603.2 423.4h0M766.4 248.5h0M493.7 568.3h0M433.7 848.5h0M600.5 683.2h0M667.9 176.6h0M985.3 781.2h0M482.5 512.3h0M541.4 504.2h0M937.9 671.6h0M978.3 708.9h0M537.7 512.2h0M1031.7 720.2h0M352.4 800.1h0M722.1 221.2h0M485 857.4h0M1033.3 637.8h0M623.2 446.7h0M1024 706.2h0M675.1 240.6h0M362.6 772.2h0M958.3 665.1h0M978.4 638.6h0M682.2 734.8h0M409.7 416.3h0M465.5 559.6h0M614 712h0M581.7 742.1h0M445.2 833.3h0M876.2 370.9h0M1002.1 664.3h0M476.2 858.8h0M340.2 808.9h0M554 765.3h0M548.7 213.2h0M436.7 417.7h0M1000.5 718.3h0M977.2 729.2h0M566.8 781.1h0M1023.8 676.5h0M991.8 655h0M468.6 593.5h0M915.2 741.1h0M593.1 719.6h0M895.2 573.8h0M903.2 370.8h0M697.9 933.7h0M516.3 519.6h0M969.3 632h0M730.8 587.7h0M774.6 229.9h0M387.1 422.3h0M1055.1 687.6h0M940 770.7h0M1053.4 639.7h0M1028.5 678.2h0M669.6 255.9h0M704.6 140.5h0M686.1 124.9h0M617.4 405.4h0M496.4 876h0M1012 727h0M550.6 455.9h0M631.7 911.9h0M978.9 677.4h0M489.1 582.5h0M964.5 706.4h0M440.1 832.8h0M787.3 237.4h0M327 782.9h0M737.7 197.4h0M1042.2 637.1h0M941.1 776.4h0M875.9 374.2h0M662.6 125.8h0M616.9 397.6h0M1029.9 689.6h0M257.4 543.4h0M606.4 231.3h0M900.5 713.6h0M1003.6 715.4h0M732 547.6h0M976.1 708.3h0M683.1 240.1h0M939.1 766.4h0M553.4 495.3h0M947.4 746h0M990.7 689.4h0M382.8 412.8h0M712 438.8h0M1004 769.2h0M583 467.9h0M970.5 668h0M931.6 728.2h0M709 116.1h0M549.6 473.5h0M624.8 672.5h0M974.3 745.3h0M597.3 648.9h0M695.6 853.7h0M694.5 443.8h0M736.6 150.3h0M523.2 533.5h0M954.3 726.5h0M683.1 240h0M668 237.9h0M998 687.4h0M794.9 309.2h0M977.4 741.1h0M1023.5 701.1h0M716.4 234.3h0M534.4 468h0M911.6 711.4h0M1001.2 651.2h0M942.6 660.7h0M605.3 425.6h0M385.7 821.2h0M552.7 468.8h0M994.8 624.1h0M549.4 510.6h0M611.7 843.7h0M628.6 416.7h0M457.6 595.2h0M453.2 589.9h0M455.1 584.8h0M383.6 415.6h0M673.5 198.4h0M629.8 924.9h0M944.6 772.8h0M986.2 667h0M406.6 834h0M1019.7 753h0M640.1 661.7h0M951.9 694.5h0M501.3 546.2h0M163.2 522.7h0M611.8 445.1h0M622.6 437.2h0M626.9 405.1h0M524.5 442h0M472.2 468h0M1029.4 721.3h0M442 592h0M1056.6 688.3h0M913 756h0M908.5 544.3h0M352.1 860.9h0M384.6 418.7h0M996.3 638.8h0M714.8 237.7h0M990.4 702.9h0M612.5 433.6h0M427.7 397.6h0M779.2 263.9h0M968.8 781.8h0M1011.6 706.1h0M1058.2 667h0M481.8 350.6h0M364.4 745.7h0M391.9 409.4h0M912.3 723.2h0M734.2 176.5h0M1048.5 718.7h0M902.9 735.2h0M675 177h0M749.3 187.9h0M182.6 558.4h0M201.8 519.2h0M392.4 391.1h0M636.3 443.7h0M593.4 436.7h0M600.5 455.7h0M433.6 399.9h0M911 698.9h0M510.7 460.9h0M664.9 129.5h0M744.3 231.3h0M572.6 754.1h0M793.5 226.4h0M909.8 718.3h0M973 750.4h0M730.3 843.7h0M495.7 888.4h0M1047.6 636h0M980.6 764h0M717.1 143.6h0M488.7 512.1h0M1047.6 654.1h0M1011 671.1h0M955.4 741.2h0M1047.9 715h0M490.1 361.7h0M988 625.7h0M591.6 717.2h0M226.9 508.5h0M543.4 315.1h0M1015.6 642h0M959.5 768.6h0M499.4 497.6h0M941 731.7h0M580.7 446.7h0M487.2 345.2h0M764.9 565.1h0M947 652h0M963 757.1h0M776 597.5h0M175.7 513.4h0M518.9 994.4h0M995.3 704.9h0M917.7 777.7h0M504.6 880h0M814 229.6h0M1040.6 731h0M918.1 722.9h0M604.8 651.4h0M708.2 945h0M600 401.1h0M559.3 252h0M445.4 443h0M355.6 729.4h0M516.6 522.2h0M789.8 221.7h0M794.5 210.8h0M962 638.9h0M958 649.4h0M679.4 122.3h0M448.5 450.2h0M458.2 542.6h0M568.5 779.9h0M649.2 670.7h0M986.9 687.1h0M714.5 469.8h0M975.6 680h0M721.1 940.8h0M577.1 448.4h0M754.1 233h0M940.3 727.9h0M201.1 562.4h0M746.6 219.5h0M436.7 527.9h0M772.7 234.6h0M572.9 216.6h0M549.7 314.5h0M752.2 218h0M478.8 523.9h0M899.5 696.2h0M798.3 288.7h0M909.8 729h0M999.5 721.6h0M1014.5 724.4h0M403.3 400.1h0M1006.5 651.1h0M728.9 129.7h0M581.7 245.5h0M995.5 696.2h0M372.2 865.6h0M1018.7 707.7h0M970 681.3h0M492.7 889.2h0M590 460.2h0M343.5 824.4h0M1018.1 711.5h0M395.2 431.4h0M634.5 688h0M1023 698.5h0M984.5 745.3h0M372.9 796.6h0M990.7 735.3h0M732.5 152.1h0"/>
<path class="d" stroke="#A37FEA" stroke-width="5.6" d="M779.2 215.8h0M785.5 223h0M1045.7 630.8h0M1025.8 741.7h0M705.7 181.4h0M1010.4 686.1h0M972.4 759.1h0M564.7 444.9h0M450.3 415.5h0M496.7 492.4h0M1032.5 756.7h0M650.6 660.4h0M415.4 445.4h0M592.7 440.1h0M943.7 669h0M499.1 381.1h0M984.1 696.7h0M403.7 405.1h0M607.4 438.6h0M1054.1 641.6h0M522.6 986.2h0M467.5 459.5h0M442.9 409h0M972.8 718.8h0M897.7 708.3h0M539.3 458.2h0M338.8 756.5h0M731.6 180.8h0M727.6 210.5h0M444.5 842.9h0M679 441.2h0M405.8 422.5h0M470.1 859.8h0M687 148.6h0M709.7 941.4h0M970.2 761.5h0M542.8 318.9h0M807.6 293.5h0M455.5 839.7h0M449.1 587.6h0M743.4 597.3h0M685.4 448.8h0M994.4 724.2h0M958.2 662h0M612.5 862.6h0M495.2 586.2h0M487.2 359.4h0M967.9 749.7h0M663.7 431.5h0M634.4 677.1h0M1044.5 705.4h0M949.5 718.2h0M929.5 701.5h0M1014.3 730.8h0M1051.4 685.6h0M462.8 549.5h0M556 763.3h0M920 747.9h0M1027.5 667.6h0M502.9 881.2h0M719 932.8h0M685 124h0M715.6 187.8h0M1028.1 645.9h0M767.9 201.9h0M798.5 273h0M980.4 658.6h0M518 480.4h0M961.4 368.7h0M967.9 648.4h0M726 122.4h0M928.6 370.6h0M628.4 887.2h0M953.9 718.7h0M587.7 391.7h0M786.8 315.6h0M1030.6 657.7h0M742.7 188.8h0M1035.5 638.8h0M788.1 241.3h0M705.6 174h0M1004.8 757.5h0M955.9 755.7h0M521.2 451.1h0M831.9 287.7h0M930.8 745.2h0M924.2 720.5h0M495.1 448.5h0M695.4 177.3h0M1031.6 741.6h0M631.9 243.6h0M1001 737.2h0M953.2 664h0M637.5 690.8h0M445.5 532.5h0M592.2 679.5h0M956.5 785.1h0M620.8 680.1h0M567.9 245.5h0M498.4 870.1h0M976 742.2h0M713.2 450.7h0M448.3 524.9h0M992.7 751.5h0M971.9 711.6h0M984.4 655h0M946.5 785.2h0M586.1 403.8h0M743.1 175.2h0M736.6 208.9h0M398.3 402.9h0M963.8 783.9h0M937 691.1h0M412.9 400.1h0M550.3 487.4h0M962.3 762.6h0M541.7 226.9h0M785.5 269.3h0M668.5 234.1h0M987.1 698.5h0M722 221.5h0M775.4 232h0M961.5 658.6h0M673.8 192.1h0M965.4 633.7h0M1020.6 669.7h0M933.4 372h0M693.3 456.7h0M676.2 148.7h0M1021 644.1h0M929.6 778.4h0M1037.8 639.6h0M999.2 708.9h0M609 781h0M804.3 226h0M676.6 147h0M628.7 437.9h0M620.6 877.2h0M976.4 635.2h0M994.7 638.7h0M972.8 652.6h0M686 127.6h0M1049.4 700.3h0M696.8 189.6h0M1029.8 734.6h0M614.1 663.5h0M976.8 758.5h0M580.1 531.9h0M961.6 690.5h0M720.1 175h0M744.6 178.6h0M354.8 736.5h0M948.5 675.3h0M559.9 467.9h0M1010.1 637.6h0M508.3 406.4h0M722.1 215.4h0M596.9 409h0M908.3 695.9h0M1038.9 658.3h0M913.2 746.7h0M679.3 170.1h0M736.9 212.3h0M584.5 458.3h0M831.5 279.9h0M993.7 622.9h0M488 441.9h0M933.5 670.3h0M1005.8 750.1h0M816.2 218.7h0M679.6 216.6h0M672 161.4h0M638.8 241h0M941.6 734.2h0M482.7 575.6h0M975.9 632.1h0M477 465.2h0M1052.8 716.2h0M519.6 469.9h0M735.9 148.8h0M958.5 768.1h0M1037.9 660.9h0M969 718.6h0M692.8 165.9h0M951.9 379.4h0M939.7 666h0M608.9 657.1h0M729.1 161.3h0M990.7 717.4h0M754.8 231.7h0M396.5 386.6h0M496 570.1h0M1035.5 659.8h0M971.7 676.7h0M707.2 939.8h0M683.5 118.5h0M982.7 666.3h0M939.1 366.5h0M461.9 412.8h0M985.6 768h0M491.6 535.5h0M609.1 647.6h0M1014.8 651.5h0M972.4 726.2h0M785.7 255.8h0M715.6 942h0M1020.1 768.2h0M944.1 726.5h0M934.1 785.8h0M953.1 775.4h0M931.6 741.8h0M714 170.7h0M986.6 720.9h0M526.4 495.8h0M686.2 172.7h0M599.9 658.7h0M942.8 725.2h0M955.3 738h0M933.5 714.1h0M965.4 780.2h0M728 589.1h0M1001.6 668.2h0M746 180.1h0M428.2 834.8h0M660.1 128.9h0M737.9 231.4h0M829.4 293.1h0M556.2 476.2h0M902.2 714.7h0M389.2 798.4h0M497.8 382.4h0M1001.5 622.1h0M997.8 654.1h0M740.7 206.8h0M726.5 124.9h0M965.9 744.7h0M661.1 237.7h0M662.1 247.6h0M900.8 723.8h0M945.3 739.5h0M938.6 691.3h0M822.5 288.4h0M530.7 463.8h0M948.2 740.9h0M520.5 456.9h0M998.3 621.8h0M401.6 426.5h0M770.9 290.3h0M631.6 923.5h0M1013.2 635.9h0M978.6 733.8h0M1019.4 659.5h0M529.4 1013.1h0M599.7 234.4h0M805.1 231.2h0M1001.1 674.4h0M1036.5 628.5h0M688.6 129.8h0M895.9 709.1h0M550 247.5h0M942.8 366.3h0M958.2 708.8h0M406.5 390.1h0M607.7 661.2h0M977.5 781.8h0M399.8 400.4h0M738.6 275.9h0M1056 716.2h0M562.8 237.1h0M922.5 777.3h0M676.3 229.9h0M826.9 268.4h0M1037.4 676.3h0M613.5 423.2h0M606.5 390.9h0M772.4 252h0M632.6 693.3h0M956.4 646.3h0M689.3 452.4h0M952.3 374h0M494.9 548.9h0M775.4 279.8h0M988.7 676.6h0M1029.8 680.5h0M785.9 239.7h0M398.6 436.3h0M1058.9 702.3h0M771.3 207.9h0M404.5 429.7h0M741 847.4h0M413.5 438.4h0M973.8 639.1h0M495.8 465.2h0M638 457.6h0M1038.7 751.6h0M969 730.3h0M988.8 620.5h0M992.9 733.1h0M1032.5 705.6h0M1016.5 668h0M617.5 450.6h0M920.1 778.3h0M624.5 241.9h0M481.5 556.5h0M1002 739.5h0M484.1 468.3h0M594.3 675.6h0M556.8 251.5h0M927.8 692.5h0M747.8 269.5h0M1009 642.9h0M1002.4 646h0M780.2 230.1h0M725.6 183.8h0M480.5 586h0M955.2 767.3h0M615 696.1h0M908 730.6h0M1015.9 622.6h0M763.2 195.7h0M705.6 470.1h0M954.9 715.6h0M215.1 553h0M934.6 715.2h0M619.8 442.8h0M489.8 502.9h0M938.1 756.8h0M993.5 687.4h0M517.7 524.4h0M620.1 684.3h0M1059.4 686.6h0M615.4 644.9h0M685.3 172.2h0M944.7 685.6h0M525.3 988.6h0M958 728.7h0M715.3 931.5h0M659.4 118.6h0M450.9 848.5h0M1030.8 634.4h0M757.3 199.8h0M694.1 169.4h0M398.1 405.8h0M688 421.7h0M434.3 538.8h0M590.3 544.3h0M561.9 769.9h0M1024.3 658.6h0M1001.3 710.8h0M610.5 433.9h0M467.2 858.5h0M1046.9 664.7h0M961.4 710.7h0M1003.6 693.6h0M746.5 214.7h0M717.6 462.1h0M676.3 136.8h0M1015 724h0M1034.4 647.6h0M964 633.9h0M926.9 378.2h0M736.7 159.9h0M671.2 172h0M938.7 731.9h0M934.3 777h0M1010.8 747.3h0M905.3 712.8h0M996 702.1h0M611 402.7h0M576.6 463.7h0M428.5 416.7h0M565.7 456.4h0M951.6 371.4h0M995.8 621.7h0M557.3 236.7h0M972.1 735.3h0M742.1 180.5h0M556.2 244.9h0M739.7 167.3h0M586.9 438.1h0M931.2 700.1h0M408.7 390.2h0M688.4 179.7h0M958.2 765.2h0M697.3 460.6h0M670.4 253.2h0M995.5 662.1h0M372.6 819.4h0M987.9 646.1h0M942.3 763.9h0M543.7 217.3h0M495.8 885.5h0M675.1 252.1h0M1039.8 643.5h0M999.5 726.8h0M839.1 280.6h0M977.6 681.7h0M575 246.3h0M973.5 775.3h0M351 856h0M729.8 153.2h0M800 247.4h0M705.2 452.3h0M582.7 403.2h0M512.5 550.1h0M1026.8 657.2h0M652.3 666.3h0M682.6 156.8h0M580.3 223.3h0M638.7 707h0M948.4 730.4h0M1010.1 773h0M725.6 218.5h0M597.2 378.7h0M906.3 736.3h0M982.1 661.7h0M665.8 173.2h0M1063.2 659.4h0M1039.7 689.2h0M486.2 588.1h0M509.7 411.5h0M769 230.2h0M909.3 711.8h0M1000.2 680h0M503.5 575.2h0M571.1 778.5h0M755.7 208.6h0M561.7 469.5h0M668.8 151.7h0M1049.7 634h0M785.1 206.4h0M1007.4 698.4h0M741.8 538.3h0M967.5 733.9h0M991.9 765.1h0M685 430.2h0M426.3 444.5h0M569.1 523.8h0M605.7 412.5h0M665.4 151.4h0M975.7 743.7h0M986.9 706.6h0M764.7 233.6h0M684.3 453.3h0M981.7 701.6h0M997.2 704.2h0M1011.9 635.3h0M1015.7 735.8h0M425.6 827.7h0M636 446.9h0M517.4 518.6h0M936.4 729.3h0M818.6 277.9h0M693 151.9h0M542 222.5h0M956.6 757.4h0M606.7 689.8h0M597.4 696.4h0M1000.9 707h0M900.8 726.6h0M492.3 879.3h0M416.2 415.7h0M603.7 235.8h0M419.5 444.1h0M977.7 654.3h0M796.6 217.3h0M718 273.7h0M567 245.9h0M752.5 201.9h0M763.7 201.7h0M927.9 778.2h0M913 746h0M912 679h0M921.3 754.6h0M728.1 134.7h0M919.7 773.6h0M959.4 643.8h0M494.1 876.2h0M960.9 736.9h0M684.8 234.4h0M939.8 376.7h0M784.2 252.9h0M792 298.7h0M1020.4 677.9h0M184.8 544.2h0M905.3 723.8h0M1047.1 677.8h0M945.6 783.5h0M1012.9 758.1h0M519.2 499.5h0M622.9 656.8h0M944.6 685.8h0M1050.7 638.6h0M944 780.7h0M711.3 120.9h0M693.1 241.2h0M409.7 428.6h0M647.3 686.5h0M737 171.3h0M517.9 488h0M546.6 238.6h0M1038.6 717.4h0M979.6 708.9h0M405 412.5h0M403.5 434.3h0M618.7 709.4h0M704.9 141.4h0M688.4 238.3h0M553.4 246.5h0M1025.9 678.4h0M993.8 721.8h0M765.9 212.1h0M393.2 413.8h0M434.4 418h0M437.3 850.8h0M760.1 236h0M618.3 869.1h0M938.5 745.5h0M986.9 770.6h0M624.6 704.7h0M670.6 137.1h0M512.1 555.3h0M915.6 753.9h0M700.9 143.4h0M955.4 719.6h0M1005.4 680h0M551.7 214.3h0M553.6 477.2h0M585.5 544h0M528 1003.5h0M562.5 457.5h0M962.2 634.1h0M793.7 211.4h0M1046.5 723.5h0M813.2 282.6h0M595.1 460.7h0M937 393.6h0M1043.7 633.3h0M924 779.8h0M1044 692h0M779.3 298.5h0M985.1 680.1h0M676.3 116.3h0M459.4 569.2h0M459 857h0M703 438.7h0M970 675.8h0M909.2 743.5h0M663.7 116.8h0M742.7 589.3h0M1020.1 705.6h0M591.6 383.4h0M542.1 318.4h0M1012.7 671.1h0M728.3 160h0M964.5 761.3h0M681 204.8h0M509.7 405.2h0M505.9 467.5h0M1059.6 694h0M697 449.2h0M684.1 134.6h0M953.4 742.5h0M797.6 294.7h0M917.8 781.9h0M941.8 679.9h0M473.5 860.2h0M570.3 248.9h0M960.1 778.6h0M736.2 271.9h0M556.7 230.3h0M910.4 708.4h0M377.7 813.4h0M1007.9 635.7h0M960.3 633h0M1057.6 660.6h0M989.3 704h0M485.4 497.8h0M516 422.9h0M961.6 630.5h0M725.8 158.3h0M672 138.4h0M978.6 776.8h0M554.8 776.3h0M1009.4 755.2h0M503.2 564.2h0M591.5 383.5h0M571.6 474.2h0M965 633.5h0M933.3 676.2h0M393 413.7h0M950.8 740.7h0M804.6 228.8h0M780.7 258.6h0M693 115.8h0M991.2 672.3h0M1043.3 707.8h0M973.7 671.2h0M985.5 743.4h0M1016.2 711.9h0M585.7 452.9h0M572.7 224h0M602.6 381.5h0M230.5 515.1h0M659.2 448.9h0M956.6 368.1h0M727.2 139.1h0M772.4 237.7h0M675.3 167.3h0M919.7 781.3h0M543.5 253.9h0M698.4 457.2h0M675.2 423.1h0M992.4 706.6h0M570.3 220h0M1003.6 747.8h0M416.4 405.1h0M1028.6 680h0M982.7 735.8h0M799.2 314.5h0M944.5 378.4h0M399 408.1h0M805.7 219.8h0M1003.8 632.7h0M750.5 206.3h0M1042.4 666.5h0M699.7 466.3h0M1011.2 773.8h0M584.7 395.4h0M655.5 252.1h0M1028.3 669.6h0M438.9 560.2h0M715.1 220.1h0M988.6 659.1h0M1057.5 659.1h0M674.9 148.2h0M881.5 372.7h0M935.8 743.9h0M984.8 699.9h0M687.3 457.7h0M930.4 749.5h0M1034.2 714.5h0M984.7 735.7h0M984 659.1h0M632.7 424.4h0M1032.6 736.2h0M782.5 261.2h0M1031.8 721h0M637.2 688.5h0M555 510h0M738.8 197.5h0M1027.6 736.9h0M615.3 393.5h0M968.3 725.2h0M947.8 733.3h0M948.3 688.4h0M1039.2 641.8h0M933.8 685.9h0M712.1 158.3h0M627.6 886.9h0M1019.1 758.9h0M678 230.4h0M384.1 408.3h0M716.3 931.2h0M475.9 462.8h0M725.6 717.6h0M601.8 402.6h0M986.6 719.5h0M963.3 766.8h0M405.5 440h0M951.9 681.7h0M932.2 745.7h0M677.9 152h0M490.8 526.9h0M972.8 735.8h0M489.8 583.7h0M610.7 683.9h0M495.2 511.8h0M827 286.6h0M639.5 907.5h0M617.5 412h0M461.2 583.7h0M937 365.1h0M475.2 439.5h0M588.3 395.9h0M501 512.4h0M407.9 412.6h0M956.1 710.9h0M671.5 230.8h0M999.9 710.7h0M781 236.7h0M509.6 878.6h0M713.7 144.6h0M471.1 864.6h0M984.1 634.6h0M993 749.9h0M460.2 444.1h0M1014.2 719.5h0M712.1 186.6h0M789.7 224h0M748 606.4h0M1007.6 729.6h0M800.5 217.2h0M1010.4 628.5h0M816.6 276.8h0M974.1 759.2h0M785.4 258.5h0M203 556h0M996.7 673.5h0M578.2 220.1h0M596.3 400.9h0M972.8 697.9h0M769.6 209.4h0M447.7 592.6h0M937.9 721.7h0M972.2 760.9h0M587.6 545.9h0M564.7 522.6h0M956 646.8h0M559.4 774.7h0M751.4 203h0M664.4 126.1h0M498.5 522h0M1031.3 750.7h0M957.8 672h0M987.4 654.7h0M435.3 398.8h0M973.3 673.5h0M452.9 586h0M987.1 684.2h0M905.9 370.6h0M734.6 222.8h0M605.6 392.5h0M1000.6 726.6h0M729.3 137.6h0M959.4 649.9h0M1020 700.6h0M682.2 736.1h0M974.4 682.7h0M932.1 780.4h0M755 241.1h0M463.7 551.2h0M539.3 229h0M577.1 246.4h0M666.4 921.6h0M750.7 238.4h0M954.8 733.9h0M816.1 227.6h0M540.6 224.2h0M898.2 705.3h0M395 397.6h0M762.2 566.7h0M554.1 246.1h0M679.7 178.3h0M754.2 238.9h0M982.7 765.1h0M619.5 657.5h0M492 344.9h0M599.3 425h0M1032.1 676.1h0M695.5 126.9h0M1015.2 664.7h0M975.1 697.3h0M597.2 393.7h0M539.4 324.5h0M961.7 755.6h0M706.5 440.7h0M579.9 227.4h0M991.6 735.8h0M596.5 464.6h0M556.5 233.2h0M390.8 410.9h0M730.2 275.7h0M495.3 349.2h0M1016.3 702.9h0M526.7 433h0M1008.1 749h0M1005.1 630.8h0M964.7 690.2h0M492.4 529.5h0M675.7 201.4h0M557 449h0M514.3 422.8h0M750 716.2h0M585 456.4h0M963.4 364.4h0M603.4 460.8h0M619.1 445.3h0M1038.8 630.1h0M992.6 773.9h0M751.8 221.4h0M715.1 140h0M785.4 308.3h0M758.8 210.5h0M809.7 238.9h0M986.8 751.3h0M935.2 747h0M971.6 696.5h0M1013.7 651.8h0M489.2 514.7h0M980.3 738.8h0M1024.1 743h0M1013.3 771h0M216.3 576.7h0M1010.9 625h0M827.9 278.3h0M931.4 695.8h0M569 471.6h0M937 745.6h0M819 284.3h0M547.2 496.4h0M424 567.9h0M459.6 857.6h0M630.8 683.9h0M897.8 438h0M549.5 769.2h0M519.4 504.2h0M658.6 675.6h0M671.8 216h0M722.1 464.5h0M654.8 685.3h0M545 488.7h0M984.4 643.6h0M955.1 707.6h0M660.9 139.1h0M1023.4 719h0M490.4 499.2h0M783.3 241.4h0M770.6 235.6h0M985.8 666.8h0M962.7 677.4h0M779.6 216.3h0M938 754.2h0M684.9 120.4h0M945.4 692h0M721.8 181.3h0M767 208.4h0M924.8 778.4h0M985.3 746.5h0M795.1 227.5h0M609.6 706.7h0M628.3 654.8h0M953.8 681.3h0M806 216.6h0M966.3 757.8h0M950.3 674.8h0M736.1 135.5h0M593.3 390.7h0M943.8 732.3h0M1034 657.3h0M897.4 704.1h0M466.7 845.9h0M794.9 233.3h0M996.3 687.9h0M966.5 743.3h0M925.6 746h0M520.3 976.5h0M982.3 687.9h0M1008.2 764.8h0M905.1 699.7h0M1053.7 707.7h0M985.3 697h0M922.4 758.9h0M987.1 647.7h0M479 348.2h0M1029.2 660.1h0M719.4 143.1h0M559.2 225.8h0M577.1 245.1h0M1044.5 653.7h0M444.8 855.7h0M975.5 686.7h0M528.3 997.6h0M1028.5 682.3h0M929.1 777.5h0M972.1 749.8h0M965.1 706h0M783.7 296h0M1022.5 675.3h0M928.5 732.3h0M488.9 562.3h0M520.4 470.3h0M963.1 657.5h0M808.2 240.5h0M520.1 520.6h0M490.2 346h0M579.5 222.9h0M619.7 652.4h0M641.2 440h0M505.8 442.5h0M405.3 397h0M718 145.6h0M1015.7 713.5h0M482.2 446h0M363.6 868.4h0M816.4 234.2h0M961.4 377.8h0M1010.5 751.2h0M1007.9 677.2h0M591.1 403h0M965.4 690.4h0M710.2 169.3h0M970.5 709.9h0M771.5 267.8h0M998.7 761.7h0M938.8 742.6h0M714.4 150.7h0M997.8 754h0M973.3 755.2h0M729.5 149.7h0M937.4 393.9h0M909.1 719.7h0M701.2 461.2h0M964.7 628.6h0M1032 648.5h0M486.4 457.2h0M944.1 769h0M662.5 132h0M1003 637.4h0M1048.2 714h0M925.8 745.7h0M1042.4 638.6h0M904.5 714.4h0M508.9 394.8h0M456.6 438.7h0M958.3 668.5h0M484.1 462.3h0M930.4 767.9h0M974.2 724.4h0M957.4 672.4h0M937 695.9h0M791.7 271.2h0M1005.3 674.6h0M753.5 192.2h0M592.8 664.9h0M722.7 270.5h0M428.4 823.2h0M664.7 452.2h0M602.3 413.6h0M945.7 379.6h0M980.7 622.1h0M1029.3 744.6h0M922.9 712.8h0M547.8 249.2h0M1022 744h0M672.5 174.5h0M959.1 743.4h0M980.6 676.1h0M966 682.3h0M1000.6 765.3h0M1023.3 621.2h0M491.9 534.7h0M961.8 741.3h0M696.4 437.3h0M790.9 241.9h0M736.7 137.2h0M1010.5 632.9h0M475 513.1h0M1007.6 727.1h0M978.7 626.1h0M1050.2 652.3h0M1054.7 685.2h0M684.5 180.6h0M592.7 406.5h0M1025.6 761.3h0M1014.3 710.6h0M750.8 208.9h0M1012.4 741.9h0M564.2 782.2h0M523.8 544.1h0M590.3 227.1h0M417 402.5h0M606.9 414.4h0M627.9 650.7h0M498.7 448.1h0M615.5 859.2h0M919.2 745.9h0M777.6 209.7h0M953.5 685.8h0M670.3 702.9h0M713.3 154.4h0M394.6 384.1h0M691.7 422.5h0M998 676h0M960.9 746.5h0M902.5 701.7h0M736.1 197.6h0M517 563.5h0M969.9 648.9h0M993.3 619.6h0M789 245.8h0M742.2 208.8h0M212.3 550.4h0M909.1 732.5h0M986.2 692.5h0M553.7 237.1h0M710.3 165h0M598.4 687.7h0M748.7 197.3h0M643.5 464h0M728.3 234.5h0M614.1 395h0M712.3 160.7h0M481.8 557h0M1024.6 653.4h0M817.6 219.4h0M717.4 464.5h0M586.1 470.2h0M955.7 691.9h0M982.3 689.8h0M1024.6 703.2h0M588.4 223.5h0M632.7 426.8h0M737.5 271.1h0M1048.5 721.9h0M933.4 731.7h0M400.2 385h0M589.7 223.9h0M915.1 744.7h0M932.6 729.9h0M780.1 271.1h0M754.1 209.8h0M817.2 279.4h0M740.8 209.3h0M890.5 374.3h0M965.8 688.6h0M491.1 511.9h0M503.6 877.5h0M958.1 709.1h0M957.2 368h0M710 153.8h0M933.7 697.4h0M958.1 639.9h0M622.3 874.5h0M709 232.7h0M1004.9 644.1h0M975 737.9h0M946.8 698.4h0M973.5 673.6h0M681.3 145.9h0M608.1 675.8h0M743.1 166.7h0M726.2 180.4h0M1041.3 716.6h0M1040.6 682.7h0M383.3 410.5h0M913 760.4h0M947.8 722.1h0M487.4 359.6h0M773.6 265.8h0M464.4 862.2h0M395.9 421.5h0M934.6 371.7h0M526.9 519.3h0M716.3 191.5h0M757.7 230.3h0M476 441.1h0M1017.9 683.5h0M1038.6 635.6h0M812.2 296.9h0M608.8 695.9h0M566.6 231.9h0M633.4 446h0M608.7 243.7h0M762.3 213.3h0M721.2 182.4h0M516 494h0M1058.6 674.1h0M989.5 735.5h0M675.4 725.8h0M990.6 741.1h0M699.4 155.4h0M1027.1 668.8h0M906.1 371h0M432 838.1h0M727.9 190.1h0M777.4 253.1h0M965.9 674.5h0M671.2 189.3h0M483.7 442.6h0M720.5 944.9h0M1033.3 754h0M725.3 158.5h0M953.7 683.5h0M616.4 401.4h0M697.7 438.3h0M734.2 169.5h0M681.2 142.9h0M743.4 191.1h0M356.8 806.2h0M678.9 222.2h0M697.1 115h0M777.5 202h0M415.2 401.7h0M1041 721.6h0M435.3 830.4h0M603.6 684.2h0M330.8 797.4h0M789.3 213.2h0M1007.8 771.3h0M988.4 691.9h0M819.3 270.3h0M721.3 457.2h0M686.4 188.8h0M801.4 272.5h0M670.8 712.7h0M710.8 134.6h0M1035 665.3h0M1005.6 696.1h0M1062.7 669.9h0M475.1 591.5h0M789.6 247.3h0M1061.9 681.4h0M999.1 689.8h0M711.4 475.8h0M993.2 768.8h0M708 214h0M1003.6 687.8h0M545.8 776.3h0M430.2 413h0M509.9 513.4h0M631.3 441.7h0M554.9 774.5h0M1008.2 702.6h0M981.2 696.1h0M1058.5 652.3h0M1024.6 751.9h0M866.6 366.4h0M469.4 869.3h0M687.9 182.2h0M674.4 207.7h0M1002.5 639.2h0M945 677h0M678.1 239.6h0M387.5 386.1h0M596.6 230.4h0M713.5 437.7h0M994.3 780.5h0M1041.6 637.8h0M986.5 643.8h0M995.7 729h0M965.6 660.9h0M1025.8 728.5h0M790.8 280.7h0M562.8 777.1h0M406.6 430.4h0M983.5 694.5h0M785 301h0M960 734.3h0M1035.5 671.5h0M1042.7 719.9h0M663.1 429.5h0M730.3 594.1h0M969.2 714.5h0M782 260.6h0M977.9 643.4h0M976.7 726.5h0M903.6 726.3h0M637.9 446.1h0M727.4 192.3h0M620.6 668h0M789.8 285.1h0M606.5 387.4h0M930.7 703.2h0M718.3 463.8h0M924.8 705.7h0M517.5 448h0M962.5 726.7h0M679.3 194.6h0M992.1 727.1h0M912.2 766.9h0M923.5 699.2h0M1056.3 713h0M554.3 233.7h0M985.2 768.1h0M835.8 298.1h0M950.8 781.5h0M676.4 168.7h0M976.4 666.3h0M939.5 765.9h0M1027.2 747.6h0M981.5 737.9h0M538.5 504.7h0M550.7 230.4h0M994.4 719.6h0M713.4 450.2h0M933.3 782h0M990.1 686.1h0M741.3 150.9h0M973.8 763.8h0M1018.3 697.5h0M996.3 779.1h0M946.8 738h0M690.6 457.4h0M1007.7 706.8h0M795.7 212.9h0M570.8 235.3h0M589.9 401.2h0M958 773.7h0M799.5 280.2h0M671.5 246.5h0M978.6 698.3h0M689.5 243.8h0M929.6 397.8h0M781.2 302h0M612.7 856.6h0M734.3 141h0M1001.3 636.6h0M591.3 470.5h0M994 711.5h0M440.6 524.1h0M937.1 672.3h0M570.1 226.5h0M1014.8 641.2h0M608 697.3h0M185.1 523.1h0M784.3 262.4h0M710.7 132.9h0M715.5 123.7h0M746.2 220.4h0M962.5 765.8h0M917.1 745.9h0M557.1 229.2h0M597.3 394.5h0M955.3 376.3h0M1011.8 770.1h0M916.7 535.3h0M938.6 362.9h0M669 168.7h0M549.1 224.9h0M908.4 736h0M1016.2 683.4h0M737.8 188.6h0M767.9 206.7h0M916.2 745.1h0M1005 623.9h0M607.8 693.5h0M1000.3 732.7h0M629.5 421.3h0M680.8 131.2h0M965.1 629h0M954.5 667.9h0M1028.7 712.6h0M497.2 381.4h0M923.7 786.1h0M975.4 778.2h0M560.2 768.7h0M600.6 665.9h0M409.7 434h0M1035.9 712.3h0M748.5 790.5h0M554.3 312.1h0M1017.3 711.4h0M496.8 575.2h0M1005.2 701.5h0M713.7 128.1h0M735.9 269.7h0M940.8 709.1h0M659.5 147.8h0M1024.2 662.4h0M680.1 139.2h0M390.9 413.2h0M797 270h0M974.8 625.1h0M821.7 228.9h0M701.5 138h0M694.3 229.7h0M1031.9 674h0M595.5 403.8h0M1001.2 697.7h0M971.3 632.2h0M1058.8 676.6h0M412.8 414.5h0M530.9 504.3h0M592.2 386.3h0M607.6 381.6h0M980.2 767.7h0M435 576.5h0M975.4 631.6h0M685.8 130.1h0M975.3 654.1h0M722.5 189h0M1003.9 682.7h0M541.6 770h0M541.8 508h0M583.3 418.3h0M702.3 165.1h0M425.1 830.7h0M977.8 679.1h0M392.6 421.5h0M1024.1 640.1h0M938 693.6h0M700.1 437.1h0M707.3 933.7h0M1022.8 690.2h0M832.2 271.8h0M689.7 152.5h0M692.5 160.4h0M720.9 239.4h0M451.5 414.7h0M1037.6 725h0M712.5 168.6h0M617.5 399.2h0M650.6 672.8h0M476 869.6h0M814.8 222.2h0M679.2 158.1h0M977.8 782.2h0M659.8 250.9h0M744.3 214.4h0M999.5 737h0M511.5 563.6h0M628.7 663.6h0M518.5 557.2h0M1055.8 671.3h0M628.8 920.8h0M898.6 690.7h0M597.4 667.1h0M669.4 218.9h0M777.8 596.7h0M560.5 766.5h0M925 369.4h0M955.5 694.1h0M935.4 694.3h0M778.9 261.5h0M902.1 725.1h0M504.9 520.6h0M937.8 696.2h0M592 225.2h0M924 778h0M1033.5 751h0M421.9 562h0M1049.9 695.6h0M1002 669h0M705.3 440.9h0M954.4 743.3h0M920.1 760.8h0M720.7 450.7h0M603.6 399h0M725.8 938.1h0M669.2 220.6h0M643.7 655.9h0M612.3 416.6h0M708.9 156.7h0M552.4 214.8h0M579.4 249.3h0M542.9 490h0M610.5 677.9h0M812.9 231.3h0M623.3 244.1h0M686.7 144.7h0M830.4 293.5h0M618.1 703.4h0M713.3 945h0M1008.1 691.1h0M671.1 113h0M739.3 201.9h0M1005.6 642.5h0M791.9 231.4h0M408.5 399.4h0M573.3 441.6h0M524.8 1017.5h0M964.6 742.9h0M1020.4 722.4h0M678.5 214.6h0M475.5 851.5h0M784.2 279.4h0M595.5 384.7h0M679.7 118.7h0M639.3 457.6h0M1014.9 741.7h0M720.2 158.5h0M916 700.9h0M477.6 435.5h0M634.3 441.2h0M694.3 136.6h0M574.9 438.5h0M672 227.7h0M925.3 778.9h0M477.2 492.5h0M1059.5 697.6h0M505.8 567.2h0M794.8 214.4h0M563 238.5h0M696.4 442.6h0M919 728.8h0M999.5 636.1h0M791.8 290.1h0M531.6 1006.4h0M833.6 278.2h0M1048.9 680.3h0M730.7 223.5h0M596.6 405.9h0M822.7 233.6h0M495.2 871.4h0M741.7 201.3h0M902.6 692.3h0M1052.3 675.1h0M552.4 494.7h0M972.2 782.2h0M746.8 236.6h0M780.6 309.1h0M632.1 418.7h0M987.5 774.3h0M496 889h0M665.5 255.2h0M1044.3 670.1h0M907.6 693.7h0M929.1 785.7h0M542.8 771.6h0M763.7 212.5h0M966.1 751.9h0M413.4 421.7h0M626.1 437.5h0M527.3 456.7h0M915.9 760.2h0M577.5 452.5h0M1022.7 687.6h0M537.2 490.7h0M515.6 421.9h0M1040 700.3h0M938 727.1h0M681.1 252.6h0M771.8 234.9h0M637.9 413.1h0M747.8 199.6h0M702.2 169.1h0M933.8 721.2h0M981.4 713.5h0M948.4 679.2h0M933 690.1h0M703.7 473.8h0M921.9 720.3h0M882.5 369.7h0M996.7 655.5h0M903.2 712.2h0M697.4 464.7h0M916 698.4h0M1013.2 737.2h0M995 625.9h0M477.4 554h0M1044.5 659.7h0M980.6 671h0M417.7 415.8h0M1018.1 761h0M523.4 550.1h0M927.6 777.3h0M1055.2 662.9h0M1032.8 683.1h0M764.1 236.5h0M914.3 699.8h0M477.3 453.6h0M811 233.1h0M933.9 777.4h0M514.6 1019.8h0M959 750.2h0M981.5 634.7h0M1052 650.7h0M1029.5 726.3h0M1034.9 693.8h0M916.5 756.3h0M971.2 721.3h0M1004.4 671.5h0M605.3 407.9h0M985.8 642.1h0M984.5 734.3h0M413.8 415.1h0M979.6 721h0M991.6 666.1h0M625.8 238.8h0M706.2 185.5h0M1036.8 675.7h0M760.7 241.8h0M496.7 563.4h0M979.4 764.3h0M431.1 566.1h0M658.2 147.4h0M224.6 556.1h0M794 239.5h0M972 779.6h0M489.4 356.9h0M1010.5 694.4h0M932.3 716.6h0M744.2 203h0M453.4 445.7h0M961.3 377.4h0M794.7 273.2h0M955.1 646.9h0M709.9 467.8h0M570.4 239.8h0M981.3 705.4h0M919.7 785.8h0M682.8 171.7h0M450.5 559.1h0M934.2 778.7h0M716.5 452.4h0M698.4 448.4h0M487.6 459.5h0M684.9 928.6h0M947.4 731.2h0M753.4 204.9h0M491.7 349.5h0M630.8 692.7h0M1050.6 697.7h0M626.9 922.1h0M730.4 125.4h0M521.1 1004.7h0M1057.3 679h0M803.8 227.1h0M807.9 214.3h0M935.6 736.9h0M970.7 692.2h0M483.3 350.1h0M468.8 452.4h0M695.4 156.6h0M712.5 434.4h0M677.3 137.1h0M907.9 745.4h0M509.2 535.3h0M1024 671.2h0M721.6 204.1h0M510.3 398.9h0M438.2 583h0M679.6 239.5h0M549 446h0M479.7 478.7h0M755.3 540.9h0M543.2 770.6h0M782.7 254.3h0M1054.7 677h0M985.9 626.9h0M1005.1 684.6h0M798 238.7h0M771.6 221h0M607.8 412.3h0M1047.1 705.2h0M988.3 622.1h0M978.9 630.4h0M943.3 751.5h0M1046.3 711.3h0M394.7 392.1h0M1036.7 673.5h0M816.1 237.7h0M716.9 158.8h0M687 256.4h0M731.7 190.5h0M740.2 848.8h0M930.3 713.6h0M1040.4 687.3h0M444.7 450.3h0M988 620.2h0M962.3 662.8h0M1009.8 653.6h0M709.1 237.7h0M617.7 466.1h0M952.2 727.7h0M439 848.6h0M504 482h0M1021.7 747.2h0M897.3 567.6h0M745.7 190h0M722.6 169.1h0M1001.6 755.2h0M486.7 359.7h0M952.2 754.4h0M775.2 245h0M464.2 577.7h0M701.5 227.3h0M713.2 172.5h0M914.3 368.8h0M923.5 697.8h0M985.3 652.6h0M1013.7 672.1h0M636.7 651.7h0M1052.8 717.4h0M953.4 718.2h0M714.5 235h0M949.3 707.8h0M423.2 569h0M933.9 364.4h0M1042.9 727h0M912.7 694.1h0M699.6 176h0M726.2 225.4h0M1020.1 731h0M684.1 448h0M539.8 230.9h0M599.7 664.9h0M947.4 782.9h0M998.8 707.5h0M630.9 427.4h0M800.2 226h0M520 428.5h0M585.8 543.5h0M1047.2 678.9h0M947.9 661.7h0M1065.8 679.7h0M232.1 513.7h0M707.1 152.4h0M767.2 235.1h0M964.7 370h0M1052.9 717.7h0M960.6 654.3h0M1013.9 629.9h0M473.8 531.2h0M752.6 195.2h0M621.1 677.8h0M895.6 372h0M560 222.2h0M801 316h0M1032.2 720h0M711.4 948.9h0M785.8 236.1h0M479.6 572.6h0M392.7 392.5h0M986.5 624.8h0M460.2 864.3h0M502.2 461.2h0M539 463.3h0M1005.9 685.8h0M1039.8 633.3h0M994.1 727.2h0M622.9 240h0M972.4 678.2h0M718 186.1h0M755.6 573.8h0M502.7 453.7h0M716.4 172.6h0M992.7 695.4h0M997.3 763.9h0M773.4 300.2h0M766.1 236.7h0M690.2 255.3h0M564.2 223.4h0M503.2 391h0M511.5 881.6h0M586.8 235.9h0M1009.5 772.3h0M709.4 192.4h0M571.5 233.7h0M987.3 709.2h0M949.3 735.6h0M938.1 754.3h0M778.4 235.8h0M826.6 215.9h0M951.9 772.7h0M488.6 363.9h0M671.8 172.9h0M1024.1 737.6h0M932.2 678.8h0M577.7 225.4h0M730.5 227.7h0M671.1 229.9h0M722 126.8h0M619.8 435h0M540.5 233.6h0M628.1 925h0M1026.5 706.4h0M427.7 581.5h0M1032.7 638.8h0M501.4 516.4h0M985.3 626.9h0M673.1 216.3h0M940.2 703.1h0M390 396h0M1060.8 702.6h0M935.9 745.5h0M1028.7 682.8h0M992.4 684.4h0M990.3 774h0M584.3 402.8h0M779.8 298.9h0M756 210.7h0M577.6 456.6h0M496.2 907.7h0M415.8 396.2h0M514.8 528.7h0M506.8 877.9h0M926.4 742.4h0M909.9 755.9h0M589.1 396.8h0M972.6 712.9h0M686.2 146.2h0M676.7 192.5h0M1054.4 682.7h0M956.4 738.2h0M749.1 243.7h0M782.9 220.4h0M813.6 224.6h0M1039.1 739.3h0M499.8 517.6h0M789.1 243.7h0M976.5 711.4h0M1040 735.6h0M1005.1 663.2h0M977.2 683.9h0M1022.9 761h0M860.7 360.7h0M605.6 410.1h0M688.8 128.3h0M735.5 719.8h0M1036.3 691.3h0M1026.1 645.9h0M656.1 247.8h0M481.6 548.3h0M710 122.7h0M712.2 117.4h0M567 450h0M821.3 298.2h0M938.6 708.9h0M796.3 217.5h0M632.7 454.6h0M968.6 704.4h0M611.5 403h0M906.1 554.8h0M966.4 364.9h0M632.2 920.9h0M601.5 701.1h0M1001.6 665.1h0M1035.4 634h0M511.1 399.3h0M584.9 445.5h0M915.9 764.2h0M1007.6 713.7h0M1051 715.4h0M1007.8 675.1h0M762.3 237.1h0M744.5 798.4h0M927.9 763.8h0M543.8 246.9h0M966.9 735.3h0M820.1 267.1h0M922.4 712.5h0M804.5 228.9h0M575 779.5h0M1016.8 730.9h0M1021.8 657.5h0M904.5 726.3h0M935.2 728.6h0M520.6 980.8h0M627.5 687.3h0M791.2 318.4h0M464.8 463.8h0M674.8 123.5h0M476.5 442.6h0M488.5 344.3h0M520.9 449.3h0M433.5 826.9h0M944.8 689.9h0M598.6 391.6h0M992.9 688.7h0M974.1 753.2h0M1006.5 761h0M1016.9 641.9h0M1046.6 632h0M399.7 401.1h0M676.9 118.5h0M926.5 687.2h0M520.9 510.6h0M595.7 414.1h0M472.8 855.7h0M990.1 633.7h0M746.6 190h0M602.6 388.2h0M1045.8 673.9h0M907.3 729.4h0M758.4 228h0M478 863.9h0M427.3 397.4h0M798.7 237.6h0M951.5 366.1h0M995 699.5h0M837.1 277.5h0M717.7 443.3h0M963.7 676.9h0M869.5 367.3h0M994.7 744h0M798.5 265.2h0M746.8 187.4h0M597.8 450.5h0M562.6 763.5h0M955.2 685.3h0M803.6 297.8h0M968.3 758h0M864.7 368.4h0M1029 628.6h0M768.5 228.9h0M556.3 220.8h0M900.6 716.4h0M946.4 666.9h0M478 492.5h0M785.3 232.5h0M1041.8 729.2h0M593.9 667.3h0M658.1 687.4h0M447.4 855.5h0M469.6 850.3h0M761.3 243.4h0M989 770.1h0M776.9 219.8h0M470.3 596.2h0M409.7 392.8h0M1046.5 690.2h0M999.6 634.8h0M710.2 475.4h0M815.5 296.5h0M488.9 879h0M1041 678.1h0M677.6 714.9h0M1064.7 673.4h0M703.5 121h0M483.7 552.4h0M546.1 312.6h0M1032.4 747.7h0M560.6 459.5h0M748 220.1h0M929.5 775.7h0M929.4 397.4h0M663.9 245.8h0M781.1 242.3h0M768.7 210h0M952.8 367h0M980 745.4h0M467 558.8h0M722.3 456.8h0M625.8 711.7h0M615.7 650.2h0M609.2 392.9h0M560.1 247.4h0M981.7 754.4h0M808.7 294.6h0M671 704.8h0M1042.2 663.6h0M997.3 631.4h0M613.3 402.5h0M708.8 190h0M614.9 665.9h0M550.4 213.8h0M946.5 666.3h0M726.4 199h0M593.2 443.7h0M911 373.4h0M961 663.2h0M981.4 664.8h0M472.3 516.4h0M740.8 714.9h0M412 441.2h0M973.2 764.6h0M582.2 228.2h0M507 508.7h0M760.9 209.6h0M1054.9 702.9h0M795.4 282.2h0M555.8 253h0M1011 681.8h0M736.9 148.2h0M448 851.2h0M934.2 393.8h0M660.3 248.2h0M480.1 547.6h0M561.1 225.5h0M407 443.4h0M1029.1 747.9h0M729.9 195.6h0M957.1 373.2h0M1041.2 730.3h0M965.2 716h0M698.2 190.1h0M989.5 650.9h0M547.5 469.8h0M719.2 944.5h0M647 446.6h0M552.5 225.1h0M428.2 561.8h0M1039.8 665.4h0M862.8 360.5h0M729 175.3h0M971.8 706.1h0M1026.9 764.8h0M985.2 699.6h0M603.5 455h0M803.3 247.8h0M484.7 551.6h0M999.6 684.1h0M418.8 407.4h0M686.7 169.5h0M1015.7 691.4h0M960.4 771.4h0M985.8 649.2h0M709.3 470.3h0M802 272.4h0M923.7 737.1h0M959 765.5h0M708.1 228.9h0M675.2 156.4h0M987.4 744.4h0M966.1 784.1h0M1008.5 669h0M963.1 757h0M1023.1 680.8h0M470.6 852h0M567 476.8h0M606.6 235.1h0M963.9 629.2h0M982.2 768.9h0M1016.6 703.5h0M456.9 557.7h0M486.8 511.4h0M598.8 443.7h0M758.1 211.5h0M1011.2 754.3h0M560.4 780.2h0M624.7 240.1h0M1057.1 682.2h0M597.9 232.4h0M555.2 246.3h0M537.2 460.1h0M403.4 393.2h0M987.6 630.7h0M433.5 420h0M787.7 293.1h0M715.5 235.2h0M670.2 154h0M743.2 183.8h0M416.9 402.3h0M790.2 246.2h0M629.2 245.5h0M990.6 731.8h0M1017.9 694h0M945.2 681.5h0M1020.7 762.2h0M443.4 572.4h0M665.1 687.2h0M978.3 691.1h0M1032.2 661.7h0M868.8 369.6h0M643.2 461.2h0M966.1 702.9h0M505.8 870.8h0M610.7 784.4h0M767 221.9h0M957.1 705h0M947.2 759.4h0M1046.6 719.4h0M1046.8 701.7h0M829.6 280.6h0M671.6 221.4h0M955.5 690.4h0M460.2 563.7h0M765.8 198.7h0M960.1 754h0M488 350.1h0M739.4 192.9h0M575.1 218.4h0M651.7 249.6h0M1045.5 682.9h0M1055.9 648.7h0M540 431h0M707.4 154.6h0M780.7 283.8h0M542.2 478.3h0M1046.4 701.8h0M1015.1 768.3h0M513.7 409.4h0M603.3 672.6h0M996.1 738.7h0M380.9 407.8h0M733.8 275.3h0M765.5 211.2h0M1027.6 632.5h0M964.5 758.4h0M535.2 467.2h0M744.3 227h0M1015.2 750.5h0M800.6 248.1h0M929.8 680.7h0M1030.6 705h0M556.9 226.6h0M939.4 758.1h0M637.5 900.3h0M719.3 190.6h0M962.9 780.5h0M402.9 404.4h0M616.6 678.3h0M540.9 227.1h0M597.7 396.4h0M931.4 361.1h0M1010.8 671.1h0M941.3 778.7h0M972.8 630.9h0M746.7 189.9h0M929.4 396.8h0M775.6 281.9h0M618.4 444.1h0M713.7 444.5h0M549.7 783.4h0M985.2 671.5h0M682.5 231.8h0M602.4 402.8h0M1008.4 709.9h0M493.8 439.9h0M829.2 219.9h0M1036.7 688.4h0M585.3 450.2h0M709 199h0M947.5 679.1h0M927.8 724.6h0M427.8 393.4h0M425.5 829.8h0M995.6 758h0M720.6 166.1h0M794 233h0M693.9 178.8h0M725.8 130.2h0M824.4 298.8h0M798.1 232h0M493.1 883.6h0M662.5 120.6h0M959.9 744.6h0M698.9 129.3h0M452.1 563.4h0M449.5 844.6h0M934.6 773h0M462.8 865.6h0M597.1 442.1h0M763.3 220h0M676.7 239.3h0M1006.8 768.3h0M1014.3 656.4h0M802.2 285.4h0M1024.3 745.1h0M975.8 635.5h0M1004.6 641.9h0M946.2 701.2h0M614.3 389.4h0M966.6 642.7h0M396.9 403.1h0M672.3 164.9h0M402.8 394h0M975.7 728.1h0M674.3 702.5h0M745.5 210.4h0M601.3 392.3h0M439.2 840.3h0M961 749.1h0M485 475.9h0M981.9 769h0M992 762.2h0M611 401.4h0M984.7 668.3h0M915.9 726.4h0M735 238.6h0M813.2 293.3h0M688.5 133.1h0M813.4 230h0M490.8 884.3h0M771.7 300h0M750.1 194.4h0M1010.4 621.7h0M933 698.6h0M720.6 144.7h0M502.3 385.7h0M394.3 425.5h0M978.8 774.9h0M700.8 155.3h0M1055.7 710.9h0M539.8 767.1h0M586 247h0M976.9 697.9h0M977 776.6h0M999.7 689.3h0M668.6 132.3h0M445.9 834.9h0M1010.9 744.3h0M780.2 211.8h0M662.1 983.2h0M993 734.8h0M507.9 512.8h0M781.2 268.7h0M561 471.8h0M587.6 461.4h0M812.5 286.6h0M682.9 241.3h0M390.8 426.7h0M623.7 684.9h0M481 871h0M729.8 163.6h0M1000.4 625.5h0M998.4 668.9h0M633 920.3h0M639.1 908.5h0M409.7 401.5h0M505.1 388.3h0M956.7 730.8h0M504.7 441.6h0M730.2 162.4h0M567.8 214.8h0M960.2 695.8h0M1012.6 756.5h0M469.8 560.5h0M789.8 251.5h0M389.4 408.2h0M1049.7 718.7h0M721.1 151.3h0M712.2 453.4h0M694.7 449.5h0M981.7 675.5h0M810.6 218.1h0M698.5 141.3h0M801.9 214.1h0M704.6 452.7h0M994.6 691h0M1027.4 758.2h0M670.7 922.2h0M593.8 464.6h0M792 313.6h0M973.2 755.2h0M586.7 230.7h0M677.1 181.8h0M552.9 229.4h0M988.8 751h0M945.3 723.3h0M543.9 492.2h0M971.3 636.9h0M448.6 582.7h0M458.3 585.9h0M751.7 199.6h0M559.3 213h0M741.2 177.5h0M691.7 159.2h0M584.9 433.7h0M632.1 921.3h0M951.9 668.4h0M1042.5 690.6h0M667.4 249.9h0M569.7 222.9h0M738.6 196h0M463.3 575.8h0M679.7 187.9h0M1035.1 668.9h0M1046.4 678.9h0M686.1 930.3h0M590.7 390.2h0M455.5 573.7h0M1039.4 726.8h0M814.1 284.8h0M1026 720h0M1029.1 731.2h0M934.4 766.9h0M636 907.4h0M547.3 253.3h0M685.7 235.8h0M416.6 443.6h0M991.1 661.4h0M514.5 546.9h0M953.4 369h0M923.6 762h0M565.2 232.2h0M583.7 540h0M1023.9 698.3h0M959.7 728h0M964 761.2h0M1044.9 701.5h0M746.2 202.5h0M570.5 232.3h0M734.8 192.3h0M339.1 824.9h0M745.1 223.8h0M504.9 514.9h0M637.4 452.7h0M680.1 198.8h0M962.7 663.9h0M206.6 502.5h0M1054.5 714.1h0M568.1 236.7h0M515.5 414.4h0M1039.5 732.9h0M908.3 720.2h0M915.2 783h0M590 449h0M784.1 243.4h0M675.5 228.6h0M935.6 735.6h0M445.8 846.4h0M428.3 820.3h0M966.3 635.7h0M928.3 371.7h0M788.4 210.8h0M953.5 695.9h0M483.5 354h0M397.2 413.8h0M645.2 667.9h0M538.9 493.3h0M959.8 749.1h0M687.2 241h0M1032.2 719.4h0M1033.4 642.3h0M1049 647.3h0M918.5 719.2h0M957.6 716.9h0M492.7 564.8h0M988 648.7h0M906.8 743.9h0M728.1 530.9h0M630.7 900.8h0M666.4 141.5h0M981.9 732.6h0M937.1 772.5h0M724.5 125.2h0M1015.9 688.8h0M539.7 321.6h0M638 901.3h0M534.3 461.8h0M481.3 562.5h0M1016.6 721.8h0M966.1 639.5h0M938.5 717.4h0M710.3 442.8h0M626.9 238.9h0M703.7 164.2h0M784.8 246.6h0M1040.7 703.2h0M639 693.4h0M512.2 527.4h0M1057.8 670.7h0M981 656.2h0M596 231.2h0M943.5 708.4h0M796.7 247.1h0M627.7 891.4h0M675.7 210.3h0M807.2 272.2h0M628.5 896h0M928.8 744.2h0M1041.3 702.9h0M986.9 764.6h0M992.9 769.7h0M963.9 690.8h0M573.4 249.7h0M1011 630.1h0M1000.8 688.4h0M947.4 746.3h0M929.2 370.3h0M1018.2 712.2h0M623.5 877h0M534.7 1003.2h0"/>
<path class="d" stroke="#9972ED" stroke-width="5.6" d="M972.8 729h0M729.8 130.3h0M973.8 725.6h0M550.4 240.6h0M789.2 245.8h0M983.2 737.1h0M381.7 406.4h0M774.7 265.1h0M937.6 687.2h0M958.6 647.9h0M670.9 255.5h0M798.9 270h0M936.6 730.3h0M993.9 737.5h0M1062.2 680.5h0M1038.1 752.7h0M959.5 768.9h0M705.6 230.5h0M731.8 126.1h0M662.1 167.5h0M768.6 225.5h0M918.7 768.7h0M966 704h0M1031 712.4h0M797.6 235.8h0M929.3 719.5h0M825.3 279.7h0M1002.7 762.8h0M605.9 691.2h0M1042.8 700.6h0M416.7 418.7h0M757.6 548.8h0M1063.3 682.3h0M682.2 171.9h0M672.8 143.9h0M507.1 462.3h0M543.1 227.9h0M973.7 690.7h0M1023.4 686.9h0M965.7 782.4h0M1000 776.8h0M818.9 229h0M788.8 220.2h0M989.6 650.1h0M793.7 294.2h0M676.2 134.5h0M565.8 237.5h0M930.4 694.7h0M933.4 700.7h0M938.9 768.1h0M704.1 440h0M945.2 753.1h0M722.6 157.6h0M1062 680.4h0M966.4 712.1h0M731.4 231.5h0M669.8 152.6h0M655.5 249.6h0M1047.3 663.4h0M950.2 760.3h0M1040.3 726.3h0M994.3 698.3h0M974.5 709.3h0M754.2 201.1h0M975.8 699.8h0M480.5 349.3h0M384 413.7h0M597.4 439.8h0M719.9 455.4h0M673.1 146.1h0M821.8 289.6h0M704.8 149.6h0M686.1 164.3h0M741.4 144.3h0M974.5 623.3h0M692.9 228.9h0M673.9 130h0M730 190.7h0M618.8 461.7h0M789.5 280.2h0M485.6 507.5h0M719.6 938.9h0M687.3 141.5h0M968.7 669.7h0M928.8 371h0M482.3 357.1h0M669.4 121.7h0M539.6 220.4h0M683.4 115.5h0M640.7 243.8h0M184.6 562.3h0M518.1 483.9h0M1008 697.7h0M632.4 239.8h0M1016.7 686.9h0M725.5 184.2h0M663.4 126.8h0M955.4 741.3h0M686.9 143.5h0M996.4 715h0M926.1 710.6h0M663.2 167.6h0M952 782.4h0M820.1 213.1h0M1001.2 705.7h0M770 206.1h0M994.4 624.9h0M735.8 160.5h0M953.1 677.9h0M687.3 185.7h0M1062.5 700.1h0M673.9 229.1h0M961.4 701.1h0M763.3 204h0M702 184.5h0M993.1 724.1h0M734.5 719.7h0M636.8 691h0M959.4 749.7h0M475.9 589.6h0M941.5 672.9h0M554.4 230.5h0M731.2 133.5h0M706.8 441.7h0M712.4 192h0M801.5 293.5h0M681.9 131.9h0M671.1 120.9h0M920 782.3h0M749 798.7h0M745.4 178h0M1015.4 716.8h0M541.3 323h0M506.6 398h0M699.8 188.8h0M944.4 722.9h0M781.6 229.6h0M955.1 675.3h0M1038.3 656.1h0M1042.5 655h0M922.9 729.9h0M804.6 293.3h0M1009.3 725.1h0M791.5 286.4h0M696 143.1h0M968.9 757.8h0M973.4 743.3h0M682.5 158.2h0M895.4 696.2h0M574.4 223.1h0M956 667.6h0M727.6 164.8h0M954 675.4h0M942.7 719.1h0M1056.5 652.4h0M590.4 417.7h0M1002.5 665.6h0M1029.9 635.5h0M674.5 249.3h0M1043.6 695.7h0M745.8 214.2h0M957.7 717.2h0M982.8 780.9h0M745.7 239h0M962 751.3h0M1053.4 697.5h0M617.4 401.8h0M795.6 292.5h0M815.2 273.6h0M488.7 351.3h0M662.5 916.9h0M970 674.8h0M746 596h0M549.5 251.9h0M509.3 871.7h0M956.3 697.6h0M623.1 425.7h0M611.9 712h0M1004.2 692.6h0M958.4 739.8h0M954.8 768.9h0M555.8 484h0M1063.9 665.6h0M990.5 718.8h0M1037.4 750.3h0M678.3 140h0M1004.9 749.8h0M967.9 670.2h0M678.9 147.1h0M774.4 597.5h0M994.6 704.7h0M800 293.7h0M950.7 745.4h0M962.2 701.9h0M935.1 745.7h0M703.7 450.7h0M808.8 268.8h0M995.7 648.6h0M962.3 634.5h0M995.2 760.6h0M826.1 228.9h0M1030.8 747.8h0M943.6 749.4h0M988.8 687.2h0M968.5 656.5h0M944.6 671.8h0M1043.7 705.2h0M1052.6 688.2h0M944.7 759.6h0M812.2 225.7h0M711.2 185.4h0M439.3 850.6h0M995.5 649.5h0M566.5 524.8h0M669 123.2h0M957.8 771h0M506.5 452h0M740.8 147.7h0M735.8 201h0M606.5 469.6h0M434.4 414.4h0M689.8 140.5h0M707.2 128.2h0M458.5 848.3h0M747.1 178.7h0M455.1 452.3h0M974.2 734.5h0M404.5 416.4h0M708.3 147.1h0M1003.3 706.2h0M721.1 135.4h0M664.3 140.9h0M886.9 372.8h0M1038.3 655.8h0M640.5 424.7h0M967.9 716.6h0M674.9 213.3h0M773.7 299.8h0M910.2 753.3h0M709.5 152.3h0M777 221.7h0M678.5 166.1h0M867.1 369.1h0M944.6 721.7h0M1011.3 699.7h0M639.6 244.9h0M561.7 230.9h0M692.3 253.4h0M1007.9 635.4h0M953.4 662.2h0M1059.4 653.1h0M754.5 202.9h0M556.9 764.4h0M497.6 876.1h0M963.3 687.4h0M543.6 317h0M998.4 654.9h0M404.1 399.3h0M1005.2 700.6h0M738.1 167.4h0M746.3 213.5h0M794.7 285.1h0M596.8 455.3h0M1001.5 750.1h0M973.4 716.1h0M798.4 279.9h0M1032 658.1h0M792.7 282.4h0M973.8 768h0M456.5 414.2h0M945.1 375.5h0M770.9 260.1h0M827.2 297h0M663.6 238.8h0M410.6 441.1h0M794.7 298.4h0M1010.2 655.6h0M933.6 394h0M830 282.4h0M789.1 243.9h0M704.3 465.3h0M715 235.4h0M737.9 240.5h0M1042.8 629.9h0M763.5 205.2h0M1014.6 687.7h0M773.3 302.9h0M825.9 275.8h0M1060.8 658.2h0M555.8 251.8h0M1004 742.6h0M1009.1 708.1h0M549.8 230h0M690.3 254.8h0M950.9 687.8h0M1005.9 649.5h0M488 358.4h0M778.2 303.5h0M449.6 413.3h0M719.8 444.7h0M1029.7 695.6h0M747.2 223.9h0M976.6 624h0M452.5 410h0M615.2 461.3h0M1002.3 688.6h0M799.6 311.2h0M582.3 219.9h0M610.8 416.5h0M591.4 546.3h0M814.5 297.7h0M985.7 625.3h0M827.6 298.8h0M835.9 282h0M942.9 676.6h0M962.3 746.4h0M414 408.6h0M629.8 898.2h0M692.9 450h0M735.1 156h0M934.9 365.8h0M576.4 230.5h0M717.9 227.3h0M712 257h0M804.9 233.8h0M728 126.5h0M531.8 514.9h0M681.7 421.4h0M974.7 651h0M945.8 376h0M583.3 227.9h0M417.5 416.5h0M929.5 718h0M1004.9 681.6h0M981.3 679h0M757.1 211.2h0M707.7 225.5h0M958.5 780.1h0M957.3 360h0M958.8 683.1h0M777.6 288.3h0M744.9 238.9h0M999.5 732.7h0M791.7 274.7h0M1034.1 714.3h0M834.6 281.2h0M684.2 176.9h0M757.9 234.2h0M1014.7 743.5h0M1047.3 664.1h0M715.8 949.2h0M998.6 739.3h0M674.8 174.6h0M832.9 296.2h0M1027.3 652.3h0M1011 729.5h0M998.5 757.5h0M959.7 365.9h0M999.2 767.7h0M794.5 264.6h0M993 750.6h0M1058.6 709.6h0M741.1 203.9h0M907.1 710.7h0M685.8 175.6h0M949 731.4h0M821 235.6h0M957.6 703.5h0M1000.6 763.1h0M779.6 306.5h0M1039.7 673.5h0M1029.2 639.8h0M679.6 153h0M765.2 204.3h0M978.3 740.5h0M855.8 361.6h0M458 850.5h0M729.8 153.1h0M677.4 205.7h0M523 238h0M964.9 658.9h0M662.1 168.4h0M1019.5 684.1h0M545.6 229.9h0M785.4 252.5h0M512.9 408.1h0M1010.6 662.4h0M686.8 124h0M972.2 749.8h0M945.5 674.9h0M949.6 776h0M960.6 708h0M704.2 158.6h0M899.3 714.6h0M679.3 177.2h0M1005.6 740h0M389.1 395.3h0M919.5 716.1h0M1059.4 703.2h0M623.5 452h0M523.6 434.1h0M1005.7 774.2h0M779 279.7h0M751.6 224.2h0M678.5 217.3h0M720.4 122.1h0M951.3 357.2h0M551.5 507.7h0M777.1 292.5h0M749.4 227.7h0M793.9 311.4h0M991.4 667.1h0M988.9 779.8h0M776.8 263.1h0M668.1 255.5h0M627.7 921.3h0M702.8 134.9h0M1038.2 726.9h0M415.9 400.4h0M741.4 163h0M786.7 285.3h0M491.3 869.3h0M808.5 241.7h0M982.7 716.1h0M727.3 161.4h0M742 184.3h0M813.5 264.6h0M515.2 536.3h0M568 232.3h0M1020.2 724.2h0M804.9 267.6h0M661.2 160.4h0M593.9 231.7h0M1043.5 692.3h0M1005.4 658.1h0M808.5 287.2h0M410.4 415.2h0M975 751.7h0M1030.6 646.1h0M941.7 672.4h0M722.7 142.6h0M943 690.3h0M836 294.1h0M915.1 538.8h0M446.4 440.6h0M750.5 238.4h0M967.3 637.7h0M988.4 755.2h0M1029.5 732h0M582.5 238.1h0M752.4 203.7h0M966 650.4h0M1015.2 771.3h0M938.1 696.5h0M734.7 199h0M592.6 396.4h0M909.4 540.3h0M1028.2 728.6h0M986.1 635.1h0M577 241.7h0M700.1 176.5h0M545.4 220.2h0M707.5 169.7h0M677.6 126.7h0M971.2 764.7h0M698.6 170.9h0M909.8 372.9h0M1018.3 745.6h0M706.1 470.2h0M1014.6 681.7h0M1023.3 705.5h0M767.1 235.5h0M749.5 194.4h0M968.3 624.7h0M690.2 141.4h0M488.4 509.5h0M998.3 778.1h0M966.9 699.5h0M406 420.4h0M952 378.5h0M910 715.1h0M697.9 142.3h0M1022.7 762.9h0M759.5 238.6h0M748.3 218.1h0M725 175.5h0M560.1 518.1h0M1045.1 691.7h0M750.1 194.8h0M626.8 413.5h0M705.5 119.7h0M742.3 149.4h0M968.9 763.8h0M978.8 636.5h0M666.9 234h0M981.6 691.5h0M956.6 714h0M1033 702.6h0M650 670.9h0M909.9 719.2h0M789.5 255.2h0M900.4 373.7h0M958.7 362h0M800.2 242.8h0M725.5 241.9h0M941.2 744.2h0M801.5 286.8h0M996.8 641.2h0M477.6 447.3h0M735.2 190h0M711.7 138.9h0M486.9 508.1h0M726.7 124.2h0M710.9 148.3h0M397.8 398.8h0M933.8 761.6h0M692.4 128.8h0M566.5 251.5h0M926.8 720.3h0M1041 707.3h0M738.3 198.9h0M1051.9 646.5h0M977.7 706.7h0M1038.9 669.7h0M947.2 782.5h0M1020.8 667.7h0M1042.8 690.8h0M695.6 136.2h0M1003.5 697h0M620.7 706.4h0M743.3 197.5h0M797.9 231.3h0M729.4 240.4h0M827.4 296.8h0M715.3 942.8h0M823 232.6h0M1058.1 659.8h0M670 170.2h0M1029.1 646.7h0M963.8 698.6h0M944.4 679.5h0M975.7 781h0M951 682h0M1002.5 632h0M388.5 394.4h0M590.2 392.4h0M785.1 221.7h0M518.6 984h0M961 694.3h0M996.8 726.9h0M789 307.9h0M946.8 370.1h0M506.8 875.4h0M1003.7 626.8h0M997.5 698.3h0M604.5 396.7h0M410 435h0M722.8 128.9h0M966.2 725.7h0M995.8 757.6h0M786.4 243.9h0M638.6 914.9h0M530 428h0M770.5 236.6h0M1021.9 640.4h0M991.7 626.8h0M628.4 669.8h0M614.5 235.6h0M1028.6 717.1h0M628.9 898.8h0M724.7 130.7h0M663.7 152.9h0M963.4 654.4h0M603.5 409.4h0M545 440h0M929.4 776.3h0M588.8 394.2h0M698.8 133.5h0M717.9 155.4h0M941.9 730.3h0M620.9 237h0M390.2 423.5h0M715.7 164.6h0M824.6 285.3h0M695.2 162.8h0M1009.5 709.5h0M1005.3 672.3h0M654 659h0M768.8 230.2h0M692.3 126.4h0M987 745.5h0M599.5 701.5h0M533 499.5h0M593 432.3h0M1031.2 724.7h0M492.2 359.2h0M758.4 190.5h0M603.1 697.3h0M728.1 184.4h0M684.1 148.7h0M979.1 657h0M774.3 219.8h0M466.1 858.2h0M746.2 235h0M818.5 223.4h0M692.6 229.1h0M424.4 396.3h0M675.8 133.9h0M796.9 274.2h0M779.9 259h0M1024.5 750.8h0M741 212h0M608.6 658h0M810.5 214.7h0M709.2 186.6h0M735 260h0M1031.8 721.5h0M394.9 418.7h0M947.3 759.5h0M980.1 754.4h0M968.9 743.6h0M982 737.3h0M980.5 639.3h0M670.5 129.9h0M499.5 874.4h0M716.8 142.5h0M612.4 846.7h0M624.9 704.9h0M465.4 521.3h0M717.7 134.7h0M503.7 395.9h0M609.9 456.7h0M1020.6 622.4h0M676.6 155.9h0M1034.7 664.5h0M991.8 738.5h0M947 735.8h0M831.4 284.5h0M963 758.6h0M976 698.4h0M607.4 458.3h0M396 434.8h0M931.4 716.2h0M935.7 373.8h0M784.1 283.5h0M674.8 147.8h0M970.3 672.9h0M675.4 159.4h0M1026 716.9h0M479.8 431.6h0M580.8 533.6h0M773.9 296h0M423.3 447h0M547.3 215.3h0M414.4 414.1h0M753.2 232.5h0M727.2 149.3h0M798.5 306.1h0M560 232.6h0M755.9 215.3h0M594.3 388.8h0M675.3 206.6h0M1022 740.5h0M747.5 597.4h0M923.1 724.5h0M647.2 460.1h0M559.2 770.3h0M791.7 315.4h0M965.1 682.5h0M717 200.9h0M611 698.8h0M627.7 661.3h0M437.5 843.5h0M941.3 774.7h0M401.1 408.3h0M781.1 259.8h0M966.2 371.7h0M771.7 268.1h0M930.5 678.6h0M1052.3 697.9h0M702.1 170.4h0M546 436h0M813.9 286.4h0M993.2 778.2h0M613.8 669.3h0M786.1 310.1h0M751.2 185.8h0M682.1 150.5h0M520.6 461.5h0M947.2 703.7h0M433.1 420.3h0M685.4 141.2h0M771.9 303.4h0M1008 681.3h0M998.4 751.6h0M694 137.3h0M747.4 171.8h0M1020.8 722.8h0M758.9 195.5h0M991.2 749.2h0M676.7 459.9h0M1019.8 731.4h0M905.8 739.1h0M1007.7 687.9h0M1056.8 701.2h0M720.2 150.3h0M994.5 690.7h0M715.7 188.1h0M983.4 772.7h0M596.5 716.3h0M1055.3 661.7h0M668.4 249.7h0M1019.3 770h0M690.4 454.5h0M737 140.5h0M994 758.9h0M782.5 305.8h0M498.9 457.8h0M1006.1 726h0M769.2 242.9h0M684.7 149.7h0M549.7 251.2h0M1001.3 709h0M778.8 230.1h0M413.7 400.2h0M942.5 707.3h0M765.1 200.9h0M722.1 147.6h0M776.3 257.5h0M959.9 769.4h0M982.5 726h0M726.8 155.9h0M1024.7 676.4h0M525 909.7h0M774.9 223.9h0M775.2 228.8h0M938.5 780.7h0M756.8 193.4h0M676.5 229.8h0M804.4 296.4h0M895.2 714.3h0M777.1 239.3h0M726.9 127.9h0M558.9 251.5h0M689.2 128h0M690.1 115.8h0M908.1 710.8h0M894.4 696h0M1033 735.2h0M698.5 150.6h0M708.3 935.9h0M729 173.9h0M1041.2 685.3h0M779.8 217.6h0M932.9 701.5h0M675 179.9h0M788.7 237.8h0M1058.4 656.6h0M949.6 717.7h0M809.6 234.5h0M1003.8 634.5h0M827.4 222.5h0M976.3 640.1h0M705.9 442.8h0M551.4 220h0M941.9 751.1h0M716.3 180.4h0M428.9 565.2h0M717.5 948.2h0M722 141.8h0M954.8 707.5h0M758.9 569.9h0M695 155h0M684.6 153.5h0M791.4 247.5h0M939.6 714.8h0M562.2 224h0M794 246.3h0M795.1 284.9h0M689.4 184.8h0M1012.5 644.8h0M813.5 224h0M507.3 525.7h0M504.5 394.2h0M625 666.6h0M652.2 683.3h0M1006.2 664h0M877.6 375.2h0M1012.7 746h0M1005.3 687.1h0M808 277.5h0M716.7 932.6h0M665.9 140.1h0M721.1 598.4h0M705.3 128.5h0M429.4 394.5h0M588.7 231.7h0M786 231.1h0M834.2 274.7h0M930.1 721.1h0M612.4 424h0M683.7 254.6h0M501 870.1h0M995.9 753.7h0M675.1 216h0M1033 634h0M585.5 420.3h0M831.6 299.5h0M619.6 868.2h0M794.5 269.2h0M591.8 451.9h0M964.6 733.4h0M933.2 741.9h0M624.2 699.1h0M976 646.4h0M695.2 133.3h0M947.3 702.4h0M667.2 253.1h0M768.9 202.6h0M1056.7 645.8h0M946.7 769.4h0M1009.2 709.9h0M1012.3 640.8h0M873.8 372.5h0M684.3 168h0M953 362.3h0M1024.7 762.3h0M658.1 128.4h0M787.9 274.4h0M982.1 745.4h0M806.1 240.6h0M603.5 404.1h0M759.2 216.4h0M1003.2 754.9h0M512.1 549.4h0M675.3 176.8h0M669.3 178h0M714.4 451h0M1044.2 739.3h0M738.2 190.6h0M666.2 147.8h0M960.4 702.1h0M985.6 763.8h0M691.1 126.1h0M675.3 239.2h0M932 764.7h0M1035.9 661.4h0M531.4 459h0M888.6 370.6h0M1009.8 640.7h0M869.7 372.3h0M768 583h0M789.9 222.7h0M948.4 711.4h0M1047.7 676.1h0M1029 693.9h0M953.8 375.7h0M520 984.2h0M965.5 766.2h0M984.7 758.6h0M619 454.5h0M698.7 136.6h0M554.7 241.9h0M554.6 213.7h0M957.1 780.6h0M653.1 247h0M1004.9 708.7h0M729.1 182.7h0M982.4 650.2h0M594.3 459.9h0M397.6 401.1h0M1023.4 669.7h0M809.3 291h0M952.8 653.7h0M987.9 741.2h0M639.2 450.3h0M596 225.4h0M940.9 717.6h0M570 238.6h0M1017.5 677h0M800.3 220.9h0M719.8 189.2h0M595.7 549.9h0M1040.9 704.3h0M485.3 356.7h0M992.8 675.7h0M979.1 746.1h0M635.8 695.6h0M692.8 185.1h0M1028.4 636h0M793 213.9h0M951 677.8h0M1029.9 693.9h0M554.1 229.1h0M501.3 582.7h0M520.7 430.1h0M1015.1 621.6h0M424.4 552.9h0M980.9 738.3h0M1019.7 671.8h0M909 700h0M611.3 679.9h0M788.6 289.2h0M736.6 199.5h0M780.3 310.7h0M496 512.9h0M502.1 375.1h0M1022 671h0M665.7 151.4h0M995.2 746.3h0M596.6 234.6h0M751.3 228.5h0M747.5 218h0M777 225.5h0M670.4 150.5h0M677.2 179.5h0M708.5 159.4h0M916.8 724.6h0M1017 674h0M703.5 181.9h0M1026.6 735.6h0M388 385.6h0M950 684.1h0M581.5 228.9h0M670.9 134.1h0M980.4 702h0M783.7 239.3h0M681.3 118.6h0M959.9 680h0M517.8 426h0M715.2 171.3h0M948.2 692.1h0M681.3 115.4h0M505.2 508.6h0M699.7 170.1h0M727.2 182.1h0M912.6 740.5h0M1052.2 725.9h0M794.8 319.3h0M738.4 202h0M1021.1 645.4h0M1001.2 659.5h0M996.9 719.3h0M667.5 253.4h0M984.3 707h0M959.8 757.4h0M964.2 778.1h0M996.9 718.4h0M1009.1 720.8h0M772.4 272.8h0M718.2 147.7h0M959.2 658.7h0M588.6 457.9h0M921.4 726.3h0M1015.9 647.7h0M976.2 690.8h0M952.3 736.1h0M415.3 419.7h0M405.9 439.9h0M409 400.7h0M586.8 538.5h0M725.7 193.1h0M997.4 626.8h0M1027.4 716.5h0M459 559.6h0M780.8 250.5h0M1036.1 637.9h0M575.1 530h0M717.8 190.7h0M726.3 191h0M394.2 408h0M1008.1 762.7h0M995.7 677.1h0M1031.4 718.1h0M779.2 221.8h0M933.6 730.2h0M697.8 182h0M783.3 257.2h0M701.1 145.3h0M676.6 130h0M1029.3 713h0M738.4 163.8h0M688.1 115.2h0M978.3 781.4h0M790.1 238.4h0M975.2 687.8h0M710.1 122.1h0M653.4 252.6h0M733 195.9h0M686.1 178.8h0M626.4 683.3h0M955.4 766.9h0M743.4 209.1h0M1053.1 725.4h0M1002.6 648.1h0M704.1 145.2h0M687.3 234.9h0M814.9 222.4h0M785.7 277.9h0M661 151.3h0M941.1 736h0M934.2 729.1h0M673.5 125.7h0M960.3 688.6h0M608.4 395.4h0M545.9 250.9h0M554.8 242.4h0M661.4 152.8h0M693.1 129.1h0M533.5 490.2h0M1040.6 736.5h0M1029.9 666.9h0M483 345.1h0M399.4 401.8h0M955.4 702.6h0M496.1 530.6h0M449.1 580.9h0M1019.8 659h0M1034.8 722.3h0M491.7 875.4h0M955 675h0M628.8 895.8h0M963 653.4h0M1059.5 683.3h0M980.9 754h0M727.5 188.1h0M1037.6 725.4h0M1024.9 696.2h0M1013.6 710.2h0M959.2 375.8h0M1064.1 674.9h0M1039.8 741.9h0M741 195.9h0M670.7 166.7h0M948 731.7h0M706.8 445.6h0M1049.4 656.8h0M1034.9 698.1h0M644.9 436.6h0M712.6 173.3h0M667.4 157.9h0M1033.1 670.8h0M684.6 179.6h0M629.3 898.5h0M983.4 657.6h0M1008.6 732.3h0M962.6 785.1h0M410.1 423.1h0M192.2 532.5h0M783.7 253.4h0M597.1 395h0M739.1 192.5h0M639 426.1h0M675.5 160h0M994.9 717.2h0M584 397.1h0M773.9 251.8h0M971.4 718.3h0M821.1 290.3h0M955.7 770.1h0M784.1 289.4h0M1016.3 678.9h0M686.2 126.4h0M980.5 624h0M968.7 657.8h0M977.6 633.5h0M1007 765.4h0M680.7 209.3h0M399.5 433.9h0M591.3 221.5h0M790.9 241.4h0M1022.4 714.6h0M692.5 119.9h0M688.2 158.3h0M792.8 222.4h0M413.1 392h0M456.8 521.2h0M1040 692.5h0M771 578h0M684.4 145.8h0M775.1 271.5h0M1002.4 661.4h0M722.5 181.4h0M524.7 428.5h0M977.9 654.1h0M541 216.1h0M996.9 742.3h0M986.3 749.3h0M380.6 405.9h0M1021 643.1h0M785.4 295.6h0M729.3 136.9h0M1012.8 758.2h0M980.7 731h0M935.7 688.7h0M513.8 466.5h0M719.3 460.2h0M874.2 367.1h0M1014.6 725h0M745.9 193.3h0M1054.5 712.3h0M712.3 155.9h0M580.3 239.3h0M993.3 639.9h0M1051.6 683.1h0M712.2 156.2h0M1026.1 707.5h0M689 200h0M615.3 663.3h0M933.6 681.5h0M1039.1 695h0M932.9 724.9h0M704.2 193.5h0M952.3 669.8h0M1012 745.6h0M948.5 719.4h0M486.8 573.4h0M778.8 297.9h0M667.1 163.6h0M503.2 904h0M764 600.5h0M679.1 245.6h0M964.3 647.5h0M981.6 704.3h0M1039 678.2h0M812.2 238.3h0M790.4 281.2h0M938 392.7h0M1024.8 688.9h0M736.4 183.4h0M912.8 765h0M1046.3 703.9h0M767.2 239.6h0M664.9 245h0M928.6 698.9h0M660.5 249.2h0M674.5 202.9h0M694.4 172.5h0M999.9 682.4h0M952.5 685.3h0M941.5 685.2h0M1031.9 651.4h0M550.9 227.9h0M827.6 274.2h0M1014.5 764.7h0M1013 643h0M712 944.6h0M811.1 238.8h0M1004.1 691.8h0M656.5 243.6h0M693.7 183.6h0M763.6 238.5h0M951.3 364.2h0M689.8 246.8h0M500.7 493.4h0M797.8 284.3h0M735.1 599.2h0M1015.4 648.8h0M952.2 693.6h0M415.2 436.5h0M1030.2 659.4h0M715.3 163.7h0M736.6 135.9h0M961.3 744.5h0M994.7 658.8h0M673.3 201.2h0M801 282.2h0M807.3 272h0M492.4 360.4h0M976 719.5h0M1050 649.5h0M520.2 527.8h0M834.8 274.3h0M563.9 231.3h0M449 874h0M763.6 248h0M737.5 232.6h0M961.2 778.5h0M592.3 231.9h0M672.6 173.1h0M570.2 470.7h0M685.5 247.4h0M996.4 761.9h0M452.3 566h0M966.5 685.5h0M972.5 753.2h0M681.6 177h0M943.4 738.5h0M656.8 237h0M981 750.1h0M650.6 709.3h0M1024.7 708.6h0M710.5 191.3h0M762 595h0M725.2 182.4h0M489.4 364.9h0M1010.6 701.9h0M1057.3 657.9h0M785.1 275.2h0M660.6 150.5h0M737.5 159.4h0M1025.9 627.8h0M974.4 716.8h0M797.8 301.1h0M679.4 216.2h0M1013.2 627.7h0M735 132.2h0M735.4 159.6h0M1009.6 640.9h0M963.8 732h0M948.3 378.9h0M749 209.5h0M635.6 674.4h0M960.2 715.5h0M1033.6 715.3h0M912.9 712.3h0M968.2 763.7h0M1011.3 767.3h0M686.2 253.3h0M658.7 236.5h0M988.2 639.3h0M729.5 171.1h0M678.4 112.2h0M567.5 458h0M1000.4 729.1h0M784.7 239.8h0M1055.4 709.9h0M739 168.4h0M792.9 273h0M634.4 681h0M659.3 127.7h0M787 216h0M523.7 455.1h0M1040.3 716.8h0M764.5 227.6h0M595.8 551.1h0M1049.9 707.6h0M980.5 733.4h0M838.6 296.2h0M947 690.8h0M959.1 689.3h0M584.1 238.1h0M977.9 655.9h0M433.8 541.1h0M747.7 182.1h0M792.2 230.9h0M392.6 413.1h0M746.8 208.5h0M821.4 278.6h0M578.5 220.7h0M720.4 933h0M414.5 445.2h0M714.2 931.5h0M722 258h0M995 724.6h0M910.4 712.4h0M685.5 159.2h0M780.4 292.2h0M971.9 722h0M496.9 486.3h0M712 938h0M691.3 167.7h0M957 695.8h0M957.6 692h0M767.9 242h0M981.9 659.6h0M1024.8 713.6h0M994.7 695.9h0M979.5 625.4h0M1020.1 712.5h0M951.3 368.2h0M894.7 695.4h0M783.3 232.9h0M784.8 273.7h0M924.8 779.2h0M981 624.9h0M933.3 681.8h0M708.7 152.4h0M724.5 167.4h0M664.3 140.5h0M830.4 275.2h0M996.7 676.4h0M988.2 733.2h0M611.1 420.7h0M1037.5 670.7h0M1033.1 640.9h0M782.6 265.5h0M619.4 873.9h0M401.4 398.1h0M961.6 651.9h0M954.5 761.6h0M1030.7 655.3h0M959.1 759h0M717.1 447.6h0M1027.5 725.6h0M794.9 318.3h0M491.5 352.9h0M553.8 477.4h0M777.7 227.2h0M708 172.4h0M596.8 391.2h0M787.3 238.6h0M1002.6 734h0M963.3 367.2h0M696.8 150.5h0M947.8 774.6h0M932.6 695.5h0M707.3 165h0M917.4 776.1h0M942.6 764.4h0M1016 768.4h0M741.6 145.1h0M789 245.7h0M985.7 754.2h0M760.3 201.7h0M624.7 651.2h0M1029.2 626.1h0M939.2 749.8h0M961.9 376.2h0M962.4 641h0M1029.1 652.7h0M1024.5 672h0M1022.3 698.7h0M939.9 740.4h0M695.4 437.8h0M707.4 191.2h0M714.6 168.8h0M837.5 278.6h0M1010 708.5h0M1012.5 735h0M547.7 234.3h0M582.4 245.5h0M687 149.6h0M1023.9 757.2h0M668.4 161.8h0M727.1 939.4h0M783.6 228.4h0M668.6 172.7h0M782.3 224.4h0M727.5 720.3h0M711.4 132.9h0M927.2 755.8h0M930.9 720.7h0M967.5 361.9h0M750 222.7h0M951 693.3h0M1023.8 716.9h0M688.2 170.4h0M960.1 673.7h0M1033.2 660.8h0M729.1 173.3h0M682 157.4h0M701 129.7h0M497.3 518.4h0M411.4 444.6h0M711.5 186.4h0M1000.2 735.7h0M967.6 778.9h0M419.4 396.3h0M1040.2 701.1h0M775.8 274.3h0M1024 673h0M952.9 679.8h0M1042.3 716.5h0M674.1 717.6h0M621.8 666.5h0M1005 622.2h0M512.1 555.5h0M757.5 214.6h0M1000 711.4h0M721 593h0M974.8 764h0M779.8 293.4h0M985.4 720.7h0M990.5 708.2h0M668.6 120.9h0M684.7 457h0M1032.6 749.9h0M726.5 124.4h0M989.7 748.6h0M417.6 415.1h0M1037.8 699.8h0M452.1 862.9h0M1036.1 713.5h0M1016.8 744.4h0M905.6 738.1h0M787.8 264.3h0M758.4 244.7h0M804.9 274.6h0M1053.5 696.7h0M955.8 647.7h0M723 191.4h0M689.2 143.6h0M785.6 278.5h0M755.4 207.2h0M554.1 246.8h0M984.6 717.7h0M630.9 918.8h0M780.9 229h0M498.6 562.2h0M752.1 189.3h0M676.3 186.6h0M829.6 283.8h0M967.3 732.8h0M474 857.8h0M647.5 240.3h0M930.4 759.4h0M613.3 850.1h0M924.7 755.8h0M730.6 152.2h0M636.2 455.1h0M765.7 220.3h0M405.6 393.2h0M570.3 464.4h0M776.7 248.7h0M781.5 307.5h0M1052.9 696.8h0M946.3 715.2h0M589.5 227h0M733.6 140.8h0M629.2 925.1h0M155.1 549.3h0M466.4 441.4h0M958.4 721.4h0M895.8 707.4h0M682 162.7h0M787.2 251h0M1053.5 689.5h0M942.6 739.1h0M1006.9 623.1h0M501.7 375.8h0M737.7 169.3h0M399.9 414.5h0M597.3 667.1h0M815.9 279h0M691.3 449.6h0M786 251.6h0M413.7 437.5h0M973.9 672.8h0M612.7 393h0M807.3 283.4h0M995.7 721.1h0M805.1 291.3h0M997.3 697.4h0M747.9 791.5h0M671.9 163.4h0M774.1 231.5h0M936.1 773.5h0M470.6 423.7h0M668.4 251.4h0M865.7 361.1h0M437.5 415.4h0M572.6 532.3h0M994.2 737.3h0M997.3 647.1h0M751.8 234.2h0M958.6 744.1h0M802.9 282.2h0M1011 680.8h0M834.4 298.3h0M602.4 393h0M922.5 710.4h0M779.2 261h0M740.1 173.2h0M710.1 441h0M1039.6 739h0M668.3 224.9h0M725 238.1h0M918.9 774.8h0M565.1 237.3h0M931 784h0M790 245.2h0M978.2 711.3h0M999.6 765.2h0M962.3 629.2h0M970.5 631.2h0M710.8 171.6h0M595.2 384.4h0M575.5 529h0M699.9 172.1h0M1037.9 708.2h0M929.7 689.2h0M999.1 771.9h0M969.4 717.9h0M1011.1 693.6h0M995.5 684.9h0M1030.8 732.5h0M667.5 251.4h0M705 208h0M487.4 364.1h0M746.3 215h0M408.1 438.1h0M951.8 756h0M935.3 759.9h0M738.2 188h0M937.9 682.4h0M732.4 132.8h0M1024.7 657.3h0M639.9 247.7h0M486.3 861.5h0M979 685.8h0M802.2 309.5h0M710.7 474.5h0M775.1 270.6h0M1007.4 768.6h0M1053.3 690.6h0M659 152.3h0M944.5 691.3h0M1050 678.7h0M948.7 709.9h0M989.8 729.3h0M976.8 679.8h0M702.6 142.5h0M945.8 687.7h0M711.5 130.3h0M991 720.8h0M821 222.1h0M949.1 710.9h0M1002.1 764.2h0M958.4 752h0M629.9 454.2h0M743.8 229.3h0M1018.7 644h0M744.8 185.7h0M832 295.7h0M980.4 733.9h0M953.1 671.8h0M957.4 770.2h0M1023.6 735.3h0M708.7 136.7h0M999.8 643.3h0M936.9 775.4h0M811.6 283h0M552.2 506.3h0M940.9 770.9h0M1009.5 705.3h0M987.1 632.1h0M969.7 753.4h0M1001.4 665.5h0M679.5 150.7h0M456.4 449.9h0M1038.3 703.3h0M967.4 685.3h0M678.1 200.4h0M666.1 143.3h0M1004.9 707.7h0M711.8 125.2h0M761.9 249.2h0M545.1 236.7h0M1039.3 691.6h0M969.7 725.9h0M812.5 286.8h0M958.8 682.4h0M991.2 773.1h0M695.1 121.5h0M947.2 373h0M570.3 469.2h0M793.3 315.4h0M953.4 672.5h0M407.5 416.9h0M1039.9 688.1h0M807.8 218.5h0M1008.8 738.4h0M951.9 739.5h0M950.8 663.2h0M775.1 274.1h0M1038.3 706.7h0M982.8 731.5h0M655.8 248.3h0M945.7 378.3h0M595.9 231.5h0M1029.1 696.3h0M988.4 665.5h0M550 509.7h0M1032.2 719.7h0M1012.1 722.2h0M1044.4 714h0M412.6 409.2h0M949.4 764h0M864 366.8h0M945.8 764.2h0M617.9 239.1h0M682.3 245.6h0M677.7 191.1h0M655.1 252.5h0M514 411.1h0M694.8 179.6h0M604.3 450.8h0M621.9 873.6h0M685.7 158.5h0M1011.1 755.7h0M894.2 370.6h0M1010.4 618.8h0M485 507.4h0M542.5 215.1h0M894 371.5h0M700.9 469.8h0M698.6 451.6h0M675.2 197.1h0M679.2 235.8h0M946.7 686.5h0M680.1 147.3h0M780 591h0M808.1 216.9h0M1032.7 742.8h0M993 743.5h0M935.6 769.5h0M801.6 272.8h0M387.6 408.4h0M634.6 909.5h0M694.5 146.3h0M925.5 702.3h0M777.5 270h0M447.1 409.2h0M726.1 145h0M1011.9 663.2h0M463.6 522.5h0M462 557h0M826 275.3h0M801.1 246.3h0M733.5 234.8h0M982.8 700.5h0M718 227h0M1044.7 678.3h0M991.9 683.9h0M1043.6 642.7h0M586.4 540.7h0M638 430.8h0M716.1 184.1h0M985.5 731.8h0M741.1 186.4h0M973.9 696.1h0M993.5 656.7h0M991 662.3h0M1015 647.9h0M674.4 248.5h0M824 283h0M932.6 752.9h0M966.9 676.4h0M666.8 168.8h0M921.4 736.5h0M552.4 242.6h0M1041.7 742.8h0M1028.4 743.2h0M998.1 715.6h0M630 920.6h0M810.8 231.5h0M665.1 159.6h0M1049.9 715.9h0M715.7 120.4h0M819.3 219.2h0M964.3 745.2h0M538 443h0M927.2 784h0M694.4 152.5h0M715.8 162.2h0M715.1 950h0M499.3 381.7h0M978.8 631.1h0M408.6 412.2h0M631.7 464.4h0M1016 743.7h0M662.7 163.1h0M601.9 654.3h0M802.6 317.1h0M778.9 242.4h0M764.7 203.9h0M1001 644.4h0M701.8 444.8h0M1022.5 673.1h0M1042.1 691.6h0M822.3 233.4h0M644.2 420.6h0M835.7 285.8h0M660 675h0M945.5 734.6h0M934.9 700.2h0M432.2 553.5h0M694.9 179.3h0M703.3 150.3h0M973.4 684h0M677.7 145.1h0M701 577h0M711.6 157h0M1010 720.1h0M954.7 705.7h0M944.9 695h0M958.1 632.7h0M655.7 238.5h0M586.1 446.6h0M730 265h0M966.3 634h0M714.6 151h0M950.8 743.4h0M921.4 735h0M833.2 286.5h0M465.5 858.4h0M1019 689.3h0M985.2 674h0M783.3 208.5h0M791.5 276.4h0M595.6 229.8h0M499.3 380.5h0M721 130h0M1061.6 678.7h0M671.5 177.2h0M755.2 224.8h0M1029.8 627.4h0M408.9 428.5h0M740.2 167.1h0M699.4 145.2h0M920.7 375h0M753.2 239h0M958.8 757.2h0M825.2 271.5h0M993.5 724.9h0M663.5 135.3h0M997.7 757.8h0M1037.5 693.2h0M997.8 621h0M963.4 731.8h0M534 432h0M975.5 746.5h0M487.2 359.9h0M443.3 393h0M665.1 122.1h0M1017.2 746h0M1053.7 726.7h0M923.6 703.6h0M907.3 739.2h0M720.6 169.6h0M718.6 138.6h0M686.3 236.7h0M992.6 653.9h0M770.1 278.9h0M1018 727.8h0M701.4 452.3h0M737.1 195.8h0M1036.5 669.3h0M953.5 683.7h0M994.8 734.1h0M929.8 740.3h0M949.4 712.9h0M950.8 732.9h0M596.9 554.9h0M1034.9 672.1h0M948.3 689.6h0M418.5 417.1h0M1027.6 655.3h0M983.1 667.2h0M1041.8 690.1h0M913.7 715.5h0M766.2 244.4h0M720.7 146.4h0M754.3 206.3h0M914.7 749.5h0M476.9 509.5h0M1039.5 718.3h0M730 219.1h0M1003.5 662.6h0M1020.1 765h0M728.2 152.8h0M680.7 117.4h0M551.4 509.2h0M800.1 305.3h0M806.9 296.9h0M1007 736.6h0M972.8 669.3h0M592.5 667.5h0M717.5 127.7h0M951.5 664.3h0M702.2 176.3h0M757.7 225.6h0M952.2 701.7h0M993 771.1h0M832.7 285.4h0M521.8 546.1h0M753.4 242.3h0M773.4 273.4h0M584.3 539.8h0M950.8 685.4h0M669.8 692.9h0M597.4 681.9h0M1022 734.4h0M1025.6 661.4h0M675.7 138.1h0M606 399.3h0M784.7 259h0M946.4 757.4h0M769.2 227.6h0M1016.9 690h0M694.3 157.4h0M961.4 743.4h0M829.3 281.5h0M719.2 176.2h0M742 592h0M796.8 222h0M931.2 776.3h0M793.1 246h0M945.6 740.8h0M608.6 399.7h0M482 464.7h0M995.6 740.5h0M785.3 309.9h0M683.3 124.4h0M811.8 235.3h0M668.2 229.5h0M928.9 396.1h0M663.3 145h0M1038.4 628.2h0M1056.1 654.7h0M698.9 186.1h0M996.7 689.9h0M1004.4 746.3h0M659.5 241.9h0M550.4 250.4h0M722.5 187.4h0M796.7 226.7h0M724.6 149.1h0M737 195.3h0M1039.8 714h0M449.1 853.2h0M686.7 451.7h0M492.7 534.1h0M1005.2 623.6h0M1007.7 754.2h0M1018.2 694.1h0M800 267.9h0M681.7 254.1h0M818.4 237.8h0M707.9 459.1h0M838.9 291.9h0M684.9 141.2h0M938.9 737.8h0M1043.3 721.6h0M953.4 722.5h0M977.6 711.1h0M724.9 134.9h0M1023.1 630.1h0M506.8 438.3h0M719.7 230.5h0M412.6 398.6h0M716.8 135.7h0M923.3 740.2h0M493.6 516.4h0M740 171.1h0M982.9 700.3h0M387.3 424.7h0M505.6 552.8h0M388.7 387.5h0M467.8 575.8h0M672.3 148.6h0M735 149.1h0M780.6 303.4h0M945.8 747.6h0M709.8 180.1h0M618 704.8h0M798.8 318.8h0M974.4 657.8h0M693.6 179.8h0M673.1 131.6h0M966.5 721.8h0M691.7 168.9h0M781.4 234.1h0M750.8 787.5h0M940.7 777.4h0M554 248.5h0M996.2 727.1h0M668 140h0M599.5 390h0M1048 686.9h0M976.4 668.3h0M824.3 275.2h0M700.7 185.7h0M619.5 447.6h0M929 710.6h0M720.5 155.9h0M831.5 279.2h0M597.1 229.6h0M705.4 460.5h0M399 421.9h0M1023.7 664.7h0M971.7 746.3h0M387.6 393.6h0M1011.2 618.2h0M996.6 672.4h0M1050.4 718.7h0M946.3 668.7h0M494.5 590.1h0M591.4 228.2h0M403.5 412.3h0M704.7 119.9h0M706.6 441.1h0M794.7 313.3h0M1038.2 665.5h0M543.6 319.7h0"/>
<path class="d" stroke="#8F66F0" stroke-width="5.6" d="M946.5 367.2h0M990.5 637.2h0M795.8 307.2h0M712.1 469.7h0M697.4 121h0M550.6 240.2h0M705.4 192h0M802.1 288.7h0M971.6 727.2h0M434.9 528.2h0M657.8 149.6h0M1007.6 683.3h0M723.9 139.2h0M793.2 274.1h0M726.8 131.4h0M727.9 185h0M822.8 286.6h0M947.1 769h0M960.2 763h0M912.6 707.2h0M688.5 240.1h0M983.9 753.5h0M673.6 183.9h0M840 302h0M829.9 222.7h0M1045.6 704.1h0M938.3 781.5h0M671.4 212.6h0M674.8 131.7h0M699.8 153.6h0M720.3 190.5h0M679.7 153.5h0M681.1 114.7h0M1007.2 631h0M935.8 772.4h0M738.6 153.8h0M629.2 244.9h0M800.9 295.9h0M1040.1 656.7h0M790.1 292.2h0M618.5 399.1h0M964.7 668.8h0M821 290.9h0M812.8 272.6h0M413.5 417.2h0M715.4 438.4h0M914.7 373h0M732.5 149.5h0M681 173.6h0M805.3 298h0M702.9 180.1h0M970.9 736.3h0M728.4 126.3h0M995.5 682.3h0M815.5 271.7h0M839.4 277.7h0M954.5 663.3h0M932.2 719.4h0M1032.6 736.3h0M957.5 703.1h0M985 760.4h0M1028.1 747.8h0M972.8 772h0M965 750.1h0M1011.4 641.4h0M1006.9 747.6h0M727.5 176.7h0M771.4 303.1h0M766.8 251.5h0M819.4 215.2h0M1025.7 677.8h0M784.8 270.8h0M794.5 265.5h0M797.8 298.1h0M493.8 351.5h0M696.2 179.8h0M931.9 782.6h0M1007.1 660.6h0M775.5 213.5h0M699.7 159.2h0M939.7 755.2h0M667 117.3h0M965.5 716.9h0M731.6 132.4h0M767.7 268.9h0M1002.8 622.6h0M1041 679.7h0M757.2 216.5h0M523.9 457.4h0M1037.4 732.6h0M932.1 712.9h0M563.5 245.7h0M1061.8 683.4h0M960.6 749.5h0M501 517.2h0M767 237.2h0M666 131.1h0M726.4 224.5h0M713.6 143.7h0M490 539h0M394.3 388.6h0M461.1 578.1h0M947.8 692h0M448.7 443.1h0M933.4 728.1h0M394.4 397.2h0M1005.7 689.7h0M756.3 226.7h0M664.9 136.6h0M953.7 691.9h0M941.3 764.5h0M721.8 134.7h0M973.6 686.1h0M705.3 186.6h0M1030.6 638.2h0M983.3 663.9h0M766.1 238.3h0M710.2 181.6h0M579.6 535.2h0M603.4 409.3h0M969.2 647.5h0M785.4 308h0M793.1 299.3h0M956 687.7h0M696.5 155.4h0M1017.8 649.3h0M1061.2 676.9h0M678.2 212.7h0M837.7 275.3h0M731.4 163.4h0M695.5 449.6h0M979.7 689.4h0M1014.9 661.4h0M691.1 151.1h0M974.5 720.6h0M510.5 395.2h0M980.7 755.8h0M711.6 944.4h0M606.5 413.1h0M958.9 773.2h0M951.1 756.5h0M1027.6 636.9h0M1005.2 751.9h0M959.6 723.4h0M1038.4 693.9h0M704.4 140.4h0M1034.5 755h0M683.6 175.9h0M574.3 217.9h0M967 709.8h0M1013.3 629h0M664.7 164.1h0M1028.5 750.4h0M955.3 648.7h0M966.6 705.8h0M1036.6 627.3h0M464.7 864.4h0M976.1 637h0M673.1 220h0M1027.3 763.1h0M745.9 163h0M1052.1 690.3h0M694 152.4h0M1017.5 754.1h0M826 297.4h0M823.1 267.1h0M916.1 718.7h0M708.4 237.6h0M715.3 138.4h0M1024.3 683.3h0M707 135h0M777.7 282.5h0M733.4 169h0M698.6 131.5h0M994 741.5h0M1014.7 650.9h0M693.2 121.2h0M955.5 695.5h0M1013.7 648.2h0M782.7 238.4h0M507.6 515.5h0M676 165.3h0M980.8 679.3h0M1023.3 679.5h0M1023.8 673.7h0M1019.8 669.9h0M937.8 372.7h0M713.1 189.9h0M735 137.8h0M986.7 660.7h0M719.9 148.4h0M1040.5 659.2h0M737.3 150.9h0M806.8 235h0M684.7 119.3h0M654.5 243h0M413.2 397.7h0M728.3 177.1h0M967 690.9h0M682.5 169.5h0M710.1 116.9h0M985.7 747.6h0M812.5 296.6h0M689 232.2h0M1014.1 668.5h0M780.5 230.6h0M886.9 373.6h0M505.5 883.5h0M711 154.1h0M720.8 459h0M1063.9 695.2h0M623.5 456h0M608.2 666.2h0M966.8 654.2h0M673.2 240.1h0M668.2 146.5h0M773.2 581.2h0M715.4 588.5h0M981.6 684.1h0M628.5 892.4h0M940.2 370h0M952.4 785.9h0M732.5 153.7h0M940.6 373h0M1056 703.3h0M781.7 310.6h0M700.1 155.6h0M946.5 707.8h0M1058.5 647.5h0M1049.2 703.2h0M682.6 455.5h0M681.1 212.4h0M713.1 119.9h0M393.9 397.7h0M631 412.7h0M707.3 233.9h0M686.6 137.4h0M1023.8 642.3h0M1058.4 685.9h0M1024 645.4h0M1001.3 628.4h0M724.8 170.5h0M618.7 646.5h0M669.6 224.9h0M687.6 155.6h0M985.4 741h0M1016.8 667.9h0M732.8 231.2h0M692.7 136.3h0M774.2 240.3h0M783.7 284.9h0M822.9 285.8h0M1036.5 707.7h0M998.9 732h0M818 282.7h0M941.9 670.6h0M993.9 654.5h0M714.9 143.7h0M1020.3 683.3h0M1006.6 694.1h0M940.1 705.3h0M745.5 234.3h0M810.1 294.8h0M705.1 175.2h0M833.2 296.2h0M678.8 252.8h0M959.1 758.8h0M1005.6 738.7h0M669.7 136.2h0M726.4 156.4h0M803.3 303.3h0M548.6 233.7h0M954.7 683h0M666.6 149.3h0M679 180h0M708.9 179h0M985.9 693.1h0M938.5 365.1h0M1058.8 679h0M1047 707.4h0M967.2 769.8h0M725.8 181.2h0M681.6 734.6h0M571.6 525.1h0M941.1 728.8h0M809.4 295.7h0M1049.7 651.8h0M964.1 782.1h0M770.6 275.4h0M1025.8 754h0M755.5 240.6h0M832.8 273.6h0M677.3 249.2h0M980.7 716.2h0M811.4 220.9h0M964.2 701.7h0M729 136.6h0M805.3 314.3h0M686.3 181h0M935.3 368.4h0M1012.3 661.7h0M688.4 172.9h0M1010.9 716.8h0M819.2 295.7h0M960.2 729.2h0M679.4 130.2h0M597.3 553.5h0M676.5 115.6h0M699.4 174.2h0M540.2 219.8h0M732.8 136.5h0M1057.5 708.7h0M924.3 371.5h0M560.5 244.4h0M666.7 128.3h0M834 273.4h0M735.3 165.4h0M973.9 647.7h0M633.2 665.2h0M755.3 247.4h0M1004 693.6h0M980.9 721.6h0M669 147.8h0M934.6 699.1h0M955.4 761.4h0M486.8 363.5h0M964.6 769.4h0M947.4 772.5h0M711.6 132.7h0M763.7 248.1h0M666.1 249.9h0M1017.7 751.9h0M941.4 754.9h0M950.2 362.9h0M823.7 217.6h0M1038.6 630.3h0M756.4 225.3h0M520.2 432.6h0M722.1 161.4h0M965.4 360.8h0M700.2 178.6h0M760.1 197.7h0M1054.7 685h0M933 745.7h0M705.6 191h0M665.7 159.6h0M1033.1 659.6h0M724.2 597.5h0M662.6 127.5h0M982 734.4h0M474.4 566.7h0M824.9 300.3h0M703.8 146.1h0M719.7 170.3h0M955.5 736h0M817.3 232.8h0M733.2 157.2h0M1046.3 658.6h0M794.9 316.3h0M767.6 227.9h0M958.1 682.5h0M1005.3 622.1h0M1014.5 755.6h0M982.9 775.9h0M832.1 283h0M970.6 760.2h0M757.7 237.2h0M1036.1 727h0M806.2 223.6h0M542.2 216.2h0M818.3 267.8h0M746.9 211.9h0M674.7 166.1h0M1054.8 703.1h0M698.9 177.4h0M699.6 190.1h0M956.4 639.6h0M929.7 779.1h0M1066 677.5h0M976.4 755.1h0M1037.6 673.4h0M944 697h0M684.4 237.9h0M710.1 122.1h0M713.9 145.7h0M569.6 236h0M514.5 562.7h0M729.9 178.4h0M1005 750.1h0M1032.2 640.7h0M713.7 140.9h0M945.4 759.8h0M662.2 158.7h0M992.8 691.1h0M950.6 770.6h0M1019.7 767.2h0M668.2 120.4h0M1027.5 674.2h0M657.5 132.7h0M969.7 723.6h0M971.8 751.8h0M824.9 286.4h0M726.5 154.9h0M719.4 152.1h0M560.3 241.1h0M739.5 230.7h0M712.1 171.3h0M547.5 247.2h0M717.5 177.1h0M817.1 225.7h0M518.9 490.5h0M606.4 392.4h0M708.1 140h0M961.5 649.4h0M1049 726.2h0M1042.1 729.7h0M988 719.6h0M1023 758.7h0M1029.1 644.2h0M1019.4 652.6h0M788.5 231.7h0M939.4 360.1h0M767.7 239.3h0M773.3 215.9h0M915.3 706.8h0M728.2 128.7h0M664.5 242.3h0M486.4 564.2h0M621.9 242.9h0M728.2 190.6h0M980.3 730.7h0M962 700.1h0M1019.9 741.9h0M677.7 153.2h0M800.4 243.8h0M729.2 162.5h0M672.5 235.9h0M861.2 362.5h0M968.4 723.6h0M681.4 178.5h0M588.7 541.4h0M714.2 436.5h0M1035.7 726.9h0M928.9 698.7h0M986.5 749.3h0M1014.3 673.9h0M1047 645.7h0M778.8 247h0M794.7 308.4h0M724.3 187.6h0M1010.7 755.5h0M1052.5 660.1h0M930.1 773h0M1015.5 733.4h0M832.4 290.8h0M979.7 635.6h0M737.1 154.6h0M674.1 208h0M683.9 162.4h0M984.8 678.4h0M407.1 401.4h0M955.7 726.5h0M791.5 298.6h0M815.6 268.1h0M937.2 690.5h0M949.1 770h0M714.7 141.1h0M1008.8 629.2h0M999.6 739.4h0M944.2 360.5h0M688.3 256.1h0M998.4 661.5h0M990.3 747.6h0M740.5 174.6h0M984.4 782.2h0M961.5 659.4h0M1036.4 628.3h0M957.5 373h0M711.1 131.6h0M973.7 740.9h0M918.7 367.7h0M707.9 131.7h0M708.1 155.7h0M697.4 150.6h0M978.2 750.1h0M675.1 153.7h0M1020.2 633.7h0M1051.5 641.9h0M961.3 375.4h0M1022 735.7h0M936.5 731.4h0M969.2 627.5h0M517.3 420.7h0M732.5 718.9h0M1045.9 718.7h0M589.9 434h0M739.5 139.6h0M535.1 511.7h0M673.9 148.1h0M666.7 139.2h0M942.8 365h0M1041.6 710.1h0M782.2 287.3h0M718.4 192.6h0M738.5 168.2h0M1061.9 666.4h0M690.7 177.9h0M1061.2 691.6h0M1007.5 766.1h0M945.2 758.4h0M499.2 374.5h0M757.3 211.6h0M841 294.1h0M557.7 514.1h0M949.2 661h0M1061 695.2h0M976.2 713.9h0M785.2 230.9h0M922.5 375.7h0M1007.4 660.2h0M780.4 281.5h0M421.4 545.6h0M935.6 749.6h0M1052.7 678.9h0M743.9 275.3h0M1018.1 762h0M735.3 199.3h0M736.4 131.6h0M974.2 633.3h0M953.6 742.5h0M976.9 631.4h0M663.4 115.8h0M682.4 180.4h0M1042.2 679h0M724.4 232.7h0M912 714.1h0M1033.3 691.1h0M944.5 682.2h0M635.4 245.2h0M972.5 632.6h0M604 415.4h0M797.6 297.3h0M938.4 755.3h0M684 236.2h0M1005.4 698.4h0M672.6 154.4h0M947.2 780.1h0M989.2 712.3h0M692 220h0M715.3 143.3h0M1007.2 667.7h0M546.8 227.2h0M911.6 709.1h0M623.5 460h0M731.9 172.2h0M931.2 732.4h0M931 733.1h0M967.8 725.6h0M998.1 622.4h0M485.7 355.4h0M717.4 161.1h0M974.2 626.7h0M824.7 284.9h0M975.3 682.7h0M1002.9 735.3h0M794.1 299.8h0M699.8 158.4h0M705.2 135.3h0M977.5 682.2h0M771.1 252.3h0M951 367.8h0M808.1 224.9h0M720.3 138.7h0M901.6 702.9h0M705 178.6h0M569.6 247h0M693.8 134.3h0M799.8 223.3h0M666.5 125.5h0M998.7 740.7h0M786.6 275.9h0M537.7 225.5h0M764.8 196.3h0M653.1 241.7h0M661.1 130.7h0M679.6 202.6h0M830 290.4h0M1043.6 722.3h0M926.6 751.4h0M802.3 276.3h0M949.7 703.7h0M731.6 148.8h0M999.2 744.7h0M954.3 358.2h0M606.8 385.4h0M791.3 300.5h0M823.6 271h0M679.8 239.2h0M800.3 313.8h0M745.2 192.7h0M720.7 190.1h0M561.8 783.5h0M997.2 759.2h0M986.1 761.8h0M986.5 701.7h0M804.8 214.5h0M934.2 698.2h0M689.7 185h0M730.7 193.2h0M584.9 233h0M1020.4 695h0M765.9 241.9h0M1035.7 738.5h0M720.3 122.1h0M912 703h0M1014.4 689.4h0M684.5 250.5h0M798.6 291.8h0M988.2 677h0M623.2 430.4h0M597.7 688h0M896.6 692.4h0M958.1 662.1h0M1005.8 700.8h0M470.3 857.4h0M935 369.4h0M668.6 151.9h0M1031.8 625.4h0M939.1 714.6h0M716.3 167.7h0M834.7 279.7h0M681.3 150h0M475.4 440.5h0M1021.9 666.1h0M952.4 745.7h0M725.9 170.6h0M722.8 159.6h0M1038.3 698.9h0M693.3 163h0M710.6 184.1h0M1050.1 645.6h0M1060.5 653.1h0M692.4 121.1h0M689.8 150.5h0M984.3 722.4h0M962.8 780.3h0M749.4 209.4h0M977.3 630.4h0M1035.2 712.3h0M946.7 754.3h0M927 729.5h0M1008.5 707.5h0M936.4 760.3h0M977.8 766.4h0M788.1 254.7h0M676.4 173.9h0M678.9 113.4h0M390.3 429.4h0M710.3 159.7h0M791.5 286.6h0M773.9 236.2h0M968.3 776.2h0M659.4 128.4h0M748.2 177.9h0M930.9 730.3h0M939.4 684.6h0M684.2 147.7h0M978.3 761.7h0M995.2 741h0M753.4 214.1h0M997.5 653.9h0M991.2 751.4h0M1046.1 647.4h0M972 682.4h0M1042 652.2h0M1017.8 660.4h0M927.2 691h0M679 184h0M956.3 378.1h0M1034.7 726.2h0M727.7 228.5h0M1007 633.7h0M737.4 176.4h0M1008.7 636.3h0M786.2 261.2h0M939.9 678.7h0M962.4 360.5h0M808.1 293h0M768 248.9h0M676 201.9h0M984.3 686.2h0M674.3 119.1h0M694.7 114.4h0M876.7 371.5h0M743.3 239.3h0M717.3 157h0M744.1 181.5h0M696 199h0M682.2 133.1h0M1065.6 663.6h0M978.2 674.2h0M700 118.6h0M941.5 677h0M1019.9 700h0M733.3 138.3h0M605.4 242.4h0M704.7 185.6h0M971.7 680.3h0M712 125.9h0M982.8 769.9h0M690.4 136.2h0M918.5 373.4h0M1043.2 736h0M381.8 417.5h0M545.7 251.1h0M916.5 753.2h0M1021.5 653.6h0M791.8 272.1h0M1054.7 676.1h0M672.1 226h0M1024.7 622.4h0M966 700.8h0M973.6 677.9h0M819.6 229.3h0M801 217.4h0M681.8 200.1h0M1058.1 687.2h0M727.2 164.2h0M666.1 125.2h0M544.3 246.1h0M983.1 644.1h0M779.6 275.6h0M686.6 144.9h0M552.9 217.8h0M764.3 223.4h0M795.4 296.1h0M724.9 127.2h0M931 694.2h0M699.3 174h0M781.7 225.4h0M768.9 236.6h0M752 590h0M1030.3 680.3h0M995.9 673h0M442.6 844.3h0M701.6 118.8h0M677.6 134.7h0M771 216.8h0M961.2 647.1h0M985.7 738h0M561.7 234.2h0M819.8 298.3h0M1000.5 773h0M966.3 367h0M667.4 144.6h0M660.2 148.6h0M779.3 212.5h0M775.3 252.4h0M1013 749.5h0M1052.8 723.8h0M960.3 698.7h0M708.8 145.8h0M808.6 284.9h0M627.1 923.3h0M710.5 159.6h0M858.8 364.4h0M693.8 245h0M1004.7 621.9h0M1037.4 675.8h0M961.5 664.4h0M659.3 680.5h0M787.6 314.5h0M960 661.9h0M796.9 298h0M710.4 141.2h0M1013.4 695.7h0M927.6 695.8h0M660.5 237.2h0M681 218.5h0M677.5 257.4h0M956.9 660.3h0M739.1 144h0M748.8 224.1h0M697.1 159.7h0M1022.7 722.3h0M549.5 240.5h0M692.7 124.9h0M829 223.1h0M805.2 269.9h0M691.8 114.4h0M598.2 227.7h0M939 367.7h0M706.9 131.6h0M789.7 278h0M604.1 405.9h0M1027.9 645.3h0M661.8 127.1h0M785.2 213.2h0M1056.3 675.7h0M687.2 136.7h0M1030.3 677.7h0M979.5 724.6h0M963 364.7h0M718.6 184.9h0M692.8 169.2h0M701.3 129h0M949 702.8h0M1011.1 772.6h0M695.7 176.2h0M972.2 691.3h0M931.8 761.5h0M1031.4 738.7h0M976.1 767.6h0M810.2 294.8h0M698.5 141.4h0M983.7 628h0M673.8 173.1h0M1060.8 703.5h0M734.9 144.4h0M576.7 231.2h0M601.6 388.8h0M899.4 711.2h0M792.4 241.3h0M761.2 200.2h0M865.4 361.9h0M799.3 305.8h0M613.1 443.5h0M676.6 122h0M745.9 168.3h0M827.4 289.5h0M893 370.6h0M973.5 756.5h0M960.3 742.5h0M958.1 765.6h0M941.5 718.4h0M681.8 130.8h0M1041.1 744.7h0M695.4 147.6h0M696 167h0M753.8 243.2h0M545.9 233.6h0M985.9 759.2h0M980.1 771h0M1043.7 702.8h0M746.3 163.2h0M720.5 191.2h0M1000 744.5h0M795 264.2h0M714.8 435.9h0M777.3 295.9h0M766 226.7h0M720.9 935.1h0M692 154.8h0M777.2 224.4h0M1013.8 701.7h0M688.7 153.5h0M1000.6 672.3h0M698.5 163.8h0M1047.8 689.3h0M740.3 178h0M978.9 643.2h0M810.5 284.3h0M996.7 654.3h0M737.8 188.6h0M1048.9 733.1h0M964.9 760.8h0M703.9 123.5h0M496 553h0M788.4 307.1h0M673.3 249h0M1050.8 639.2h0M987.6 668.8h0M996.6 718.1h0M666.3 165.5h0M1017.3 627.8h0M975.3 653.6h0M597.5 383h0M1015.2 657.4h0M1014.7 665.7h0M1040.8 639.6h0M1019.2 719.7h0M994.6 707.4h0M792 212.4h0M948.4 722.1h0M424.1 447.5h0M793.6 310h0M550.6 306.8h0M948.1 356.1h0M702.9 160.8h0M802.6 287.3h0M968.2 370.7h0M958.4 762.7h0M717.1 156.2h0M1030.9 681.1h0M683.1 116.1h0M692 133.8h0M976.3 697h0M727.2 180.8h0M459.2 442.5h0M723.2 235.3h0M546.4 455h0M704.4 133.5h0M710 151.8h0M1040 678.1h0M730.7 137.1h0M839.4 288.5h0M679.8 138.4h0M751.7 204h0M813.3 296.6h0M685.2 123.1h0M686.4 154.4h0M685.4 234.2h0M729.5 168.9h0M685.6 129.9h0M1003.8 734.2h0M922.2 777.3h0M1010.2 773.8h0M961.3 759h0M732.3 133.9h0M1063.2 676.9h0M666.6 251.2h0M723.1 169.3h0M1032.4 672.5h0M764.9 271.9h0M1026.8 740.5h0M728.3 175.2h0M776.8 247.1h0M1037.1 661h0M735.9 240.2h0M797.9 267.6h0M782.5 262.2h0M827.7 218.8h0M979.8 624.7h0M660.6 124h0M736.2 238.2h0M788.1 267.8h0M788.9 224.7h0M622.3 881.9h0M835.9 294.7h0M992.7 660.4h0M938.7 760.2h0M715.9 119.7h0M778.2 229.6h0M524.4 492.3h0M799.2 227.1h0M959.9 760.7h0M542 245.1h0M1002.8 654.6h0M729.4 136.8h0M702.3 161.4h0M958.6 669.6h0M901 597h0M753.4 190.4h0M737.9 191.5h0M689 182h0M991.3 691.7h0M497.7 378.2h0M679.7 113.2h0M725.9 130.6h0M678.5 144.6h0M768.1 209.8h0M1044.6 644.9h0M1056.3 705.5h0M672.1 129.2h0M673.4 170.8h0M757.7 228h0M670.9 156.8h0M786.8 219.6h0M608.9 648.1h0M984.8 649.3h0M664.8 152.5h0M671 189.9h0M753.5 192.8h0M703.7 121.6h0M1031.2 743.5h0M680.4 182.1h0M687.5 185.1h0M792.9 299.3h0M950.8 671.9h0M807.3 297.3h0M699 155.2h0M537.4 321.9h0M980.6 769.5h0M1024.2 724h0M1042.8 675.8h0M798.3 284.8h0M1058.9 661.7h0M579.9 243.2h0M937 743.9h0M992.6 777h0M964.5 632.6h0M710.8 147.9h0M392.2 398.2h0M987.6 701.3h0M718.9 120.1h0M995.3 726.2h0M1018.9 633h0M740.6 176.7h0M575.6 467h0M603.6 429.2h0M1031.6 710.7h0M783.2 308.6h0M686.7 144.7h0M966 745.1h0M687.1 171.9h0M707.3 163h0M678.8 212.5h0M1060.9 664.8h0M677.3 710.1h0M704.1 121.7h0M665.2 116.3h0M704.7 172.5h0M981.7 759.4h0M1005 728h0M682 136.2h0M810.6 270.9h0M1045.8 632.7h0M820.8 299.8h0M720.8 169.2h0M544.9 225.9h0M778 267.8h0M954.5 704.8h0M1022.8 685.3h0M981 728h0M1014.8 690h0M654.4 243.3h0M674.1 245.4h0M1023.2 666.9h0M990.9 737.6h0M1029.4 667.5h0M1011.1 677.2h0M686.9 136.1h0M1002.1 710.8h0M711.1 130.9h0M927.8 700.8h0M1042.8 646.3h0M672.2 120h0M812.7 276.2h0M935.1 733.1h0M405.8 430.3h0M578.1 530h0M758.2 245.1h0M1002.5 660.8h0M733.6 162.7h0M782.9 235.9h0M933.1 758.8h0M828.8 294.7h0M1011.2 628.3h0M1016.5 679.5h0M398.2 406.9h0M491.6 878.9h0M1001.5 640.9h0M1029.8 649.6h0M973.1 739.1h0M775.9 291.1h0M747.5 200.5h0M1021 710.4h0M727 149.5h0M605.5 239.4h0M666.8 137.6h0M710.3 172.5h0M685.1 121.7h0M739 716.9h0M989.9 683.1h0M1019.9 635.7h0M686.4 123.4h0M681.3 159.6h0M997.9 677h0M691.4 140.9h0M1057.8 710.7h0M706.8 122.6h0M785 275.3h0M721.6 129.3h0M826.8 290.9h0M968.7 699.3h0M620.4 463.1h0M989.2 667.7h0M953.6 673.8h0M982.1 782.2h0M1000.3 702.8h0M1012.9 626.8h0M670.5 162.4h0M622.4 661.1h0M734.1 160.5h0M676.5 210.4h0M1054.9 670.9h0M779.4 289.4h0M1047.6 653.7h0M782.3 311.6h0M684.7 120.9h0M728.1 171.3h0M725.4 169h0M955.9 747.8h0M1010.7 752.3h0M730.8 140.6h0M557.2 250.8h0M1009.2 766.9h0M1028.9 746.2h0M701.8 174.8h0M738.6 137.5h0M959 379.5h0M697.4 179.7h0M744.5 159.3h0M703 155.4h0M962.2 687h0M621.9 671.5h0M980.1 643.6h0M746.7 196.9h0M1033.1 730.5h0M1005.4 650.7h0M671.3 237.4h0M677.1 195.1h0M946.6 764h0M949.5 760.6h0M690.9 247.8h0M443.8 523.5h0M988.8 731h0M1030.2 703.6h0M939.3 768.8h0M980.5 746.2h0M758.5 230.8h0M801.1 319h0M963.4 678.3h0M781.3 263.6h0M707.4 174.6h0M971.5 706h0M995.5 634.2h0M703.9 182.3h0M990.3 649.3h0M389 414.4h0M551.6 313.6h0M816.3 291.7h0M736.7 162h0M1004.1 696.8h0M688.1 180.9h0M591.6 548.1h0M762 196.1h0M972.2 767.8h0M1057.4 655.7h0M955.4 641.3h0M1043.3 683.5h0M676.2 184.7h0M996.8 656.2h0M730.6 193.2h0M413 441.8h0M924.6 735.6h0M755 599h0M790.2 254.2h0M1029.3 691.1h0M785.7 252.3h0M957.9 640.5h0M676.9 237.2h0M968 727.5h0M971.1 675.3h0M837.9 286.4h0M930 378.3h0M685.1 184.6h0M714 473.5h0M941.5 359.3h0M497.6 530.2h0M1030 656.1h0M662.5 117.2h0M667.2 147.8h0M703.9 165.9h0M676.2 141.6h0M1015.3 703.6h0M790.2 221.9h0M761.8 243.8h0M836.7 293h0M678.6 202.9h0M985.2 774.7h0M708.9 227.6h0M821.7 297.4h0M746.1 207.5h0M694.9 121h0M707.4 150h0M969.5 704.2h0M669.4 167.1h0M1010.3 721.5h0M682.9 140.1h0M911.7 743.1h0M934.1 377.5h0M1047.2 646.2h0M485.6 345.3h0M662.3 125.6h0M1039 716.9h0M788.4 236.2h0M697.6 139h0M738 168.7h0M1023.6 657.9h0M786.4 313.4h0M391.2 390.8h0M614.9 656.5h0M569.3 474.5h0M720.1 154.9h0M780.7 265.3h0M729.4 151.3h0M1003.8 632.1h0M782 282.9h0M660.1 146.7h0M1057.2 714.9h0M402.5 420.9h0M670.7 168.1h0M419 406.6h0M975.7 772.7h0M951.1 667.7h0M673 219.1h0M587.7 436h0M701 149.7h0M1040.2 680.1h0M981.1 631.3h0M741.2 217.1h0M719.8 155.2h0M960.3 679.7h0M1004.1 646.6h0M706.7 469.1h0M664.2 139.4h0M988 751.4h0M955.6 639.2h0M722.8 138.4h0M709.7 159h0M786.6 219.5h0M696 464.4h0M1042.8 676h0M1038.2 660.3h0M694.5 146.2h0M652.9 250.7h0M1027.9 727.4h0M982.2 681h0M1000 657.5h0M1029.5 639.7h0M887.7 372.4h0M1007.7 655.7h0M1032 730.2h0M1026.7 640.9h0M995.9 693.6h0M594.5 222.8h0M590.6 220h0M797.1 306.4h0M1005 678.6h0M680 230.7h0M1045.9 732.2h0M997.1 677.4h0M631.1 651.3h0M671.6 171.1h0M510 406.6h0M724.9 137.9h0M729 236.6h0M484.2 508.2h0M638.4 685.6h0M1019.8 677.8h0M674.6 150.4h0M811.8 285.6h0M1015.8 636.2h0M745.2 175.7h0M704.9 137h0M1037.4 670.8h0M805.2 288.4h0M949.2 358.4h0M977.2 720h0M827.9 297.6h0M999.7 686.3h0M1013.2 649.7h0M585.1 240.1h0M825.9 227.1h0M940 753.9h0M737.5 150.4h0M1060.8 679.9h0M997.7 663.7h0M723.5 146h0M645.9 665.8h0M927.9 712.9h0M752.7 219.4h0M926.6 724.7h0M800.6 271h0M713.3 118.4h0M791.4 228.8h0M994.9 711.3h0M977.3 681.8h0M721.8 183.1h0M696 162.3h0M1033.3 743.6h0M757.8 229.9h0M952.9 361.2h0M786.8 232.1h0M799.4 274.4h0M797.4 284.7h0M714.8 448h0M712.6 159h0M642 667.9h0M791.3 315.5h0M730.1 147.9h0M979.6 660.2h0M1058.3 664.5h0M688.8 247.5h0M979.2 752.3h0M1047.1 696.7h0M828.4 301.8h0M788.2 314.1h0M681.1 125h0M975.2 760.7h0M948.8 764.8h0M697.1 118.5h0M797.1 243.2h0M637.5 656.1h0M969.4 691.1h0M958.2 700.2h0M671.4 132.9h0M634 657.2h0M1014.5 623.3h0M784.3 263.2h0M1034.4 668.2h0M694.5 163.9h0M1002 621.8h0M1007.1 659.2h0"/>
<path class="d" stroke="#8359F2" stroke-width="5.6" d="M992.7 761h0M970.7 716.5h0M680.1 239h0M972.3 778.3h0M739.9 152.2h0M694.8 160.4h0M670.8 235.9h0M1033.6 724.4h0M784.9 265.1h0M742.7 165.4h0M981.9 735.8h0M961.9 373.7h0M672.2 135.1h0M708.5 155.5h0M1040.5 633.6h0M1021.2 662.1h0M977.4 693.7h0M789.6 293.9h0M994.3 658.8h0M777 279.4h0M685.4 119.3h0M692.3 133.6h0M968 741.2h0M716.5 143.6h0M991.5 712.2h0M661.2 253.5h0M729.1 152.3h0M717.4 122h0M1002 655.1h0M723 130.7h0M976.5 673.9h0M726.1 138.7h0M674.3 136.2h0M976 758.1h0M722.3 149.4h0M1040.9 671.6h0M1058.1 670.8h0M971.5 639.2h0M997.6 745.4h0M742.2 175.9h0M978.8 709.6h0M780.5 310.6h0M686.6 147.8h0M687.3 146.1h0M811.3 273.4h0M955.3 721h0M1018.8 671.6h0M1002.7 699.3h0M784 208.1h0M672 179h0M976.8 748.1h0M671.2 122.5h0M881.6 374.3h0M943.1 754.8h0M1008 635.4h0M723.8 161.8h0M716.9 137.9h0M998.2 673.6h0M785.3 292.4h0M724.7 180.2h0M803.4 245.3h0M958.2 370.9h0M1037.6 707.8h0M1020.2 690h0M1021.6 695.9h0M732.5 147.2h0M1031.7 724h0M739.5 195.2h0M797.8 277.1h0M1008.1 764.2h0M956.6 367.4h0M728.1 166.1h0M942.8 705.4h0M706.7 178.7h0M1026.9 633.1h0M973.4 732.7h0M704.3 180.5h0M966.3 647.2h0M790.7 299.6h0M1012.9 637.6h0M792.5 288.7h0M927.1 696.2h0M739.8 200.6h0M722.9 160.1h0M707.9 187.1h0M933.6 781.7h0M681.5 194.3h0M938.9 365.7h0M700.2 117.6h0M720.8 175.5h0M711 135.8h0M1017.9 770.9h0M703.6 138.8h0M1026.3 724h0M701.8 191.3h0M681.3 208.9h0M1015.8 619.5h0M764.7 202.2h0M935.2 770.7h0M710 121.2h0M1007.7 693.6h0M745.9 206.4h0M751.5 202h0M704.3 137.9h0M738.5 140.1h0M718.2 160.7h0M696 248.3h0M777 291.3h0M734.5 162.1h0M793.7 298.4h0M764 218.7h0M752.4 186.9h0M799.8 317.7h0M1021.3 629.3h0M969 667.5h0M1009.4 743.8h0M672.1 131.1h0M975 782.2h0M1017.1 649.5h0M725.7 192.8h0M691.1 139.4h0M667.7 164.7h0M690.2 151.7h0M977 705.5h0M735.6 172.5h0M934.8 771h0M958.8 662.7h0M689.8 130.7h0M981.4 686.4h0M937.2 672.2h0M673.2 188.6h0M942.2 691.1h0M665.3 153.8h0M726.4 130.9h0M978.3 706.3h0M1055.7 664.5h0M1030.2 632.8h0M669.4 232.6h0M730.4 181.6h0M790.3 252.5h0M970.1 367.8h0M1044.6 722.1h0M661.7 253.9h0M506.5 394.4h0M936.3 689.3h0M659.1 125.5h0M682.3 134h0M735.2 148.2h0M966.9 638.5h0M793.8 223.5h0M669 132.5h0M685.6 124.6h0M728.4 190.4h0M668.8 234.3h0M1054.6 704.1h0M952.5 714.1h0M1043.4 670.7h0M683.4 151.4h0M721.1 189.7h0M681.8 149.7h0M1007.4 640.5h0M804.6 288.2h0M677.8 112.7h0M980.1 745.2h0M934.1 694.6h0M786.8 306.2h0M506.5 508.8h0M971.4 726.6h0M964.8 780h0M945.5 675.5h0M702.9 190.8h0M832.2 277.2h0M673.5 202h0M995.3 707.2h0M680.2 116.6h0M956.1 667.3h0M793.7 231.4h0M687 166.8h0M937.1 360.8h0M977.4 658.4h0M792.4 287h0M680.7 124.2h0M786 227.4h0M807.7 290.3h0M577.3 244.5h0M607.6 400.2h0M792.3 314.1h0M1061.1 690.7h0M1042.6 684.9h0M947.1 673.2h0M936.8 371.6h0M932.1 680.2h0M939.5 372.7h0M737.4 145.5h0M737 146.1h0M995.7 755.9h0M673.7 230.3h0M942.1 757.1h0M806.1 303.9h0M832.9 292.4h0M1030.4 683.5h0M786.1 222.7h0M1012.6 713h0M780.4 271.3h0M725.2 165.4h0M707.5 132.2h0M700 174.9h0M935.1 691.7h0M716.5 185.3h0M707.3 167.3h0M955.8 749.8h0M801.9 278.9h0M1053.1 645.9h0M995.7 641.6h0M390.6 383.5h0M697 175.4h0M721.9 133.1h0M1022.5 651.4h0M737 175.3h0M731.1 174.4h0M711.3 182.6h0M1058.8 708.5h0M1051.1 651.7h0M808.5 281.1h0M937 368.3h0M996.6 742.9h0M752.9 246.4h0M780.5 291.5h0M1024.4 750.3h0M970.4 724.3h0M1047.2 638.5h0M669.2 157.2h0M954.4 648.2h0M997.5 712.7h0M840.3 294.3h0M738 166.2h0M1013.5 651.6h0M675.3 176.7h0M671.2 164.8h0M861.2 360.6h0M935.4 763.7h0M1058.2 664.4h0M940.2 669.6h0M956.1 774.6h0M663.7 148.3h0M951.2 707.5h0M811.4 219.3h0M734.2 128.8h0M683.4 185.5h0M747.8 209.4h0M948 713.4h0M1014.3 764.3h0M733.6 153.1h0M1025.5 766.2h0M968.8 711.5h0M658.6 139.5h0M941.5 772.7h0M692.7 166.5h0M1028.8 666.9h0M1042 711.5h0M1005.5 708.6h0M933.7 749.2h0M709.5 178.6h0M698.6 171.3h0M704.1 178h0M479.3 351.8h0M735.3 187.1h0M729.6 140.3h0M702.4 144.3h0M674.8 120.5h0M717 186.5h0M940.2 699.9h0M678 253.4h0M704.4 163.7h0M697 189.5h0M680.4 177.5h0M993.5 745.3h0M447.9 391.3h0M1023.2 649.3h0M1004.7 724.8h0M739.7 144.9h0M948.7 689h0M985.4 738.1h0M764.5 254h0M831.5 283.9h0M768.5 206.6h0M952.6 768.7h0M1010.2 695.9h0M745.3 236.3h0M690.6 173.3h0M948.3 752.3h0M738.2 157.4h0M951.9 671.1h0M663.6 130.9h0M778.5 280h0M677.5 167.7h0M1061.4 688.8h0M672.9 232.5h0M745.9 158.4h0M1034.4 679.6h0M706.4 189.7h0M998.2 662.5h0M819.3 215.8h0M991.7 645.4h0M949.9 673.4h0M1046.8 656.5h0M720.8 128.4h0M966.1 752.5h0M1007.8 694.1h0M714.7 168.8h0M929.8 694h0M713.7 164.9h0M939.6 689.1h0M1000.5 769.2h0M769.6 219.1h0M671.4 177h0M820.8 279.2h0M704.2 192.1h0M725.7 147.7h0M781.1 303.8h0M949.9 697h0M980.5 683.2h0M990.5 739.4h0M730.9 145.6h0M683.3 124.2h0M781.1 269.1h0M715.5 149h0M715.2 143.8h0M669.1 160.9h0M425.7 399.3h0M975.1 763.5h0M661.2 138.6h0M727.7 182.8h0M936 681.5h0M736.9 144.6h0M938.2 366.8h0M1031.9 642.1h0M959.4 675.2h0M679.8 215.6h0M982.2 639.4h0M691 153h0M696.4 124.2h0M965.1 654.6h0M683.8 161.5h0M1021.5 663.1h0M955.7 658.7h0M700.4 145.4h0M695.9 155.9h0M976.9 746h0M818.3 278.6h0M725.2 172.4h0M1022.6 724.2h0M684.1 160.2h0M1037.7 710.8h0M1011.8 724.6h0M1049.5 637.8h0M700.6 145h0M713.7 189.3h0M1022.6 738.6h0M669.7 226.2h0M705.3 139.3h0M682.6 155.9h0M1051.2 720.2h0M997.3 751.3h0M787 291.5h0M748.4 212h0M738.3 149.1h0M670.1 223.2h0M743.6 150.2h0M738.7 189.6h0M1025.6 682.7h0M718.9 126.2h0M1036.4 741.2h0M774.9 270.7h0M1000.7 753.6h0M683 139.8h0M686.8 152.7h0M734.4 171.9h0M680.7 168.2h0M708.4 181h0M954.9 372.1h0M718.2 194.6h0M676.2 221h0M396.9 393.3h0M706.8 147.4h0M725.8 185.1h0M812.9 242.3h0M782.4 298.8h0M1048.1 640.6h0M1000.7 662.8h0M715.8 179.9h0M723.9 141.8h0M724.1 136.9h0M725.7 122.7h0M672.3 131.3h0M707.5 120.4h0M688.5 247.3h0M604 646h0M932.4 719.7h0M1001.4 743h0M1060.5 688.1h0M677.4 159.9h0M992.7 626.1h0M1013 712.6h0M692.2 121.7h0M963.5 369.2h0M976.2 706.4h0M820.8 278.2h0M673.5 240.1h0M1022.5 750.4h0M664.5 153.3h0M708.7 140h0M741.7 145.4h0M723.2 165.8h0M1035 755.7h0M1000.2 750.6h0M694.4 188.9h0M981.9 750.8h0M720 220.3h0M801.7 242.2h0M662.7 125.2h0M1000.8 769h0M798.6 237.1h0M934 703.6h0M996.7 716.1h0M988.8 668.3h0M688.1 175.3h0M652.3 244.7h0M714.7 121.3h0M722.2 165.6h0M788 286.9h0M835.6 274.8h0M733.6 178.2h0M780.4 281.6h0M818.2 293.9h0M1046.4 684.5h0M719.8 177.1h0M659.5 119.4h0M1039.2 675.4h0M982.1 752.5h0M660.8 162.1h0M680.9 170.1h0M938.6 375h0M974.1 703.1h0M673.6 136.2h0M940.4 733.9h0M782.4 270.8h0M710.5 136.6h0M682.1 175h0M722.7 190.2h0M977.9 632.5h0M703 181h0M982.9 733.9h0M1010.7 734.6h0M678.6 214h0M788.1 275.2h0M954.6 776.8h0M1021.8 745.3h0M723.8 182.1h0M566.3 221.1h0M947 662.8h0M963.7 771h0M804.9 277.3h0M702.5 158.9h0M807.2 267.9h0M942.6 678.4h0M974.8 628.7h0M700.7 170h0M690 160.2h0M708.5 149.6h0M667.5 232.3h0M942.7 753.3h0M671.7 120.7h0M1039.1 632.6h0M1022.7 629.8h0M738.7 134.7h0M1045.7 727.4h0M1028.4 758h0M979.6 766.9h0M706.4 186.8h0M1011.3 688h0M787.4 289.3h0M808.8 218.5h0M664.3 150.2h0M663.3 162.1h0M961.2 632.4h0M973.9 706.2h0M833.5 293.8h0M953.5 695.8h0M753.7 233.5h0M980.4 659.4h0M698.9 167.5h0M667.1 116.4h0M670.4 158h0M795.9 299h0M671.4 250.6h0M686.6 176.1h0M834 274h0M767.9 275.2h0M976.4 723h0M826 300.6h0M722.6 151.4h0M1044.3 651.4h0M976.8 664.2h0M789.6 317.5h0M1005.4 726.6h0M736.5 241.5h0M736.6 161.8h0M681 147.8h0M662.5 121.9h0M1035.4 753.6h0M779.1 277.6h0M968 681.4h0M998.1 637.1h0M963.5 722.5h0M697.1 162.8h0M701.4 166.7h0M736.4 177.9h0M664.1 123.3h0M1019.2 682.6h0M665.3 134.8h0M954 681.8h0M729.2 131.5h0M965.9 702.9h0M688 186.6h0M1013 668.4h0M667.9 119.8h0M978.2 704.3h0M684.7 177.4h0M683.2 114.1h0M1034.5 711.2h0M661.4 125.4h0M689.3 182.2h0M961.3 720.1h0M950.4 781.6h0M722.9 177.5h0M780.6 291.3h0M679.3 201.9h0M709.5 184.2h0M1016.9 727.7h0M972.6 761.3h0M835.6 279.8h0M829.7 274.5h0M709.2 129.6h0M669.7 226.2h0M558.5 230.3h0M704.4 230h0M929.6 763h0M731.1 163.4h0M723.6 122.4h0M945.8 667.2h0M675.4 148.6h0M704.3 169.5h0M729.7 144.7h0M533.6 453.3h0M689.1 138.4h0M719.9 151.9h0M1056.5 709.7h0M944.8 692.3h0M539.2 239.5h0M691.3 255.4h0M675.1 131.1h0M1011.9 651.8h0M958.9 782.2h0M380.3 400.9h0M1012.4 717.7h0M600.8 403.7h0M1039.6 734h0M931.4 704.5h0M1007.9 700.3h0M662.3 248.2h0M677.3 232h0M583.7 233.4h0M666.3 131h0M734.2 192.4h0M795.6 268h0M782.2 299.2h0M1012.1 656.6h0M934.7 763.4h0M990.5 695.7h0M947.2 379.6h0M1014.5 718.2h0M952 757.3h0M525.4 430.5h0M1020.7 744.2h0M773.2 297.4h0M1012.6 676h0M789.2 245.6h0M974.7 679h0M741.1 147.4h0M741.1 142.8h0M930 741.6h0M930.1 726.1h0M1044.9 684.9h0M889 426.3h0M1028.6 677.6h0M692.1 133.2h0M989.6 682.9h0M691.5 138.3h0M995.1 721.2h0M774.1 292.2h0M995.3 697h0M702 133.1h0M673.7 123.1h0M924.4 719.8h0M712 130.3h0M815.4 291.4h0M1000.5 741.2h0M726.6 188.3h0M997.8 712.2h0M661.3 142.3h0M672.7 202.4h0M958.4 724.7h0M667.4 162.7h0M1059.1 697.2h0M799 211.8h0M666.9 124.9h0M674.1 130.7h0M694 154.6h0M822.5 267.5h0M743.2 187.5h0M1039.5 672.2h0M683 153.5h0M959.5 739.1h0M991 681.8h0M953.7 735.3h0M738.6 189.7h0M660.8 117.3h0M683.1 133.6h0M934.1 748.7h0M1042.2 666.7h0M1023.1 672.3h0M990.3 732.3h0M660.6 117.9h0M999.9 741.3h0M671.2 146.3h0M739.5 179.6h0M581.8 236.8h0M715.2 169.2h0M675.2 140.5h0M652.1 243.9h0M755.6 214.6h0M715.2 175.8h0M684.7 175.5h0M790.7 268.3h0M999 753.2h0M662.6 245.8h0M1052.7 643.1h0M831.6 291h0M610.5 408.5h0M1061.7 693.2h0M682.6 178.1h0M725.2 140.3h0M681.5 152.7h0M693.7 170.5h0M772 301.7h0M1020.9 719.4h0M948.5 767.6h0M550.2 241.1h0M1001.1 759.8h0M702.7 121.9h0M544.6 239.8h0M696.6 128.9h0M719.4 144.8h0M831.5 273.1h0M708.8 123.6h0M785 312.3h0M875 368.1h0M978.6 773h0M962.3 722.9h0M951.1 361.5h0M1028.4 762.6h0M805.2 231.8h0M671.8 170.3h0M727.6 165.2h0M688.3 246h0M391.9 420.4h0M681 142.9h0M686.7 176.5h0M728.4 153.6h0M725.6 168.5h0M708.7 147.3h0M742.8 165.3h0M700 171.3h0M668.5 129.8h0M736.8 202.4h0M745.3 163.3h0M683.9 146.7h0M784.6 302.8h0M701.3 120.9h0M723.8 172.9h0M665.1 255.9h0M942.3 766.1h0M680.1 186.2h0M785.2 237.2h0M968.3 715.8h0M685.4 122.3h0M1015.9 680.2h0M681 131.6h0M796.6 280h0M985 733.5h0M809 286.5h0M1013.3 702.6h0M740.3 187.9h0M685 185.4h0M735.5 180.7h0M1055.2 664.1h0M795.5 217.6h0M653.2 252.7h0M798.8 290.2h0M553.4 245.5h0M1010.8 655h0M786 220.3h0M713.2 146.1h0M684.2 185.6h0M1034.8 627h0M695.3 151.5h0M687.6 149.8h0M995.6 714.3h0M759.8 245.6h0M1061.8 655.5h0M936.1 764h0M987.9 744h0M744.7 169.8h0M993.2 624h0M1061.4 695.8h0M1037.4 737.2h0"/>
<path class="d" stroke="#764CF5" stroke-width="5.6" d="M673.1 119h0M772.5 293.1h0M956.2 706.8h0M989.7 736.4h0M696.4 123.8h0M690.4 189.1h0M938.5 371.1h0M681 168.9h0M740.7 187h0M953 763.1h0M1005.9 619.1h0M613.6 778h0M1008.9 637.6h0M745.2 168.7h0M706.3 180.5h0M993.4 692.3h0M726.8 166.5h0M732.7 157.9h0M958 655h0M981.8 776.8h0M1029.5 691.4h0M958.1 727.4h0M950.7 755.6h0M711.4 187.4h0M714 174.4h0M987 636.1h0M661.2 251.6h0M936.8 744.8h0M927.9 685.1h0M723.4 174.2h0M1004.6 737h0M807 232.3h0M719.8 160.3h0M727.1 173.8h0M666.1 121.7h0M737.6 135.3h0M1062.7 696.8h0M688.8 139.4h0M545.7 223h0M725.7 129.5h0M712.4 129.3h0M695.8 189.7h0M1003.8 704.1h0M1008.7 702.5h0M740.1 167.8h0M672.9 179.7h0M720.9 157.2h0M696.3 124.2h0M537.8 238.7h0M950.3 739.1h0M672.7 167.2h0M507.1 512h0M989.6 716.6h0M1006.3 709h0M971.3 658.2h0M1032 750.9h0M702.2 179h0M669.8 149.7h0M781 240.9h0M724.2 132.4h0M933.9 728.3h0M950.5 760.6h0M700.7 130.6h0M694.8 190.9h0M719.8 134.7h0M733.9 179.8h0M657.5 148.9h0M677 171.6h0M810.2 285.3h0M714.3 160.7h0M1038.6 700h0M812.6 280.1h0M1003.8 761h0M701.7 146.9h0M798.3 210h0M785.4 306.7h0M991.3 757.4h0M931.4 763.3h0M979.9 657.7h0M722 170.1h0M1060.9 650.2h0M666.4 254.7h0M793.7 304.6h0M698.4 149.7h0M695.5 122.3h0M958.3 768.4h0M751.3 788.5h0M942.5 783.3h0M1014.8 660h0M659.2 123.6h0M1015.9 748.5h0M699.6 163.7h0M965.6 721.5h0M973 719.2h0M963.5 678h0M785.6 313.1h0M784.5 286.8h0M694.6 122.5h0M684.6 152.5h0M825.2 289.2h0M673.9 171.3h0M730.2 175.9h0M972.1 688.5h0M496.2 568.6h0M687 115.3h0M666 168.6h0M818 269.6h0M1000.2 737.8h0M1009.2 744.7h0M959.9 723.1h0M1065.1 681.6h0M829.4 287.6h0M690.6 119.4h0M1017.8 658.6h0M1038.7 678.1h0M717.2 128.1h0M712.3 161.3h0M987.8 738.3h0M673.6 155.6h0M718.6 122.1h0M943.8 778.5h0M701.5 185h0M667.6 139.1h0M772.3 296.5h0M676.4 179.4h0M774.7 298.2h0M740.3 186.5h0M1058 659.8h0M974.2 706.2h0M966.6 715h0M517.3 1014.1h0M696.2 173.5h0M716.5 127.9h0M728.3 160.8h0M738.6 162.8h0M1044.3 718h0M665.8 237.5h0M699.4 172h0M950.7 751.1h0M679.3 116.9h0M653.2 239.4h0M1016 675.9h0M678.7 117.5h0M702.6 135.2h0M675.2 156.5h0M795.9 234h0M659.1 123.1h0M661.5 161.7h0M1047.2 670.2h0M951.5 750.7h0M680.3 147.2h0M687.7 163.6h0M707.7 147.1h0M740.5 147.5h0M773.5 235.6h0M947.4 769.3h0M590.4 542.5h0M783.5 282.5h0M722 134.2h0M796.2 299.9h0M664.8 124.7h0M698 172.7h0M610.5 385.9h0M944.2 359.7h0M699.6 150.4h0M703.6 167.1h0M679.3 126.3h0M700.3 176.7h0M690.8 125.2h0M777 298.8h0M693.7 136.4h0M938.2 678.4h0M681.9 180.5h0M707.8 140.5h0M685.5 130h0M699.2 127.2h0M998.9 673.2h0M1038.5 738.3h0M710.2 123.9h0M665.8 161.6h0M974.7 781.8h0M1029.5 719.7h0M983 757.1h0M779.5 308.8h0M1026.5 670.2h0M682.4 244.1h0M687.1 142h0M607.5 393.3h0M694.8 179.2h0M726.2 163.5h0M776.2 298.4h0M990.6 731.2h0M681.8 180.4h0M1046.5 728.7h0M961.5 637.2h0M942.7 364.4h0M831.9 300.4h0M714.8 229.4h0M771.4 271.3h0M698.9 147.3h0M1055.2 708.4h0M999.1 735.3h0M982 657.1h0M1007.9 661.4h0M684.1 251.8h0M1046.9 712.5h0M664.2 118.7h0M1021.8 679.2h0M710.5 139.8h0M1045.5 715.3h0M775 294.2h0M807.8 287.5h0M1000.2 704.9h0M1053.7 666.2h0M691.7 180.2h0M694.6 115.7h0M685.7 117h0M969.5 773h0M719.1 132.7h0M783.9 272.3h0M741.3 154.5h0M948.5 732.8h0M942.9 686.5h0M813.5 294.3h0M700 145.2h0M674 136.6h0M1000.1 628.8h0M836.3 280.3h0M786 275.4h0M1015.1 626.3h0M1025.5 694.6h0M941.3 758.6h0M540.1 252.8h0M794.8 233h0M715.6 171.7h0M670.5 128.8h0M720.7 184.9h0M967.8 680.5h0M803.6 272.3h0M729.6 188.8h0M660.6 138.9h0M679.6 154.9h0M778.5 207.1h0M963.9 685.8h0M738.6 158.1h0M661.3 138.8h0M660.8 144.3h0M975 658.5h0M1053.3 676.3h0M840.1 290.7h0M706.4 160.6h0M973.2 767.8h0M784.4 285.7h0M722.3 123.7h0M961.2 634.6h0M987.5 666.6h0M914.1 372.7h0M670.6 126.2h0M687 154h0M771.5 276.5h0M736.4 179.9h0M740.9 147.9h0M950 754.4h0M1016.4 689.2h0M576.9 235.1h0M1041 679.3h0M712.6 133.3h0M1022.9 748.9h0M693.9 154.4h0M697.6 186.6h0M694.5 113.4h0M794.4 311.9h0M1047.1 692.2h0M814.6 291.7h0M705.3 188h0M696.9 171.9h0M1037.7 661.5h0M684.1 141.5h0M719.7 150.1h0M801 288.8h0M997.7 660.8h0M1044.6 685h0M988.6 766.3h0M729.7 146.1h0M978.5 746.8h0M1047.6 713.5h0M683.1 166.8h0M967.1 691.4h0M693.5 153.1h0M707.3 149.9h0M1023.9 645.7h0M992.8 737.5h0M775.4 206.6h0M672.6 188.7h0M807.9 285.5h0M663.3 164.6h0M670 163.6h0M726.8 136.4h0M782.6 222.4h0M962.7 740.5h0M669.5 147.5h0M707.2 160h0M934.2 739.3h0M768.8 278.3h0M945.7 749.5h0M1020.9 733.7h0M725.2 164.7h0M972.4 779.4h0M685.2 143.1h0M1002.2 774.5h0M712.1 125.4h0M795.8 281.5h0M789 235.2h0M1017.9 713.4h0M724.5 145.4h0M967 362.8h0M724.8 157.9h0M736.1 162h0M746.7 179.7h0M718.1 131.7h0M726.2 140.6h0M1002.8 714.2h0M804.8 304.3h0M1052.4 694h0M713.8 141h0M710.7 150.1h0M703.6 118.5h0M951.4 757.4h0M660 154.6h0M728.1 136.1h0M682.6 142.2h0M687.1 189.5h0M933.2 747.2h0M961.2 645.7h0M706.7 146.1h0M713.8 168.9h0M822.5 288.6h0M722.5 147.8h0M800.3 295.1h0M749.9 229.4h0M784.7 297.7h0"/>
<path class="d" stroke="#673EF8" stroke-width="5.6" d="M708.9 143.1h0M682.5 176.6h0M966.9 677.3h0M692.2 145h0M739.6 188.1h0M721.9 162.4h0M667.6 115.6h0M718 181.2h0M966.3 655.8h0M664.4 115.9h0M786.7 276.9h0M717.4 124.6h0M684.1 166.4h0M681.7 132.8h0M999.4 706h0M710.6 185.2h0M745.4 217.6h0M944.3 693.3h0M698.4 142.4h0M700.6 153.7h0M731.9 160.3h0M730.3 163h0M1032.3 650.7h0M724.1 160.5h0M886.5 374.3h0M739.2 174.7h0M684.1 162.2h0M683.3 135.3h0M660.9 149.5h0M727.6 137.6h0M985.2 763.3h0M1028.5 744.4h0M710.5 183.8h0M729.4 148.6h0M734.4 167.5h0M728.7 143.5h0M729.5 151h0M695.8 135.5h0M560.6 243.4h0M703.8 128.9h0M744.1 154.7h0M982 753.7h0M664.9 171.6h0M705.5 159.8h0M704.5 153.4h0M931.8 745.2h0M665.4 151.1h0M772.5 298.7h0M677.5 221.9h0M737.1 188h0M675.9 177.6h0M710.8 175.8h0M683.9 146h0M713.3 187.9h0M708.3 153.4h0M745.5 180.1h0M664.3 157.4h0M791 213.3h0M724.3 143h0M715 192.3h0M664.5 141h0M661.1 116.5h0M689.4 149.2h0M714.6 182.5h0M677.6 175.8h0M669 170.3h0M694.3 153.1h0M695.4 173.9h0M689.3 160.6h0M1031.9 667.7h0M720.9 173.2h0M740.8 148.4h0M1008.8 624.8h0M968.1 739.4h0M743.5 185.9h0M966.2 647.9h0M740.2 158h0M721.3 149.3h0M1024.2 730.1h0M691.1 128.7h0M744.7 178.8h0M826.1 300.3h0M716 186.9h0M1022.6 760.3h0M717.7 159.6h0M694.9 149.8h0M729.8 169.5h0M1053 639.6h0M672.6 124h0M670.4 177.2h0M669.4 118.1h0M1041.3 675.5h0M698.3 151.1h0M957.7 680h0M668.6 142.3h0M719.1 166.9h0M679.7 138.3h0M977.4 683.6h0M794.8 268.7h0M675.2 126.4h0M974.5 733.8h0M676.3 155.1h0M1035.1 710.7h0M665.1 161.8h0M689.3 113.1h0M732.9 157.6h0M930.7 729.6h0M1005 723h0M707.5 126.2h0"/>
<path class="d" stroke="#552FFA" stroke-width="5.6" d="M1011.5 631.2h0M702.7 125.9h0M717.4 130.2h0M1051.3 669.5h0M691.4 118.8h0M692.3 162.4h0M690.5 177.3h0M682.6 139.4h0M714 139.8h0M687.3 183.1h0M662.9 142.1h0M1023.3 685.5h0M727.4 133.9h0M1039.2 708.5h0M710.3 126.5h0M699.1 114.6h0M960.9 375.9h0M664.1 137.8h0M740.2 154h0M970.2 657h0M706 157.1h0M726.2 162.2h0M952.5 721.3h0M714.9 192.3h0M701.5 177h0M708.6 174.7h0M709.3 190.1h0M747.9 174.9h0M705.6 161.7h0M664.1 168.2h0M672.6 166.3h0M721.8 159.8h0M706.8 139.8h0M741.3 170.3h0M988.7 744h0M774.5 212.4h0M705.3 151.3h0M942.7 746.9h0M833.6 298.8h0M728.8 163.8h0M676.3 170.2h0M984.8 652.8h0M738.3 177.2h0M710.1 134.4h0M672.8 140h0M1058.8 652.2h0M732.3 173.4h0M720.5 158.8h0"/>
<path class="d" stroke="#3C1DFD" stroke-width="5.6" d="M724.7 160.6h0M721.2 166h0M735.7 161.2h0M686 137.4h0M709.7 127.4h0M725 154.3h0"/>
<path class="d" stroke="#0000FF" stroke-width="5.6" d="M682 172.1h0"/>
<path d="M95.5 50.8V1119.5H1117.8" fill="none" stroke="#000" stroke-width="3" stroke-linecap="butt" stroke-linejoin="miter"/>
<text transform="translate(141.86 1147.90) scale(0.92 1)" font-size="31.5" text-anchor="middle">-15</text>
<text transform="translate(307.54 1147.90) scale(0.92 1)" font-size="31.5" text-anchor="middle">-10</text>
<text transform="translate(473.22 1147.90) scale(0.92 1)" font-size="31.5" text-anchor="middle">-5</text>
<text transform="translate(638.90 1147.90) scale(0.92 1)" font-size="31.5" text-anchor="middle">0</text>
<text transform="translate(804.58 1147.90) scale(0.92 1)" font-size="31.5" text-anchor="middle">5</text>
<text transform="translate(970.26 1147.90) scale(0.92 1)" font-size="31.5" text-anchor="middle">10</text>
<text transform="translate(87.40 287.60) scale(0.92 1)" font-size="31.5" text-anchor="end">10</text>
<text transform="translate(87.40 581.75) scale(0.92 1)" font-size="31.5" text-anchor="end">0</text>
<text transform="translate(87.40 875.90) scale(0.92 1)" font-size="31.5" text-anchor="end">-10</text>
<path d="M141.86 1121V1124.4 M307.54 1121V1124.4 M473.22 1121V1124.4 M638.90 1121V1124.4 M804.58 1121V1124.4 M970.26 1121V1124.4 M94 277.10H90.6 M94 571.25H90.6 M94 865.40H90.6" stroke="#000" stroke-width="3" fill="none"/>
<text transform="translate(604.00 1180.50) scale(1.0 1)" font-size="30" text-anchor="middle">umapNC_1</text>
<text transform="translate(34.20 585.40) rotate(-90) scale(1.0 1)" font-size="30" text-anchor="middle">umapNC_2</text>
<text transform="translate(606.00 37.00) scale(1.0 1)" font-size="35" text-anchor="middle" font-weight="bold">Gm11808</text>
<rect x="1130" y="547.8" width="15.7" height="76.2" fill="url(#cb)"/>
<text transform="translate(1153.80 634.30) scale(0.94 1)" font-size="26.5" text-anchor="start">0.0</text>
<text transform="translate(1153.80 617.50) scale(0.94 1)" font-size="26.5" text-anchor="start">0.5</text>
<text transform="translate(1153.80 600.70) scale(0.94 1)" font-size="26.5" text-anchor="start">1.0</text>
<text transform="translate(1153.80 583.90) scale(0.94 1)" font-size="26.5" text-anchor="start">1.5</text>
<text transform="translate(1153.80 567.10) scale(0.94 1)" font-size="26.5" text-anchor="start">2.0</text>
<path d="M1130 607.20h3.4M1142.3 607.20h3.4M1130 590.40h3.4M1142.3 590.40h3.4M1130 573.60h3.4M1142.3 573.60h3.4M1130 556.80h3.4M1142.3 556.80h3.4" stroke="#fff" stroke-width="1" fill="none" opacity="0.8"/>
</svg></body></html>
